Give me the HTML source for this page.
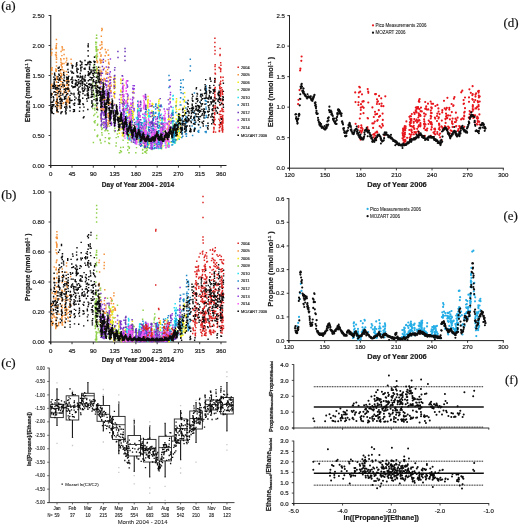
<!DOCTYPE html>
<html lang="en">
<head>
<meta charset="utf-8">
<title>Ethane and propane: measurements versus MOZART model</title>
<style>
html,body{margin:0;padding:0;background:#fff;}
body{width:520px;height:528px;overflow:hidden;}
svg{display:block;}
svg text{white-space:pre;}
</style>
</head>
<body>
<svg width="520" height="528" viewBox="0 0 520 528">
<rect width="520" height="528" fill="#ffffff"/>
<defs>
<filter id="soft" x="0" y="0" width="520" height="528" filterUnits="userSpaceOnUse"><feGaussianBlur stdDeviation="0.27"/></filter>
<filter id="softer" x="0" y="0" width="520" height="528" filterUnits="userSpaceOnUse"><feGaussianBlur stdDeviation="0.2"/></filter>
</defs>
<g filter="url(#soft)">
<line x1="50.75" y1="15.00" x2="50.75" y2="167.70" stroke="#222" stroke-width="1.1" />
<line x1="48.75" y1="165.50" x2="226.50" y2="165.50" stroke="#222" stroke-width="1.1" />
<line x1="48.55" y1="165.50" x2="50.75" y2="165.50" stroke="#222" stroke-width="0.9" />
<line x1="48.55" y1="135.50" x2="50.75" y2="135.50" stroke="#222" stroke-width="0.9" />
<line x1="48.55" y1="105.50" x2="50.75" y2="105.50" stroke="#222" stroke-width="0.9" />
<line x1="48.55" y1="75.50" x2="50.75" y2="75.50" stroke="#222" stroke-width="0.9" />
<line x1="48.55" y1="45.50" x2="50.75" y2="45.50" stroke="#222" stroke-width="0.9" />
<line x1="48.55" y1="15.50" x2="50.75" y2="15.50" stroke="#222" stroke-width="0.9" />
<line x1="50.75" y1="165.50" x2="50.75" y2="167.70" stroke="#222" stroke-width="0.9" />
<line x1="72.03" y1="165.50" x2="72.03" y2="167.70" stroke="#222" stroke-width="0.9" />
<line x1="93.31" y1="165.50" x2="93.31" y2="167.70" stroke="#222" stroke-width="0.9" />
<line x1="114.59" y1="165.50" x2="114.59" y2="167.70" stroke="#222" stroke-width="0.9" />
<line x1="135.88" y1="165.50" x2="135.88" y2="167.70" stroke="#222" stroke-width="0.9" />
<line x1="157.16" y1="165.50" x2="157.16" y2="167.70" stroke="#222" stroke-width="0.9" />
<line x1="178.44" y1="165.50" x2="178.44" y2="167.70" stroke="#222" stroke-width="0.9" />
<line x1="199.72" y1="165.50" x2="199.72" y2="167.70" stroke="#222" stroke-width="0.9" />
<line x1="221.00" y1="165.50" x2="221.00" y2="167.70" stroke="#222" stroke-width="0.9" />
<path d="M52.2 93.8h.01M61 60h.01M62.5 63.6h.01M57.9 90.2h.01M60.6 93.4h.01M60.7 75.8h.01M64.1 91.3h.01M51.7 68.9h.01M62 78.7h.01M51.4 85.4h.01M56 48.5h.01M56.4 79.1h.01M57.2 98h.01M63.3 84.5h.01M61.9 69.5h.01M61.1 77.7h.01M60.6 73.3h.01M67.2 101.8h.01M56.6 59.1h.01M66.9 102.4h.01M67.1 84.5h.01M68.2 82h.01M67.3 93.8h.01M56.5 65.9h.01M63.7 102.6h.01M64 71.3h.01M57.1 86.9h.01M68.2 91.3h.01M56 47.5h.01M63.6 73.6h.01M60.7 58.6h.01M68.3 91.6h.01M52 73.7h.01M62.4 49.9h.01M68.6 96.6h.01M56.9 77.4h.01M56.9 94.7h.01M51.6 53.2h.01M68.8 81h.01M67.4 85h.01M51.9 84.3h.01M59.9 85.1h.01M57.1 78.2h.01M68.2 101.1h.01M63.5 84.2h.01M60.2 70.3h.01M57.4 92.6h.01M57.1 97.5h.01M60.4 103.4h.01M68.5 89.2h.01M61.5 74h.01M66.6 102.2h.01M66.9 100.3h.01M56.5 81.7h.01M56.4 59.3h.01M61.1 84.3h.01M61.8 86.2h.01M66 62.1h.01M52 67.6h.01M61.2 64.7h.01M57.4 103.2h.01M63.8 92.9h.01M60.1 97h.01M56.3 71.3h.01M57 99.6h.01M56.6 69.6h.01M57.3 85.6h.01M66.7 64.1h.01M60.2 77.5h.01M51.5 88.1h.01M59.9 94.2h.01M60.3 108.5h.01M62.3 63.5h.01M63 103.5h.01M60.5 103.2h.01M57.6 79.3h.01M67.6 99.2h.01M56.4 55.2h.01M62.1 67.4h.01M66.5 88.9h.01M69.4 102h.01M56.9 85.1h.01M56.4 82.2h.01M55.8 103.3h.01M56 101.6h.01M55.5 79.5h.01M61.1 51.4h.01M68.5 89.2h.01M68.3 97.4h.01M66.7 79.7h.01M51.9 49.2h.01M67.9 87.9h.01M57.2 103.1h.01M62 64.1h.01M60.1 106.7h.01M60.4 70.8h.01M61.9 55.6h.01M68.1 87.3h.01M66.1 80.9h.01M57 95.6h.01M68.7 102.8h.01M62.4 48.1h.01M55.5 91.8h.01M67.2 99.9h.01M55.8 70.8h.01M61.9 81.8h.01M66.6 58.3h.01M66.6 85.2h.01M62.6 69.8h.01M66.6 93.5h.01M61.3 65.1h.01M61.2 107.8h.01M56.3 52.4h.01M57.1 103.8h.01M60.5 81.2h.01M60.7 98.1h.01M60.1 106h.01M51.5 69.4h.01M62.1 46.8h.01M61.3 65.7h.01M68.5 89.8h.01M51.5 55h.01M57 111.9h.01M60.8 76h.01M68.9 90.3h.01M68.4 84.5h.01M55.5 54.7h.01M51.8 52.5h.01M66.7 60.1h.01M66.3 101.4h.01M66.5 100.1h.01M62 66.8h.01M56.6 106.1h.01M57.5 103h.01M56.3 45.5h.01M56.3 47.3h.01M57.6 92.3h.01M57.2 100.7h.01M57.5 109h.01M56.7 76.5h.01M66 62.1h.01M56.9 90.3h.01M61.8 75.4h.01M62.1 78.8h.01M57.4 104.9h.01M68.2 79.9h.01M60.6 88.2h.01M51.8 70.2h.01M57.5 106.4h.01M55.7 68.9h.01M65.9 87.6h.01M63.2 87.2h.01M66.9 104.7h.01M56.2 56h.01M57.6 106.8h.01M61 62.2h.01M59.7 84.8h.01M60 105.4h.01M60.9 91.2h.01M67.9 99.7h.01M57.1 102.8h.01M60.2 96.9h.01M61.5 63.9h.01M66.9 74.6h.01M66.3 71.4h.01M60.1 85.4h.01M67 102.4h.01M57.8 86.2h.01M52 85.9h.01M57.3 101.3h.01" stroke="#f5923a" stroke-width="1.45" stroke-linecap="square" fill="none"/>
<path d="M109.1 93.6h.01M101.4 93.9h.01M106.1 51.9h.01M110.6 79.8h.01M101.1 79.8h.01M102.1 47.5h.01M105.2 55.7h.01M104.3 84.2h.01M103.1 99.8h.01M105.5 60.9h.01M105.4 123h.01M109.3 80.6h.01M100.8 100h.01M97.4 56.2h.01M111 77.2h.01M108.1 95.5h.01M100.6 114.9h.01M108.3 59.6h.01M101.1 109.8h.01M97 70.5h.01M109.4 99.2h.01M101.8 44.4h.01M97.1 107.5h.01M103.6 87.4h.01M108.2 86.2h.01M107.8 72.8h.01M100.9 56.3h.01M111 86.2h.01M101.3 117.6h.01M108.1 104.1h.01M102.1 60.6h.01M102.1 47.4h.01M105.9 71.3h.01M108.4 96.3h.01M101 81.1h.01M97.3 92.6h.01M99.9 67.5h.01M108.3 67h.01M110.8 90.7h.01M99.8 74h.01M105 99.4h.01M109.4 99.3h.01M114.4 104.1h.01M100.2 73.3h.01M108.7 62.2h.01M104.3 79.2h.01M100.6 49.3h.01M100.6 84h.01M103.5 122.3h.01M108.1 67.6h.01M101.5 92.9h.01M101.5 93.1h.01M96.9 69.8h.01M114.1 85h.01M110.9 92.4h.01M101.3 88.8h.01M114.6 97.7h.01M101.6 71.7h.01M105.3 49.4h.01M108.3 124.3h.01M101.9 42.4h.01M104.4 105.8h.01M110.1 76.8h.01M101.2 107.3h.01M101.6 41.8h.01M101.3 75.4h.01M110.7 82.8h.01M101.4 62.6h.01M103.4 81h.01M100.7 104.1h.01M103 109h.01M104.7 99.1h.01M108.1 99.8h.01M101.1 115h.01M103.6 122.4h.01M101.9 47.9h.01M108.6 55h.01M105.2 79.1h.01M108.3 55.2h.01M109.2 113.6h.01M101.3 73.7h.01M109.5 104.5h.01M114.3 93.2h.01M101.9 28.5h.01M108.2 104.5h.01M103 95.7h.01M111 91.5h.01M100.9 118.8h.01M108.2 120.2h.01M100.8 80.6h.01M104.3 109.9h.01M108.2 98.3h.01M109 93.1h.01M104.7 103.2h.01M106.2 85.6h.01M108.6 115.9h.01M105.4 111.5h.01M100.8 79.4h.01M114.2 92.9h.01M101.2 119.1h.01M100 60.4h.01M100.8 98.6h.01M104.1 109.1h.01M102.8 108.5h.01M114.3 79.2h.01M107.6 89.5h.01M103.4 87h.01M103.1 102.5h.01M101.7 30.6h.01M100.7 89.3h.01M97.5 91.6h.01M107.7 125.8h.01M107.6 126.3h.01M103 106.6h.01M104.6 114h.01M100.7 62.5h.01M111.2 85.1h.01M110.5 103h.01M101.8 96.4h.01M107.8 94.5h.01M100.9 98.2h.01M114.3 93.7h.01M100 71.1h.01M100.2 84.1h.01M100.5 63h.01M100.9 109.5h.01M106.1 73.3h.01M108 50.1h.01M104.3 68.3h.01M104.1 112.9h.01M97.7 73h.01M108.1 117.2h.01M97.9 49.7h.01M96.9 85.8h.01M105.1 98.4h.01M101.1 97.1h.01M104.1 113.5h.01M114.1 96.3h.01M108 122.9h.01M103.8 92.8h.01M109.6 121.3h.01M104.8 123.2h.01M109.4 87.9h.01M108.8 92.9h.01M107.8 102.5h.01M99.9 81h.01M108.5 77.7h.01M104.9 80h.01M114.2 86.8h.01M101.2 107.9h.01M101.2 80.5h.01M100.7 106.9h.01M104.9 110.6h.01M107.8 102.6h.01M100.8 61.2h.01M96.8 60.2h.01M106.3 52.8h.01M107.9 122.8h.01M109.7 86.6h.01M108.6 120.9h.01M101.3 94.7h.01M109.3 64.1h.01M109.8 89.1h.01M101.4 96.3h.01M105.9 74.1h.01M108.8 85.3h.01M101 70.1h.01M105.6 81h.01M109.5 116.1h.01M107.6 69.6h.01M103 110.3h.01M100.7 94.6h.01M100.7 73.1h.01M114.4 82.6h.01M108.3 77.4h.01M109.5 116.3h.01M114.7 79.5h.01M113.7 92.7h.01M100 59.1h.01M101.4 60.2h.01M97.5 61.5h.01M101.1 55h.01M101.4 82h.01M114.2 87.2h.01M102.2 29.4h.01M101.1 78.5h.01M100.8 99.8h.01M114.9 82.7h.01M101.5 101.5h.01M97 62.1h.01M109.7 102.2h.01M100.7 93h.01M106.3 73h.01M103.3 93.9h.01M108 115.2h.01M114.2 88.6h.01M100.9 79.9h.01M107.9 113.6h.01M103.5 107.1h.01M108.2 81.7h.01M99.9 52.7h.01M101.3 36.2h.01M104.1 78.4h.01M97.2 68.5h.01M114.3 78.1h.01M108.6 63.4h.01M97.5 62.4h.01M100.1 45.3h.01M104.2 107.2h.01M101 72.9h.01" stroke="#f5923a" stroke-width="1.45" stroke-linecap="square" fill="none"/>
<path d="M96.9 80.5h.01M96.6 112.4h.01M96.2 71.5h.01M94.9 114.1h.01M96.3 72.4h.01M96.6 76.2h.01M93.8 93.3h.01M97.8 116.4h.01M95.2 120.7h.01M97.4 125.3h.01M96.3 66.7h.01M96.4 84.5h.01M96.8 69.4h.01M96 49.1h.01M95.9 46.9h.01M97.2 96.4h.01M94.7 129.9h.01M94.1 74.1h.01M94.3 69.3h.01M96.5 48.1h.01M93.7 65.1h.01M94.6 95h.01M94.9 122.8h.01M95.7 42.3h.01M97.4 136.6h.01M94.1 88.1h.01M96.5 69h.01M93.1 86h.01M92.7 108.5h.01M97.1 135.9h.01M92.9 80.3h.01M95.2 99.3h.01M95.9 44.1h.01M96.8 57.2h.01M92.8 83.1h.01M94.8 108.3h.01M94.8 110h.01M94.4 97h.01M95 105.5h.01M97.3 77.5h.01M97.6 117h.01M96.9 94.3h.01M97.7 135.3h.01M93 103.8h.01M93.8 115.4h.01M97.2 87.4h.01M96.2 57.3h.01M94.2 121.7h.01M95.4 104.4h.01M96.2 50.9h.01M97.7 124.2h.01M93.3 91.1h.01M92.9 85.5h.01M95.7 55.9h.01M96.4 38.3h.01M97 90.1h.01M97.1 50.1h.01M96.4 49.4h.01M97 54h.01M96.2 46.4h.01" stroke="#8fd14a" stroke-width="1.45" stroke-linecap="square" fill="none"/>
<path d="M105 141.4h.01M115 121.6h.01M107.4 130.5h.01M101.7 129.4h.01M107.8 130.8h.01M105.8 129.7h.01M108.8 133.6h.01M114.8 128.2h.01M109.2 139.1h.01M109.5 143.6h.01M102.1 134.9h.01M107.2 125.3h.01M102.2 124.6h.01M105 130.7h.01M102.2 128.5h.01M108.8 142.9h.01M108.7 138.3h.01M101 142.9h.01M109.9 137.9h.01M101.4 127.1h.01M100.3 140.5h.01M105.4 137.6h.01M101.8 132.7h.01M93.4 142.5h.01M100.1 139.4h.01M109.6 126.1h.01" stroke="#8fd14a" stroke-width="1.45" stroke-linecap="square" fill="none"/>
<path d="M117.8 130.8h.01M114.4 130.5h.01M119.8 152.7h.01M148.9 142h.01M120.7 147.4h.01M146.4 150.7h.01M123.3 147.3h.01M119.6 152.6h.01M132 132h.01M144.5 137.4h.01M152.1 149.4h.01M149.2 143.6h.01M130.9 138h.01M133.9 129.6h.01M155.2 144.6h.01M123 135.1h.01M151.6 148.3h.01M161.5 148.7h.01M127.7 135.4h.01M146.5 153.1h.01M121.2 151.6h.01M127.7 149.9h.01M123.3 133.7h.01M136.9 142.2h.01M147.2 133.2h.01M131 137h.01M161.4 139.6h.01M130.9 134.1h.01M114.8 131.4h.01M131.1 136.6h.01M128.9 152.8h.01M132.1 134.7h.01M143.6 137.1h.01M142.6 150h.01M119.5 152.8h.01M131 137h.01M116.2 137.6h.01M130.7 131.9h.01M145.3 152.3h.01M142.7 153.3h.01M127.5 133.5h.01M152.2 136.8h.01M154.5 139.4h.01M149 142.3h.01M144.9 151.7h.01M150.3 139h.01M145 148.5h.01M128.2 146.4h.01M147.6 138.3h.01M129.1 152.6h.01M127.4 129.5h.01M132.2 132.1h.01M146.7 148.5h.01M146.9 143.3h.01M144.6 140.6h.01M123.5 134.4h.01M123.8 136.6h.01M144.8 145.8h.01M144.3 129.8h.01M161.7 143.9h.01M150.4 141.1h.01M129.3 148.3h.01M161.7 147.8h.01M116 145.9h.01M118.2 136.7h.01M131.4 142.1h.01M132.2 131.3h.01M121.1 151.5h.01M154.8 138.2h.01M136.5 147.6h.01M142.6 153.1h.01M117.4 133.9h.01M152 145.2h.01M158.2 139.5h.01M155.5 138.7h.01M142.8 149.5h.01M121.4 151.7h.01M152.3 137.5h.01M131.2 137.1h.01M129.4 147.3h.01M115.2 130.6h.01M135.8 152.7h.01M116.3 143h.01M127.8 142.8h.01M143.8 138.9h.01M123.1 140.3h.01M154.8 143.7h.01M120.4 150.6h.01M147.3 150.1h.01M130.9 131.3h.01" stroke="#8fd14a" stroke-width="1.45" stroke-linecap="square" fill="none"/>
<path d="M127.3 101.9h.01M114.6 92.4h.01M146.3 127.9h.01M171 130h.01M147.9 114.5h.01M127.3 112.6h.01M147.9 145.5h.01M120.7 79.2h.01M133.4 114.1h.01M148.3 139.1h.01M155 141.5h.01M128.9 110.3h.01M175 140.6h.01M184.8 119.8h.01M128.6 129.3h.01M124 85.3h.01M128.9 135.4h.01M133 103.3h.01M147 139.5h.01M129.1 132.6h.01M184.1 108h.01M167.4 144.8h.01M132.4 125.7h.01M144 126.9h.01M145.8 121.6h.01M133.4 91.7h.01M120.7 83.3h.01M159.9 145.1h.01M169.2 124.5h.01M169.1 119.7h.01M121.1 97.5h.01M184.3 101.1h.01M146.4 127h.01M137.8 124.7h.01M159.1 99.6h.01M133 118h.01M152.5 111.8h.01M178.3 120.9h.01M159.4 137.6h.01M173 125.2h.01M128.8 139.1h.01M172.6 111.2h.01M177.6 135.1h.01M120.8 100.1h.01M146.6 138.5h.01M144.1 145.9h.01M166.8 141.6h.01M114.3 80.5h.01M139.9 138.2h.01M178.8 135.9h.01M147.2 147.5h.01M162.9 146h.01M127.1 112.2h.01M158.1 121.9h.01M177.4 121.4h.01M163.1 126.5h.01M154.4 115.6h.01M145.8 114.3h.01M139.9 144.9h.01M152.2 116.4h.01M167.5 128.9h.01M122.7 134.6h.01M173.1 130.6h.01M176.5 98.8h.01M147.1 133.1h.01M176.1 102h.01M138.7 133.2h.01M127.4 103.5h.01M120.9 91.8h.01M148 116.6h.01M133.2 103.9h.01M154.8 147.8h.01M146 108.3h.01M178.3 122.3h.01M166.4 138.5h.01M122.1 129.1h.01M147.7 106.6h.01M114.6 87.2h.01M147.2 137.4h.01M151.9 111h.01M179.4 115.7h.01M143.9 140h.01M159.8 139.3h.01M166.8 142.4h.01M129.2 134h.01M159.9 124.8h.01M137.7 121.8h.01M177.3 131.5h.01M115.3 87.5h.01M167.5 138.1h.01M171.5 131.3h.01M167.4 140h.01M148.7 132.1h.01M128.8 140.1h.01M152.9 104.2h.01M173 126h.01M133 114.2h.01M139.4 141.9h.01M173.1 133.2h.01M144 143.5h.01M178.6 136.1h.01M132.5 111.3h.01M114.6 87.2h.01M133 112.3h.01M171.4 131.6h.01M166.9 129.2h.01M123.7 102.4h.01M174.8 141.6h.01M178.9 128.6h.01M158.6 110.8h.01M168.1 143.8h.01M114.4 96h.01M132.2 116.2h.01M184.5 100.2h.01M168 119.6h.01M122.1 133h.01M163.5 131.1h.01M152.2 103.5h.01M177 131.7h.01M144.2 134h.01M119.9 130h.01M122.9 126.7h.01M139.2 140.5h.01M152.3 115.1h.01M127.8 97h.01M133.1 117.8h.01M132 124.4h.01M146.1 123.3h.01M129 136.3h.01M138.7 139.7h.01M175.8 107.4h.01M179.6 130.9h.01M179.8 121h.01M175.1 135.1h.01M180.2 101.9h.01M114.7 77.4h.01M138.8 132.7h.01M184.6 92.8h.01M170.9 120.8h.01M154.7 124.5h.01M147.7 101.1h.01M178 130.1h.01M115 82h.01M120.8 79.3h.01M122.3 121.1h.01M176.4 105.3h.01M166.2 137.5h.01M133.1 133.7h.01M114.6 91.7h.01M178.9 128.7h.01M127.4 108.7h.01M128.8 131.4h.01M179.7 133.7h.01M158.2 106h.01M159.9 117.5h.01M175 140.6h.01M168 127.8h.01M128.9 114.9h.01M184.9 113.7h.01M163.3 127.4h.01M139.4 137.8h.01M131.6 114.1h.01M137.7 110.2h.01M148.5 145.2h.01M179 139h.01M123.4 103h.01M128.8 136h.01M179.9 119.9h.01M177.2 131.4h.01M166.5 139.4h.01M130.8 120.8h.01M177.3 129.7h.01M152.2 106.5h.01M171.1 142.3h.01M180.2 125.9h.01M176.6 111.6h.01M128.4 137.5h.01M148.8 144.1h.01M167.7 133.3h.01M133.3 116.1h.01M147 136.9h.01M160.1 145.6h.01M129.7 109.7h.01M122.4 135.7h.01M128.7 121.5h.01M167.5 136.9h.01M175.9 105.6h.01M180.1 119.9h.01M122.1 119.1h.01M167.2 136.5h.01M169.1 116.1h.01M162.9 132.4h.01M129 123.7h.01M129.8 114.9h.01M179.9 109.3h.01M115.3 85h.01M180.2 137.2h.01M158.8 101.2h.01M130.4 124.9h.01M184.8 113.4h.01M122.6 125.7h.01M172.8 136.1h.01M175.1 124.3h.01M147.9 104h.01M168.5 129.5h.01M128.7 133h.01M138.9 138.4h.01M159.8 109.7h.01M146.8 145.6h.01M143.5 139h.01M122.4 123.3h.01M131 128.9h.01M170.4 131.5h.01M146.4 141.1h.01M148.5 135.9h.01M159.5 111.5h.01M167.4 145.9h.01M121.5 122.9h.01M177.6 134h.01M131 105.4h.01M133.5 111.8h.01M169.3 124.6h.01M121.1 94.9h.01M122 128.8h.01M146.1 126.4h.01M179.4 114.1h.01M145.8 125.7h.01M176.8 122h.01M162.9 120h.01M184.5 106.2h.01M160 128.5h.01M146.9 135.3h.01M132.5 131.2h.01M171.3 138.4h.01M178.2 138.2h.01M138 122.5h.01M122.1 132.9h.01M137.8 108.6h.01M180.1 123.2h.01M176.3 102.8h.01M180 115h.01M130.4 135.3h.01M175.4 139.5h.01M130.5 134.1h.01M148.2 99.4h.01M143.8 133h.01M127.4 109.2h.01M120.7 117.6h.01M163.4 134.3h.01M167.2 145.5h.01M129.6 125.2h.01M132.5 118.7h.01M133.2 106.9h.01M147.9 100.5h.01M144.1 130.8h.01M172.9 133.8h.01M128 99h.01M138.3 120.6h.01M128.4 139.9h.01M169.1 122.3h.01M130.1 122.5h.01M147.9 113.5h.01M147.8 111.2h.01M173.3 117.5h.01M130.4 112.8h.01M133.2 117.8h.01M177.1 115.3h.01M172.4 129.6h.01M122.8 120.4h.01M143.6 129.5h.01M147.8 105.6h.01M120.8 90.1h.01M121.2 102.9h.01M177.2 139.4h.01M171.2 118.7h.01M159.3 148.3h.01M172.9 131.6h.01M179.3 132.2h.01M119.7 124h.01M169.4 117h.01M133.1 93.1h.01M122.8 124.7h.01M122.7 108.5h.01M146.7 137.4h.01M159.8 138.7h.01M163.1 140.7h.01M173.2 132h.01M158.8 103.3h.01M158.1 108.2h.01M184.9 114.8h.01M147.4 135.1h.01M175.4 142.8h.01M127.7 116.6h.01M148 135.9h.01M119.3 133.2h.01M159 122.8h.01M132.2 127.3h.01M119.2 116.7h.01M121.1 95h.01M129.7 113.9h.01M168.8 118.6h.01M174.5 136.2h.01M128.6 138.6h.01M177.3 131.9h.01M159.8 144.6h.01M172.9 123.1h.01M147.9 115.1h.01M138.2 127.9h.01M167.8 110h.01M177.2 119.6h.01M172.7 126.4h.01M132.9 120.8h.01M143.8 133.4h.01M169.3 122.4h.01M143.9 129.8h.01M176.8 139.8h.01M158.4 110.2h.01M163.8 136.4h.01M167.4 146.5h.01M154.2 135.6h.01M121.1 80.7h.01M129.9 119.5h.01M167.8 137.4h.01M176.2 118.9h.01M177.5 129.6h.01M147.6 106.4h.01M131.9 115.2h.01M166.8 136.1h.01M139.4 139.7h.01M130.8 139h.01M148 108h.01M168.4 114.2h.01M148.6 122.3h.01M152.3 104.7h.01M184.8 110.8h.01M131.8 110.7h.01M129.3 123.3h.01M146.1 133.7h.01M138.6 113h.01M120.9 102.2h.01M184.6 96.9h.01M119.5 128.2h.01M178.5 117.8h.01M133.5 97.5h.01M179 109.6h.01M144.2 145.3h.01M175.7 133h.01M148 96.5h.01M121 91.5h.01M160.2 120.2h.01M155.2 135.5h.01M184.2 101.7h.01M123.4 101.8h.01M163.1 123.7h.01M148.1 102.7h.01M145.9 117.4h.01M160 142.9h.01M127.4 100h.01M122.6 119.3h.01M147.8 102h.01M168.2 126.5h.01M158.5 107.3h.01M167.6 123.8h.01M129.4 120.4h.01M128 110.5h.01M133.1 92.3h.01M154.3 129.9h.01M121.3 99.4h.01M120.8 120.2h.01M130.7 121.5h.01M148.3 147.6h.01M132.2 124.8h.01M129.8 111.1h.01M176.4 109.4h.01M158.5 105.1h.01M169.9 99.5h.01M166.4 138.3h.01M176.5 100.9h.01M177.4 136.2h.01M143.7 142.1h.01" stroke="#f2ea12" stroke-width="1.45" stroke-linecap="square" fill="none"/>
<path d="M145.7 107.7h.01M160.4 136.3h.01M145.2 118.9h.01M152.9 148.7h.01M164.5 140.7h.01M159.4 106.2h.01M149.2 123.7h.01M160.5 144.9h.01M174.7 139.2h.01M168 146h.01M127.8 110.3h.01M158 146.1h.01M174.8 135.9h.01M127.5 125.4h.01M175 139.1h.01M172.8 144.4h.01M172.2 136.3h.01M153.2 134.9h.01M172.9 111h.01M127.8 133.3h.01M159.4 105.8h.01M136.7 118.8h.01M148.2 133.5h.01M157.5 145.1h.01M127.5 120.1h.01M148.5 132.6h.01M156.2 133.3h.01M178.3 124.6h.01M156 142.9h.01M164.5 138.5h.01M140.6 125.5h.01M175.1 127.6h.01M165.1 145.4h.01M138.4 129.8h.01M164.9 122.7h.01M126.5 115.8h.01M152.8 145.2h.01M127.3 124.3h.01M153.2 135.2h.01M178.7 125.1h.01M140.8 138.9h.01M157.9 132.6h.01M130 129.4h.01M178.2 121.7h.01M138.6 128.9h.01M127.8 132.6h.01M162.3 122h.01M145.7 111.6h.01M158.2 128.2h.01M152.9 145.6h.01M174.6 134.6h.01M152.6 132.1h.01M147.6 132.9h.01M156 137.2h.01M127.7 117.6h.01M152.4 126.3h.01M172.2 122h.01M148 134h.01M125.9 106.8h.01M178.3 120.3h.01M153 135.2h.01M173 115.1h.01M153 142.3h.01M135 137.7h.01M173 133.8h.01M145.2 114.9h.01M158.4 139.1h.01M158.4 139.1h.01M174.8 142.7h.01M168.7 143h.01M127.5 132.2h.01M172.9 110.1h.01M174.8 143.1h.01M172.8 134.4h.01M152.8 148h.01M130 138.9h.01M175.1 135.1h.01M149.5 116.3h.01M175 131.5h.01M153.3 142.7h.01M140.4 140h.01M152.6 132.5h.01M168.6 146.3h.01M173 99.5h.01M145.2 118.1h.01M159.4 118.8h.01M152.8 144.9h.01M127.1 124h.01M175 140.8h.01M179.2 117.3h.01M140.6 123.9h.01M135 142.7h.01M168.4 146.6h.01M149 130.9h.01M129.8 127h.01M156.2 143.3h.01M179.2 139.2h.01M172.3 137.4h.01M127.8 120.1h.01M158 146.5h.01M138.5 125.9h.01M139.6 123.5h.01M160.3 133.6h.01M160.2 148h.01M158.5 114.3h.01M173.2 99.6h.01M129.8 133h.01M173.4 136.1h.01M127.3 125.4h.01M158.5 141.4h.01M126 113.4h.01M129.9 123.2h.01M148 137.9h.01M175.1 135.8h.01M178.6 114.6h.01M159.1 105.1h.01M139.2 127.7h.01M127.2 131.4h.01M137.9 133h.01M172.8 96.1h.01M148.6 112.8h.01M134.8 135.2h.01M159.8 144.6h.01M130 140.3h.01M140.8 135.1h.01M172.5 121h.01M149.4 122.1h.01M138.4 122.3h.01M175.2 133.5h.01M162.1 119.5h.01M145.2 127h.01M157.9 144.5h.01M144 119h.01M172.8 120.5h.01M136.8 131.2h.01M174.4 141.7h.01M168.8 144.1h.01M178.3 118.7h.01M127.1 124.7h.01M144.8 119.3h.01M127.9 131.3h.01M138.6 127.6h.01M161.8 119.9h.01M172.9 111.6h.01M144.6 125.6h.01M146.8 142h.01M174.8 129.3h.01M149.7 115.5h.01M130 123h.01M145.3 121h.01M172.9 124h.01M129.8 136h.01M159 116h.01M156.5 131.3h.01M161.8 118.8h.01M148.4 126.7h.01M140.5 130.8h.01M156.3 140.5h.01M160.1 140.1h.01M139 122.5h.01M136.7 124.7h.01M158.9 109.2h.01M178 120.5h.01M158.5 145h.01M158.6 138.8h.01M148.1 133h.01M144.8 126.3h.01M136.1 122.4h.01M148.6 144.8h.01M136.2 130.9h.01M130 116.4h.01M147.5 142h.01M137.9 129.6h.01M156.2 140.6h.01M158.4 125.2h.01M145.2 121.2h.01M127.9 126.1h.01M172.9 138.8h.01M172.6 142.3h.01M148.7 115.8h.01M139.1 116.4h.01M144.4 120.8h.01M127.7 138.7h.01M158.7 131.2h.01M168.6 142.9h.01M128 129.6h.01M158.5 145h.01M158.5 141.9h.01M145.1 116.7h.01M138.5 125.5h.01M137.1 131.4h.01M155.9 147.8h.01M168.4 145h.01M147.7 144.5h.01M139.3 117.1h.01M147.2 146.9h.01M136.1 129.1h.01M178.8 123.3h.01M127.7 138.5h.01M144.7 121.4h.01M172.7 128.1h.01M147.7 134h.01M137.3 139.3h.01M147.5 142.1h.01M148.9 127.2h.01M161.7 124h.01M136.7 123.5h.01M175.1 142.9h.01M158.1 132.8h.01M148.7 136.7h.01M129.9 112.3h.01M174.5 131.7h.01M130 125.4h.01M125.9 122.7h.01M172.7 129.9h.01M145.4 113.1h.01M161.6 122.4h.01M168.7 147.3h.01M161.6 118.7h.01M172.6 140.5h.01M127.5 129.6h.01M172.7 139.4h.01M148.9 113.7h.01M172.5 144.6h.01M126.3 109.4h.01M144.3 121.9h.01M152.2 128.7h.01M148.7 109.6h.01M139.3 110.6h.01M130.2 129.7h.01M130.2 128.9h.01M161.9 139.6h.01M153.3 139.8h.01M175 140.5h.01M138.6 122.7h.01M168.3 147.1h.01M152.6 145h.01M158.8 115.8h.01M137.7 117.2h.01M137.6 112h.01M138.6 127.6h.01M140.5 141.8h.01M172.9 110.9h.01M178.7 131.2h.01M168.6 130.6h.01M149.2 116.4h.01M126.2 119.5h.01M126.1 106h.01M137.7 110h.01M173.2 114.8h.01M152.6 125h.01M158.8 114.1h.01M130.6 115.6h.01M144.1 119.8h.01M127.4 137.5h.01M139.4 113.4h.01M127.1 123.8h.01M161.7 106.7h.01M158.9 122.3h.01M139.6 112.1h.01M137.8 123.4h.01M158.5 147.9h.01M140.6 137.6h.01M165.1 141.2h.01M145.3 121.9h.01M137.5 139.4h.01M172.7 138.2h.01M139.6 117h.01M156.3 124h.01M158.2 125.6h.01M135.9 132.7h.01M127.8 126.4h.01M140 125.3h.01M173.1 126.2h.01M127.4 135.4h.01M172.5 111h.01M126.4 108.8h.01M172.4 130.5h.01M156.4 140.9h.01M149 110.7h.01M160.4 135.4h.01M147.8 137.4h.01M125.8 119.3h.01M158.4 147.2h.01M127.1 123.7h.01M164.4 128.8h.01M159.9 144.3h.01M137.5 129.5h.01M158.6 138.4h.01M138.2 129.8h.01M147.7 132.9h.01M148.9 129.8h.01M158.6 127.9h.01M145.5 108.7h.01M127.9 130.2h.01M152.3 129.8h.01M161.8 127.3h.01M158.5 138.3h.01M136.7 124.9h.01M140.1 106.3h.01M173.3 95.4h.01M172.8 122.3h.01M145.8 118.1h.01M174.4 137.1h.01M161.4 114.1h.01M149 116.6h.01M148.9 117.1h.01M144.5 124.2h.01M164.8 128.3h.01M165.3 142.9h.01M153.3 141.7h.01M172.9 132.3h.01M136.3 121.8h.01M156.4 147.1h.01M175 132.2h.01M158.7 122.8h.01M156.3 143.3h.01M139.5 108.7h.01M158.4 146h.01M169 145.4h.01M156.5 143.5h.01M172.5 138.9h.01M144.3 115.2h.01M156 137.7h.01M168.7 141h.01M152.4 131.1h.01M148.6 136.4h.01M134.8 139.4h.01M159.2 112.2h.01M127.4 135.4h.01M161.3 105.3h.01M139.1 134.1h.01M173 98.6h.01M158.7 139.5h.01M168.7 134.6h.01M144.5 128.7h.01M162.2 117.2h.01M158.5 136.9h.01M158.8 131.2h.01M136 121.5h.01M152.9 136.9h.01M126.3 120.8h.01M158.4 145.6h.01M160.1 137.3h.01M137.7 128.2h.01M135.1 138h.01M157.9 132.2h.01M148.3 140.2h.01M136.3 117.4h.01M126.7 105.3h.01M174.7 132h.01M160.2 146.7h.01M174.7 141.5h.01M137.8 125.6h.01M158.6 148.6h.01M158.2 143.9h.01M168.6 142.7h.01M126.9 122.7h.01M139.4 114.3h.01M168.8 145.5h.01M157.8 122.1h.01M160.4 137.5h.01M157.8 145.6h.01M147.8 135.4h.01M144.9 120.5h.01M174.7 131.3h.01M136.5 131.5h.01M152.9 146.4h.01M158.3 147h.01M152.9 130.5h.01M173 107.4h.01M159.8 142.8h.01M158.6 117.1h.01M158.9 142.3h.01M148.5 120.1h.01M168.5 136.8h.01M128.4 130.7h.01M126.5 118.2h.01M139.1 114.4h.01M126.3 110.4h.01" stroke="#22dff0" stroke-width="1.45" stroke-linecap="square" fill="none"/>
<path d="M155.8 104.4h.01M152.3 134.7h.01M145.6 112.2h.01M174 128.5h.01M176 125.5h.01M145.7 142.5h.01M139.1 121.4h.01M180.6 97.7h.01M147.5 147.3h.01M141.9 145.4h.01M144.9 134.6h.01M172.7 118.2h.01M140.5 144.5h.01M153.6 118.2h.01M140.7 131.2h.01M141.6 124.5h.01M160.9 136.6h.01M153.7 117.1h.01M147.4 146.8h.01M152.6 132h.01M147 145.3h.01M147 132.2h.01M172.2 134.7h.01M131.9 120.9h.01M186.4 130.1h.01M186.3 133.5h.01M185.9 119.8h.01M185.9 131.3h.01M145.2 146.4h.01M145.5 123.8h.01M186 116.4h.01M153 137.2h.01M144.4 124.1h.01M139.8 128.1h.01M172.4 130.7h.01M144.2 125.2h.01M140.4 141.6h.01M139.4 144.4h.01M147.4 143.7h.01M153.3 118.5h.01M145.9 125.9h.01M154.8 147.7h.01M140.9 145.1h.01M140.6 128.4h.01M140.6 122.4h.01M153.3 120.1h.01M140.7 138.7h.01M172.8 115.2h.01M173.5 125.7h.01M144.5 136.2h.01M181.1 92.7h.01M137.8 101.2h.01M172.8 127.5h.01M154.6 140.3h.01M137.9 129h.01M140.4 144.3h.01M174 141.5h.01M149.2 131.1h.01M158.6 133h.01M162.9 132.3h.01M192.7 108.1h.01M144.1 143.2h.01M144.4 147.2h.01M145.2 139h.01M172.7 141.1h.01M139 127.5h.01M144.8 140.5h.01M144.4 146.4h.01M154.7 130.9h.01M151.9 131.9h.01M144.2 128.1h.01M138 135.1h.01M173.9 139.1h.01M154.9 148h.01M160.5 140.2h.01M145.3 143.5h.01M162.9 118.4h.01M173.4 128.8h.01M158.7 142.3h.01M174.4 134.4h.01M173.9 121.1h.01M144.7 144.2h.01M147 145.1h.01M185.6 134.1h.01M153.8 113h.01M149.4 133.5h.01M146.2 125.7h.01M182.3 128.8h.01M138.5 123.5h.01M152.8 130h.01M144.2 126.4h.01M147.2 139.8h.01M138.3 117.9h.01M153.4 129.2h.01M173.1 120.9h.01M144.7 141.8h.01M153.2 120.3h.01M182.5 128.7h.01M140.7 146.3h.01M139.5 126.6h.01M132.1 121.4h.01M172.8 128.2h.01M144.5 117.8h.01M141 139.4h.01M172.7 130.6h.01M138.1 105.2h.01M137.8 119.4h.01M139.3 141.9h.01M138.9 122h.01M147.2 144.1h.01M138 124.6h.01M148.6 128.1h.01M172.1 136.8h.01M152.4 140.6h.01M176.3 128.7h.01M149.2 133.9h.01M147.3 141.4h.01M145.1 146.9h.01M144.8 143.6h.01M160.3 136.9h.01M148.9 133.2h.01M132.1 122.6h.01M149.4 133.7h.01M153.8 136.7h.01M161 148.2h.01M132 129.2h.01M180.7 80.3h.01M180.6 86.6h.01M148.8 137h.01M159.4 125.5h.01M158.5 144.7h.01M158.5 127.7h.01M172.7 132.2h.01M180.7 87.3h.01M158.5 130.8h.01M154.2 145.6h.01M140.2 138.3h.01M140.3 140.8h.01M137.8 117.1h.01M153.3 111.7h.01M138.1 101.4h.01M185.9 125.7h.01M145.9 126.5h.01M152.6 138.6h.01M144.2 137.7h.01M141.7 141.7h.01M155.3 116.7h.01M138.4 114.2h.01M144.8 146.5h.01M185.8 108h.01M138.2 121.4h.01M152.5 135.9h.01M138.2 132.4h.01M186.4 136.2h.01M173.8 141.9h.01M132.1 124.6h.01M138.2 112.5h.01M152.3 130.2h.01M149.3 131.3h.01M161 142.2h.01M176.4 123.7h.01M192.1 126.1h.01M144.9 144.5h.01M138 106.8h.01M138.1 119.9h.01M172.9 131h.01M153.7 130.2h.01M172.7 114h.01M131.9 115.6h.01M140.7 142h.01M145 147.3h.01M138 115h.01M181.1 83.2h.01M153.8 124.1h.01M140.5 138.8h.01M144.2 131.9h.01M159.1 113.8h.01M140.4 137.6h.01M140.9 134.6h.01M159.6 135.8h.01M140.6 136.1h.01M154.6 139.1h.01M186.4 130.9h.01M185.8 121h.01M186.1 128.4h.01M145.8 131.9h.01M140.4 141h.01M173.9 142.6h.01M172.4 133.3h.01M147.4 142.1h.01M148.6 129.7h.01M182.2 121.9h.01M173.8 137h.01M158.5 144.4h.01M137.9 111.2h.01M192.4 119.7h.01M186.6 122.5h.01M153.8 114h.01M144.5 140.2h.01M172.6 118.2h.01M132.3 129h.01M141.6 139.1h.01M139.5 134.7h.01M149.9 127.3h.01M141.5 135.9h.01M173.9 141.6h.01M140.9 140.4h.01M141.5 138.5h.01M140.1 134.8h.01M145.6 124.2h.01M173 140.2h.01M139 138.5h.01M141.6 134.5h.01M154.5 140h.01M180.3 105h.01M149.3 134.1h.01M171.6 141.6h.01M175.9 139.6h.01M141 140.3h.01M143.9 124.1h.01M180.9 104.9h.01M186.5 134h.01M138.9 126h.01M182.4 132.6h.01M182.1 133.9h.01M186.1 118h.01M140.9 141.8h.01M144.4 122.7h.01M159.8 126.6h.01M172.9 134.1h.01M138.6 129.4h.01M153.7 128.5h.01M175.8 140.5h.01M144.4 136.2h.01M144.8 138.2h.01M185.7 125.9h.01M156 104h.01M155.6 109h.01M173.8 133.1h.01M182.1 124.2h.01M176.1 122.5h.01M141.8 122.8h.01M180.6 97.9h.01M172.8 130.5h.01M173.1 134.2h.01M152.9 120.7h.01M141.4 124.5h.01M181.8 137.4h.01M140.3 135.9h.01M149.2 135.3h.01M144.8 144.4h.01M138.9 129.8h.01M139.2 116h.01M172 144.9h.01M186.6 113h.01M186.3 128.3h.01M147.8 143.9h.01M182.1 130.4h.01M138.1 119.9h.01M185.7 122.6h.01M182.5 120h.01M158.6 147.5h.01M185.7 119.5h.01M159.1 136.1h.01M175.8 112.5h.01M153.1 125.4h.01M172.1 113.4h.01M138.9 127.5h.01M160.4 128.1h.01M145.7 126.7h.01M147.4 143.1h.01M185.8 125.9h.01M153.3 114.1h.01M131.9 113.5h.01M158.3 146h.01M145.5 128.3h.01M152.8 125.7h.01M158.6 145.4h.01M155.8 112.5h.01M185.9 102.2h.01M141 131h.01M172.8 135.2h.01M153.4 118.8h.01M182.3 118.3h.01M142 125.6h.01M153.3 125.5h.01M154.8 142h.01M141.7 136.4h.01M172.6 133.4h.01M140.8 138.2h.01M181.9 127.7h.01M140.3 128.1h.01M162.6 128.3h.01M149.5 148h.01M141.3 145.2h.01M149.2 131.2h.01M158.5 132.5h.01M132.1 127h.01M182.7 136.3h.01M173 112.7h.01M192.6 135.5h.01M140.1 135.6h.01M144.8 146.2h.01M145.5 134.7h.01M140.5 133.6h.01M171.9 138h.01M152.7 137.5h.01M138.2 113.6h.01M173.3 135.1h.01M132.3 122.4h.01M142.1 131.3h.01M159.3 136.6h.01M176 105.9h.01M140.4 141.8h.01M174.2 135.9h.01M186 131.2h.01M154.4 148.6h.01M155.7 106.3h.01M148.9 127.2h.01M186 122.9h.01M149.8 135.1h.01M172.8 120.9h.01M132.1 138.8h.01M155.7 113.2h.01M173 130.5h.01M139.2 136.7h.01M192.1 126h.01M140.3 144.7h.01M138.2 133.8h.01M153.8 107h.01M182.8 122.2h.01M144.4 122h.01M175.9 126.4h.01M138.9 124.7h.01M180.7 86.9h.01M186.5 120.3h.01M145.8 111.7h.01M182.4 130.8h.01M154.4 141.8h.01M163.4 125.6h.01M163.2 139h.01M159.4 144.1h.01M163.1 124.9h.01M153 128.2h.01M176 132.5h.01M142.2 123.1h.01M149.8 122.6h.01M160.8 140.6h.01M192.6 111.2h.01M137.8 104.7h.01M180.5 89.7h.01M131.8 133.8h.01M144.6 130.8h.01M176.2 128.4h.01M153.5 130.2h.01M174.1 132.9h.01M145.9 130.3h.01M157.5 126.9h.01M140.6 128.3h.01M171.8 113.2h.01" stroke="#1f88c8" stroke-width="1.45" stroke-linecap="square" fill="none"/>
<path d="M206.1 132.5h.01M194.5 113.3h.01M194.7 116.7h.01M206 90.7h.01M194.9 116.2h.01M197.9 131.5h.01M200.2 102.2h.01M194.4 93h.01M205.3 100.7h.01M200.8 95h.01M198.1 131.3h.01M206.2 109h.01M205.2 131.7h.01M206.1 85.9h.01M205 98.7h.01M198.7 132.3h.01M205.4 112.3h.01M206.1 125.7h.01M206.2 131.5h.01M194.8 127.8h.01M204.9 118h.01M194.5 122.2h.01M206.1 115.4h.01M206.1 88.3h.01M206.1 103.8h.01M195 122.8h.01M206.3 89.5h.01M206.4 101.2h.01M200.4 127.4h.01M198.7 117h.01M194.6 118.7h.01M198.3 124.5h.01M205.9 92.5h.01M198.9 111.2h.01M198.8 130.5h.01M194.6 128.4h.01M205.8 93.2h.01M200.8 94.5h.01M206 107.1h.01M206.5 117.3h.01" stroke="#1f88c8" stroke-width="1.45" stroke-linecap="square" fill="none"/>
<path d="M103.2 62.3h.01M134.1 119.4h.01M153.2 125.6h.01M140.8 102.8h.01M145.3 96.9h.01M103.7 125.1h.01M140.9 134h.01M110.7 117h.01M105.6 108.2h.01M151.1 132.6h.01M133.8 132.3h.01M101.4 121.2h.01M151.4 139.8h.01M140.2 140.6h.01M140.3 137.4h.01M101.6 124.5h.01M151.5 141.5h.01M152.3 147h.01M150.3 140.5h.01M151.1 142h.01M104.1 102.6h.01M151.8 145.2h.01M140.7 104.7h.01M123.1 95.3h.01M134.1 134.7h.01M105.2 83.4h.01M114.9 67.6h.01M134.6 122.7h.01M146.3 109.7h.01M103.5 69.5h.01M146 105.5h.01M140 132.7h.01M115.4 110.9h.01M114.3 119.8h.01M157.2 126.6h.01M145.3 105.3h.01M152.5 143.2h.01M105.2 104.9h.01M134.2 136.5h.01M126.3 126.7h.01M157.4 118.8h.01M123.9 110.6h.01M154.9 136.9h.01M152.2 148.6h.01M124.3 113.7h.01M109.3 89.2h.01M150.9 106.2h.01M114.5 75.7h.01M101.4 73.2h.01M123 104.5h.01M152.4 123.2h.01M105.8 118h.01M145.7 99.4h.01M101.4 102.6h.01M101.1 124.9h.01M140.1 123.3h.01M149.4 136.6h.01M140.2 133.8h.01M122.5 88.5h.01M102.2 112.1h.01M102.4 98.6h.01M114.6 110.2h.01M140.7 119.8h.01M101.4 95.3h.01M103.1 88h.01M150.4 125.5h.01M101 101.2h.01M151 143.2h.01M109.5 107.3h.01M125.8 119.5h.01M124.1 103.2h.01M151.2 137.4h.01M160.1 117.6h.01M152.2 123.3h.01M102.3 107.1h.01M126 119.4h.01M101.5 113.7h.01M123 87.4h.01M114.7 110.7h.01M101.4 107.4h.01M154.4 135.6h.01M114.5 104.9h.01M114.5 88.1h.01M160.2 106.5h.01M106.1 100.8h.01M108.8 67.4h.01M109.4 93.6h.01M101.5 112.5h.01M101.4 120.1h.01M149.3 129.6h.01M133.7 132.2h.01M125.8 124.8h.01M101 102.7h.01M102.2 119h.01M162.8 124h.01M102 102.4h.01M109.5 93.9h.01M146.1 132.1h.01M109.5 96h.01M122.3 103.5h.01M124.1 99.7h.01M106.3 120.8h.01M133.8 138.5h.01M145.1 147.1h.01M140 141.3h.01M145.1 145.4h.01M114.6 125.1h.01M145.8 107h.01M106.6 127.7h.01M102 123h.01M104 122.2h.01M144.9 147h.01M152 105.6h.01M114.2 81.9h.01M145.4 109.3h.01M140.7 135h.01M105.8 123.3h.01M123.1 110.6h.01M122.8 114.6h.01M140.3 115.6h.01M162 118.2h.01M104.1 122.3h.01M103.9 127.5h.01M141 110.5h.01M140.6 110.2h.01M123.7 96.5h.01M162.4 129.2h.01M139.8 133.7h.01M105.9 95h.01M140 134.1h.01M114.8 75.4h.01M110.2 88.1h.01M145.1 145.7h.01M141.1 144.3h.01M106 114.7h.01M124.3 112.1h.01M123.4 126.5h.01M111.3 117.9h.01M107 81h.01M140.2 133.1h.01M109.6 83.8h.01M122.4 94.7h.01M134.1 109h.01M145.2 139.5h.01M125.9 120.9h.01M133.4 136.7h.01M102.4 73.3h.01M100.9 114h.01M123.4 101.2h.01M125.5 126.8h.01M106.8 127.1h.01M103 89.2h.01M134.5 139.5h.01M114.4 76.1h.01M151.1 133.1h.01M154.8 130.4h.01M109.4 92.5h.01M145.7 96.8h.01M145.1 130.8h.01M101.7 114.1h.01M114.2 85.9h.01M106.3 125.3h.01M102 112.6h.01M151.1 145.1h.01M150.9 121.9h.01M152.5 124.3h.01M141 129.1h.01M163.1 127.1h.01M161.3 127.4h.01M111 107.5h.01M113.7 79.5h.01M109.5 90h.01M157.4 117h.01M123.6 102h.01M161 143.9h.01M151.1 112.5h.01M145 138.6h.01M140.6 101.3h.01M114.6 86.2h.01M102.1 107.1h.01M107.3 93.6h.01M154.2 134.5h.01M123.4 99.3h.01M126.2 125.9h.01M122.6 83.4h.01M144.7 143h.01M106.4 113.2h.01M152.6 115.8h.01M152.2 136.8h.01M124.4 120.9h.01M125.4 131.2h.01M103.1 90h.01M102.4 66.4h.01M160.9 105.3h.01M102.5 92.7h.01M150.4 112.9h.01M123.3 110.4h.01M106 122.4h.01M106 120h.01M103.4 98h.01M161.1 123.3h.01M152.7 118.9h.01M141.3 132h.01M161.2 139.3h.01M101.1 117h.01M122.2 75.8h.01M123.5 115.4h.01M145.8 107.8h.01M101.1 114.1h.01M160.9 142.8h.01M123.6 130.3h.01M144.9 147.2h.01M124 112.8h.01M150.6 124.6h.01M106.7 100.9h.01M126 124.4h.01M106.2 128.8h.01M124.4 111.9h.01M123.9 113.7h.01M104 114.1h.01M101.7 106.3h.01M151.6 133h.01M102 112.7h.01M105.3 110.4h.01M141.5 138.1h.01M154.3 129.6h.01M141.1 127.9h.01M114.5 122.5h.01M102.1 102.5h.01M106.1 122h.01M146.6 133.6h.01M145.9 97.8h.01M105.8 126.5h.01M105.1 113.8h.01M145.6 94.9h.01M144.9 147.3h.01M154.3 138h.01M157.6 121.4h.01M163.5 133.6h.01M134.3 139.6h.01M160.2 98.6h.01M124.2 116.5h.01M145.7 114.2h.01M122.8 100.2h.01M163.3 140h.01M106.5 124.2h.01M152.2 112.9h.01M102.6 79.8h.01M157.5 125.5h.01M133.7 135.3h.01M152.3 122.8h.01M146.5 140.6h.01M145.4 94.5h.01M149 138.8h.01M151 123.2h.01M145.1 146.7h.01M123.7 109.2h.01M139.9 127.8h.01M145.4 140.7h.01M157.1 124h.01M114.6 69.9h.01M109.3 107.4h.01M140.5 137.3h.01M123.9 104.5h.01M157.1 107.8h.01M151.9 135.6h.01M125.6 117.7h.01M134.4 130.4h.01M110.2 80.3h.01M162.5 130h.01M123 89h.01M126 133.7h.01M157.4 107.8h.01M140.9 125.6h.01M145.3 142h.01M122.8 114.6h.01M145.2 141.9h.01M152.7 148.6h.01M126.6 132.4h.01M150.8 116.6h.01M106.2 112.3h.01M105.6 85h.01M123.6 111.8h.01M123.1 106.2h.01M122.3 83.6h.01M122.6 80.3h.01M122.7 87h.01M133.5 139.3h.01M139.9 137.6h.01M145.5 137h.01M114.7 93.8h.01M103.4 59.5h.01M106.3 121h.01M125.7 129.1h.01M123.9 121.9h.01M123.7 100.1h.01M101.9 110.5h.01M151.1 143.3h.01M105.4 93.1h.01M140.5 125.6h.01M152.2 121.3h.01M101.3 83.3h.01M101.2 115.4h.01M115 123.5h.01M123.4 113.6h.01M134.1 133.7h.01M103.3 69.7h.01M162.9 139.2h.01M140.1 140.2h.01M103 104.5h.01M141 108.4h.01M151.8 139.5h.01M101.7 105.8h.01M146.6 121.9h.01M145.4 144.2h.01M101 94.9h.01M151.5 139.2h.01M124 105.1h.01M107.4 74.3h.01M134.2 134.7h.01M109.1 94h.01M133.4 133.4h.01M140.4 127h.01M106.2 121.7h.01M105.8 117.3h.01M122.6 76.1h.01M152.8 141.9h.01M101.1 125.7h.01M140.7 111.1h.01M101 115.6h.01M106.6 117.3h.01M105.6 114.8h.01M103.9 98.3h.01M102.1 89.1h.01M122.4 92h.01M134 140.5h.01M122.9 118.8h.01M162.7 129.6h.01M123.1 94.4h.01M123.7 108.2h.01M125.9 118.8h.01M160.6 115.2h.01M123.1 106.3h.01M140.8 110.1h.01M104.1 114.8h.01M126.1 108.6h.01M101.2 81.6h.01M145.4 134h.01M140.3 143.7h.01M145.1 141.4h.01M105.3 91h.01M109.5 97h.01M152.9 123.3h.01M114.8 78.6h.01M101.1 118.1h.01M160.8 106.3h.01M109.5 95.7h.01M104 107.2h.01M122.6 91.7h.01M151.5 126.8h.01M111.2 114.2h.01M110.4 119.5h.01M124.2 100.1h.01M162.8 129.1h.01M150.8 137.9h.01M106.2 118.9h.01M140.5 144.4h.01M133.4 142.3h.01M145.2 137h.01M145.6 106h.01" stroke="#6a35b8" stroke-width="1.45" stroke-linecap="square" fill="none"/>
<path d="M126.8 133.9h.01M138.9 115.3h.01M139.1 119.8h.01M170.6 117.6h.01M106.4 87.6h.01M126.9 118.3h.01M142.9 117.5h.01M164.4 118h.01M129.2 139.1h.01M133.6 97.9h.01M151.1 136.6h.01M138.8 122.2h.01M161.2 138.7h.01M162.2 143.2h.01M111.1 104.1h.01M142.8 127.4h.01M156.8 148.2h.01M106.3 93.9h.01M127.7 80.7h.01M103.5 91.8h.01M105.6 80.6h.01M129.4 122.6h.01M169.8 129.2h.01M126.4 123.6h.01M161.2 131.7h.01M131.5 141h.01M106.6 92h.01M157 141h.01M106.7 95.7h.01M169.4 132.9h.01M171.2 127h.01M134.1 92.9h.01M169.2 133.2h.01M164.9 119.4h.01M146.4 134h.01M127 126.9h.01M154 122.9h.01M111.5 113.5h.01M127.3 87.3h.01M132.8 105.5h.01M109.5 74h.01M115 118.9h.01M168.5 129.7h.01M167 137.3h.01M162.5 139h.01M162 127.4h.01M129.6 108h.01M161.3 145.6h.01M161.3 142.1h.01M151.1 128.6h.01M170.3 79.6h.01M161.6 140.1h.01M163.2 124.2h.01M160.8 146.6h.01M151.4 141.1h.01M157.2 142.4h.01M163.3 129.1h.01M122.1 126.8h.01M115.4 123.3h.01M131.5 107.3h.01M131.6 128.2h.01M127.2 107.7h.01M115 114.8h.01M151.2 138.1h.01M103.8 112.8h.01M127.2 124.7h.01M111.7 123.5h.01M135.3 132.8h.01M131.5 121.3h.01M131.3 122.5h.01M161 147h.01M167.1 109.3h.01M103.5 112.3h.01M133.4 108.4h.01M127.5 122.7h.01M132.6 92.4h.01M120.1 94.8h.01M161.2 142.2h.01M161.4 145h.01M105.1 119.2h.01M129.4 126.9h.01M110.9 104.6h.01M131.8 121.6h.01M103.6 123h.01M161.2 145.7h.01M120.5 111.5h.01M146.3 125.4h.01M106.8 85.8h.01M150.9 147.2h.01M115.4 125.6h.01M155.6 123.5h.01M110.4 58.9h.01M110 76.5h.01M103.6 107.1h.01M161.3 131.7h.01M126.4 131.1h.01M153.8 137h.01M171.3 121.5h.01M123.6 123.5h.01M103.6 115.5h.01M155.3 133.4h.01M151.1 148h.01M163 133.8h.01M132.7 88.8h.01M122.2 119.7h.01M163 140.2h.01M146.2 120.5h.01M128.7 127.4h.01M122.3 117.5h.01M146.3 132.1h.01M105 114.8h.01M169.7 86.3h.01M146.6 138.2h.01M103.9 91.2h.01M162.5 127.3h.01M119.4 99.5h.01M168.4 131.5h.01M127.6 103.1h.01M131.8 134.6h.01M161.2 137.8h.01M164.2 108.9h.01M146.3 133.4h.01M146 134.3h.01M101.1 75.4h.01M103.6 113h.01M129.2 120.9h.01M167 123.2h.01M111.2 122.2h.01M119.7 107.7h.01M127.4 94h.01M170.2 101.7h.01M168.7 128.5h.01M115.3 130.8h.01M151.4 136.9h.01M138.1 120.8h.01M123.8 116.8h.01M157.2 146.6h.01M123.9 122.2h.01M170.4 94.8h.01M134.1 110.7h.01M110.1 86.6h.01M153.7 129.9h.01M105.2 113.8h.01M151.3 143.4h.01M135.6 140.6h.01M162.6 134.7h.01M135.5 124.5h.01M151.5 146.6h.01M168.9 104h.01M106.3 66.9h.01M156.9 143.4h.01M160.9 132.9h.01M161 131.9h.01M134.1 85.8h.01M154 133.2h.01M155 142.7h.01M155.7 124.2h.01M168.3 99.7h.01M152 131h.01M162.7 130.3h.01M171.3 114.9h.01M151.3 145.5h.01M142.5 133.2h.01M151.4 140.2h.01M104.9 110.7h.01M123.6 123.6h.01M168.9 109.7h.01M106.5 81.2h.01M151.2 145.1h.01M150.8 130.5h.01M170.5 92.4h.01M127.6 99.2h.01M168.7 115.8h.01M171.2 128h.01M161.6 143.1h.01M168.8 121.4h.01M115.3 125.3h.01M154.4 140.6h.01M165 118.5h.01M163.1 123.3h.01M168.4 130.2h.01M146.5 134.7h.01M162.5 132.6h.01M162.3 136.3h.01M169.2 121.2h.01M103.9 93.5h.01M132.5 103h.01M169.1 108h.01M154 137.6h.01M133.1 85.6h.01M157.1 138.2h.01M109.9 80.1h.01M162.8 129.2h.01M151.4 148.7h.01M111.6 96.1h.01M142.9 127.8h.01M127.6 96.8h.01M164.7 126h.01M123.6 122h.01M155.7 129.8h.01M131.5 117.9h.01M170.2 86.4h.01M105 124.8h.01M131.2 111.8h.01M151.6 140h.01M127.3 105.6h.01M127 117.6h.01M110.4 82.5h.01M160.1 141.7h.01M170 98.3h.01M130.1 132.2h.01M127.6 81h.01M126.8 124.7h.01M111 92.9h.01M134.3 85.8h.01M127 117.1h.01M168.6 113.7h.01M138.4 114.7h.01M126.9 125.3h.01M100.9 86.4h.01M127.4 118.2h.01M131.4 128.8h.01M142.6 131.4h.01M169.5 141.6h.01M126.8 120.8h.01M127.4 85.9h.01M129.4 118.2h.01M128.6 105.9h.01M132.9 88.2h.01M122.2 120h.01M170.9 106.5h.01M167.2 124.5h.01M138.9 129.8h.01M156.7 145.9h.01M131.4 107.6h.01M131.7 103.9h.01M151.2 137h.01M127.6 106.1h.01M161 145h.01M161.1 133.3h.01M151.3 130.8h.01M160.1 110h.01M155.8 136.2h.01M161.4 142h.01M163.5 138.9h.01M119.7 102.6h.01M161.1 141.7h.01M161.2 129.6h.01M122.8 110.3h.01M156.3 140.5h.01M138.8 135.5h.01M161.5 144.4h.01M131.5 124.4h.01M156.3 139.6h.01M167.4 134h.01M124 120.2h.01M159.7 116h.01M129.4 127.7h.01M127.6 86.6h.01M135.4 143.4h.01M169.4 125.8h.01M150.9 148.6h.01M157 138.8h.01M151.5 148.9h.01M122.6 109.4h.01M161.4 144.1h.01M127.1 81h.01M135.7 141.2h.01M157.1 136h.01M154.1 132.5h.01M161.2 132.2h.01M105.1 97.8h.01M122.1 124.1h.01M124 118.5h.01M168.6 111.9h.01M119.6 108.4h.01M135.4 134h.01M121.9 120.5h.01M110.3 71.7h.01M135.6 141h.01M121.9 120.8h.01M111.5 124.6h.01M146.1 121h.01M105.1 110.2h.01M142.9 114.3h.01M129.1 137.9h.01M103.8 119.2h.01M103.5 101.6h.01M127.5 103.9h.01M138.5 115.7h.01M128.1 95.3h.01M129.4 109.8h.01M131.1 109.6h.01M143 129.1h.01M161.4 124.2h.01M122.2 113.1h.01M164.7 127.6h.01M168.6 117.1h.01M110.1 83.4h.01M151.4 139.4h.01M134 108.4h.01M170.9 123.2h.01M138.8 106.8h.01M129.1 111.7h.01M132.5 100h.01M132.5 99.3h.01M142.9 132h.01M155.9 119.5h.01M129.2 117.2h.01M164.4 127.2h.01M106.6 84.6h.01M111.3 125.2h.01M155.8 132.3h.01M106.7 78.2h.01M126.9 126.9h.01M123.8 123.7h.01M129 113.1h.01M131.2 119.8h.01M101.6 102.3h.01M106.6 89.8h.01M151 130.7h.01M154.2 126.2h.01M104.8 122.4h.01M111.5 116.1h.01M151.1 142.4h.01M106.3 112.4h.01M167.1 136h.01M132.8 97.3h.01M168.4 137.8h.01M159.9 130.5h.01M142.8 126.8h.01M143 143h.01M122 127.6h.01M168.3 133.3h.01M101 93.9h.01M142.7 140.7h.01M134.2 88.7h.01M135.1 142.5h.01M110.2 72h.01M164.4 119.6h.01M101.2 103.5h.01M135.3 139.2h.01M135.4 130.3h.01M101.2 92.4h.01M153.7 134.1h.01M146.4 124.4h.01M146.1 137.8h.01M119.8 104.7h.01M119.8 110.4h.01M132.9 102.3h.01M171.3 107.1h.01M139.2 130.2h.01M156.9 139.6h.01M151.4 146.9h.01M119.7 106.8h.01M161.5 128.3h.01M131.9 107.2h.01M163.2 135.5h.01M156.7 144.3h.01M123.9 123h.01M105 126.9h.01M151.5 148.6h.01M123.6 119.3h.01M127 84.7h.01M131.4 136.8h.01M171.4 115.8h.01M123.9 115.1h.01M164 115.6h.01M170.2 102.8h.01M133.5 89.4h.01" stroke="#9440e0" stroke-width="1.45" stroke-linecap="square" fill="none"/>
<path d="M124.5 119.9h.01M136.9 121h.01M124.7 119.8h.01M144.1 102.9h.01M123.4 105.4h.01M148.5 118.7h.01M138.3 103.1h.01M152.1 133.8h.01M136.5 131.1h.01M146 136.9h.01M136.7 142.3h.01M136.8 125.8h.01M149.8 103.8h.01M159.2 147.2h.01M152.3 134.7h.01M145 126.5h.01M130.7 104.3h.01M166.1 140.5h.01M130.4 111.1h.01M126.1 88.3h.01M149.4 106.6h.01M126.4 109.9h.01M144.8 131h.01M165.6 142h.01M149.5 121.1h.01M126.2 91.2h.01M130.7 124h.01M140.1 115.9h.01M123.2 79h.01M155.9 138.7h.01M149.6 106.3h.01M129.5 116.8h.01M123.3 88.4h.01M148.6 138h.01M152 135.3h.01M163.6 124.5h.01M153.2 135.8h.01M143.7 108.7h.01M165.9 135h.01M136.5 132.5h.01M166 137.7h.01M164.8 111.2h.01M124.9 128.7h.01M144.5 129.6h.01M161.7 133.6h.01M155.1 130.2h.01M164.1 128.8h.01M123.2 87.3h.01M164.8 117.3h.01M165.5 142.7h.01M124.9 123.2h.01M167.8 137.4h.01M169 141.7h.01M123.4 91h.01M145.2 118h.01M165.3 123.4h.01M131.4 136h.01M156 133.9h.01M140.3 128.5h.01M124.4 113.4h.01M140.3 123.6h.01M155.2 133.6h.01M140.3 128.4h.01M155.6 132h.01M126.2 102.3h.01M125 138.1h.01M146.1 137.7h.01M164.6 125.5h.01M139.1 101.9h.01M144 117.8h.01M149.9 113.3h.01M125.8 103.4h.01M146.5 145.6h.01M150.2 101h.01M168.3 141.1h.01M130.4 99.2h.01M164.4 134.5h.01M153 140.2h.01M126.6 80.7h.01M168.3 141h.01M126.2 109.4h.01M152.8 131.9h.01M166 141h.01M169 145.5h.01M152.6 141h.01M152.4 146h.01M144.9 127.3h.01M145.6 125.9h.01M129.9 123.9h.01M131.2 130.5h.01M167.9 132.3h.01M130.8 114.7h.01M156.3 139h.01M155.4 131.6h.01M126.1 102.3h.01M129.9 126.2h.01M130.5 115.2h.01M123.1 99.8h.01M150.4 125.1h.01M143.9 124.2h.01M130.1 126.9h.01M164.8 124.4h.01M149.7 104.2h.01M164.3 128.8h.01M144.9 129.5h.01M159.7 138.6h.01M140.3 117.1h.01M164.9 120.9h.01M131.7 132.2h.01M144.8 122.8h.01M140.1 125.9h.01M139.3 116.9h.01M156.2 145.7h.01M145 104.2h.01M137.2 136.9h.01M131.2 115.4h.01M168.9 146.9h.01M161.2 129.8h.01M156.2 129.3h.01M168.5 122.8h.01M136.7 139.8h.01M168 130h.01M164.8 120.1h.01M130.3 112.7h.01M146.2 139.6h.01M126.4 100.8h.01M140.3 126h.01M164.2 140.5h.01M129.8 116.2h.01M139 112.3h.01M138.5 120.7h.01M139.2 113.4h.01M124.7 110h.01M168 137.7h.01M158.7 145.4h.01M126.2 82.3h.01M144.7 113.7h.01M122.7 95.5h.01M137.2 139.3h.01M144.7 139.1h.01M131.2 125.5h.01M161 131.3h.01M146.2 142.8h.01M130.5 112.9h.01M168.6 133.1h.01M156 137.9h.01M167.8 140.5h.01M144.6 113.1h.01M136.2 143.8h.01M125.1 129.9h.01M129.4 129.5h.01M130.2 108.2h.01M129.4 122.3h.01M144.9 144.4h.01M144.1 142h.01M144.2 141h.01M150.1 114h.01M166 141.4h.01M169 135h.01M149.2 134.2h.01M144.5 96.5h.01M137 127.2h.01M130.9 130.8h.01M155.2 127.5h.01M167.9 138.1h.01M165.9 143.9h.01M138.6 112.2h.01M146.1 119.6h.01M123 85.4h.01M130.8 102.9h.01M156.2 137.8h.01M136.7 129.8h.01M123.2 79.2h.01M126.2 93.6h.01M155.2 126.8h.01M144.2 97.9h.01M148.2 123.4h.01M126.3 83.6h.01M144.2 106.9h.01M144.6 133.5h.01M123.4 99.7h.01M156.2 118.5h.01M149.2 125.8h.01M169 145.3h.01M151.8 130.1h.01M136.5 138.8h.01M150.1 112.9h.01M131.7 138.4h.01M156.3 135.1h.01M130 124h.01M136.8 130.3h.01M167.6 141.1h.01M125.9 102.6h.01M122.8 96.8h.01M138.8 113.9h.01M138.6 117.1h.01M139 105.3h.01M145.8 132.3h.01M144.6 127.2h.01M136.7 140.8h.01M146 133.4h.01M168.6 140.7h.01M168.5 132.5h.01M125 129.9h.01M148.6 132.2h.01M166.2 147.6h.01M123.3 100.3h.01M166.2 128.9h.01M124.9 132.7h.01M145.1 129.8h.01M146.4 132.4h.01M131.6 128.3h.01M152.8 133.8h.01M124.7 135.4h.01M136.3 141.7h.01M146.2 114.8h.01M165 120.5h.01M152.2 141.4h.01M144.6 136.1h.01M161.4 128.8h.01M136.8 144.1h.01M161.5 133.3h.01M164.7 125.6h.01M169.3 141.6h.01M152.6 139.7h.01M156.2 138.7h.01M168.4 139.3h.01M138.9 132.8h.01M152.7 134.3h.01M124.7 133.3h.01M136.4 138.1h.01M143.3 95.9h.01M152.8 143.6h.01M166.3 138.3h.01M136.5 136.5h.01M131.5 125.9h.01M136.4 137.5h.01M136.8 139h.01M165 111.6h.01M146.2 141.5h.01M144.3 117.8h.01M122.6 97.1h.01M156.2 131.9h.01M156.1 142.3h.01M164.5 115.2h.01M131.5 125.4h.01M140.4 106.2h.01M152.8 145.1h.01M144.1 103.6h.01M130.4 126h.01M125.8 101h.01M156 134.6h.01M146.2 136.5h.01M123.9 94.7h.01M146.8 140.2h.01M148.5 132.4h.01M136.7 138.5h.01M146.4 137.3h.01M156.3 131.8h.01M144.9 123.5h.01M161.2 128.8h.01M169 126h.01M140.7 137.8h.01M168.5 145.6h.01M129.3 122.1h.01M124.6 135.9h.01M165.3 113.5h.01M152.3 134.5h.01M156 136h.01M143.5 107.8h.01M159.4 135h.01M156.3 137.5h.01M164.3 127.4h.01M168.3 127.9h.01M152.9 137.7h.01M144.5 126.6h.01M143.7 105.9h.01M144.3 101.9h.01M168.1 137.2h.01M156.4 141.2h.01M169.1 146.1h.01M140.1 144.6h.01M152.8 138.1h.01M123.6 85.8h.01M145.3 136.8h.01M156.1 136.7h.01M153.2 133.7h.01M144.7 128.6h.01M168.4 127.4h.01M155.7 121.5h.01M161.4 130.5h.01M143.7 100.5h.01M155 130.5h.01M144.2 105.7h.01M124.9 128h.01M168.1 139.9h.01M148.8 120.3h.01M164.6 135.7h.01M136.7 139.9h.01M159.6 138.8h.01M136.2 143.8h.01M168.4 134.4h.01M131.3 117.7h.01M160 140.2h.01M146.1 130.9h.01M166.1 132.9h.01M144.2 104.9h.01M136.4 143.6h.01M130.3 118.6h.01M152.6 137.1h.01M168.4 124.6h.01M145.7 144.3h.01M165.4 139.8h.01M164.4 137h.01M151.7 134.7h.01M152 136.5h.01M148.6 124.5h.01M140.3 116.2h.01M152.8 138.3h.01M140.2 128.4h.01M123.2 91.2h.01M129.5 110.6h.01M144.4 138.2h.01M129.4 120.5h.01M166.1 145.7h.01M163.9 118h.01M145.3 132h.01M156 139.9h.01M144.4 140.7h.01M168.8 139.2h.01M161.5 136.7h.01M165.4 134.1h.01M126.3 90.6h.01M165.1 133.1h.01M136.8 122.7h.01M165.8 147.7h.01M122.9 90.1h.01M144.3 96.3h.01M168.9 131.3h.01M168.5 145.9h.01" stroke="#f55cf0" stroke-width="1.45" stroke-linecap="square" fill="none"/>
<path d="M220.2 83h.01M222.5 118.8h.01M215 66.4h.01M213.9 120.2h.01M215.1 98h.01M219.2 131.2h.01M220.4 99.1h.01M220 95.5h.01M222.5 116.3h.01M219.9 114.5h.01M215.1 105.6h.01M214.2 119.9h.01M221.5 87.7h.01M222.3 130.2h.01M220.8 90.8h.01M222.6 131h.01M214.9 53.9h.01M222.7 109.4h.01M215.1 82h.01M220.6 71.6h.01M223.1 77.2h.01M213.9 107.8h.01M222.4 122.7h.01M213.5 132.2h.01M220.3 98.9h.01M214.5 88.6h.01M215.6 132.1h.01M220.4 117h.01M222.7 127.5h.01M214.8 96.4h.01M222.5 117.4h.01M220.7 104.6h.01M220.4 124.2h.01M214.2 124.3h.01M222.7 94.6h.01M220 68.1h.01M222.5 117.8h.01M220.6 124.2h.01M214.7 92.3h.01M222.8 119.6h.01M222.1 122.6h.01M219.4 131.5h.01M214.8 114.6h.01M222.6 130.1h.01M220 55.4h.01M220.8 77.5h.01M220.7 81.3h.01M220.2 92.1h.01M215.7 107.2h.01M213.8 127.4h.01M220.8 99h.01M222.2 116.9h.01M222.6 99.9h.01M222.5 103.4h.01M222.5 100.8h.01M215.1 73.2h.01M220.7 118.6h.01M220.9 123.5h.01M215 119.5h.01M220.8 90.9h.01M214.9 82.1h.01M213.9 123.3h.01M219.7 87.9h.01M219.7 120.7h.01M214.4 117.8h.01M220.7 62.8h.01M213.8 107.7h.01M220.3 100.4h.01M222.9 119h.01M222.5 93.7h.01M220.9 116.7h.01M220.3 92.2h.01M222.5 121.3h.01M222.3 92.5h.01M220.9 65.2h.01M219.9 88.7h.01M222.3 126.5h.01M221.8 124.5h.01M220.6 93.1h.01M220.1 111.4h.01M220.7 69.9h.01M222.5 128.1h.01M222.8 80.5h.01M222.6 117.6h.01M222.7 103.9h.01M222 123.8h.01M220.2 84.4h.01M213.8 106.9h.01M223 123h.01M220.2 126.5h.01M214.7 88.4h.01M222.8 115.5h.01M222.2 123h.01M221.9 122.2h.01M219.9 86.6h.01M222.5 123.1h.01M218.8 95.1h.01M213.8 110.4h.01M220.3 126.8h.01M219.2 124.6h.01M215.2 69.4h.01M215.3 124.7h.01M213.7 131.3h.01M222.9 120.7h.01M222.1 129.9h.01M215.2 78.8h.01M214 127.6h.01M221.9 108.5h.01M222 128.5h.01M222.6 127.3h.01M222.5 91.1h.01M220.6 94.8h.01M220.6 95.6h.01M215.2 87.5h.01M222.2 89.6h.01M220.7 96h.01M219.3 114.3h.01M222.3 110.1h.01M214 100.7h.01M215 100h.01M221 110.9h.01M214 129h.01M220.7 83.9h.01M219.2 92.4h.01M219.5 124.9h.01M219.4 130.4h.01M215.2 64.7h.01M222.5 125.4h.01M220.4 96.2h.01M222 108.7h.01M214 121.2h.01M214.6 89.2h.01M223.5 111.4h.01M214.9 94.7h.01M220.7 94.6h.01M215.1 50.5h.01M220.1 92.2h.01M222 121.8h.01M220.4 88.8h.01M222.9 129.5h.01M220.6 68.6h.01M222.8 122.1h.01M215.1 91.3h.01M222.4 100.8h.01M214.8 112.7h.01M220.6 93.2h.01M214.8 113.6h.01M214.6 114.2h.01M219.6 130.7h.01M214.7 92.7h.01M215.4 74h.01M213.9 116.7h.01M215.2 79.6h.01M220.7 76.9h.01M220.5 123.2h.01M219.2 94.7h.01M221 114.6h.01M222.1 129h.01M219.7 105h.01M222.9 109.6h.01M219 119.2h.01M222.4 129.3h.01M222.5 130.1h.01M219.4 127.7h.01M220.8 68.6h.01M222.8 111.6h.01M222.1 100.4h.01M215.3 108.5h.01M222.6 132.1h.01M219.1 67.5h.01" stroke="#dd2222" stroke-width="1.45" stroke-linecap="square" fill="none"/>
<path d="M56.4 39.5h.01M56.6 43.7h.01M56.4 48.5h.01M56.3 52.7h.01M56.5 57.5h.01M56.4 62.3h.01M64 49.7h.01M64.1 54.5h.01M63.9 58.7h.01M64 63.5h.01M71.1 59.3h.01M71.2 63.5h.01" stroke="#f5923a" stroke-width="1.45" stroke-linecap="square" fill="none"/>
<path d="M96.6 35.3h.01M96.7 38.3h.01M96.5 42.5h.01M96.6 46.7h.01M96.7 51.5h.01M96.6 55.1h.01M96.6 58.7h.01" stroke="#8fd14a" stroke-width="1.45" stroke-linecap="square" fill="none"/>
<path d="M125 48.5h.01M125.1 51.5h.01M124.9 56.3h.01M125 60.5h.01M117.9 51.5h.01M118 57.5h.01" stroke="#6a35b8" stroke-width="1.45" stroke-linecap="square" fill="none"/>
<path d="M190.3 59.3h.01M190.4 65.9h.01M190.2 70.7h.01M183.2 79.7h.01M183.3 87.5h.01M183.1 93.5h.01M183.2 99.5h.01M169 75.5h.01M169.1 80.3h.01M169 87.5h.01" stroke="#1f88c8" stroke-width="1.45" stroke-linecap="square" fill="none"/>
<path d="M214.9 38.3h.01M214.9 42.5h.01M214.8 46.7h.01M220.1 48.5h.01M220.1 54.5h.01" stroke="#dd2222" stroke-width="1.45" stroke-linecap="square" fill="none"/>
<path d="M51.1 93.5h.01M51.1 94.8h.01M51.1 110.7h.01M51.1 97.2h.01M51.2 94h.01M51.2 102.2h.01M51.2 108.2h.01M51.2 109.3h.01M51.4 95.4h.01M51.4 110.8h.01M51.4 93.5h.01M51.4 104.9h.01M51.7 112.3h.01M51.7 108.3h.01M51.7 94.2h.01M51.7 106.8h.01M51.9 111.3h.01M51.9 113h.01M51.9 113h.01M51.9 102.4h.01M52.3 112.7h.01M52.3 105.1h.01M52.3 108.8h.01M52.3 112.6h.01M52.8 104.7h.01M52.8 86.2h.01M52.8 102h.01M52.8 106.8h.01M53.2 105.4h.01M53.2 88.2h.01M53.2 96.8h.01M53.2 85.8h.01M53.6 100.5h.01M53.6 97.9h.01M53.6 113.6h.01M53.6 85.7h.01M53.8 104.7h.01M53.8 99.9h.01M53.8 77.1h.01M53.8 92.1h.01M54.1 87h.01M54.1 84.8h.01M54.1 79.7h.01M54.1 83.8h.01M54.2 82.5h.01M54.2 86.6h.01M54.2 82h.01M54.2 83.5h.01M54.6 74.2h.01M54.6 84.7h.01M54.6 91.7h.01M54.6 73.2h.01M55 94.9h.01M55 88.6h.01M55 75.5h.01M55 78.5h.01M55.4 106.5h.01M55.4 87.1h.01M55.4 85.6h.01M55.4 79.7h.01M56 89.3h.01M56 92.6h.01M56 87.7h.01M56 94.6h.01M56.7 101.6h.01M56.7 110.1h.01M56.7 107.9h.01M56.7 108.1h.01M56.9 104.9h.01M56.9 110.9h.01M56.9 107.9h.01M56.9 100.1h.01M57.2 111.1h.01M57.2 99.1h.01M57.2 87.8h.01M57.2 109.7h.01M57.9 105.6h.01M57.9 103h.01M57.9 93.5h.01M57.9 88.7h.01M58 89.1h.01M58 102.8h.01M58 76.7h.01M58 79.3h.01M58.2 82.4h.01M58.2 85.8h.01M58.2 68h.01M58.2 111.9h.01M58.7 88.4h.01M58.7 68.2h.01M58.7 74.1h.01M58.7 91.7h.01M58.9 70.8h.01M58.9 96.6h.01M58.9 74.1h.01M58.9 80.4h.01M59.3 96.3h.01M59.3 85.7h.01M59.3 67.1h.01M59.3 75.2h.01M59.7 78.1h.01M59.7 99.3h.01M59.7 91.3h.01M59.7 79.3h.01M60.2 79.9h.01M60.2 101.2h.01M60.2 103.3h.01M60.2 89.4h.01M60.6 93h.01M60.6 93.4h.01M60.6 98.1h.01M60.6 69.6h.01M60.9 76.9h.01M60.9 95.4h.01M60.9 113.5h.01M60.9 103.1h.01M61.2 104.9h.01M61.2 108h.01M61.2 112.3h.01M61.2 99.2h.01M61.5 103.3h.01M61.5 100.6h.01M61.5 106h.01M61.5 86.6h.01M62.1 101.3h.01M62.1 99.4h.01M62.1 111.7h.01M62.1 99.6h.01M62.8 85h.01M62.8 82.8h.01M62.8 93.9h.01M62.8 94.7h.01M63.7 72.8h.01M63.7 74.7h.01M63.7 80.3h.01M63.7 74.9h.01M64.2 77.9h.01M64.2 86.4h.01M64.2 99.4h.01M64.2 89.2h.01M64.4 75.9h.01M64.4 85.2h.01M64.4 80.8h.01M64.4 96.9h.01M64.7 107.3h.01M64.7 89.3h.01M64.7 92.1h.01M64.7 98h.01M65.5 111.9h.01M65.5 90.4h.01M65.5 111.5h.01M65.5 106.9h.01M65.8 96.2h.01M65.8 108.7h.01M65.8 98.8h.01M65.8 104.6h.01M65.9 98.1h.01M65.9 113.7h.01M65.9 102.5h.01M65.9 88.8h.01M66.1 110.3h.01M66.1 103.9h.01M66.1 113h.01M66.1 92.3h.01M66.6 106.2h.01M66.6 77.2h.01M66.6 107.9h.01M66.6 94.7h.01M66.9 82h.01M66.9 78.2h.01M66.9 79.4h.01M66.9 107.9h.01M67.1 65.1h.01M67.1 83.4h.01M67.1 88.8h.01M67.1 77.4h.01M67.7 78.5h.01M67.7 93.8h.01M67.7 64.3h.01M67.7 65.1h.01M67.9 81.1h.01M67.9 63.9h.01M67.9 69.5h.01M67.9 63.9h.01M67.9 63.8h.01M67.9 63.5h.01M67.9 88h.01M67.9 89.3h.01M68.3 72.2h.01M68.3 79h.01M68.3 77.4h.01M68.3 77.9h.01M68.7 85h.01M68.7 81.8h.01M68.7 89h.01M68.7 76.4h.01M69.6 103.3h.01M69.6 98.2h.01M69.6 99.7h.01M69.6 106.1h.01M69.7 102.2h.01M69.7 98.2h.01M69.7 91.1h.01M69.7 106.9h.01M70.1 107.5h.01M70.1 110.9h.01M70.1 95.4h.01M70.1 100.1h.01M71 93.3h.01M71 71.1h.01M71 100.5h.01M71 79.6h.01M71.8 82.1h.01M71.8 86h.01M71.8 79.2h.01M71.8 72.8h.01M72 65.3h.01M72 100.4h.01M72 77.7h.01M72 93.9h.01M72.4 83.2h.01M72.4 81.6h.01M72.4 68.1h.01M72.4 72.5h.01M72.4 66.6h.01M72.4 67.6h.01M72.4 77.1h.01M72.4 72h.01M72.9 65.8h.01M72.9 80.1h.01M72.9 87h.01M72.9 87.5h.01M73.5 111.6h.01M73.5 109.6h.01M73.5 73.2h.01M73.5 103.9h.01M74 87.3h.01M74 93.5h.01M74 86.8h.01M74 94.7h.01M74.4 109.7h.01M74.4 111.2h.01M74.4 105.4h.01M74.4 105.3h.01M74.7 96.9h.01M74.7 103.1h.01M74.7 99.8h.01M74.7 103.4h.01M75.4 86.8h.01M75.4 85.1h.01M75.4 80.3h.01M75.4 83.8h.01M76.1 82.4h.01M76.1 82.4h.01M76.1 66.4h.01M76.1 98.1h.01M76.5 64h.01M76.5 83.9h.01M76.5 80.8h.01M76.5 64.7h.01M76.8 64.8h.01M76.8 65.1h.01M76.8 62.6h.01M76.8 69.9h.01M76.9 71.3h.01M76.9 75.9h.01M76.9 68.3h.01M76.9 85.4h.01M77.4 72.5h.01M77.4 84.7h.01M77.4 77.1h.01M77.4 85.5h.01M78 82.2h.01M78 89.2h.01M78 90.4h.01M78 77h.01M78.2 99.7h.01M78.2 69.3h.01M78.2 76.1h.01M78.2 88.9h.01M78.3 93.5h.01M78.3 82.1h.01M78.3 104.1h.01M78.3 94.1h.01M78.6 79.8h.01M78.6 99.1h.01M78.6 92.7h.01M78.6 83.8h.01M78.9 91.5h.01M78.9 96.9h.01M78.9 104.2h.01M78.9 87.2h.01M79.1 97.5h.01M79.1 101.7h.01M79.1 81.9h.01M79.1 101.2h.01M79.5 94.4h.01M79.5 111.3h.01M79.5 95.7h.01M79.5 100.3h.01M79.5 104.2h.01M79.5 102.7h.01M79.5 101.4h.01M79.5 99.5h.01M79.9 77.6h.01M79.9 102h.01M79.9 104.4h.01M79.9 107.5h.01M80.2 100.2h.01M80.2 101.2h.01M80.2 83.3h.01M80.2 73.4h.01M80.3 73.5h.01M80.3 77.1h.01M80.3 86.1h.01M80.3 61.3h.01M80.4 81.1h.01M80.4 92.1h.01M80.4 76.2h.01M80.4 65.2h.01M80.8 67.2h.01M80.8 68.4h.01M80.8 84h.01M80.8 80.9h.01M80.9 80.8h.01M80.9 70.7h.01M80.9 69.9h.01M80.9 61.9h.01M81.8 80.1h.01M81.8 64h.01M81.8 77h.01M81.8 64.5h.01M82 82h.01M82 62.4h.01M82 67.1h.01M82 78.9h.01M82.3 89.1h.01M82.3 83.3h.01M82.3 88h.01M82.3 85.6h.01M82.6 77.7h.01M82.6 84h.01M82.6 77.3h.01M82.6 76.1h.01M82.7 81.8h.01M82.7 90.9h.01M82.7 83.2h.01M82.7 98.2h.01M82.9 93.5h.01M82.9 88.4h.01M82.9 103.7h.01M82.9 78.9h.01M83.4 91.2h.01M83.4 104.6h.01M83.4 110.9h.01M83.4 117.7h.01M84 79.2h.01M84 116.7h.01M84 107.1h.01M84 90.7h.01M84.2 80.5h.01M84.2 79.7h.01M84.2 68.8h.01M84.2 79.4h.01M84.5 79.3h.01M84.5 89.8h.01M84.5 84.2h.01M84.5 86.9h.01M85 81.3h.01M85 88.5h.01M85 84.7h.01M85 77h.01M85 60.5h.01M85 68.1h.01M85 95.2h.01M85 69.3h.01M85.4 80.1h.01M85.4 64.6h.01M85.4 85.2h.01M85.4 75.4h.01M86.7 85.7h.01M86.7 83.1h.01M86.7 64.8h.01M86.7 98.7h.01M87.2 94.1h.01M87.2 101.1h.01M87.2 86h.01M87.2 94h.01M87.3 91.1h.01M87.3 95.5h.01M87.3 88.9h.01M87.3 91h.01M87.8 93.2h.01M87.8 87.4h.01M87.8 109.5h.01M87.8 86.5h.01M88.2 94.7h.01M88.2 95.7h.01M88.2 92.9h.01M88.2 97.5h.01M88.3 88.6h.01M88.3 98h.01M88.3 89.9h.01M88.3 80.7h.01M88.5 95.9h.01M88.5 90.6h.01M88.5 89.2h.01M88.5 74h.01M88.7 97.7h.01M88.7 84.3h.01M88.7 73.2h.01M88.7 75.5h.01M89.5 87.3h.01M89.5 68.3h.01M89.5 79.7h.01M89.5 74.4h.01M89.5 61.5h.01M89.5 84.3h.01M89.5 66.9h.01M89.5 69.6h.01M89.9 83.7h.01M89.9 62.7h.01M89.9 64.7h.01M89.9 73.7h.01M90.3 61.8h.01M90.3 85.3h.01M90.3 77.4h.01M90.3 72.7h.01M91.1 97.2h.01M91.1 72.3h.01M91.1 79.8h.01M91.1 62.4h.01M91.1 71.1h.01M91.1 70h.01M91.1 89.1h.01M91.1 77.6h.01M91.5 94.7h.01M91.5 84.6h.01M91.5 90.9h.01M91.5 87.2h.01M91.8 84.1h.01M91.8 96.7h.01M91.8 71.9h.01M91.8 93h.01M91.9 103.3h.01M91.9 100.6h.01M91.9 92.4h.01M91.9 78.2h.01M91.9 101.8h.01M91.9 88.4h.01M91.9 106.8h.01M91.9 85.6h.01M92.5 77.6h.01M92.5 94.7h.01M92.5 105.7h.01M92.5 73.6h.01M92.7 96.6h.01M92.7 85.8h.01M92.7 87h.01M92.7 105h.01M93.1 70.3h.01M93.1 90.6h.01M93.1 90.2h.01M93.1 81.9h.01M93.3 80.9h.01M93.3 73.4h.01M93.3 75.3h.01M93.3 67.6h.01M93.5 94.5h.01M93.5 67.7h.01M93.5 79.6h.01M93.5 79.7h.01M94 76.6h.01M94 99.6h.01M94 76.7h.01M94 81.8h.01M94 71.1h.01M94 67.2h.01M94 61.3h.01M94 76.8h.01M94.5 64.5h.01M94.5 64.5h.01M94.5 85.8h.01M94.5 56.9h.01M94.5 72.8h.01M94.5 62.3h.01M94.5 57.2h.01M94.5 67.5h.01M95.1 61.8h.01M95.1 85.8h.01M95.1 69.9h.01M95.1 70.3h.01M95.6 83.8h.01M95.6 88h.01M95.6 82.3h.01M95.6 82.3h.01M96.1 100.7h.01M96.1 96.1h.01M96.1 86.1h.01M96.1 73.1h.01M96.2 88.6h.01M96.2 82.2h.01M96.2 90.5h.01M96.2 80.6h.01M96.3 92.2h.01M96.3 98.8h.01M96.3 96.1h.01M96.3 77.4h.01M96.6 100.2h.01M96.6 105.9h.01M96.6 91h.01M96.6 82.8h.01M96.8 103.3h.01M96.8 95.3h.01M96.8 95.3h.01M96.8 109.4h.01M97.1 98.2h.01M97.1 109h.01M97.1 91.4h.01M97.1 93.6h.01M97.2 103.7h.01M97.2 100.5h.01M97.2 99.8h.01M97.2 89.9h.01M97.6 78.1h.01M97.6 87.5h.01M97.6 109.9h.01M97.6 76.1h.01M97.6 92.3h.01M97.6 86.8h.01M97.6 103.2h.01M97.6 86h.01M98 93h.01M98 73.3h.01M98 74h.01M98 87.4h.01M98.2 74.1h.01M98.2 82h.01M98.2 79.9h.01M98.2 76.5h.01M98.5 72.5h.01M98.5 95.4h.01M98.5 67.3h.01M98.5 91.1h.01M98.8 81.2h.01M98.8 70.5h.01M98.8 70.4h.01M98.8 73.3h.01M98.8 70.1h.01M98.8 74.1h.01M98.8 87.7h.01M98.8 90.7h.01M99.2 78h.01M99.2 79.3h.01M99.2 78.7h.01M99.2 76.1h.01M99.6 88.7h.01M99.6 92.2h.01M99.6 94.9h.01M99.6 73.3h.01M99.6 94.7h.01M99.6 87.5h.01M99.6 82.7h.01M99.6 74.9h.01M99.9 88.3h.01M99.9 81.9h.01M99.9 100.8h.01M99.9 94.2h.01M100.1 97.7h.01M100.1 79.9h.01M100.1 87.7h.01M100.1 91.9h.01M100.3 91.5h.01M100.3 92.9h.01M100.3 99.9h.01M100.3 99.4h.01M100.7 100.8h.01M100.7 95.3h.01M100.7 94.5h.01M100.7 97h.01M100.8 107.2h.01M100.8 106.5h.01M100.8 97.1h.01M100.8 101.4h.01M101.1 104.7h.01M101.1 102.9h.01M101.1 103.6h.01M101.1 106.8h.01M101.4 105.1h.01M101.4 98.4h.01M101.4 106.4h.01M101.4 110.6h.01M101.6 110.7h.01M101.6 103.5h.01M101.6 106.1h.01M101.6 100h.01M101.9 97.3h.01M101.9 91.4h.01M101.9 103.2h.01M101.9 106.1h.01M102.1 100.1h.01M102.1 99.1h.01M102.1 102.4h.01M102.1 97.3h.01M102.2 106.4h.01M102.2 98.4h.01M102.2 96h.01M102.2 92.4h.01M102.6 98.2h.01M102.6 90.4h.01M102.6 97.4h.01M102.6 94.6h.01M102.7 89.9h.01M102.7 92.6h.01M102.7 96.8h.01M102.7 88.9h.01M103 92.1h.01M103 82.7h.01M103 86.9h.01M103 94.1h.01M103.3 88.6h.01M103.3 90.5h.01M103.3 94.8h.01M103.3 84.8h.01M103.4 85.7h.01M103.4 88h.01M103.4 85.8h.01M103.4 84.2h.01M103.6 91h.01M103.6 91.9h.01M103.6 87.3h.01M103.6 88.9h.01M103.9 95.3h.01M103.9 86.7h.01M103.9 96.6h.01M103.9 92.5h.01M104.2 91.8h.01M104.2 96.5h.01M104.2 97.8h.01M104.2 100.5h.01M104.4 96.5h.01M104.4 97h.01M104.4 104.2h.01M104.4 93.9h.01M104.6 106.3h.01M104.6 102.1h.01M104.6 104.8h.01M104.6 104.6h.01M104.8 106h.01M104.8 107.4h.01M104.8 111.7h.01M104.8 103.8h.01M105.3 104.5h.01M105.3 106.8h.01M105.3 106.6h.01M105.3 108.1h.01M105.3 112.9h.01M105.3 115.2h.01M105.3 110.6h.01M105.3 117.9h.01M105.6 114h.01M105.6 116.2h.01M105.6 110.4h.01M105.6 112.3h.01M105.9 114.7h.01M105.9 109.6h.01M105.9 115.6h.01M105.9 114.7h.01M106.1 108.9h.01M106.1 104h.01M106.1 111.7h.01M106.1 117.3h.01M106.3 104.4h.01M106.3 109.2h.01M106.3 103.4h.01M106.3 102.6h.01M106.6 108h.01M106.6 110.5h.01M106.6 104.5h.01M106.6 103.9h.01M106.7 108.2h.01M106.7 106.6h.01M106.7 108.8h.01M106.7 109.4h.01M107 107.1h.01M107 102.5h.01M107 100.5h.01M107 99.8h.01M107.3 101.9h.01M107.3 99.7h.01M107.3 97.8h.01M107.3 100.6h.01M107.6 98.5h.01M107.6 99.2h.01M107.6 97.4h.01M107.6 101.2h.01M107.8 100.4h.01M107.8 93.9h.01M107.8 99.7h.01M107.8 91.1h.01M108 97.9h.01M108 96.8h.01M108 98.9h.01M108 95.5h.01M108.2 92.6h.01M108.2 102.5h.01M108.2 94.3h.01M108.2 100h.01M108.4 98.3h.01M108.4 99.3h.01M108.4 99.7h.01M108.4 101.7h.01M108.6 103.4h.01M108.6 100.1h.01M108.6 108.4h.01M108.6 105.4h.01M109.1 109.6h.01M109.1 109.1h.01M109.1 103.2h.01M109.1 100h.01M109.3 113h.01M109.3 109.1h.01M109.3 112.8h.01M109.3 108h.01M109.2 110.3h.01M109.2 109.4h.01M109.2 112.5h.01M109.2 118.1h.01M109.6 115h.01M109.6 113h.01M109.6 110.9h.01M109.6 115.8h.01M110 116.6h.01M110 114.2h.01M110 117.6h.01M110 120.7h.01M109.9 118.6h.01M109.9 118.7h.01M109.9 123.1h.01M109.9 119.9h.01M110.5 123.5h.01M110.5 118.4h.01M110.5 119h.01M110.5 116.1h.01M110.5 115.8h.01M110.5 110.4h.01M110.5 117.4h.01M110.5 113.4h.01M110.6 113.2h.01M110.6 114.5h.01M110.6 114.2h.01M110.6 111.9h.01M111 111.2h.01M111 113.9h.01M111 111.2h.01M111 110.4h.01M111.3 110.6h.01M111.3 112.9h.01M111.3 108h.01M111.3 111.5h.01M111.5 111.7h.01M111.5 103.7h.01M111.5 110.5h.01M111.5 104.3h.01M111.9 104.2h.01M111.9 106.1h.01M111.9 103.8h.01M111.9 105.7h.01M112.1 101.9h.01M112.1 101.9h.01M112.1 99.1h.01M112.1 105.7h.01M112.4 101.7h.01M112.4 106h.01M112.4 100.6h.01M112.4 102.5h.01M112.5 104.2h.01M112.5 102.7h.01M112.5 102.2h.01M112.5 108.1h.01M112.5 108.1h.01M112.5 101.6h.01M112.5 100.9h.01M112.5 105.4h.01M112.8 107.4h.01M112.8 107.4h.01M112.8 106h.01M112.8 108.7h.01M113.1 110.8h.01M113.1 112.9h.01M113.1 105.6h.01M113.1 112.3h.01M113.4 113h.01M113.4 116.1h.01M113.4 114h.01M113.4 113.2h.01M113.6 115.9h.01M113.6 112h.01M113.6 114.1h.01M113.6 118.8h.01M113.9 115.7h.01M113.9 119.3h.01M113.9 117.4h.01M113.9 117.7h.01M114 120.4h.01M114 120.3h.01M114 122.2h.01M114 119h.01M114.3 117.8h.01M114.3 122.3h.01M114.3 122.8h.01M114.3 120.3h.01M114.5 123.4h.01M114.5 123.8h.01M114.5 125.5h.01M114.5 126h.01M114.9 119h.01M114.9 123.4h.01M114.9 122.8h.01M114.9 123h.01M115 115.1h.01M115 122.3h.01M115 118.7h.01M115 119.7h.01M115.2 117h.01M115.2 121.4h.01M115.2 116.2h.01M115.2 117.7h.01M115.5 112.6h.01M115.5 114.4h.01M115.5 113.7h.01M115.5 120h.01M115.8 116h.01M115.8 113.3h.01M115.8 111.5h.01M115.8 119.4h.01M116 113.4h.01M116 110.7h.01M116 113.2h.01M116 116.1h.01M116.3 113.9h.01M116.3 113.2h.01M116.3 111.3h.01M116.3 112.5h.01M116.4 113.3h.01M116.4 105h.01M116.4 106.8h.01M116.4 108.1h.01M116.8 113.1h.01M116.8 110.1h.01M116.8 108.7h.01M116.8 106.4h.01M117.1 110.9h.01M117.1 106.9h.01M117.1 106.9h.01M117.1 109.6h.01M117.3 111.1h.01M117.3 113.4h.01M117.3 114.6h.01M117.3 112.2h.01M117.6 117.1h.01M117.6 117.7h.01M117.6 112.8h.01M117.6 120.2h.01M117.6 117.2h.01M117.6 114.6h.01M117.6 112.1h.01M117.6 119.5h.01M118 113.4h.01M118 119h.01M118 118.6h.01M118 117.9h.01M118.2 117.6h.01M118.2 120.2h.01M118.2 121.2h.01M118.2 120.6h.01M118.4 119.7h.01M118.4 122.3h.01M118.4 118.6h.01M118.4 124.4h.01M118.5 120.9h.01M118.5 121.9h.01M118.5 123.9h.01M118.5 126.5h.01M118.8 127h.01M118.8 126h.01M118.8 127.2h.01M118.8 129.7h.01M118.9 126.1h.01M118.9 125.4h.01M118.9 130.1h.01M118.9 127.9h.01M119.3 126.7h.01M119.3 118.2h.01M119.3 125.4h.01M119.3 126.3h.01M119.7 126.5h.01M119.7 127.8h.01M119.7 124.1h.01M119.7 124.6h.01M119.9 125.8h.01M119.9 121.6h.01M119.9 119.8h.01M119.9 126.4h.01M120.1 124.2h.01M120.1 119.9h.01M120.1 118h.01M120.1 121h.01M120.3 120.9h.01M120.3 118.9h.01M120.3 117.2h.01M120.3 119.9h.01M120.4 117.3h.01M120.4 116.4h.01M120.4 121.2h.01M120.4 117.9h.01M120.6 115.6h.01M120.6 114.6h.01M120.6 116h.01M120.6 114.1h.01M121 116h.01M121 117.1h.01M121 115.1h.01M121 115h.01M121.2 116.2h.01M121.2 114h.01M121.2 114.7h.01M121.2 112.8h.01M121.3 113.7h.01M121.3 115.5h.01M121.3 119.3h.01M121.3 116.2h.01M121.5 116.1h.01M121.5 115.2h.01M121.5 117.9h.01M121.5 117h.01M121.8 123.9h.01M121.8 120.8h.01M121.8 120.2h.01M122.3 121.4h.01M122.3 121h.01M122.3 120.4h.01M122.5 121.9h.01M122.5 124.1h.01M122.5 123.2h.01M122.6 127.1h.01M122.6 122.8h.01M122.6 123.6h.01M123 128.2h.01M123 120.1h.01M123 125.5h.01M123.2 125.5h.01M123.2 127h.01M123.2 128.4h.01M123.4 132.1h.01M123.4 129.2h.01M123.4 133.3h.01M123.5 129.2h.01M123.5 133h.01M123.5 126.8h.01M123.8 127h.01M123.8 129.8h.01M123.8 128.3h.01M124.1 123h.01M124.1 125.6h.01M124.1 124.2h.01M124.3 124.9h.01M124.3 125.8h.01M124.3 126.5h.01M124.5 124.5h.01M124.5 125.1h.01M124.5 127.2h.01M124.7 122.4h.01M124.7 124.3h.01M124.7 122.9h.01M125 124h.01M125 123.8h.01M125 123.5h.01M125 121.4h.01M125 119h.01M125 122.9h.01M125.7 118.6h.01M125.7 120.6h.01M125.7 120h.01M125.7 116.6h.01M125.7 118.2h.01M125.7 117.5h.01M125.9 119.2h.01M125.9 121.9h.01M125.9 122.1h.01M126.3 119.8h.01M126.3 119.8h.01M126.3 123.6h.01M126.5 124.4h.01M126.5 122.3h.01M126.5 124.7h.01M126.7 126h.01M126.7 126.3h.01M126.7 125.8h.01M126.9 128.4h.01M126.9 129.7h.01M126.9 124.4h.01M127.1 132h.01M127.1 132.8h.01M127.1 133.7h.01M127.2 128.1h.01M127.2 133.2h.01M127.2 131h.01M127.7 130.1h.01M127.7 131.3h.01M127.7 131.4h.01M127.7 130.6h.01M127.7 131.7h.01M127.7 134.4h.01M128.1 134.5h.01M128.1 135.7h.01M128.1 129.7h.01M128.3 131.4h.01M128.3 131.3h.01M128.3 128.2h.01M128.4 128.5h.01M128.4 129.9h.01M128.4 130.7h.01M128.8 127.8h.01M128.8 130.6h.01M128.8 130.1h.01M129 128.1h.01M129 126.4h.01M129 129.4h.01M129.2 126.7h.01M129.2 127.1h.01M129.2 126h.01M129.5 124h.01M129.5 127.2h.01M129.5 128.4h.01M129.7 123h.01M129.7 125.8h.01M129.7 126h.01M129.8 123.7h.01M129.8 124.2h.01M129.8 123.4h.01M130.3 121.5h.01M130.3 123h.01M130.3 125.4h.01M130.6 124.6h.01M130.6 122.9h.01M130.6 127.3h.01M130.6 126.7h.01M130.6 130.1h.01M130.6 125.5h.01M131 129.8h.01M131 128.5h.01M131 131.3h.01M131.2 129.8h.01M131.2 129.9h.01M131.2 127.2h.01M131.5 131.9h.01M131.5 132.3h.01M131.5 130.9h.01M131.6 133.1h.01M131.6 133.8h.01M131.6 130.6h.01M131.9 133.5h.01M131.9 130.1h.01M131.9 135.4h.01M132.2 137.5h.01M132.2 135.2h.01M132.2 133.8h.01M132.3 137.9h.01M132.3 134.6h.01M132.3 134.7h.01M132.6 131h.01M132.6 134.9h.01M132.6 136.3h.01M132.8 136.8h.01M132.8 131.4h.01M132.8 132.3h.01M133 131.9h.01M133 132.1h.01M133 129.9h.01M133.1 134h.01M133.1 135.2h.01M133.1 132.4h.01M133.4 131.3h.01M133.4 130.4h.01M133.4 131.7h.01M133.8 128.2h.01M133.8 130.4h.01M133.8 129.7h.01M134 131.2h.01M134 130.6h.01M134 125.3h.01M134.1 129.9h.01M134.1 128.7h.01M134.1 129.2h.01M134.5 128h.01M134.5 127.4h.01M134.5 127.4h.01M134.7 130.5h.01M134.7 130.2h.01M134.7 126.6h.01M135 127.2h.01M135 128.6h.01M135 131.3h.01M135.4 131.9h.01M135.4 129.9h.01M135.4 128.4h.01M135.5 131.6h.01M135.5 130.4h.01M135.5 131h.01M135.7 136.5h.01M135.7 133.3h.01M135.7 132.2h.01M135.9 135h.01M135.9 132.6h.01M135.9 132.2h.01M136.2 135.3h.01M136.2 135.5h.01M136.2 134.8h.01M136.3 133.9h.01M136.3 136.8h.01M136.3 137.5h.01M136.6 135.7h.01M136.6 136.9h.01M136.6 136.8h.01M136.8 137.3h.01M136.8 138.1h.01M136.8 139.4h.01M137 136.9h.01M137 136.5h.01M137 137.6h.01M137.3 134.2h.01M137.3 136.9h.01M137.3 135.9h.01M137.5 136.7h.01M137.5 137.6h.01M137.5 136.2h.01M137.8 133.4h.01M137.8 136.3h.01M137.8 135.2h.01M137.8 134h.01M137.8 133.1h.01M137.8 132.6h.01M138.2 133.7h.01M138.2 134.5h.01M138.2 131.1h.01M138.5 131.6h.01M138.5 129.9h.01M138.5 132.9h.01M138.8 131.1h.01M138.8 132h.01M138.8 129.9h.01M138.9 129.5h.01M138.9 130.9h.01M138.9 131.4h.01M139.3 132.2h.01M139.3 134h.01M139.3 131.2h.01M139.4 132.8h.01M139.4 133.5h.01M139.4 132.7h.01M139.7 133.3h.01M139.7 131.3h.01M139.7 135h.01M139.8 133.9h.01M139.8 134.7h.01M139.8 135.2h.01M140.1 136.7h.01M140.1 134.9h.01M140.1 133.8h.01M140.4 136.2h.01M140.4 136.1h.01M140.4 135.4h.01M140.6 137.2h.01M140.6 136.6h.01M140.6 139.4h.01M140.7 141.1h.01M140.7 141.4h.01M140.7 139.8h.01M141.1 138.9h.01M141.1 138.2h.01M141.1 140h.01M141.4 140.1h.01M141.4 140.2h.01M141.4 139.6h.01M141.6 139.7h.01M141.6 140.2h.01M141.6 139.8h.01M141.9 139h.01M141.9 136.5h.01M141.9 138.8h.01M142.1 139.4h.01M142.1 138.7h.01M142.1 137.1h.01M142.3 137.3h.01M142.3 134.4h.01M142.3 137h.01M142.5 137.3h.01M142.5 134.3h.01M142.5 135.4h.01M142.8 138h.01M142.8 135.4h.01M142.8 136.5h.01M143.1 134.1h.01M143.1 136.3h.01M143.1 135h.01M143.1 134.5h.01M143.1 135.2h.01M143.1 136.1h.01M143.3 135.8h.01M143.3 132.9h.01M143.3 134.1h.01M143.8 135.1h.01M143.8 136.7h.01M143.8 139.3h.01M143.9 134.4h.01M143.9 137.8h.01M143.9 136.8h.01M144.1 137.2h.01M144.1 137.8h.01M144.1 137.4h.01M144.3 138.3h.01M144.3 137.3h.01M144.3 137.9h.01M144.5 138.3h.01M144.5 140.5h.01M144.5 136.5h.01M144.9 139.2h.01M144.9 138.7h.01M144.9 138.6h.01M145.1 138.3h.01M145.1 141.3h.01M145.1 140h.01M145.3 141.3h.01M145.3 141.4h.01M145.3 139h.01M145.6 141.2h.01M145.6 141.4h.01M145.6 141.4h.01M145.9 141.5h.01M145.9 140.8h.01M145.9 141.1h.01M146 139.1h.01M146 141.3h.01M146 138.7h.01M146.1 139.5h.01M146.1 140.1h.01M146.1 140.6h.01M146.6 137.8h.01M146.6 140.7h.01M146.6 140.7h.01M146.8 139.2h.01M146.8 137h.01M146.8 137.3h.01M147 138.5h.01M147 137.9h.01M147 140.4h.01M147.1 138.2h.01M147.1 139h.01M147.1 138.1h.01M147.5 136.9h.01M147.5 136.5h.01M147.5 139.5h.01M147.6 135.8h.01M147.6 137.1h.01M147.6 138.8h.01M147.9 136.4h.01M147.9 135.3h.01M147.9 138.7h.01M148.2 139h.01M148.2 138.5h.01M148.2 137.8h.01M148.4 139.6h.01M148.4 136.4h.01M148.4 139h.01M148.7 138.2h.01M148.7 139.5h.01M148.7 139.7h.01M148.9 141.3h.01M148.9 139.3h.01M148.9 138.9h.01M149.1 141h.01M149.1 140.8h.01M149.1 140.8h.01M149.3 141h.01M149.3 140.4h.01M149.3 141.2h.01M149.7 140.6h.01M149.7 141.2h.01M149.7 141.3h.01M149.8 140.9h.01M149.8 140.5h.01M149.8 140.8h.01M150 140.4h.01M150 139h.01M150 139.5h.01M150.4 141h.01M150.4 140.6h.01M150.4 140.8h.01M150.5 140.2h.01M150.5 141.3h.01M150.5 141.1h.01M150.8 140.5h.01M150.8 140.1h.01M150.8 140.3h.01M151 141.4h.01M151 141.2h.01M151 139.9h.01M151.3 141.3h.01M151.3 138.4h.01M151.3 139.7h.01M151.5 141.4h.01M151.5 140.2h.01M151.5 141.3h.01M151.7 139.5h.01M151.7 140.4h.01M151.7 139.7h.01M151.9 139.9h.01M151.9 137.7h.01M151.9 138.7h.01M152.3 139.5h.01M152.3 138.5h.01M152.3 138.1h.01M152.6 136.9h.01M152.6 138h.01M152.6 139.7h.01M152.5 137.3h.01M152.5 137.7h.01M152.5 137.2h.01M152.8 139.1h.01M152.8 139.3h.01M152.8 137.4h.01M153.1 139.2h.01M153.1 137.2h.01M153.1 138.2h.01M153.4 137h.01M153.4 140.5h.01M153.4 138.6h.01M153.6 138.7h.01M153.6 139.5h.01M153.6 140.2h.01M153.9 140.9h.01M153.9 138.8h.01M153.9 139.8h.01M154.2 140.1h.01M154.2 140.4h.01M154.2 139.2h.01M154.2 141.1h.01M154.2 139.7h.01M154.2 139.2h.01M154.5 141.1h.01M154.5 139.4h.01M154.5 141h.01M154.6 137.5h.01M154.6 140.5h.01M154.6 140.4h.01M155.1 140h.01M155.1 140.2h.01M155.1 136.8h.01M155.2 139.6h.01M155.2 135.8h.01M155.2 137.2h.01M155.3 136.5h.01M155.3 137h.01M155.3 138.3h.01M155.7 137.8h.01M155.7 136.7h.01M155.7 137.1h.01M155.9 134.9h.01M155.9 137.3h.01M155.9 135h.01M156.1 135.2h.01M156.1 136.6h.01M156.1 135.3h.01M156.5 136.6h.01M156.5 134.6h.01M156.5 134.6h.01M156.5 133.5h.01M156.5 135h.01M156.5 134.5h.01M157 135h.01M157 132.1h.01M157 131.8h.01M157 133.5h.01M157 133.2h.01M157 133.3h.01M157.4 135.7h.01M157.4 133.1h.01M157.4 133.1h.01M157.5 135.7h.01M157.5 135.8h.01M157.5 136h.01M157.8 138.4h.01M157.8 135.8h.01M157.8 136.6h.01M158.2 134.6h.01M158.2 136h.01M158.2 137.6h.01M158.3 139.3h.01M158.3 136.1h.01M158.3 137.1h.01M158.5 137.4h.01M158.5 136.3h.01M158.5 138.8h.01M158.7 136.2h.01M158.7 138.9h.01M158.7 137h.01M159 139h.01M159 140.3h.01M159 138.6h.01M159.1 140h.01M159.1 137.1h.01M159.1 138.7h.01M159.5 139h.01M159.5 139.9h.01M159.5 140.3h.01M159.6 139h.01M159.6 138.3h.01M159.6 139.4h.01M160.1 138.6h.01M160.1 136.8h.01M160.1 139.7h.01M160.2 136.9h.01M160.2 138.1h.01M160.2 137.1h.01M160.6 137.6h.01M160.6 138.5h.01M160.6 136.5h.01M160.6 137.6h.01M160.6 135.1h.01M160.6 139.5h.01M161 137.6h.01M161 133.9h.01M161 137h.01M161.2 138.6h.01M161.2 135.6h.01M161.2 135h.01M161.5 140.1h.01M161.5 136.1h.01M161.5 135.2h.01M161.7 136.5h.01M161.7 139.4h.01M161.7 137.4h.01M161.9 139h.01M161.9 137.1h.01M161.9 138.6h.01M162.1 137.3h.01M162.1 139.4h.01M162.1 134.4h.01M162.3 138.4h.01M162.3 139.9h.01M162.3 138.8h.01M162.6 141.4h.01M162.6 141.5h.01M162.6 138.9h.01M162.8 140.2h.01M162.8 140.7h.01M162.8 140.3h.01M163 139.5h.01M163 141.1h.01M163 139.5h.01M163.4 141.4h.01M163.4 141.1h.01M163.4 139.4h.01M163.4 139.5h.01M163.4 141.3h.01M163.4 141.2h.01M163.8 140.8h.01M163.8 140.6h.01M163.8 140.7h.01M164.1 138.5h.01M164.1 138h.01M164.1 139h.01M164.3 138.2h.01M164.3 136.9h.01M164.3 137.6h.01M164.7 137.6h.01M164.7 139.3h.01M164.7 139.6h.01M164.7 136h.01M164.7 136h.01M164.7 136.9h.01M165 131.4h.01M165 137.4h.01M165 135.8h.01M165.2 136.6h.01M165.2 136.8h.01M165.2 135.9h.01M165.5 134.7h.01M165.5 132.8h.01M165.5 135.8h.01M165.4 130.9h.01M165.4 131.8h.01M165.4 134.9h.01M166 132.4h.01M166 132.9h.01M166 134.5h.01M166.2 134.8h.01M166.2 134h.01M166.2 135.8h.01M166.4 135.4h.01M166.4 135.5h.01M166.4 133.1h.01M166.5 137.6h.01M166.5 134.2h.01M166.5 134h.01M166.9 136.5h.01M166.9 135.8h.01M166.9 136.3h.01M167 135.4h.01M167 137.2h.01M167 133.2h.01M167.3 137.9h.01M167.3 133.9h.01M167.3 133.3h.01M167.6 137.9h.01M167.6 139.3h.01M167.6 135.8h.01M167.9 139.6h.01M167.9 137.6h.01M167.9 136.1h.01M168 134.4h.01M168 136.1h.01M168 137.2h.01M168.4 136.1h.01M168.4 135h.01M168.4 135.6h.01M168.5 135.7h.01M168.5 134.8h.01M168.5 134.1h.01M168.7 137.3h.01M168.7 132.3h.01M168.7 134.2h.01M169 133.8h.01M169 134.6h.01M169 137h.01M169.3 135.6h.01M169.3 132.9h.01M169.3 133.4h.01M169.4 132.5h.01M169.4 131.7h.01M169.4 132.8h.01M169.6 133.7h.01M169.6 129.7h.01M169.6 131.1h.01M169.9 130h.01M169.9 131.1h.01M169.9 131.6h.01M170.1 127.7h.01M170.1 130.2h.01M170.1 132.1h.01M170.4 127.3h.01M170.4 131.7h.01M170.4 128.3h.01M170.6 129.7h.01M170.6 131.2h.01M170.6 133.7h.01M170.8 128h.01M170.8 131.8h.01M170.8 130.7h.01M171.3 132.5h.01M171.3 131.7h.01M171.3 131.5h.01M171.2 133h.01M171.2 133.2h.01M171.2 134.1h.01M171.7 136.3h.01M171.7 132.4h.01M171.7 136.8h.01M171.8 132.7h.01M171.8 134.7h.01M171.8 136.2h.01M172 134.7h.01M172 132.8h.01M172 136.1h.01M172.1 135.5h.01M172.1 135.9h.01M172.1 136.5h.01M172.6 137.6h.01M172.6 135.9h.01M172.6 135.1h.01M172.9 129.5h.01M172.9 130.6h.01M172.9 132.9h.01M172.9 132.7h.01M172.9 133.5h.01M172.9 128.4h.01M173.2 132.2h.01M173.2 131.9h.01M173.2 128.9h.01M173.5 129h.01M173.5 131.1h.01M173.5 132.6h.01M173.6 129h.01M173.6 131.3h.01M173.6 130.8h.01M174 126.3h.01M174 127.3h.01M174 127.7h.01M174.1 128h.01M174.1 126.1h.01M174.1 128.3h.01M174.5 127.4h.01M174.5 125.4h.01M174.5 125.7h.01M174.6 129.4h.01M174.6 126h.01M174.6 124.6h.01M175 125.4h.01M175 127h.01M175 128.7h.01M175 130.1h.01M175 124.1h.01M175 127.7h.01M175.4 129.7h.01M175.4 129.3h.01M175.4 129.6h.01M175.7 133.3h.01M175.7 124.7h.01M175.7 125.8h.01M175.8 131.8h.01M175.8 135.7h.01M175.8 130.8h.01M176.1 129.1h.01M176.1 131.5h.01M176.1 130.2h.01M176.3 135.9h.01M176.3 125.4h.01M176.3 134.6h.01M176.7 128.7h.01M176.7 134.8h.01M176.7 132.2h.01M176.8 134.4h.01M176.8 129.9h.01M176.8 132.4h.01M177.1 129.6h.01M177.1 132.9h.01M177.1 132.8h.01M177.3 129.6h.01M177.3 128.8h.01M177.3 134.9h.01M177.4 124.5h.01M177.4 125.7h.01M177.4 127.8h.01M177.9 125.7h.01M177.9 121.9h.01M177.9 127.2h.01M177.9 120.9h.01M177.9 129.6h.01M177.9 124.9h.01M178.2 121.5h.01M178.2 127.7h.01M178.2 126.9h.01M178.6 123.6h.01M178.6 116.5h.01M178.6 113.9h.01M179 116.8h.01M179 120.1h.01M179 119h.01M179.1 118.2h.01M179.1 120.4h.01M179.1 114.2h.01M179.7 123.5h.01M179.7 120.2h.01M179.7 122.6h.01M180.3 120.6h.01M180.3 128.7h.01M180.3 118.1h.01M180.5 124.6h.01M180.5 129h.01M180.5 127.5h.01M180.7 123.6h.01M180.7 132.4h.01M180.7 119.9h.01M181.2 131.9h.01M181.2 131h.01M181.2 120h.01M181.5 129.3h.01M181.5 128.2h.01M181.5 130.2h.01M181.8 129.3h.01M181.8 133.9h.01M181.8 130.4h.01M182.1 127.6h.01M182.1 128.5h.01M182.1 125.9h.01M182.4 129.9h.01M182.4 123.2h.01M182.4 115.8h.01M182.6 124.4h.01M182.6 109.8h.01M182.6 121.1h.01M183 108.4h.01M183 112.3h.01M183 109.1h.01M183.2 115.6h.01M183.2 116h.01M183.2 116.6h.01M183.9 125.1h.01M183.9 121.2h.01M183.9 123.4h.01M184.6 129.4h.01M184.6 128h.01M184.6 115.1h.01M184.9 124h.01M184.9 126.3h.01M184.9 119.6h.01M185 132.1h.01M185 128.9h.01M185 131.5h.01M185.4 118.6h.01M185.4 119.1h.01M185.4 124h.01M185.6 112.6h.01M185.6 120.9h.01M185.6 113.4h.01M186.1 127.3h.01M186.1 126.4h.01M186.1 130.6h.01M186.3 120.2h.01M186.3 127.1h.01M186.3 129.1h.01M186.6 126.3h.01M186.6 121.8h.01M186.6 121.4h.01M187.4 117.9h.01M187.4 125.9h.01M187.4 111.3h.01M187.3 103h.01M187.3 117.1h.01M187.3 109.2h.01M187.7 103.8h.01M187.7 121.8h.01M187.7 120.1h.01M188.1 104.1h.01M188.1 106.8h.01M188.1 100.5h.01M188.4 111h.01M188.4 118.8h.01M188.4 115.4h.01M188.8 115.6h.01M188.8 120.9h.01M188.8 111.8h.01M189.1 120h.01M189.1 113.1h.01M189.1 119.1h.01M189.7 108.6h.01M189.7 131.3h.01M189.7 126h.01M190.4 128.5h.01M190.4 130.1h.01M190.4 131.9h.01M190.9 131.5h.01M190.9 129.7h.01M190.9 121.1h.01M190.8 129.8h.01M190.8 118.3h.01M190.8 116.9h.01M191.3 122.5h.01M191.3 110.8h.01M191.3 116.2h.01M191.5 112.9h.01M191.5 108.5h.01M191.5 113.5h.01M192.2 104.3h.01M192.2 107.7h.01M192.2 98.1h.01M192.3 105.8h.01M192.3 94.4h.01M192.3 100.1h.01M192.5 108.9h.01M192.5 110h.01M192.5 112.2h.01M192.8 100.6h.01M192.8 96.3h.01M192.8 101.4h.01M193.5 123.7h.01M193.5 107.1h.01M193.5 108.6h.01M193.8 118.4h.01M193.8 117.3h.01M193.8 112.8h.01M194.2 131.4h.01M194.2 123.9h.01M194.2 130.2h.01M194.4 120h.01M194.4 117.2h.01M194.4 111h.01M194.4 129.5h.01M194.4 124h.01M194.4 130.4h.01M195 128.8h.01M195 124.3h.01M195 120.4h.01M195.7 106.2h.01M195.7 109.9h.01M195.7 122.1h.01M195.9 114.9h.01M195.9 103.4h.01M195.9 113.7h.01M196.2 88.9h.01M196.2 106.7h.01M196.2 108.5h.01M196.4 99.4h.01M196.4 116.6h.01M196.4 98.7h.01M196.5 87.6h.01M196.5 98.8h.01M196.5 98.5h.01M197.1 110.2h.01M197.1 96.1h.01M197.1 93.4h.01M197.4 105.5h.01M197.4 110.2h.01M197.4 101.6h.01M197.5 105.5h.01M197.5 98.7h.01M197.5 94.1h.01M197.9 111.1h.01M197.9 116.8h.01M197.9 100.4h.01M198.2 110.2h.01M198.2 113.9h.01M198.2 120.2h.01M198.3 114.3h.01M198.3 109.3h.01M198.3 107.1h.01M198.7 118.5h.01M198.7 124.8h.01M198.7 105.8h.01M199.5 112.2h.01M199.5 119.4h.01M199.5 121.7h.01M199.6 106.5h.01M199.6 110.5h.01M199.6 108h.01M200 116.6h.01M200 110.5h.01M200 102.1h.01M200.5 96.1h.01M200.5 90.1h.01M200.5 116.5h.01M200.8 94.5h.01M200.8 103.6h.01M200.8 111.3h.01M201.3 97.1h.01M201.3 100.3h.01M201.3 106.1h.01M201.9 109.4h.01M201.9 104.5h.01M201.9 115.3h.01M202.1 122.3h.01M202.1 94.3h.01M202.1 99h.01M202.5 113.7h.01M202.5 98.6h.01M202.5 113.8h.01M202.5 123.1h.01M202.5 103.7h.01M202.5 95.7h.01M203.3 126h.01M203.3 111.8h.01M203.3 123.9h.01M203.6 110.5h.01M203.6 121.3h.01M203.6 121.4h.01M203.9 108.9h.01M203.9 117.9h.01M203.9 115.9h.01M204.2 115h.01M204.2 111.7h.01M204.2 98.4h.01M204.5 113.3h.01M204.5 109.2h.01M204.5 93.6h.01M205 89.2h.01M205 104.2h.01M205 88.2h.01M205.1 112h.01M205.1 93.3h.01M205.1 84.6h.01M205.4 90.3h.01M205.4 98.2h.01M205.4 86.5h.01M205.7 79.6h.01M205.7 93.2h.01M205.7 88.1h.01M206.1 91.1h.01M206.1 97.4h.01M206.1 95.9h.01M206.5 94h.01M206.5 92.1h.01M206.5 98.1h.01M207.6 101.9h.01M207.6 127.7h.01M207.6 111.5h.01M207.9 98.6h.01M207.9 117.6h.01M207.9 123.4h.01M208 129h.01M208 125.8h.01M208 123.1h.01M208.2 125.9h.01M208.2 112h.01M208.2 98h.01M208.4 105.8h.01M208.4 102h.01M208.4 115.9h.01M208.8 107.5h.01M208.8 114.8h.01M208.8 99.1h.01M209.2 109.3h.01M209.2 111.3h.01M209.2 97h.01M209.3 90.5h.01M209.3 95.5h.01M209.3 87.6h.01M209.7 92.6h.01M209.7 85.8h.01M209.7 105h.01M209.9 93h.01M209.9 88h.01M209.9 91.3h.01M210.2 91.9h.01M210.2 78h.01M210.2 79.3h.01M210.5 87.9h.01M210.5 97.5h.01M210.5 98.3h.01M210.9 98.8h.01M210.9 102.1h.01M210.9 101.6h.01M210.9 91.8h.01M210.9 117h.01M210.9 81.3h.01M211.3 96.9h.01M211.3 103.8h.01M211.3 98.2h.01M211.7 102.2h.01M211.7 115.1h.01M211.7 123.8h.01M212.1 109.5h.01M212.1 113.7h.01M212.1 114h.01M212.5 116.6h.01M212.5 110.5h.01M212.5 119.7h.01M212.9 101.5h.01M212.9 101.9h.01M212.9 108.8h.01M213 106h.01M213 113.4h.01M213 100h.01M213.2 93.2h.01M213.2 122.3h.01M213.2 89.8h.01M213.4 117.6h.01M213.4 105.2h.01M213.4 120.5h.01M213.8 85.4h.01M213.8 101.9h.01M213.8 91.2h.01M214.4 101h.01M214.4 97.9h.01M214.4 91.4h.01M214.6 90.7h.01M214.6 82.1h.01M214.6 91.1h.01M214.8 80.5h.01M214.8 78.4h.01M214.8 89.6h.01M215.5 103.6h.01M215.5 108.8h.01M215.5 102.9h.01M216.1 110.8h.01M216.1 98.8h.01M216.1 111h.01M217.4 107.4h.01M217.4 112.4h.01M217.4 113.3h.01M218 108.4h.01M218 100.5h.01M218 93.8h.01M218.2 101.4h.01M218.2 99.1h.01M218.2 94.4h.01M218.4 94.8h.01M218.4 95.3h.01M218.4 92.8h.01M219.1 91.3h.01M219.1 96.1h.01M219.1 99.1h.01M219.3 85.1h.01M219.3 95.8h.01M219.3 99.2h.01M219.5 97.7h.01M219.5 102.5h.01M219.5 92.7h.01M220.5 104.6h.01M220.5 99h.01M220.5 122.8h.01M221.5 119.3h.01M221.5 103.3h.01M221.5 118.7h.01M222.8 96.6h.01M222.8 100.4h.01M222.8 99h.01M223.3 104.7h.01M223.3 97.3h.01M223.3 99.6h.01M223.4 107.3h.01M223.4 91.4h.01M223.4 83.3h.01" stroke="#0a0a0a" stroke-width="1.4" stroke-linecap="square" fill="none"/>
<path d="M88.2 62.3h.01M88.1 45.7h.01M87.8 64h.01M88.2 56h.01M88.2 46.8h.01M88.3 71.8h.01M88.7 62.6h.01M87.9 62.6h.01M88.1 50.7h.01M88.3 44h.01M88 75.2h.01" stroke="#0a0a0a" stroke-width="1.4" stroke-linecap="square" fill="none"/>
<path d="M238.2 67.2h.01" stroke="#dd2222" stroke-width="1.5" stroke-linecap="square" fill="none"/>
<path d="M238.2 74.8h.01" stroke="#f5923a" stroke-width="1.5" stroke-linecap="square" fill="none"/>
<path d="M238.2 82.3h.01" stroke="#f2ea12" stroke-width="1.5" stroke-linecap="square" fill="none"/>
<path d="M238.2 89.8h.01" stroke="#8fd14a" stroke-width="1.5" stroke-linecap="square" fill="none"/>
<path d="M238.2 97.4h.01" stroke="#22dff0" stroke-width="1.5" stroke-linecap="square" fill="none"/>
<path d="M238.2 105h.01" stroke="#1f88c8" stroke-width="1.5" stroke-linecap="square" fill="none"/>
<path d="M238.2 112.5h.01" stroke="#6a35b8" stroke-width="1.5" stroke-linecap="square" fill="none"/>
<path d="M238.2 120.1h.01" stroke="#9440e0" stroke-width="1.5" stroke-linecap="square" fill="none"/>
<path d="M238.2 127.6h.01" stroke="#f55cf0" stroke-width="1.5" stroke-linecap="square" fill="none"/>
<path d="M238.2 135.2h.01" stroke="#0a0a0a" stroke-width="1.5" stroke-linecap="square" fill="none"/>
<line x1="50.75" y1="191.50" x2="50.75" y2="344.20" stroke="#222" stroke-width="1.1" />
<line x1="48.75" y1="342.00" x2="226.50" y2="342.00" stroke="#222" stroke-width="1.1" />
<line x1="48.55" y1="342.00" x2="50.75" y2="342.00" stroke="#222" stroke-width="0.9" />
<line x1="48.55" y1="312.00" x2="50.75" y2="312.00" stroke="#222" stroke-width="0.9" />
<line x1="48.55" y1="282.00" x2="50.75" y2="282.00" stroke="#222" stroke-width="0.9" />
<line x1="48.55" y1="252.00" x2="50.75" y2="252.00" stroke="#222" stroke-width="0.9" />
<line x1="48.55" y1="222.00" x2="50.75" y2="222.00" stroke="#222" stroke-width="0.9" />
<line x1="48.55" y1="192.00" x2="50.75" y2="192.00" stroke="#222" stroke-width="0.9" />
<line x1="50.75" y1="342.00" x2="50.75" y2="344.20" stroke="#222" stroke-width="0.9" />
<line x1="72.03" y1="342.00" x2="72.03" y2="344.20" stroke="#222" stroke-width="0.9" />
<line x1="93.31" y1="342.00" x2="93.31" y2="344.20" stroke="#222" stroke-width="0.9" />
<line x1="114.59" y1="342.00" x2="114.59" y2="344.20" stroke="#222" stroke-width="0.9" />
<line x1="135.88" y1="342.00" x2="135.88" y2="344.20" stroke="#222" stroke-width="0.9" />
<line x1="157.16" y1="342.00" x2="157.16" y2="344.20" stroke="#222" stroke-width="0.9" />
<line x1="178.44" y1="342.00" x2="178.44" y2="344.20" stroke="#222" stroke-width="0.9" />
<line x1="199.72" y1="342.00" x2="199.72" y2="344.20" stroke="#222" stroke-width="0.9" />
<line x1="221.00" y1="342.00" x2="221.00" y2="344.20" stroke="#222" stroke-width="0.9" />
<path d="M56.1 326h.01M59 271.3h.01M68.1 283.6h.01M66.7 296.5h.01M62.2 290.8h.01M56.7 237.8h.01M70.3 304.2h.01M51.9 321.1h.01M66.6 263h.01M64.8 321.1h.01M56.8 247.2h.01M54.1 316h.01M56.5 261.1h.01M56.5 291h.01M70.9 311.4h.01M55.8 326.9h.01M62.6 315.6h.01M53.8 298.4h.01M64.5 315.3h.01M66.6 282.7h.01M58.8 272.4h.01M67.8 309.6h.01M62.4 299.3h.01M65.2 317.6h.01M57.1 273.1h.01M64.9 281.6h.01M58.6 278.6h.01M56.2 237.4h.01M62.2 325h.01M56.7 245.5h.01M53 314.9h.01M56 250h.01M66.3 294.7h.01M55.5 294.3h.01M56.1 317.3h.01M61.5 310.1h.01M55.5 324.8h.01M54.7 289.2h.01M66.8 310.2h.01M61.8 290.2h.01M56.3 269.8h.01M56.9 260h.01M52.8 315h.01M56.3 286.7h.01M51.6 305.2h.01M52.1 308.6h.01M51.8 311.7h.01M62.4 315.8h.01M52.7 322.4h.01M67.8 317.3h.01M68.4 312.6h.01M56.7 306.5h.01M58.7 322.5h.01M56.6 282.7h.01M70.5 294.6h.01M62.1 315.5h.01M67.8 296.2h.01M54.2 279.5h.01M52.2 292.9h.01M57.1 273.7h.01M59 314.3h.01M66.5 308.5h.01M62.6 324.9h.01M68.1 299.7h.01M56.8 313h.01M56.3 242.3h.01M59 268.6h.01M51.6 317.3h.01M66.9 285.9h.01M66.4 311.8h.01M56.1 323.5h.01M51.7 317.4h.01M55.3 307.2h.01M52.3 318.3h.01M58.5 325.6h.01M70.6 276.5h.01M70 301.2h.01M55.5 300h.01M62 305.2h.01M64.9 308.6h.01M62.3 316.4h.01M56.1 299h.01M55.9 327.6h.01M54.2 266.9h.01M56.5 286.9h.01M54.4 317.1h.01M55.7 328.4h.01M56.5 326.7h.01M61.9 276.6h.01M55.9 298h.01M56.6 243.7h.01M55.9 269.7h.01M61.9 307.6h.01M55.8 292.6h.01M61.9 315.4h.01M56.8 277.4h.01M68.2 317.9h.01M68.8 306.9h.01M51.8 324.4h.01M62.4 292.5h.01M66.6 272.3h.01M62.5 322.3h.01M54.2 316.9h.01M58.9 287.2h.01M62.3 300.8h.01M67.3 287.3h.01M57 295.9h.01M66.1 278.3h.01M54.2 277.6h.01M52.6 304.4h.01M61.6 299h.01M53.9 313.4h.01M64.8 310.5h.01M56.4 252.6h.01M65 299.6h.01M56.3 262.6h.01M56.5 292.7h.01M65.2 301.6h.01M62.3 268.9h.01M58.5 271.1h.01M62.2 324.3h.01M62.1 319.6h.01M70.9 305.3h.01M62.3 272.3h.01M59.2 299h.01M66.5 266h.01M53 322.2h.01M55.7 317.8h.01M62.1 282.6h.01M58.3 306.1h.01M68.1 320.9h.01M56.3 302.5h.01M70.8 315.4h.01M66.9 313.6h.01M66.5 314.4h.01M65 288.7h.01M54.4 293.7h.01M58.6 280h.01M62 318.8h.01M62.3 312.5h.01M62.3 307.7h.01M57 244.4h.01M57 253.8h.01M64.7 305h.01M55.9 324.3h.01M56.2 319.7h.01M58.5 324h.01M51.9 322.9h.01M62 323h.01M65 321.8h.01M57.3 238.2h.01M51.9 303.6h.01M56.1 320.2h.01M56.7 291.3h.01M56.4 319.6h.01M56.6 277.9h.01M64.5 291.3h.01M52.3 325.2h.01M56.3 267.9h.01M61.8 317.3h.01" stroke="#f5923a" stroke-width="1.45" stroke-linecap="square" fill="none"/>
<path d="M99.6 271.9h.01M106 307.1h.01M111.3 311.9h.01M99.9 304h.01M100 288.4h.01M104.4 313.3h.01M108.3 315.5h.01M111.3 300.9h.01M105.3 329.6h.01M115.3 309.3h.01M99.3 321.1h.01M106 305.1h.01M113.9 292.9h.01M104.8 289.8h.01M102.9 316.6h.01M105.5 313.2h.01M109.9 319.4h.01M101.2 301.7h.01M100.9 335.3h.01M99.2 296.9h.01M110.6 297.8h.01M113.7 310h.01M110.3 309.8h.01M101.4 331h.01M105.2 326.4h.01M101.3 334.8h.01M104.3 303.7h.01M113.9 295.7h.01M109.7 337.4h.01M104.4 300.5h.01M99.6 298.4h.01M98.4 284.9h.01M109.9 311h.01M110.9 310.7h.01M115.1 308.3h.01M111.7 299.3h.01M114.7 308.1h.01M110 317h.01M105.6 331h.01M99.1 285.3h.01M104.7 321h.01M111.2 303.4h.01M99.3 283.5h.01M105.7 308.7h.01M103.1 315.8h.01M115.6 322h.01M115.4 310.3h.01M101.1 322.6h.01M109.8 314.7h.01M111 315.3h.01M115.1 317.6h.01M101 325h.01M105.8 325.4h.01M113.5 303.8h.01M101.6 316.1h.01M106.4 311.4h.01M99.4 260.1h.01M102.8 311h.01M105.4 297.6h.01M110.1 311.5h.01M99 262.4h.01M106.1 319.3h.01M105.5 332.1h.01M101.2 309.4h.01M102.6 322.5h.01M113.6 306.8h.01M104.2 312.4h.01M109.4 318.6h.01M108 327.4h.01M102.9 311.3h.01" stroke="#f5923a" stroke-width="1.45" stroke-linecap="square" fill="none"/>
<path d="M96.5 338.2h.01M96.6 341.4h.01M96.1 322.8h.01M95.1 316.3h.01M95 304.1h.01M95.5 308.4h.01M95.6 317.6h.01M95.7 307.1h.01M95.3 317.9h.01M95.6 309.1h.01M96.6 333.8h.01M95.9 315h.01M95.6 306.2h.01M96.3 320.9h.01M96.7 339.3h.01M96.3 307h.01M96 321.7h.01M96.1 331.6h.01M95.3 328.6h.01M96.5 303.4h.01M96.7 322.4h.01M95.3 306.5h.01M94.9 307.2h.01M96.1 331.6h.01M95.9 311.4h.01M96.6 321.8h.01M95.9 322.8h.01M96 315.8h.01M95.2 302.8h.01M95.8 339.3h.01M96.1 319.6h.01M95.3 306.7h.01M95.6 301.9h.01M96.5 337.5h.01M95.4 339.6h.01M96.8 341.4h.01M96.3 320.7h.01M95.4 310.8h.01M95.7 327h.01M96.1 309.3h.01M95.3 303.5h.01M96.6 324h.01M96.2 335.2h.01M96.3 302.4h.01M96 303.6h.01M96 321.3h.01M96.5 313.3h.01M95.3 303.1h.01M96.3 309.5h.01M96.2 339h.01M96.4 338h.01M95.8 308.2h.01M95.2 303.7h.01M96 320.9h.01M95.4 317.9h.01M96.4 324.3h.01M96.2 336.8h.01M95.9 339.9h.01M96.4 337h.01M96.5 305.9h.01M96.4 336.8h.01M95.8 312.2h.01M96.6 308.3h.01M96.5 317.2h.01M95.5 306h.01M96.6 312.5h.01M95.3 325.4h.01M95.3 311.7h.01M95.2 326.6h.01M95.4 301.7h.01M95.5 318.8h.01M96.4 321.1h.01M96.2 332.6h.01M96.5 336.6h.01M95.8 322.6h.01" stroke="#8fd14a" stroke-width="1.45" stroke-linecap="square" fill="none"/>
<path d="M95.6 265.3h.01M96.2 298.7h.01M96 295.2h.01M96.1 254.4h.01M96.3 295.1h.01M96.6 294.1h.01M96.2 264.3h.01M95.9 282.2h.01M95.9 292.4h.01M96.6 252.3h.01M96.4 300.6h.01M96.2 291.8h.01M97.4 303.6h.01M96 301h.01M97.1 299h.01M96.1 255.2h.01" stroke="#8fd14a" stroke-width="1.45" stroke-linecap="square" fill="none"/>
<path d="M154.3 329.4h.01M122.6 339.3h.01M125.1 334h.01M154.7 313.9h.01M155.1 317.1h.01M128.6 335.9h.01M133.9 341.4h.01M109.5 328.8h.01M125.5 330.6h.01M102 326h.01M145.6 336.8h.01M97.9 332.5h.01M109.3 311.5h.01M167.8 336.4h.01M154.4 332.6h.01M154.4 318.2h.01M112.5 327.7h.01M122.8 337.6h.01M99.5 331.2h.01M109.6 335.4h.01M100.5 310.3h.01M116.1 333.6h.01M119.2 339.2h.01M109.2 303.6h.01M113.1 322.3h.01M157.1 323.9h.01M151.4 324.4h.01M115.7 325.7h.01M142.6 319.3h.01M100.6 290.1h.01M122.5 334.7h.01M114 318.1h.01M145.4 335h.01M138.5 330.7h.01M157 338.8h.01M150.6 331.1h.01M118.8 331.7h.01M133 330.2h.01M118.3 330.7h.01M132.9 335.9h.01M118.7 339.1h.01M145.3 325.8h.01M109 338.2h.01M109.6 333.3h.01M113.2 321.6h.01M117.5 305.2h.01M100.5 312.1h.01M164.1 339h.01M109.5 332.9h.01M109 306.4h.01M99.8 332.7h.01M123.2 340h.01M134.1 326.5h.01M107.5 298.2h.01M112.4 310.1h.01M100.5 297.3h.01M150.4 328.1h.01M123.3 331.3h.01M113 324.1h.01M109.1 303.4h.01M133.7 338.7h.01M100.5 335.1h.01M122.6 333.4h.01M125.7 327.4h.01M137.6 338.5h.01M149.7 332h.01M114.6 334.5h.01M118.3 337h.01M98 314.6h.01M112.2 300.7h.01M115.5 330.7h.01M107 315.4h.01M98 322.3h.01M122.2 338.1h.01M113.9 332.6h.01M98.4 329.7h.01M138 335.9h.01M132.9 327.4h.01M113.7 334.4h.01M138.2 340.5h.01M118.6 338.2h.01M151.9 338.6h.01M129 333.7h.01M149.7 341.4h.01M140 324.1h.01M102.7 337.5h.01M125.3 333.4h.01M109.1 324.2h.01M109.5 308.3h.01M156.2 325.9h.01M160.8 337.3h.01M162.1 335.5h.01M108.9 315.3h.01M125 331.8h.01M100.5 326.7h.01M151.8 340.8h.01M115.5 330.5h.01M109.1 305.8h.01M140.2 338.8h.01M123 329.4h.01M98.5 324.3h.01M102.8 329.2h.01M107.7 313.6h.01M162.7 338.5h.01M118.3 340.2h.01M122 341.3h.01M118.6 333.2h.01M107.4 315.3h.01M164.6 334.8h.01M102.6 335.5h.01M149.8 337.4h.01M112.4 307.1h.01M129 339.4h.01M156.4 330h.01M98.4 328.6h.01M160.3 330.4h.01M107.3 314.2h.01M109.7 339.6h.01M160.7 324.3h.01M154.3 319.7h.01M164.3 339.9h.01M113 330.2h.01M143.1 310.2h.01M154.1 338.4h.01M119.2 326.3h.01M107.6 314.9h.01M100.6 288.1h.01M132.9 324.9h.01M139.9 333.6h.01M100 325.2h.01M100 294.3h.01M164.2 336h.01M108.9 336.7h.01M133 332h.01M114.8 329h.01M122.4 336.5h.01M133.3 330h.01M151.5 329h.01M133.9 332.3h.01M156.4 338.4h.01M115.6 339.4h.01M100.9 325.1h.01M160.6 336.6h.01M100.7 331.1h.01M164.3 338.8h.01M117.5 315.2h.01M160.8 339.2h.01M108.6 318.2h.01M108.5 314.5h.01M118.7 332.2h.01M109.5 334.2h.01M164.4 327.6h.01M109.5 335h.01M108 313.3h.01M167.3 334.3h.01M108.9 320.4h.01M108.8 326.5h.01M156.3 335.8h.01M100.6 299.7h.01M108.8 307.1h.01M112.9 317.4h.01M156.5 340.1h.01M118.7 329.3h.01M116.1 339.6h.01M115.6 335.2h.01M156.8 336.7h.01M153.8 326.1h.01M112.2 313.9h.01M154 322.5h.01M116 334.2h.01" stroke="#8fd14a" stroke-width="1.45" stroke-linecap="square" fill="none"/>
<path d="M146.8 335.6h.01M131.9 336.2h.01M144.2 332.8h.01M119.1 322.3h.01M121.9 339.6h.01M124.4 335.6h.01M147.6 338.3h.01M186.4 300.1h.01M131.3 339.7h.01M131.9 339.9h.01M184.2 304.1h.01M183.1 327.7h.01M167.1 321.9h.01M169.7 330.9h.01M184 315.7h.01M112.7 317.6h.01M169 337h.01M164.1 337.4h.01M121.8 341.4h.01M170 329.3h.01M110.1 326.9h.01M145.9 341.4h.01M146.1 335.9h.01M166.9 325h.01M109.9 316.1h.01M181.3 334.7h.01M176.3 334.2h.01M169.7 334.9h.01M160.4 327.2h.01M124.1 341h.01M153.6 332.9h.01M112.9 306.8h.01M113 311.7h.01M169.3 336.3h.01M114.8 340.5h.01M176.1 331.4h.01M114.3 337.7h.01M180 308.6h.01M179.6 319.8h.01M181.4 336.1h.01M110.5 321.8h.01M181.4 322.6h.01M169.1 337.9h.01M169.3 329.7h.01M180.1 332.2h.01M148.1 341.3h.01M144.4 336.9h.01M160.2 338.1h.01M160.4 338.7h.01M158.2 329.9h.01M118.5 323.8h.01M121.9 339.8h.01M186.1 328.4h.01M125.2 338.8h.01M122.4 340.7h.01M119.8 339.7h.01M154.3 341.4h.01M148.7 336.8h.01M166.7 336.1h.01M139.9 337.9h.01M160.4 329.4h.01M146.1 338.3h.01M164.1 336.7h.01M157.3 334.3h.01M146.5 340.8h.01M148.3 341.4h.01M184.6 332.2h.01M110.6 321.5h.01M168.6 338.5h.01M167.4 330.6h.01M169 340.9h.01M167.2 328.6h.01M114.7 338.9h.01M144.4 327.3h.01M185.9 316h.01M148.1 330.4h.01M110.2 325h.01M168.6 339.7h.01M131.8 329.2h.01M160.5 337.6h.01M114.9 338.1h.01M128.8 341.4h.01M113.8 340.7h.01M182.8 325.4h.01M125.5 333.8h.01M186 316.7h.01M148.2 334.9h.01M115 340h.01M182.5 335.1h.01M184.6 326.5h.01M126 339.7h.01M109.8 332.9h.01M183.2 330.9h.01M110.6 321.3h.01M166.9 324.3h.01M169.3 341.4h.01M160.3 339.3h.01M110.5 329h.01M120 338.5h.01M181.1 336.8h.01M151.3 340.1h.01M121.6 336.6h.01M147.8 329.6h.01M131.8 329.7h.01M167.2 330h.01M110.7 308.6h.01M147.9 325.5h.01M144.6 333.1h.01M112.1 323.5h.01M132.1 324.2h.01M167.2 319.9h.01M160.1 341.3h.01M132.1 329.7h.01M168.2 341.4h.01M148.5 336.7h.01M180.8 336.1h.01M175.3 329.5h.01M160.4 341.1h.01M110.3 321.6h.01M167.2 321.7h.01M165.9 333.9h.01M176.1 331.9h.01M181.4 329.2h.01M180.9 336.5h.01M125.8 329.8h.01M146.6 341.3h.01M131.5 326.7h.01M185.9 331.2h.01M151.5 332.3h.01M112.2 311.4h.01M180.4 316.3h.01M120.3 336.5h.01M124.6 341.1h.01M182.7 331.9h.01M181.2 328.9h.01M114.8 326.5h.01M121.7 334.4h.01M112 312.4h.01M157.9 337.7h.01M186.2 314.9h.01M169.6 336.5h.01M110.4 320.7h.01M186.4 330.7h.01M115.2 337.9h.01M169.4 337.3h.01M125.1 339.7h.01M180.4 312.3h.01M119.6 335.5h.01M137.9 341h.01M114.5 333.2h.01M182 333.6h.01M119.1 327.2h.01M125.5 339.6h.01M114.8 334.7h.01M121.5 337h.01M159.4 322.7h.01M115.2 340.3h.01M167.1 331.1h.01M183 326.1h.01M153.2 338.1h.01M164.3 335.7h.01M166.1 329.3h.01M132.1 338.9h.01M110.7 322.8h.01M125.3 332.3h.01M169.5 339.6h.01M166.2 335.3h.01M166.6 338.8h.01M151.3 337.4h.01M144.3 335.2h.01M131.8 338.4h.01M119.2 321.3h.01M131.9 329.9h.01M157.6 331.8h.01M138.3 334.5h.01M110 331.7h.01M118.9 325.9h.01M169.2 340.7h.01M184.7 329.7h.01M139.7 340.9h.01M164.3 341.4h.01M160.3 322.3h.01M160.1 320.6h.01M166.9 324.2h.01M151.8 330.3h.01M125 337.8h.01M184.4 304.9h.01M140.1 329.2h.01M166.1 323.6h.01M182.8 328.8h.01M184.4 308h.01M149 341h.01M169.2 326.8h.01M125.5 339.5h.01M114.8 332.5h.01M166.5 341.4h.01M146 335.7h.01M184 323.8h.01M183.2 322.9h.01M131.5 335h.01M181.2 330.4h.01M147.4 332.2h.01M167.2 327.4h.01M114.7 332.5h.01M169.3 328.4h.01M121.7 339.5h.01M165.8 329h.01M169.2 341.4h.01M125.4 339.9h.01M151.1 337.9h.01M165.8 338h.01M181 328.7h.01M153.3 337.9h.01M180.8 331.8h.01M166.5 332h.01M180.5 331.1h.01M166.7 335.8h.01M125.5 340.3h.01M131.7 337.2h.01M182.9 322.6h.01M175.9 323.9h.01M119.7 338.4h.01M169 337.2h.01M125.5 336.8h.01M122.1 339.2h.01M180.3 307h.01M137.6 332.7h.01M139.7 337h.01M112.3 320.2h.01M125.7 338.3h.01M124.6 331.5h.01M181.7 332.7h.01M112.5 317.4h.01M184.6 315.8h.01M112.8 327.7h.01M151.2 339.1h.01M182.9 321.4h.01M160.7 338.1h.01M138.1 337.1h.01M176.2 329.3h.01M181.5 325.1h.01M112.4 321.8h.01M131.8 331.7h.01M167.4 328.3h.01M128.6 338.8h.01M186.3 325.8h.01M131.4 341.4h.01M114.8 340.5h.01M131.3 333.3h.01M153.6 333.9h.01M114.9 328.6h.01M140 336.1h.01M166.1 334h.01M119.4 333.2h.01M169.6 326.1h.01M119.3 326.7h.01M148.6 341.4h.01M125.6 340.4h.01M166.1 333.5h.01M160.3 323.7h.01M148.6 340.4h.01M140 336h.01M132.1 331.8h.01M110.7 321.9h.01M186 322.3h.01M131.8 338.8h.01M132.3 339.6h.01M111.3 338.7h.01M181.3 318.8h.01M130 339.8h.01M165.6 338.6h.01M183 334.9h.01M131.9 335.4h.01M152.3 334.1h.01M131.7 328.7h.01M186.2 326.6h.01M183.6 308.9h.01M166.1 334.2h.01M132.2 330.8h.01M125.2 330.5h.01M148.3 340.4h.01M158.6 337.1h.01M132 339h.01M132.4 336.2h.01M131.7 329.9h.01M131.8 340h.01M112.5 314.6h.01M179.8 318.1h.01M153.7 339.4h.01M182.4 327.9h.01M182.8 326.9h.01M179.9 319.5h.01M151 339.9h.01M160.2 327.3h.01M112.5 330.3h.01M132 337.7h.01M166.2 331h.01M166.1 330h.01M148.6 335.2h.01M132.4 321.2h.01" stroke="#f2ea12" stroke-width="1.45" stroke-linecap="square" fill="none"/>
<path d="M157.2 323.9h.01M130.8 340.1h.01M168.8 334.9h.01M130.8 334.9h.01M174.6 321.8h.01M157.6 324.7h.01M174.7 321.2h.01M146.9 331.4h.01M148.8 335.8h.01M148.2 336.3h.01M162.1 340.8h.01M145.4 337.5h.01M156 334.9h.01M162.3 337.3h.01M147.2 336.2h.01M147.7 327.7h.01M147.4 332.4h.01M151 339.1h.01M165.8 340.8h.01M146.3 331.4h.01M126.7 333.7h.01M144.4 337.1h.01M156.6 335.2h.01M157.6 325.7h.01M130.9 336.5h.01M175.1 332.8h.01M156.2 326h.01M167.2 337.2h.01M144.6 334.5h.01M166.1 341.3h.01M150.7 339.6h.01M126.7 338.7h.01M174.7 322.9h.01M128.5 318.4h.01M157.4 328h.01M166.2 334.8h.01M176.8 320.3h.01M148.5 337.1h.01M131.3 333.8h.01M169.8 334.1h.01M151.1 334.2h.01M147.5 334.1h.01M168.7 329.8h.01M175.4 314.1h.01M176.3 318.2h.01M170.4 340.6h.01M130.5 338.3h.01M170 331h.01M147.2 332.8h.01M158 329.2h.01M165.8 328.4h.01M139.7 324.3h.01M130.9 340.1h.01M130.6 341.3h.01M126.7 332.2h.01M174.8 318.2h.01M145.4 334.6h.01M166.5 337.6h.01M156 327.6h.01M147.7 329.3h.01M144.9 338.6h.01M174.2 331.9h.01M150.9 339.1h.01M165.9 341.4h.01M166.9 327.8h.01M157.5 322.6h.01M176 313.7h.01M146.9 334.5h.01M150.5 331.3h.01M129.9 333.1h.01M176.8 332.4h.01M174.6 321.4h.01M139.6 326.6h.01M126.9 330.6h.01M130.7 341.4h.01M156.1 329.4h.01M150.4 332.1h.01M174.7 327.4h.01M170.7 333.7h.01M147 333.5h.01M140.1 323.6h.01M165.6 318.8h.01M175.7 319.6h.01M148.1 331.3h.01M169.3 339.4h.01M169.1 335.5h.01M147.4 339.5h.01M162.4 339.6h.01M166 338.5h.01M148.2 325.8h.01M166.2 328.7h.01M130.5 335.9h.01M162.5 339.7h.01M128.5 334.5h.01M150.4 330.8h.01M169.2 335.2h.01M130.2 333.7h.01M139.6 324.3h.01M174.7 329.9h.01M151.1 331.4h.01M148.8 335.7h.01M174.1 324.9h.01M175.6 325.4h.01M128.2 324.4h.01M141.1 331.4h.01M144.4 337.7h.01M175.8 332.9h.01M131.4 339.1h.01M147.2 338h.01M176.3 310.3h.01M139.7 329.9h.01M128.3 332.2h.01M144.1 331.1h.01M147.3 340.2h.01M130.9 331.6h.01M139.8 324.7h.01M169.8 339.5h.01M165 341.4h.01M162.7 339.4h.01M126.7 335h.01M150.5 326.5h.01M146 332.4h.01M147.4 337.9h.01M175.3 320.3h.01M165.9 334.8h.01M148.8 332.5h.01M168.7 336.8h.01M174.7 335.1h.01M156.1 333.7h.01M166.2 339.4h.01M131.1 334.2h.01M146.4 334.8h.01M130.4 335.2h.01M168.7 325.7h.01M147.1 327.3h.01M175.8 323.5h.01M126.6 328.7h.01M157.4 322.7h.01M150.3 336.6h.01M130.9 331.9h.01M151 339.1h.01M143.2 325.9h.01M129 325.9h.01M170.5 320.4h.01M165.4 340.1h.01M166.4 337h.01M150.7 333.9h.01M165.9 339.3h.01M147.2 331.2h.01M128.4 329.2h.01M156.3 330.1h.01M148.4 325.1h.01M150.9 341.4h.01M141.5 334.5h.01M144.8 340.1h.01M155.9 332.6h.01M147.8 331.3h.01M168.9 337.8h.01M166.1 324.5h.01M127.1 340.9h.01M150.9 338.9h.01M165.6 340.9h.01M170.8 333.7h.01M129.7 326.6h.01M175.2 309.9h.01M150.7 327.3h.01M165.2 333.4h.01M147.7 332.3h.01M166.6 327.4h.01M169.6 335.6h.01M128.2 328.9h.01M144.5 337h.01M128.2 335.7h.01M170.7 335.6h.01M162.2 341.2h.01M139 334.8h.01M143.2 329.1h.01M128 333.6h.01M128.2 326.6h.01M148.6 339.6h.01M144.7 341.4h.01M143 333.1h.01M150.2 338.2h.01M166.9 332.6h.01M146.9 339h.01M144.3 339.4h.01M130.7 337.6h.01M143.2 325.6h.01M143.6 330.2h.01M127 336.9h.01M156.1 340.7h.01M176 311h.01M143.1 332.8h.01M146.1 333.4h.01M155.8 334.5h.01M147.8 331.8h.01M174.5 320.8h.01M150.8 337.6h.01M144.2 327.7h.01M162.3 337.2h.01M175.1 326.4h.01M165.9 338.7h.01M141.3 333.3h.01M141.2 327.1h.01M156.1 339.1h.01M157.8 327.8h.01M170.5 330h.01M176.9 325.7h.01M169.1 329.8h.01M170.5 336.4h.01M150.8 338.1h.01M148.9 339.7h.01M131.1 336.3h.01M129.9 329.8h.01M139.7 327.2h.01M131.5 327.7h.01M141.5 332h.01M174.9 325.9h.01M128.7 320.6h.01M142 339h.01M147.6 337.3h.01M150.4 335h.01M139.7 337.7h.01M162.3 331.3h.01M175.1 334.7h.01M130.8 338.4h.01M157.9 326.2h.01M157.7 326.8h.01M143.8 328.7h.01M128.5 323.9h.01M128.7 321.1h.01M175.3 331.6h.01M175.6 333.4h.01M147.3 334h.01M150.7 338.2h.01M148.2 341.4h.01M128.5 325.4h.01M166.8 341.1h.01M174.3 307.8h.01M129.4 330.9h.01M151 341.4h.01M139.9 326.6h.01M165.6 339.5h.01M174.7 310.7h.01M128.4 328.6h.01M146.6 329h.01M176.3 308h.01M146.8 332h.01M128.9 319.7h.01M167 332.2h.01M174.8 333.4h.01M148.2 341.2h.01M166.8 331.7h.01M150.8 339.6h.01M139.4 326.4h.01M145.9 336h.01M165.2 340.9h.01M177.1 319.6h.01M175.8 312.6h.01M148.1 329.8h.01M169.8 335.8h.01M176.9 331.7h.01M139.7 330.8h.01M151.2 337.5h.01M129.7 328.3h.01M157.8 328.6h.01M138.9 333.1h.01M148.1 335.7h.01M139.6 338.3h.01M164.9 340.7h.01M146.5 335.8h.01M130.4 332.4h.01M140.1 332.4h.01M150.6 339.3h.01M130.7 339.8h.01M144.3 340.6h.01M150.7 328.9h.01M130.3 333.4h.01M130.6 336.1h.01M139.3 329.2h.01M170.8 325.2h.01M128.4 326h.01M143.7 323.1h.01M147.6 332.2h.01M148.5 340.1h.01M130.9 338.3h.01M128.6 318.9h.01M170.7 338.9h.01M156.7 334.2h.01M147.9 329.7h.01M131 336.7h.01M151.2 336.6h.01M169.4 326.3h.01M144.1 341.4h.01M169 325h.01M166.2 328.6h.01M175.7 322.9h.01M170.8 331.4h.01M150.7 334.3h.01M175.6 321.5h.01M168.9 335.1h.01M162.4 341.4h.01M167.2 336.5h.01M168.8 335.7h.01M150.9 340.3h.01M146.5 340.3h.01M147.5 338.1h.01M146.6 335.1h.01M150.7 336.1h.01M166.9 328.6h.01M174.9 331.8h.01M175.2 303.7h.01M127.1 328.6h.01M156 332.1h.01M126.6 331.6h.01M129.7 331.5h.01M162.4 341.4h.01M151 337.8h.01M150.7 339.1h.01M156.5 327.7h.01" stroke="#22dff0" stroke-width="1.45" stroke-linecap="square" fill="none"/>
<path d="M139 334.7h.01M156.2 340.9h.01M181.1 325.9h.01M136.7 337.6h.01M183.9 316h.01M181.8 330.2h.01M159.5 337.6h.01M189.3 308.8h.01M156.4 339.2h.01M164.7 333.3h.01M146.1 337.6h.01M150.8 337.3h.01M143 336h.01M145.5 334.8h.01M139.3 335.5h.01M159.2 339.4h.01M144.6 341.4h.01M156.5 332.3h.01M172 339.5h.01M146.1 338.7h.01M189.3 300.7h.01M156.3 338.4h.01M136.5 332.7h.01M188.2 324.7h.01M175.7 315.9h.01M139.8 338.7h.01M186.9 308.4h.01M190.2 314.2h.01M146.1 323.8h.01M163.6 337.4h.01M189.8 319.4h.01M147.4 339.4h.01M180.4 298.6h.01M163.3 336.8h.01M162.1 332.5h.01M186.7 283.1h.01M188.2 311.4h.01M144.5 340.3h.01M143.1 338.8h.01M175.6 324.2h.01M188.3 327.2h.01M139 333.8h.01M145.1 339.4h.01M181.8 330.4h.01M182 333.9h.01M181.4 323.5h.01M188.4 282.2h.01M142.4 339.6h.01M181.8 320.3h.01M144 341.4h.01M151.4 336.1h.01M180 299h.01M145.7 331.6h.01M142.6 329.8h.01M188.5 289.4h.01M139.3 337.9h.01M176.1 319.1h.01M187.7 315.7h.01M183.8 299h.01M159.2 340.4h.01M141 338.7h.01M139.2 334.2h.01M142.9 339.1h.01M168.4 315.7h.01M178 323.1h.01M145.7 338.5h.01M159.7 337.3h.01M135.9 337.6h.01M145.6 334.3h.01M138.9 331.7h.01M139.2 329.4h.01M144.1 341.4h.01M175.9 325.4h.01M145.9 339.7h.01M150.8 338.5h.01M189.3 301.7h.01M144.3 338.9h.01M177.8 310h.01M142.8 329.4h.01M156.3 338.6h.01M183.9 294.1h.01M186.8 300.4h.01M145.8 335.1h.01M188.2 316.1h.01M139.3 329.9h.01M176.2 324.6h.01M163.7 322h.01M156.4 336.2h.01M168.4 327.6h.01M139.3 333.5h.01M145.6 330.6h.01M165.3 340.8h.01M167.8 317.8h.01M162.3 324.8h.01M156.2 334.9h.01M165.3 333.4h.01M183 300h.01M162.7 336.8h.01M143.2 324.1h.01M136.3 339.4h.01M188.4 281.2h.01M188.6 284.3h.01M176.1 323.5h.01M163.5 341h.01M168.1 322.5h.01M162.6 332.5h.01M136.4 331.1h.01M163.5 339.9h.01M145.6 334.6h.01M163.1 337.3h.01M145.5 340.1h.01M139.3 339.1h.01M142.8 336.8h.01M163.5 341.1h.01M163.3 340.5h.01M177.7 315.3h.01M146.1 325.9h.01M188.5 313.7h.01M144.2 339.6h.01M188.4 330.4h.01M139.2 338.2h.01M156.4 339.4h.01M135.9 338.2h.01M139.1 336.3h.01M150.9 341.3h.01M139.3 336.6h.01M186.6 275.5h.01M147 341.3h.01M165.4 341.4h.01M175.6 320.9h.01M189.1 328.4h.01M144.5 336.7h.01M165.4 341.4h.01M159.4 332.2h.01M181.5 332.7h.01M172.7 328.1h.01M144.7 332.8h.01M156.5 341.2h.01M172.2 338.4h.01M165.5 341.4h.01M189.2 303.1h.01M165.4 337.2h.01M183.6 301.5h.01M139.3 329.7h.01M143.9 340.5h.01M189.7 326.1h.01M146.7 341.2h.01M150.9 340.7h.01M145.7 331h.01M151 339.9h.01M142.5 334h.01M184 300h.01M163.1 339.1h.01M143.7 338.5h.01M183.4 305.5h.01M144.7 337.7h.01M151.2 340.1h.01M156.6 339.5h.01M162.3 333.1h.01M156.3 335.2h.01M159.3 336.7h.01M162.8 334.8h.01M159.1 338.6h.01M146.7 336.1h.01M142.4 334.3h.01M179.8 299.5h.01M175.8 321.2h.01M140.6 340.9h.01M151.3 337.6h.01M162.1 333h.01M145 340.1h.01M164.1 328h.01M146.6 340.8h.01M146 339.3h.01M140.4 336.2h.01M190.2 321.6h.01M140.9 334.8h.01M177.4 333.4h.01M145.4 325.7h.01M164.6 334.3h.01M183.3 294.1h.01M163.6 341.4h.01M142.6 339.8h.01M146.9 340.2h.01M188.6 314h.01M163.1 341.1h.01M145.8 340.9h.01M163.2 341.4h.01M181.8 328h.01M144.3 341.4h.01M143.1 332.4h.01M183.3 326.6h.01M165.3 337.9h.01M181.3 322.2h.01M162.2 334.2h.01M156.7 339.1h.01M165.6 341.4h.01M189.3 300.8h.01M186.6 293.7h.01M165 336.7h.01M181.9 330.9h.01M140.5 339.5h.01M187 292.1h.01M140.6 339h.01M138.7 332.8h.01M163.9 321.2h.01M163.5 329.8h.01M142.9 321.3h.01M164.9 339.3h.01M136.5 340.5h.01M163.5 322.2h.01M190.2 297.4h.01M147.2 334.1h.01M135.6 330.3h.01M180.5 295.2h.01M162.7 333.6h.01M140.5 337.7h.01M188.5 323.4h.01M188.1 329h.01M145.5 327.8h.01M144.3 334.4h.01M187 295.8h.01M177.4 322.5h.01M145.5 335.5h.01M145.2 339.9h.01M180 305.3h.01M146.2 328.6h.01M144.3 341.2h.01M188.9 300.7h.01M177.9 335h.01M181.7 311h.01M165.6 334.2h.01M187.7 319.2h.01M189.8 310.1h.01M188.1 281.4h.01M188.6 302.4h.01M162.1 339.5h.01M141 339h.01M179.8 301.4h.01M172.3 339.7h.01M146.9 332.6h.01M162.2 327.9h.01M139.3 329.8h.01M188.2 323.9h.01M188.2 293.6h.01M186.4 286.8h.01M164.1 326.3h.01M150.7 336.6h.01M163 335.5h.01M145.4 340.5h.01M172.7 333.9h.01M186.7 279.8h.01M144.6 338.6h.01M144.3 338.9h.01M186.9 298.3h.01M141 340.3h.01M146 340.8h.01M181.3 316.5h.01M142.6 330.8h.01M164.6 333.3h.01M140.3 333.7h.01M183.8 310.8h.01M188.5 323.2h.01M188.7 286.1h.01M187.6 320.6h.01M172.5 335.6h.01M188.5 329.9h.01M142.9 328.3h.01M145.4 336.9h.01M159.5 332.5h.01M143.5 330.3h.01M140.7 341.4h.01M162.1 340.1h.01M144.2 341.2h.01M187.6 325.9h.01M181.5 327.8h.01M145.9 333.4h.01M145.2 331.7h.01M145.7 331.1h.01M162.6 335.8h.01M183.8 308.7h.01M142.7 327.7h.01M163 336.3h.01M144.5 338.4h.01M164.7 339.2h.01M181.7 330.7h.01M145.5 336.6h.01M156.7 335.9h.01M162.6 336.9h.01M181.8 317.9h.01M172.3 335.4h.01M145.5 336.1h.01M175.7 313.3h.01M165.5 341.3h.01M168.2 321h.01M181.7 325h.01M163.6 319.3h.01M189.8 299.7h.01M180.3 295.1h.01M163.6 339.9h.01" stroke="#1f88c8" stroke-width="1.45" stroke-linecap="square" fill="none"/>
<path d="M125.9 317.3h.01M120.7 323.2h.01M123.6 339.4h.01M151.7 338h.01M132.1 327.4h.01M133.1 331.2h.01M104 325.9h.01M144.5 336.4h.01M136.1 341.4h.01M170.9 331.8h.01M109.6 338.1h.01M147 337.2h.01M132.9 328.6h.01M123.3 333.9h.01M123.7 332h.01M103.4 336.8h.01M120.2 324h.01M135.7 329.8h.01M103.6 314.9h.01M179.4 327.9h.01M147.3 336.4h.01M120.8 328.2h.01M136 330.2h.01M136.1 335h.01M171 318.3h.01M132.3 324.4h.01M142 333.3h.01M165.6 336.1h.01M180.1 319.6h.01M147.3 337.3h.01M123.8 341.2h.01M100.6 307.1h.01M130.8 337.2h.01M136.3 330.3h.01M173.7 332h.01M152 337.1h.01M156.6 339.7h.01M158.1 335.1h.01M173.9 339.6h.01M102.3 337.5h.01M147.1 340.1h.01M123.6 330.8h.01M144.2 335.8h.01M136.3 340.2h.01M114.9 333.7h.01M156.6 332.4h.01M100.2 317.1h.01M156.6 335.1h.01M109.7 337.7h.01M132.3 332.7h.01M168.1 335.9h.01M125.6 331.5h.01M136.3 339.9h.01M170.5 316h.01M123.7 336.7h.01M144.4 332.9h.01M151.3 327.2h.01M156.4 331.6h.01M173.9 339h.01M156.7 337h.01M107.6 318.4h.01M124 327.4h.01M107.5 334.2h.01M100.7 303.9h.01M154.6 337.8h.01M144.2 333h.01M154.5 335.9h.01M132.2 334.6h.01M100.9 306h.01M141.8 331.5h.01M144.2 331.5h.01M109.5 337.2h.01M114.6 326.9h.01M125.5 317.8h.01M135.7 335.9h.01M135.4 337.3h.01M159.3 334.2h.01M174.4 339.1h.01M156.3 338.6h.01M104.2 322.6h.01M165.8 332.8h.01M147.5 330.6h.01M144 330.2h.01M159.8 338.7h.01M144 334.9h.01M131.3 328.6h.01M154.9 331.3h.01M150.5 340.8h.01M103 337.7h.01M131.3 325.1h.01M173.7 337.7h.01M170.6 315.1h.01M102.4 326.6h.01M179.8 327.9h.01M168.6 332.9h.01M166.2 337.6h.01M170.5 316h.01M125.7 319.9h.01M131 340.3h.01M123.3 337.6h.01M141.7 338.6h.01M133 326.1h.01M109.8 334.4h.01M131.1 330.8h.01M151.8 341.4h.01M125.6 323.1h.01M101.2 320.6h.01M139.9 332.7h.01M173.8 338.6h.01M123.1 341.3h.01M159.7 335.4h.01M100.3 305.8h.01M150.4 341.4h.01M120.7 323.5h.01M123.8 333.5h.01M168.1 326.6h.01M100.6 315.3h.01M142.6 325.3h.01M114 331.6h.01M104 320.5h.01M144.2 332.1h.01M156.9 337.2h.01M109.8 334.8h.01M155.3 338.5h.01M168.1 325.4h.01M166.2 337.1h.01M122.9 329h.01M114.8 325.6h.01M120.5 329.1h.01M173.5 335.3h.01M173.4 335.5h.01M100.6 316.3h.01M166.1 334.5h.01M140.2 334.3h.01M120.1 320.9h.01M109.9 339.3h.01M132.1 319.8h.01M180.7 316.7h.01M154.3 338.6h.01M110.1 337.9h.01M114.7 338.9h.01M135.8 330.7h.01M101 337.2h.01M125.5 323.3h.01M157.1 330.1h.01M123.7 341h.01M116.1 330.2h.01M173.7 336.1h.01M102.9 332h.01M141.9 327.6h.01M136 340h.01M165.4 335.4h.01M151.8 326.3h.01M154.7 335h.01M156.9 334.9h.01M132.6 330.2h.01M108.9 332.9h.01M135.7 331.7h.01M144.1 340.5h.01M151.5 323.5h.01M122.9 340.4h.01M100.6 318.9h.01M102.4 337.4h.01M156.6 341.4h.01M103.3 326.2h.01M147.3 333.2h.01M173.7 330h.01M141.7 332.5h.01M147.7 337.7h.01M156.7 333.1h.01M100.6 321.5h.01M114.3 337.4h.01M154.3 331.1h.01M159.5 337.7h.01M156.9 327h.01M174 333.6h.01M102.6 334h.01M120.3 322.3h.01M154.6 340.6h.01M177.1 337.4h.01M146.6 331.2h.01M157.2 334.4h.01M131.7 331.2h.01M100.5 308.8h.01M132.8 341.1h.01M173.6 338h.01M131.7 333.4h.01M147.3 333.9h.01M142.1 333.3h.01M139.8 337.6h.01M158.4 327.1h.01M142.4 337.3h.01M171.2 320.6h.01M142 334.7h.01M156.9 341.2h.01M100.4 310.9h.01M154.9 334.6h.01M151.9 339.8h.01M131 340.8h.01M173.9 333h.01M167.9 329.2h.01M165.7 332.6h.01M151 324.2h.01M132.4 334.8h.01M151.4 326.9h.01M144.3 333.6h.01M141.9 324.8h.01M165.7 329.6h.01M123.6 331.1h.01M104 338.6h.01M132.1 328.5h.01M157.6 340.4h.01M104 331.2h.01M154.8 335.9h.01M156.3 331.6h.01M158.4 335.1h.01M142.3 332.8h.01M131.4 340.1h.01M115.8 330.1h.01M123.8 337.7h.01M103.4 332.7h.01M159.2 332.2h.01M156.2 326.4h.01M174.4 332.1h.01M151.3 323.5h.01M125.8 327.2h.01M144.5 340.7h.01M144.5 327h.01M166 334.7h.01M131 338.6h.01M140 331.9h.01M159.2 338.4h.01M139.3 341.4h.01M107.8 324.7h.01M123.6 332.7h.01M142.1 324.7h.01M144.2 338.2h.01M130.7 331.6h.01M125.4 322.6h.01M151 323.9h.01M103.8 336.5h.01M100.9 293.4h.01M158.4 328.3h.01M131 325.5h.01M126.1 327h.01M156.6 329.7h.01M156.3 325.1h.01M151.3 337.7h.01M107.5 325.3h.01M103 334.5h.01M102.5 330.3h.01M165.7 338h.01M141.8 332.2h.01M156.5 323.4h.01M122.9 335.6h.01M136.2 341.4h.01M107.3 323.7h.01M157 339.3h.01M114.5 334.8h.01M120.5 327.6h.01M142.3 328.8h.01M125.6 320.9h.01M156.7 335.8h.01M107.4 312.6h.01M151.9 324.4h.01M103.5 324.6h.01M100.9 318.1h.01M157 335.4h.01M122.9 337.2h.01M142.7 326h.01M141.2 324.2h.01M165.9 336.3h.01M131.4 334.8h.01M120.3 324.7h.01M156.9 333.7h.01M122.9 338.8h.01M158 335.6h.01M124 320.2h.01M136.1 334.8h.01M135.8 340.4h.01M132.7 326.5h.01M165.8 335.6h.01M131.2 336.4h.01M102.8 328.8h.01M170.7 316.9h.01M122.7 334.3h.01M103.6 334.6h.01M177.1 333.2h.01M154.8 332.5h.01M150.5 336.3h.01M155.2 323.7h.01M136 341.4h.01M142.3 332.2h.01M103.7 332.9h.01M135.1 339.9h.01M107.8 315.5h.01M156.5 327h.01M147.4 335.4h.01M146.9 334.9h.01M136.4 337.5h.01M147.1 335.3h.01M131 338.9h.01M168.6 329.5h.01M180.5 312.7h.01M158 330.8h.01M130.9 340.1h.01M125.8 324.4h.01M123.6 327.7h.01M107.7 321.7h.01M156.6 340.3h.01M109.3 332.2h.01M107.2 303.5h.01M114.7 340.4h.01M125.9 316.4h.01M136.3 333.1h.01M147.6 332.1h.01M180.3 317.2h.01M139.8 336.2h.01M174.1 335.3h.01M135.8 331.5h.01M102.5 328.5h.01M103.5 316.1h.01M156.9 335.5h.01M120.7 323.5h.01M147.6 330h.01M122.6 333.5h.01M104 338.5h.01M135.5 332.5h.01M151.7 335.9h.01M132.7 326.4h.01M130.7 336.6h.01M139.5 334.7h.01M156.6 339.4h.01M166.3 326.5h.01M144.6 329.4h.01M131.1 331h.01M159.3 332.5h.01M154.8 331.5h.01M151.9 338.6h.01M143.8 336.4h.01M151.9 324h.01M170.8 322.4h.01M147.5 333h.01M146.8 331.6h.01M100.7 300.2h.01M174 330.1h.01M136.2 328.6h.01M131.6 330.7h.01M158.6 325h.01M144.5 331.5h.01" stroke="#6a35b8" stroke-width="1.45" stroke-linecap="square" fill="none"/>
<path d="M138.9 338.8h.01M147.6 335.2h.01M151.2 340h.01M122.8 336.5h.01M117.6 315.7h.01M123.9 339.6h.01M102.5 318.4h.01M179.8 315.3h.01M151.1 341.4h.01M159.4 335.9h.01M127.7 340.5h.01M142.4 328.1h.01M152.8 340.2h.01M175.7 337.8h.01M158.5 340.4h.01M175.4 335.8h.01M142.4 334.4h.01M121.5 333.5h.01M117.4 323.6h.01M136.5 341.4h.01M144.7 333.3h.01M172 336.1h.01M122.9 338.8h.01M140.4 338.9h.01M108.8 317.1h.01M167.3 339.9h.01M108.9 303.3h.01M166.2 341.4h.01M169.3 337.8h.01M157 336.3h.01M139.3 333.6h.01M110 328.6h.01M110.4 324.2h.01M151 341.2h.01M166 341.2h.01M101.8 326.5h.01M128.5 331.1h.01M144.6 340.4h.01M156.3 338.2h.01M121.5 324.5h.01M123.5 341.4h.01M101.9 309.4h.01M122.6 341.4h.01M102.2 309.4h.01M179.7 308.5h.01M122.9 336.7h.01M169.7 338.9h.01M100.6 326.3h.01M124 340.7h.01M140.1 338h.01M100.6 328.3h.01M139 336.4h.01M151.5 336h.01M104.2 319.5h.01M131 341.3h.01M123.5 335.9h.01M100.9 319.2h.01M100.8 329.2h.01M150.8 338h.01M158.2 341.4h.01M159.5 341.4h.01M180 312.2h.01M142 338h.01M147.6 337.1h.01M167 337.7h.01M104.2 330.9h.01M110 337.3h.01M109.2 304.9h.01M145.9 322.4h.01M131 333.6h.01M151.8 339.6h.01M145.6 327.5h.01M151.3 335.4h.01M123.5 340.7h.01M144.6 337.7h.01M138.8 338.8h.01M123.1 338.9h.01M101.2 330.2h.01M172.1 319.3h.01M123.9 333.5h.01M151.4 337.1h.01M174.9 333.8h.01M150.9 332.8h.01M180.1 287.4h.01M159.8 341h.01M159.5 339.7h.01M105.8 319.3h.01M166.9 340.7h.01M175.5 336.6h.01M122.9 334.6h.01M104.6 337.9h.01M145.7 341.3h.01M138.8 336.9h.01M138.8 334.9h.01M128.9 341.4h.01M128.4 337.3h.01M104.8 305.1h.01M141.8 337.8h.01M136.4 341.3h.01M165.8 336.6h.01M123.6 338h.01M158.2 340.9h.01M128.9 330.2h.01M127.9 336.4h.01M139.5 332h.01M128.2 333.8h.01M109.1 319.5h.01M167.1 335.5h.01M151.9 339.1h.01M128.4 326.7h.01M157.2 340.4h.01M139.8 332.6h.01M131.3 340.5h.01M110 338.6h.01M106 336.6h.01M179.5 315.3h.01M148.5 331h.01M157 337.3h.01M105.9 333.3h.01M159.3 335.4h.01M150.3 338.9h.01M120.4 326.4h.01M128.8 328.3h.01M140.6 341.4h.01M175.4 327h.01M122.9 341.3h.01M106.2 326.5h.01M117.6 320.1h.01M144.5 336.2h.01M105.1 316.9h.01M158.6 341.1h.01M109.4 310.8h.01M131.1 338.9h.01M153 337.1h.01M141.7 335.7h.01M142 334h.01M131.3 332.6h.01M141.7 336.3h.01M151.5 330.1h.01M145.6 322.7h.01M167.3 341h.01M123.7 339.5h.01M136.9 336.5h.01M158.9 340.9h.01M179.6 333.1h.01M104.6 327.5h.01M151.1 332.4h.01M124.1 334.7h.01M123.6 336.6h.01M151 329.4h.01M145 333.8h.01M151.2 341.4h.01M175.4 334.5h.01M179.3 328h.01M166.9 341.4h.01M175.6 339h.01M150.6 335.8h.01M157.4 338.3h.01M141.3 333.1h.01M105.8 329.3h.01M128.8 340.5h.01M150.5 340.8h.01M151.3 335.7h.01M156.8 332.3h.01M151.5 339.6h.01M121.2 333.8h.01M145.9 327.7h.01M152.7 341.4h.01M171.9 315.2h.01M151.1 330h.01M156.7 335.8h.01M139.1 331.2h.01M167.2 338h.01M153.3 336h.01M167 338.3h.01M145.7 325h.01M103.7 325.2h.01M150.5 331.4h.01M159.7 341.1h.01M145.8 325.1h.01M156.5 338.1h.01M131.4 341.4h.01M166.6 340.8h.01M123.8 341.4h.01M166.3 340.8h.01M100.8 334.3h.01M153.1 336.6h.01M146 325.9h.01M151.6 339.4h.01M104.3 308.8h.01M151.3 334.5h.01M138.6 339.3h.01M150.2 334.6h.01M151.4 338.6h.01M140.7 335.7h.01M151 341.3h.01M158.3 340.9h.01M157.7 339.6h.01M128.2 336.5h.01M175.8 336.5h.01M136.7 337.4h.01M151.5 341.4h.01M121.2 321.3h.01M129.2 332.8h.01M131.6 338.8h.01M138.6 341.4h.01M121.6 328.2h.01M123.5 341h.01M140.6 339.4h.01M169.7 331.8h.01M179.3 324.9h.01M123.3 335.6h.01M117.4 334.7h.01M144.9 335.2h.01M104 330.4h.01M128.9 338.5h.01M145.2 336.2h.01M123.2 335.7h.01M104 323.8h.01M123.5 333.8h.01M104.9 316.8h.01M169.6 336.1h.01M145 339.4h.01M172.8 325.1h.01M167.2 340.4h.01M158.2 340.9h.01M104 328.5h.01M144.5 340h.01M169.7 334.4h.01M128.9 335.4h.01M167.6 335h.01M142 333.2h.01M102.4 324.1h.01M179.6 324h.01M121 324.4h.01M151 341.4h.01M109 323h.01M146 326.3h.01M128.2 337.6h.01M101 314.1h.01M104.1 337.4h.01M179.4 316.6h.01M122.8 333.5h.01M141.8 334h.01M127.8 339.9h.01M108.5 323.7h.01M104.1 333.7h.01M169.9 335.9h.01M151.9 338.6h.01M138.5 340.6h.01M172.8 327.2h.01M180.6 298h.01M165.8 341.4h.01M138.9 334.5h.01M159.9 339.8h.01M122.8 340.7h.01M110.6 334.1h.01M156.5 328.8h.01M110.1 319.9h.01M151.3 341h.01M103.9 323.7h.01M138.8 337.3h.01M128.9 332.3h.01M109 320.9h.01M102.7 327.3h.01M105.9 332.6h.01M122.7 341.4h.01M110.1 328.1h.01M151.5 338.7h.01M138.8 333.6h.01M139.3 333.2h.01M150.8 336.7h.01M148 333.3h.01M151.3 341h.01M123.6 337.1h.01M104.4 331.9h.01M122.8 334.6h.01M138.4 340.1h.01M121.5 331.9h.01M109.1 313.4h.01M151 330.8h.01M144.8 335.1h.01M151.7 337.9h.01M104.4 323.3h.01M159.1 339.2h.01M104.9 298.2h.01M145.6 322.3h.01M136.9 340.3h.01M141.7 335.3h.01M109.4 311.9h.01M127.9 341.4h.01M179.7 305.7h.01M169.9 333.4h.01M179.5 314.9h.01M123 338.1h.01M124 341.2h.01M100.3 331h.01M150.8 339.2h.01M166.3 339.7h.01M110.6 328h.01M146.2 324.5h.01M147.9 326.8h.01M140.5 336.5h.01M150.9 341.4h.01M152.6 339.5h.01M136.8 335.7h.01M140.7 340h.01M153.1 338.9h.01M150.5 334.4h.01M151.7 338.6h.01M100.7 307.2h.01M159.8 338.9h.01M179.4 327.2h.01M140.4 341h.01M159.3 341.1h.01M159.1 338h.01M175.3 330h.01M147.7 333.7h.01M179.5 310.2h.01M106.5 324.1h.01M153.1 341.4h.01M147.8 331.1h.01M110 337.3h.01M141.9 337.6h.01M140.5 336.7h.01M138.8 336.8h.01M141.5 333.9h.01M128.8 327.4h.01M141.3 338.5h.01M158.3 339.2h.01M156.5 335.1h.01M105.8 326.1h.01M128 341.4h.01M102.5 304.4h.01M180.5 309.6h.01M145 341.4h.01M103.6 333.1h.01M151.1 335.9h.01M141.5 328.8h.01M150.6 333h.01M109.2 313.8h.01M130.9 338.5h.01M153.3 341.2h.01M104 337.4h.01M151.8 340.4h.01M102.2 315.4h.01M179.8 317.2h.01M172.3 313.6h.01M151.2 327h.01M153 341h.01" stroke="#9440e0" stroke-width="1.45" stroke-linecap="square" fill="none"/>
<path d="M132.5 341.4h.01M163.5 336.8h.01M129.1 340.5h.01M150.5 340.1h.01M167.3 324.8h.01M144.9 341.4h.01M142 335h.01M132.7 341.4h.01M150 339.1h.01M142.5 334.7h.01M141.9 341h.01M126.3 339h.01M133.2 331.2h.01M164.6 341.4h.01M168.1 333.3h.01M143.2 330.9h.01M153.8 338.6h.01M167.1 331.4h.01M131.2 336.8h.01M128.7 334.2h.01M149.8 338.2h.01M165 336.5h.01M162.5 339h.01M145.1 335.6h.01M131.4 341.4h.01M142.9 338.6h.01M145.5 335.2h.01M163 332.3h.01M145.9 340.6h.01M130 326.5h.01M154.5 336.4h.01M167.3 332.1h.01M129.2 336.3h.01M145.4 336.6h.01M148.4 324.1h.01M148.3 333.7h.01M141.6 340.9h.01M164.6 329.8h.01M141.7 340h.01M148.1 324.7h.01M164.8 340.7h.01M154 339.3h.01M123.3 329.9h.01M142.3 341.2h.01M167.1 328.6h.01M148.7 340.8h.01M142.5 338.8h.01M167.2 335.2h.01M164.7 335.4h.01M163.3 340.5h.01M164.7 341.3h.01M131.1 334.5h.01M130 327.9h.01M163.8 338.6h.01M125 340.2h.01M142.5 340.9h.01M166.9 324h.01M141.5 341.4h.01M154.1 337.1h.01M150.7 337.9h.01M124.5 336.9h.01M126.6 341.4h.01M142.9 335.2h.01M150.8 335.4h.01M143 332.3h.01M142.2 340.8h.01M141.9 336.5h.01M133.2 333h.01M131.6 332.8h.01M148.4 324.1h.01M159.8 333h.01M131.2 330.5h.01M153.8 333h.01M143.3 337h.01M167.9 329.9h.01M128.6 327.9h.01M150.8 326.8h.01M163.5 341.4h.01M141.8 341.4h.01M154.2 335.8h.01M168 326.8h.01M143.8 341.4h.01M142 339h.01M143.1 340.2h.01M162.8 339.4h.01M125.9 335.8h.01M150.8 336.2h.01M150.4 340.8h.01M162.3 338.3h.01M149.7 333.7h.01M167.6 324.5h.01M164.6 339.2h.01M163.3 339.8h.01M148.6 339.6h.01M133 339.8h.01M132.7 337.5h.01M164.9 340.7h.01M129.6 325.6h.01M142.2 338.9h.01M150.8 333.5h.01M122.8 337.2h.01M131.6 331.7h.01M165 338.3h.01M142 340.6h.01M142.5 339.7h.01M132.8 335.1h.01M167.5 333.8h.01M141.9 339h.01M131.5 338h.01M143.3 335.6h.01M147.9 325.9h.01M145.5 335.3h.01M143 341h.01M160.2 341.4h.01M131.2 333.8h.01M123.2 337.8h.01M142.7 333.9h.01M142.8 340.7h.01M128.6 336.3h.01M163.4 334.6h.01M132 339.7h.01M163.2 340.7h.01M164.7 336.4h.01M131.2 340.1h.01M143.2 332.4h.01M124.2 338.8h.01M148.4 328.8h.01M144.4 341.2h.01M142.9 331.2h.01M124.8 336.8h.01M145.6 341.3h.01M129 328.1h.01M129.1 336.9h.01M165.2 334.1h.01M167.5 332.3h.01M129.1 332.7h.01M168.5 332.9h.01M126.6 340.5h.01M149.9 340.3h.01M165.1 340.2h.01M133.6 338.4h.01M132.9 340h.01M151.1 335.2h.01M154.2 336.3h.01M164.9 338h.01M162.1 338.9h.01M142.6 331h.01M151.5 335.8h.01M125 336.8h.01M153.9 340.3h.01M163.4 341.4h.01M163.2 335.5h.01M163.6 331.9h.01M142.2 337.6h.01M167.5 339.1h.01M126.7 340h.01M126.1 336h.01M147.8 323.5h.01M143.1 337.4h.01M148 330.8h.01M122.9 337.4h.01M144.4 331.1h.01M122.6 337.4h.01M164.7 332.1h.01M160.6 340.2h.01M142.8 332.9h.01M160.2 335.6h.01M160.1 338.4h.01M164.9 340.1h.01M126.5 334.7h.01M145.5 327.2h.01M163.6 337h.01M142.8 341.4h.01M144.8 332h.01M147.8 326.9h.01M168.5 335.4h.01M123.3 341.4h.01M124.7 332h.01M132.6 336h.01M150.7 341.4h.01M130.6 327.9h.01M145.7 338.1h.01M130.3 326.3h.01M144.8 340.7h.01M129.6 334.6h.01M164.5 341.4h.01M143.9 338.2h.01M141.8 340.8h.01M132.7 341.4h.01M126.6 333.7h.01M129.9 331.8h.01M162.1 341.4h.01M148.6 338.1h.01M123.1 331.6h.01M145.4 334.8h.01M132.9 339.8h.01M150 341.4h.01M167.6 330.2h.01M153.4 339.8h.01M142.5 341.3h.01M163.3 339.1h.01M144.8 327.5h.01M151 336.3h.01M124.5 334.8h.01M168 322.1h.01M164.3 336.1h.01M162.2 341h.01M142.9 337.1h.01M148 326.1h.01M148.5 340.1h.01M148.7 336.8h.01M154.3 333.9h.01M167.1 330h.01M148.6 337.4h.01M142.3 338.3h.01M142.7 329.8h.01M162.2 341.2h.01M144.7 340.7h.01M128.9 331h.01M145.4 337.1h.01M153.9 341.4h.01M125 337.5h.01M131.6 341h.01M131.5 336.8h.01M142.9 332.8h.01M160.7 337.9h.01M165.3 332.1h.01M123.4 338h.01M167.3 327.5h.01M141.9 339.3h.01M164.7 339h.01M141.3 337.5h.01M160.6 339.7h.01M164.5 340h.01M148.1 331.6h.01M122.6 341.2h.01M162.3 335.8h.01M160.3 341h.01M131.4 326.8h.01M164.6 338.9h.01M167.9 325.3h.01M162.5 339.1h.01M133 341.4h.01M128.9 327.9h.01M151.2 340.1h.01M144.7 338.9h.01M123.1 340.3h.01M123.3 335.2h.01M126.9 337.3h.01M125 339.9h.01M142.7 341.1h.01M168.4 325.4h.01M131.7 339.5h.01M124.6 336.5h.01M153.9 331.1h.01M126.4 336.8h.01M142.8 334.5h.01M122.4 340.2h.01M130.9 332.6h.01M148 336.8h.01M129.8 336h.01M163.4 336.4h.01M163.2 337.7h.01M131.3 339.7h.01M168.5 327.7h.01M160.9 332.5h.01M126.7 340.4h.01M126.2 339h.01M142.2 338.3h.01M142.6 334.8h.01" stroke="#f55cf0" stroke-width="1.45" stroke-linecap="square" fill="none"/>
<path d="M169.2 324.3h.01M146.9 326.5h.01M173.6 335.8h.01M163.4 327.8h.01M168.3 337.1h.01M173.9 336h.01M151.8 336.5h.01M147.7 335.6h.01M167.6 323.4h.01M174.3 331.4h.01M172.3 336.3h.01M157.9 328.4h.01M158.6 308.5h.01M172.4 329.8h.01M158.9 318.5h.01M149.2 327.7h.01M151.6 328.7h.01M146 327.1h.01M174.3 334.8h.01M143.9 327.2h.01M151 335.8h.01M173.8 330.4h.01M145.6 337.3h.01M174.4 333.9h.01M166.1 336.9h.01M168.5 326.4h.01M168.2 335.8h.01M144.9 336.9h.01M174.2 336.7h.01M145.9 329.4h.01M167.1 330.1h.01M173.6 334.1h.01M171.8 333.9h.01M164.9 328.3h.01M163.7 336.6h.01M168 330.6h.01M171.2 334.3h.01M169.3 322.6h.01M163.9 330.5h.01M164.4 327.1h.01M146.6 325.5h.01M164.7 332.9h.01M163.5 333.3h.01M152 332.5h.01M151.8 334h.01M166.5 334.5h.01M174.6 335.5h.01M147 329.8h.01M157.8 328.8h.01M171.9 333.8h.01M163.3 337.1h.01M151.6 333.4h.01M152.1 334.7h.01M148.1 328.7h.01M145.8 324.7h.01M151.5 330.2h.01M167.7 329.6h.01M164.9 320.4h.01M167.2 328.3h.01M143.5 326.1h.01M167.9 330.1h.01M159.3 322.4h.01M149.1 332.8h.01M164.9 332.2h.01M158.9 309.4h.01M164.1 326.8h.01M171.8 328.5h.01M167.2 330.5h.01M146.9 328.2h.01M147 326.4h.01M148.2 335h.01M164.8 323.9h.01M173.4 337h.01M173.2 332.2h.01M168 335.2h.01M174.4 337h.01M168.1 327.8h.01M144 328.4h.01M145.7 328h.01M143.1 330.5h.01" stroke="#dd2222" stroke-width="1.45" stroke-linecap="square" fill="none"/>
<path d="M195.1 306.2h.01M213.8 293.2h.01M192.9 320.6h.01M222.1 325.4h.01M203.5 296.5h.01M221.5 303.7h.01M204.5 335.3h.01M221.7 280.2h.01M217.3 327.2h.01M196.8 284.8h.01M222.4 309.4h.01M202 333.7h.01M205 266.2h.01M217 254.7h.01M211 302.5h.01M205.6 269.5h.01M194.8 308.1h.01M212.2 258.4h.01M220.8 314.8h.01M205.3 327h.01M222.2 315.4h.01M200.9 320.7h.01M222 330.8h.01M204.7 317h.01M202.6 253.9h.01M218.4 283.5h.01M205.3 293.7h.01M214.3 276h.01M212.6 318.1h.01M222.4 281.9h.01M205.3 293.7h.01M201.8 322.5h.01M205.5 319.5h.01M205.6 311.1h.01M201.1 296.3h.01M206.8 256.1h.01M221.4 293.8h.01M211.7 296.1h.01M195.6 267h.01M205.3 279.5h.01M223.6 259.9h.01M204.9 306.1h.01M211.9 299.7h.01M196.3 283.1h.01M203.5 314.1h.01M202.6 331h.01M201.1 277.6h.01M195 271.8h.01M200.8 312.3h.01M203 330.3h.01M204.8 312.3h.01M213.4 330.1h.01M219.8 255.2h.01M197.1 311h.01M203.7 283.6h.01M205.1 300.9h.01M221.3 269.3h.01M202.4 323.1h.01M210.2 289.2h.01M209.1 304.6h.01M209.9 272.6h.01M199.2 277.3h.01M222.4 315.2h.01M215 291.7h.01M196.7 273.5h.01M222.3 271h.01M213.6 332.7h.01M204.1 303.1h.01M212.6 318.5h.01M203 315.4h.01M209.1 291.9h.01M204.8 334.7h.01M197.2 304.2h.01M199.1 257h.01M210.8 316.8h.01M222.2 329.4h.01M202.2 312.9h.01M222.1 319.4h.01M220.6 315h.01M193.1 328h.01M217.6 322.6h.01M217.4 324h.01M205.6 268.7h.01M212.4 295.6h.01M221.4 295.7h.01M221.2 279.6h.01M220.9 317.9h.01M201.4 295.6h.01M204.5 331.2h.01M214 266h.01M195.2 330.4h.01M222.2 281.8h.01M207 298.6h.01M210.3 249.9h.01M220.9 301.7h.01M202.7 286.2h.01M195.3 325.9h.01M204 308.3h.01M195.2 333.5h.01M214.7 280.9h.01M203.5 328h.01M204.9 312.3h.01M218 274.9h.01M204.8 289.9h.01M223.1 320.5h.01M204.4 282.1h.01M206.7 322.2h.01M209.8 316h.01M222.4 305.6h.01M205.2 296.7h.01M220.1 259.6h.01M222.2 322.4h.01M193.5 310.1h.01M206.3 289.1h.01M195.1 322h.01M221.9 283h.01M193 329.1h.01M213.9 310.4h.01M212.6 250.3h.01M205.4 266.6h.01M204.8 328.6h.01M211 320.6h.01M207.4 261.5h.01M202.8 302.4h.01M194.9 323h.01M209.4 323.3h.01M198.9 271h.01M215.5 316.7h.01M210.7 330.4h.01M218.1 290.5h.01M213.7 330.8h.01M204.6 320.2h.01M195.1 321.9h.01M210.1 326.8h.01M205.2 264.5h.01M193.4 309.9h.01M203.8 322.1h.01M198.7 278.4h.01M211 332.7h.01M195.5 302.3h.01M217.5 274.7h.01M205.1 287.6h.01M204.9 318.2h.01M222.3 315h.01M203.2 326.5h.01M221.4 294h.01M210.4 276.6h.01M202.4 269.7h.01M203.1 328.8h.01M211.3 316.5h.01M217.8 326.1h.01M218.1 298.4h.01M219.7 295.9h.01M222.3 291.1h.01M196.2 274.5h.01M213.7 262.2h.01M210 307.3h.01M211 334.5h.01M196.2 295.6h.01M194.9 324.6h.01M202.4 325.1h.01M214.3 273.8h.01M206.1 303.3h.01M223 318.1h.01M223.4 325.9h.01M217.2 268h.01M215.7 311.2h.01M217.8 313.9h.01M221.4 287h.01M205 333.8h.01M223.6 294.2h.01M218.4 294.4h.01M195.3 283.9h.01M209.7 326.1h.01M200.9 332.1h.01M222.5 288.6h.01M205.7 312.2h.01M204.9 287.6h.01M202.5 293.2h.01M215 296.2h.01M215.4 264.2h.01M221.8 284.9h.01M206 320.9h.01M193.1 320.5h.01M214.1 302h.01M197 270.4h.01M209.8 323.6h.01M196.8 261.3h.01M200.9 325.2h.01M213.5 287.8h.01M223.3 287.3h.01M223.5 328.2h.01M221 277.1h.01M196.9 322.9h.01M201 276.9h.01M222.4 315.4h.01M206.6 277.7h.01M206.5 283h.01M206.2 319h.01M204.4 312.5h.01M204.1 287.4h.01M202.2 323.4h.01M205.8 276.1h.01M216.9 285.5h.01M211.9 274.2h.01M222.9 295.8h.01M198.2 266.9h.01M211.3 280.3h.01M206.7 312.9h.01M205 296.6h.01M209.6 316.3h.01M196.8 293.7h.01M193.4 293.4h.01M221.4 320.4h.01M218 313.6h.01M204.4 302.8h.01M201.3 332.3h.01M217.9 305.9h.01M215.3 247.8h.01M222.4 271.2h.01M220 281.2h.01M205 267.9h.01M215.3 303.5h.01M202.8 296.3h.01M215 313.2h.01M213.8 312.7h.01M220.6 269.7h.01M204.5 301.8h.01M195.2 287.8h.01M200.9 313.4h.01M221.9 286.6h.01M211.5 260.6h.01M210 290.8h.01M215.1 289.5h.01M215 260.4h.01M213.4 269.4h.01M195.4 335.8h.01M204.3 317.3h.01M220.6 301.8h.01M220.8 316.8h.01M203 317.7h.01M202.5 298.8h.01M210 329.9h.01M221.8 276.5h.01M213.3 279.7h.01M195.6 312.7h.01M204.7 322.7h.01M198.9 286.4h.01M212.7 258.3h.01M213.9 310.5h.01M220.2 305.1h.01M202.4 252h.01M209.5 309.4h.01M206.1 302.6h.01M223.6 273.8h.01M220.9 332.5h.01M211.2 334.4h.01M211 303.9h.01M222.3 294.2h.01M209.9 266.8h.01M206.7 282.9h.01M204 269.7h.01M198.3 318.2h.01M196.8 307.8h.01M217 268.2h.01M206.6 281.1h.01M214.2 287h.01M209.8 318.3h.01M206.9 276.9h.01M198.8 309.2h.01M196.2 288.2h.01M204.3 279.1h.01M204.4 335.2h.01M212.7 249.1h.01M221.5 276.1h.01M221.2 326.8h.01M222.3 285.2h.01M220.9 320.7h.01M217.5 308.3h.01M222.5 329.4h.01M210.3 307h.01M220.3 312.4h.01M220.4 326.1h.01M198.4 308.6h.01M216 304.4h.01M220 315.3h.01M210.6 288.5h.01M223.4 263.7h.01M196.1 302.7h.01M218.5 285.1h.01M206 330h.01M215.1 331.4h.01M195.6 333.1h.01M211.3 298.3h.01M210.4 313.8h.01M211.7 300.8h.01M202.5 274.5h.01M204.5 316.6h.01M215.4 311.1h.01M202.9 251.1h.01M204.7 283.6h.01M209.7 330.6h.01M215.2 318.3h.01M210 295h.01M196.4 293.3h.01M204.7 271.6h.01M215.3 266.8h.01M204.2 257.4h.01M216.2 289.9h.01M205 279.1h.01M206.2 297.3h.01M222 327.8h.01M195.9 327.6h.01M217.5 300.4h.01M203.2 301.2h.01M196.1 307.8h.01M222.2 278.3h.01M214.4 251.5h.01M201.6 288.1h.01M196.4 276.8h.01M202.4 286.4h.01M218.6 267.8h.01M195.5 294.5h.01M209.7 325.3h.01M195.8 280.8h.01M204.9 295.2h.01M206.9 277.1h.01M222.6 263h.01M202.5 301.3h.01M202.8 308.6h.01M195.1 322.7h.01M195.3 334.9h.01M222.4 268.6h.01M196.8 314.7h.01M213.6 324.4h.01M203.1 311.4h.01M198.5 266h.01M214.5 318.5h.01M206.5 278.7h.01M202.1 299.4h.01M218.1 256.2h.01M219.7 289.8h.01M198.9 295.9h.01M196.7 285.2h.01M201.9 325.1h.01M222.4 315.1h.01M214.9 313.5h.01M216.6 262.8h.01M204.4 307.3h.01M206.9 294.5h.01M222.3 300.4h.01M205.9 335.6h.01M211.1 320.5h.01M201.1 324.1h.01M209.6 303.3h.01M212.3 301.6h.01M196.6 267.2h.01M210.9 300.9h.01M204.8 256.3h.01M212.8 332.3h.01M222.1 301.7h.01M198.8 312.7h.01M198.4 269.2h.01M202.7 277.7h.01M201 290.1h.01M217 296.7h.01M215 298.1h.01M197.2 316h.01M210.2 294.9h.01M209.1 315.6h.01M212.6 291.4h.01M217.1 274.5h.01M215.1 250.7h.01M204.2 266h.01M223.5 302.6h.01M216.5 265.8h.01M195.5 315.4h.01M209.4 331.6h.01M196.5 294h.01M205 314.2h.01M222.1 287.5h.01M196 294h.01M221.8 313.3h.01M223.1 296.8h.01M222.6 310.8h.01M204.8 315.2h.01M210 333.1h.01M213.9 325.7h.01M211.8 300.2h.01M204.5 302.6h.01M205.7 319.6h.01M195.5 321.1h.01M202.2 325h.01M195 314.7h.01M202.3 319.4h.01M222.6 322.2h.01M193.1 309.1h.01M210.1 311h.01M206.7 261.9h.01M201.2 327h.01M220.5 316.7h.01M194.7 319.1h.01M222.5 319.8h.01M209.3 323h.01M210.1 317.5h.01M206.7 258.1h.01M206 313.4h.01M204.7 322.2h.01M202.7 271.5h.01M206.4 252.8h.01M205.8 333.8h.01M212.3 320.4h.01M220.6 328.6h.01M204 296.4h.01M204.7 326h.01M214 262.8h.01M217.7 316.8h.01M206.8 292h.01M198.8 288.3h.01M196.6 285.8h.01M218 266.9h.01M210.8 297.6h.01M212.7 311.7h.01M221.9 261.9h.01M195.7 323.1h.01M209.2 301.9h.01M212 270.1h.01M215.6 271.3h.01M205.2 274.7h.01M209.6 318.4h.01M216.2 283.9h.01M210.3 267.6h.01M202.2 323.6h.01M211.7 318.2h.01M197.1 274.5h.01M195 319.3h.01M206 332.5h.01M202.2 275.6h.01M205.2 323.1h.01M209.4 318.8h.01M223.3 296h.01M204.6 331.6h.01M210.3 296.4h.01M221.5 309.1h.01M221.2 294.8h.01M202.6 294.3h.01M213.9 302.5h.01M221.3 256.4h.01M222 328.2h.01M220.9 283.5h.01M214.2 303.5h.01M204.2 291.4h.01M200.5 329.7h.01M201.8 335.7h.01M200.9 301.3h.01M222 292.1h.01M202.9 319.1h.01M217.1 277.8h.01M194.8 298h.01M221.3 293.2h.01M192.7 333.5h.01M204.4 260.2h.01M204.7 293.3h.01M196.2 299.5h.01M222.7 316.6h.01M222.5 263.3h.01M213 317.9h.01M204.1 319.6h.01M201.9 291.4h.01M209 322.8h.01M210.2 295h.01M195.1 310.1h.01M202.7 327h.01M221.1 326.4h.01M204.3 303.4h.01M222.1 333h.01M196.1 282.5h.01M213.6 290.7h.01M196.1 319.5h.01M212.5 254.2h.01M196.5 282.4h.01M201.1 291.3h.01M214.8 284.3h.01M198.8 270.6h.01M211 326.6h.01M222.2 294.9h.01M218.2 274.5h.01M213.6 259.7h.01M217.6 321.5h.01M195 294.3h.01M217.5 318.9h.01M196.3 289.4h.01M201.2 286.9h.01M197 271.6h.01M212.7 308.1h.01M204.4 283.6h.01M196.5 274.2h.01M205.5 312.3h.01M205.4 303.3h.01M203.1 288.5h.01M221.5 259.7h.01M196.3 288.8h.01M202.4 302.3h.01M208.8 297h.01M193.5 330.4h.01M222.5 290.7h.01M210.8 331.9h.01M221.8 322.4h.01M213.4 296.3h.01M214.3 311.4h.01M206.7 303.8h.01M220.5 306.1h.01M193.4 315.7h.01M209.6 317.9h.01M200.7 297.2h.01M221.2 271.8h.01M202.9 319.5h.01M203.2 309.5h.01M195 292.6h.01M193.4 321.6h.01" stroke="#dd2222" stroke-width="1.45" stroke-linecap="square" fill="none"/>
<path d="M203 196.5h.01M203 202.5h.01M203 217.5h.01M203 237h.01M203 240h.01M203.2 243h.01M155.7 231h.01M155.9 229.5h.01M155.7 285h.01M200.2 253.5h.01M205.4 255h.01" stroke="#dd2222" stroke-width="1.45" stroke-linecap="square" fill="none"/>
<path d="M96.6 205.5h.01M96.8 209.2h.01M96.6 213h.01M96.5 217.5h.01M96.6 222h.01M96.7 235.5h.01M96.6 238.5h.01M96.6 250.5h.01M96.7 255h.01M96.6 258h.01M96.6 262.5h.01M96.5 265.5h.01M96.7 271.5h.01" stroke="#8fd14a" stroke-width="1.45" stroke-linecap="square" fill="none"/>
<path d="M56.9 231.8h.01M57 234.8h.01M56.9 237h.01M57 238.5h.01M56.8 246h.01M104.2 254.2h.01M104.3 262.5h.01M104.2 265.5h.01M104.1 268.5h.01" stroke="#f5923a" stroke-width="1.45" stroke-linecap="square" fill="none"/>
<path d="M50.8 289.8h.01M50.8 304.1h.01M50.8 310.3h.01M50.8 289.5h.01M51.2 306.8h.01M51.2 303.4h.01M51.2 321.4h.01M51.2 313.8h.01M52.8 305.6h.01M52.8 301.5h.01M52.8 314.1h.01M52.8 323.6h.01M53.4 310.5h.01M53.4 303.5h.01M53.4 309.5h.01M53.4 302.9h.01M53.6 302.3h.01M53.6 296.7h.01M53.6 291.4h.01M53.6 296.4h.01M54.1 278.5h.01M54.1 287.5h.01M54.1 273.2h.01M54.1 282.5h.01M54.3 301.3h.01M54.3 288.9h.01M54.3 282.7h.01M54.3 278.6h.01M54.8 305.5h.01M54.8 285.3h.01M54.8 291.7h.01M54.8 282.6h.01M55.4 304.7h.01M55.4 291.8h.01M55.4 309.8h.01M55.4 300.7h.01M56.1 323.8h.01M56.1 305.7h.01M56.1 307.9h.01M56.1 303.9h.01M56.2 312.6h.01M56.2 302.1h.01M56.2 320.5h.01M56.2 303.6h.01M57 325.7h.01M57 317.9h.01M57 314.3h.01M57 310.6h.01M57.3 307.9h.01M57.3 302h.01M57.3 295.6h.01M57.3 302.2h.01M57.7 310.9h.01M57.7 311.9h.01M57.7 307.1h.01M57.7 308.2h.01M58 295.7h.01M58 311.3h.01M58 286.6h.01M58 292.8h.01M58 305h.01M58 291.7h.01M58 300h.01M58 298.7h.01M58.5 280.6h.01M58.5 252.2h.01M58.5 285.3h.01M58.5 282.2h.01M58.8 282.6h.01M58.8 278.1h.01M58.8 281.3h.01M58.8 269.7h.01M59 276.2h.01M59 272.4h.01M59 279.6h.01M59 279.1h.01M59.2 278.1h.01M59.2 287h.01M59.2 280.9h.01M59.2 265h.01M59.6 250h.01M59.6 280.7h.01M59.6 287.8h.01M59.6 289.8h.01M60 267.7h.01M60 288.1h.01M60 296.1h.01M60 292.7h.01M60.3 294.5h.01M60.3 319.1h.01M60.3 303.7h.01M60.3 322.5h.01M61.4 311.3h.01M61.4 314.4h.01M61.4 297.1h.01M61.4 306.3h.01M61.6 311.4h.01M61.6 293.7h.01M61.6 310h.01M61.6 292.2h.01M61.7 315.3h.01M61.7 320.3h.01M61.7 320.7h.01M61.7 295.2h.01M62.1 300.8h.01M62.1 313.4h.01M62.1 292.5h.01M62.1 312.1h.01M62.4 277.6h.01M62.4 281.2h.01M62.4 280.8h.01M62.4 298h.01M62.7 277.9h.01M62.7 280h.01M62.7 299.8h.01M62.7 275.4h.01M63.5 286.9h.01M63.5 261.2h.01M63.5 275.3h.01M63.5 263h.01M63.7 276.8h.01M63.7 264.9h.01M63.7 293.9h.01M63.7 284.8h.01M64.8 294.4h.01M64.8 285.5h.01M64.8 294h.01M64.8 283.8h.01M64.9 307.4h.01M64.9 289.9h.01M64.9 272.2h.01M64.9 327.2h.01M65.4 296.3h.01M65.4 304.2h.01M65.4 322.5h.01M65.4 312.7h.01M65.6 303.9h.01M65.6 307.3h.01M65.6 314.9h.01M65.6 306.3h.01M66.1 319h.01M66.1 289.2h.01M66.1 310h.01M66.1 292.3h.01M66 302.5h.01M66 300.3h.01M66 302.8h.01M66 298.4h.01M66.2 293.8h.01M66.2 297.2h.01M66.2 278.8h.01M66.2 275.4h.01M66.4 283.8h.01M66.4 278.8h.01M66.4 291.8h.01M66.4 292.6h.01M66.9 297.6h.01M66.9 281.9h.01M66.9 284.7h.01M66.9 300.1h.01M67.7 258.8h.01M67.7 260.3h.01M67.7 282.1h.01M67.7 282.7h.01M68.1 288.5h.01M68.1 274.4h.01M68.1 280.3h.01M68.1 282.5h.01M68.3 282.8h.01M68.3 285.8h.01M68.3 291.4h.01M68.3 277.6h.01M69.8 295.2h.01M69.8 311.5h.01M69.8 303.9h.01M69.8 314.4h.01M70 317.2h.01M70 321.3h.01M70 307.4h.01M70 298.9h.01M70.1 324.6h.01M70.1 305.4h.01M70.1 305.8h.01M70.1 327.1h.01M70.3 316.9h.01M70.3 301.9h.01M70.3 291.5h.01M70.3 292h.01M70.4 291.5h.01M70.4 304.3h.01M70.4 304.5h.01M70.4 272.6h.01M70.8 306.1h.01M70.8 296.3h.01M70.8 274.3h.01M70.8 297.5h.01M71.1 295h.01M71.1 286.4h.01M71.1 259.4h.01M71.1 299.8h.01M71.3 312.9h.01M71.3 279.1h.01M71.3 287.4h.01M71.3 311.2h.01M71.8 264h.01M71.8 285h.01M71.8 296.3h.01M71.8 267.6h.01M72.6 284h.01M72.6 273.2h.01M72.6 273h.01M72.6 254h.01M73 256.3h.01M73 279.3h.01M73 267.4h.01M73 286.2h.01M73.5 303.6h.01M73.5 294.6h.01M73.5 288.1h.01M73.5 266.8h.01M74 289.4h.01M74 302h.01M74 286.7h.01M74 291h.01M74.1 304.8h.01M74.1 304.9h.01M74.1 314.5h.01M74.1 299.8h.01M74.5 323.9h.01M74.5 292.7h.01M74.5 313.6h.01M74.5 317.6h.01M74.4 302.9h.01M74.4 309.4h.01M74.4 302.6h.01M74.4 304.8h.01M75.2 316.3h.01M75.2 286.9h.01M75.2 300.9h.01M75.2 296.6h.01M75.2 281.2h.01M75.2 268.3h.01M75.2 279.8h.01M75.2 301h.01M75.7 310.4h.01M75.7 293.3h.01M75.7 293.4h.01M75.7 297.7h.01M76 287.1h.01M76 273.1h.01M76 289.5h.01M76 269.3h.01M76 281.8h.01M76 265.3h.01M76 304.3h.01M76 295.5h.01M76.4 275.2h.01M76.4 271.4h.01M76.4 275.5h.01M76.4 275.5h.01M76.6 255h.01M76.6 272.3h.01M76.6 270.3h.01M76.6 252.1h.01M76.8 272.1h.01M76.8 266.7h.01M76.8 274.2h.01M76.8 266.4h.01M77 247.7h.01M77 289.2h.01M77 259.7h.01M77 284.2h.01M77.2 274.1h.01M77.2 274.1h.01M77.2 285h.01M77.2 290.3h.01M77.4 269.3h.01M77.4 259.3h.01M77.4 301.1h.01M77.4 273.7h.01M78.2 287.8h.01M78.2 293.1h.01M78.2 273.2h.01M78.2 289.3h.01M78.7 313.6h.01M78.7 283.6h.01M78.7 304.3h.01M78.7 324.2h.01M79.4 301.3h.01M79.4 296.2h.01M79.4 308.2h.01M79.4 312.2h.01M79.5 298.2h.01M79.5 316.1h.01M79.5 310.2h.01M79.5 300.3h.01M79.7 285.2h.01M79.7 268.4h.01M79.7 287.2h.01M79.7 280.1h.01M80.3 300.9h.01M80.3 265.8h.01M80.3 275.8h.01M80.3 281h.01M80.7 280.2h.01M80.7 279h.01M80.7 258.1h.01M80.7 286.4h.01M81.2 266.5h.01M81.2 252.7h.01M81.2 242.4h.01M81.2 259.7h.01M81.9 293.9h.01M81.9 276h.01M81.9 295.5h.01M81.9 281.3h.01M82.3 277.3h.01M82.3 258.2h.01M82.3 289.5h.01M82.3 292.7h.01M83.1 304.4h.01M83.1 314.1h.01M83.1 310.7h.01M83.1 295.1h.01M83.7 305.3h.01M83.7 311.3h.01M83.7 296.4h.01M83.7 325.9h.01M84.1 272.6h.01M84.1 302.2h.01M84.1 291.8h.01M84.1 313.5h.01M84.9 257.8h.01M84.9 294.3h.01M84.9 263.1h.01M84.9 295.7h.01M85.5 289.1h.01M85.5 257.6h.01M85.5 277.2h.01M85.5 281.8h.01M85.7 257.9h.01M85.7 265.2h.01M85.7 258.9h.01M85.7 256.7h.01M86.2 253.4h.01M86.2 274.7h.01M86.2 280.1h.01M86.2 288.6h.01M86.4 278.3h.01M86.4 298.5h.01M86.4 286.6h.01M86.4 284h.01M87.3 289.5h.01M87.3 309.1h.01M87.3 292.8h.01M87.3 309.6h.01M87.4 283.2h.01M87.4 310.8h.01M87.4 316.9h.01M87.4 316.9h.01M87.7 296h.01M87.7 296.4h.01M87.7 320.5h.01M87.7 291.2h.01M88.1 314.9h.01M88.1 306.5h.01M88.1 284.8h.01M88.1 302.1h.01M88.6 290.7h.01M88.6 287.6h.01M88.6 279.6h.01M88.6 304.6h.01M88.9 303.1h.01M88.9 284.5h.01M88.9 276.8h.01M88.9 267h.01M90.3 244h.01M90.3 252.9h.01M90.3 271h.01M90.3 246.3h.01M90.6 275.5h.01M90.6 263.1h.01M90.6 276.1h.01M90.6 273h.01M91.1 298.6h.01M91.1 290.1h.01M91.1 281h.01M91.1 303.4h.01M91.5 285.4h.01M91.5 292.5h.01M91.5 300.4h.01M91.5 309.8h.01M92.2 309.8h.01M92.2 307.2h.01M92.2 312.1h.01M92.2 320.8h.01M92.4 323h.01M92.4 324.9h.01M92.4 291.8h.01M92.4 320.4h.01M92.8 300.2h.01M92.8 314.4h.01M92.8 312.1h.01M92.8 318.6h.01M92.8 296.8h.01M92.8 291h.01M92.8 292.3h.01M92.8 299.5h.01M92.9 284.8h.01M92.9 310.7h.01M92.9 305.7h.01M92.9 285.8h.01M93.3 293.7h.01M93.3 287.8h.01M93.3 273h.01M93.3 290.8h.01M93.8 273.8h.01M93.8 294.1h.01M93.8 274.3h.01M93.8 270.2h.01M94.3 257.6h.01M94.3 281.6h.01M94.3 298.9h.01M94.3 284.4h.01M94.6 266.8h.01M94.6 284h.01M94.6 265.8h.01M94.6 275.7h.01M95.4 276.9h.01M95.4 263.9h.01M95.4 292.7h.01M95.4 304h.01M95.6 307.7h.01M95.6 294h.01M95.6 286h.01M95.6 308.8h.01M95.9 312.9h.01M95.9 290.3h.01M95.9 292.4h.01M95.9 315.4h.01M96 308.3h.01M96 321.1h.01M96 316.9h.01M96 308.6h.01M96.3 313.2h.01M96.3 315.2h.01M96.3 322.3h.01M96.3 303.5h.01M96.7 316.2h.01M96.7 323.9h.01M96.7 308.5h.01M96.7 324.3h.01M96.9 315.7h.01M96.9 310h.01M96.9 304.7h.01M96.9 319.7h.01M97.1 326h.01M97.1 308.5h.01M97.1 304.4h.01M97.1 322h.01M97.3 302h.01M97.3 313.3h.01M97.3 316.7h.01M97.3 325.8h.01M97.6 302.3h.01M97.6 326.5h.01M97.6 309.3h.01M97.6 310h.01M97.9 301.5h.01M97.9 316.1h.01M97.9 296h.01M97.9 313.1h.01M97.9 311.3h.01M97.9 303.7h.01M97.9 309.1h.01M97.9 290.9h.01M98.3 308.4h.01M98.3 290.3h.01M98.3 296h.01M98.3 303.3h.01M98.6 310.6h.01M98.6 302.3h.01M98.6 297.1h.01M98.6 290.1h.01M98.9 285.9h.01M98.9 294.2h.01M98.9 302.8h.01M98.9 300h.01M98.9 294h.01M98.9 284.2h.01M98.9 306.6h.01M98.9 298.4h.01M99 297.6h.01M99 305h.01M99 308.8h.01M99 300h.01M99.4 308h.01M99.4 301.2h.01M99.4 311.7h.01M99.4 304.4h.01M99.6 310.6h.01M99.6 306.9h.01M99.6 305.5h.01M99.6 305.7h.01M99.9 303.7h.01M99.9 310.7h.01M99.9 316.5h.01M99.9 304.8h.01M100.1 306h.01M100.1 312.1h.01M100.1 317.3h.01M100.1 319.4h.01M100.4 324.6h.01M100.4 322h.01M100.4 313.7h.01M100.4 319.7h.01M100.8 322.3h.01M100.8 326h.01M100.8 330.8h.01M100.8 331.9h.01M101 329.6h.01M101 320.2h.01M101 318.7h.01M101 326.8h.01M101.3 333.6h.01M101.3 332.4h.01M101.3 331.4h.01M101.3 331.8h.01M101.5 332.1h.01M101.5 327.2h.01M101.5 331h.01M101.5 328.5h.01M101.6 336.3h.01M101.6 323.6h.01M101.6 332.2h.01M101.6 328.2h.01M101.9 329.2h.01M101.9 333.3h.01M101.9 334.7h.01M101.9 316.7h.01M102.1 325.8h.01M102.1 333.4h.01M102.1 321.5h.01M102.1 317.3h.01M102.4 330.5h.01M102.4 325h.01M102.4 321.4h.01M102.4 322.9h.01M102.6 325h.01M102.6 323.5h.01M102.6 332h.01M102.6 315.4h.01M102.7 320.6h.01M102.7 326.8h.01M102.7 314.8h.01M102.7 325.1h.01M103.1 325h.01M103.1 322.8h.01M103.1 320.6h.01M103.1 321.3h.01M103.1 311.1h.01M103.1 313.9h.01M103.1 316.8h.01M103.1 314.4h.01M103.4 311.5h.01M103.4 317.3h.01M103.4 315.5h.01M103.4 311.8h.01M103.6 322.3h.01M103.6 311.9h.01M103.6 323.7h.01M103.6 321.8h.01M104.1 322.3h.01M104.1 319.8h.01M104.1 332.8h.01M104.1 321.4h.01M104.1 317.1h.01M104.1 318.4h.01M104.1 322.4h.01M104.1 321.2h.01M104.4 331.6h.01M104.4 323.3h.01M104.4 320.4h.01M104.4 323.6h.01M104.5 323.9h.01M104.5 326.1h.01M104.5 322.9h.01M104.5 329.1h.01M105 328h.01M105 326.4h.01M105 333h.01M105 329h.01M105 334.7h.01M105 322.8h.01M105 329.3h.01M105 333.2h.01M105.3 336.2h.01M105.3 321.9h.01M105.3 336h.01M105.3 332h.01M105.6 337.9h.01M105.6 334.5h.01M105.6 336.5h.01M105.6 337.3h.01M105.8 333.9h.01M105.8 332.5h.01M105.8 336.4h.01M105.8 330.5h.01M105.8 335.2h.01M105.8 333.4h.01M105.8 334.7h.01M105.8 330.9h.01M106.3 338.2h.01M106.3 337.4h.01M106.3 326.8h.01M106.3 328.9h.01M106.6 328.8h.01M106.6 336.3h.01M106.6 331.2h.01M106.6 324.9h.01M106.8 321.1h.01M106.8 330.1h.01M106.8 324.5h.01M106.8 328.1h.01M107.1 326h.01M107.1 324.3h.01M107.1 322.4h.01M107.1 326.6h.01M107.3 325.7h.01M107.3 324.4h.01M107.3 328h.01M107.3 322.1h.01M107.4 322.9h.01M107.4 324h.01M107.4 326.1h.01M107.4 327h.01M107.6 325.2h.01M107.6 319.8h.01M107.6 321.3h.01M107.6 327.2h.01M107.9 318.8h.01M107.9 317.7h.01M107.9 320.3h.01M107.9 316.3h.01M108.3 323.6h.01M108.3 326.9h.01M108.3 318.2h.01M108.3 323.6h.01M108.4 325.8h.01M108.4 328.9h.01M108.4 327.1h.01M108.4 333.6h.01M108.6 331.7h.01M108.6 326.5h.01M108.6 324.9h.01M108.6 328h.01M108.8 333.7h.01M108.8 328.5h.01M108.8 331.3h.01M108.8 331.3h.01M109.2 331.6h.01M109.2 331.7h.01M109.2 330.1h.01M109.2 334.8h.01M109.5 337.7h.01M109.5 333.3h.01M109.5 333.9h.01M109.5 334.9h.01M109.7 338.7h.01M109.7 331.3h.01M109.7 334.3h.01M109.7 333.9h.01M109.9 338.6h.01M109.9 338.2h.01M109.9 334.4h.01M109.9 336.8h.01M110.3 338.9h.01M110.3 336h.01M110.3 336.5h.01M110.3 338.7h.01M110.4 334.4h.01M110.4 334.9h.01M110.4 336.1h.01M110.4 337h.01M110.6 329.7h.01M110.6 335.9h.01M110.6 338.2h.01M110.6 335.8h.01M110.9 332.4h.01M110.9 337.3h.01M110.9 335.6h.01M110.9 335.3h.01M111.1 331h.01M111.1 333h.01M111.1 331.1h.01M111.1 333.2h.01M111.3 337.2h.01M111.3 334.3h.01M111.3 334.8h.01M111.3 331.4h.01M111.5 333.5h.01M111.5 331.3h.01M111.5 331.6h.01M111.5 330.6h.01M111.7 331.8h.01M111.7 328h.01M111.7 330.9h.01M111.7 328.4h.01M111.9 329.8h.01M111.9 330h.01M111.9 331.2h.01M111.9 328h.01M112.3 328h.01M112.3 332.3h.01M112.3 327.1h.01M112.3 328.3h.01M112.4 325.2h.01M112.4 330.1h.01M112.4 328.8h.01M112.4 331.2h.01M112.8 330h.01M112.8 330.1h.01M112.8 328.7h.01M112.8 329.2h.01M112.7 332.6h.01M112.7 331.1h.01M112.7 333.2h.01M112.7 331.7h.01M113 332.8h.01M113 332.5h.01M113 333.4h.01M113 333.3h.01M113.4 334.9h.01M113.4 334.8h.01M113.4 333.4h.01M113.4 333h.01M113.8 335.2h.01M113.8 334.4h.01M113.8 336.5h.01M113.8 333.3h.01M114 335.5h.01M114 336.9h.01M114 335.8h.01M114 334.2h.01M114.1 339.5h.01M114.1 336.7h.01M114.1 338.4h.01M114.1 338h.01M114.3 337.4h.01M114.3 338.8h.01M114.3 339.7h.01M114.3 338.6h.01M114.6 336.1h.01M114.6 340h.01M114.6 338h.01M114.6 338.8h.01M114.8 339.7h.01M114.8 338.8h.01M114.8 338.6h.01M114.8 338.9h.01M115 336.9h.01M115 337.8h.01M115 336.4h.01M115 336h.01M115.4 335.1h.01M115.4 336.1h.01M115.4 337.1h.01M115.4 335.5h.01M115.4 335.9h.01M115.4 338.2h.01M115.4 334.2h.01M115.4 333.9h.01M115.8 334.8h.01M115.8 333.9h.01M115.8 338.2h.01M115.8 333.4h.01M116.2 332.6h.01M116.2 331.5h.01M116.2 335.4h.01M116.2 332.4h.01M116.1 336.4h.01M116.1 333.6h.01M116.1 332h.01M116.1 334.1h.01M116.6 331.8h.01M116.6 332.1h.01M116.6 333.4h.01M116.6 332h.01M116.5 330.1h.01M116.5 331h.01M116.5 333.4h.01M116.5 332.1h.01M117 333.9h.01M117 332.1h.01M117 331.5h.01M117 332.4h.01M117.1 336.2h.01M117.1 335.2h.01M117.1 335h.01M117.1 334.2h.01M117.4 331.3h.01M117.4 332.9h.01M117.4 335.8h.01M117.4 335.3h.01M117.7 336.1h.01M117.7 336h.01M117.7 338.2h.01M117.7 333.7h.01M117.7 335.3h.01M117.7 336.1h.01M117.7 335.6h.01M117.7 336.7h.01M118.2 337h.01M118.2 337.1h.01M118.2 338.9h.01M118.2 340.2h.01M118.2 339.4h.01M118.2 338.3h.01M118.2 338.9h.01M118.2 335.7h.01M118.4 337.4h.01M118.4 339.6h.01M118.4 337.6h.01M118.4 339.5h.01M118.8 339.6h.01M118.8 339.8h.01M118.8 339.8h.01M118.8 339.2h.01M119.1 339.2h.01M119.1 339.9h.01M119.1 340.4h.01M119.1 340.2h.01M119.4 339.8h.01M119.4 340.5h.01M119.4 337.4h.01M119.4 339.8h.01M119.6 337.4h.01M119.6 339.4h.01M119.6 340.4h.01M119.6 338.2h.01M119.7 336.3h.01M119.7 337.3h.01M119.7 337.2h.01M119.7 338.6h.01M120.1 333.2h.01M120.1 335.7h.01M120.1 338.8h.01M120.1 336.8h.01M120.4 338.7h.01M120.4 336.9h.01M120.4 335.8h.01M120.4 334.5h.01M120.6 336.3h.01M120.6 336.3h.01M120.6 336.5h.01M120.6 335.7h.01M120.7 336.6h.01M120.7 335.6h.01M120.7 336.1h.01M120.7 336.3h.01M121 332.7h.01M121 332.8h.01M121 333.1h.01M121 336.8h.01M121.2 331.6h.01M121.2 333.9h.01M121.2 335.2h.01M121.2 333.7h.01M121.4 335.5h.01M121.4 334.7h.01M121.4 334.5h.01M121.4 335.2h.01M121.7 336.8h.01M121.7 335.8h.01M121.7 334.9h.01M121.7 335.6h.01M122 337.9h.01M122 335.1h.01M122 337.6h.01M122.1 337.3h.01M122.1 336.1h.01M122.1 335.8h.01M122.3 340.5h.01M122.3 339.7h.01M122.3 338.6h.01M122.6 337.9h.01M122.6 336.1h.01M122.6 337.5h.01M122.9 337.4h.01M122.9 338.9h.01M122.9 337.9h.01M123.1 340.2h.01M123.1 338.4h.01M123.1 337.6h.01M123.3 339.2h.01M123.3 339.4h.01M123.3 340.2h.01M123.7 338.8h.01M123.7 340.4h.01M123.7 340.3h.01M123.7 338.4h.01M123.7 337.8h.01M123.7 339.9h.01M124 337.8h.01M124 340.2h.01M124 339.2h.01M124.3 336.7h.01M124.3 338.3h.01M124.3 339.4h.01M124.6 336.6h.01M124.6 339.4h.01M124.6 339h.01M124.8 337.2h.01M124.8 338.2h.01M124.8 337.5h.01M125 337.8h.01M125 337.3h.01M125 335.6h.01M125.3 335.4h.01M125.3 336.4h.01M125.3 336.9h.01M125.4 336.7h.01M125.4 335.6h.01M125.4 336.2h.01M125.6 335.9h.01M125.6 336.5h.01M125.6 334.6h.01M125.9 336.1h.01M125.9 337.3h.01M125.9 335.6h.01M126.2 336.7h.01M126.2 336.5h.01M126.2 336.6h.01M126.4 337.1h.01M126.4 337.1h.01M126.4 337.7h.01M126.8 338.1h.01M126.8 338.5h.01M126.8 338.3h.01M126.9 339.5h.01M126.9 337.2h.01M126.9 338.9h.01M127.3 339h.01M127.3 339.1h.01M127.3 338.6h.01M127.6 339.6h.01M127.6 339.5h.01M127.6 339.9h.01M127.4 339.1h.01M127.4 339.2h.01M127.4 340h.01M127.9 340.2h.01M127.9 339.9h.01M127.9 340.4h.01M128.1 340.6h.01M128.1 340.5h.01M128.1 339.9h.01M128.2 339.5h.01M128.2 340.2h.01M128.2 339.6h.01M128.5 340.1h.01M128.5 339.2h.01M128.5 338.7h.01M128.7 339.9h.01M128.7 339.3h.01M128.7 338.1h.01M129 338.4h.01M129 338.2h.01M129 339h.01M129.3 339.5h.01M129.3 338.6h.01M129.3 338.1h.01M129.5 336.8h.01M129.5 338.1h.01M129.5 337.4h.01M129.7 337.9h.01M129.7 337.9h.01M129.7 337.4h.01M130 337.5h.01M130 335h.01M130 337h.01M130.2 337.2h.01M130.2 334.9h.01M130.2 338.6h.01M130.3 337.3h.01M130.3 336.6h.01M130.3 337.5h.01M130.6 336.8h.01M130.6 337.5h.01M130.6 338.1h.01M130.9 338.6h.01M130.9 338.3h.01M130.9 339.7h.01M131 339.4h.01M131 338.6h.01M131 338.7h.01M131.3 338.4h.01M131.3 338.8h.01M131.3 340h.01M131.5 340.3h.01M131.5 339.5h.01M131.5 338.8h.01M131.8 340.6h.01M131.8 339.8h.01M131.8 340.2h.01M132.2 340.7h.01M132.2 340.6h.01M132.2 339.3h.01M132.4 340.3h.01M132.4 340.1h.01M132.4 339.6h.01M132.6 340.3h.01M132.6 340.5h.01M132.6 340.5h.01M132.7 339.2h.01M132.7 340.6h.01M132.7 340.3h.01M133 339.5h.01M133 340.3h.01M133 339.9h.01M133.1 340.2h.01M133.1 339.3h.01M133.1 338.6h.01M133.5 338.9h.01M133.5 339.1h.01M133.5 338.6h.01M133.6 339.1h.01M133.6 338h.01M133.6 338.4h.01M134.1 339.7h.01M134.1 338.8h.01M134.1 338.2h.01M134.2 338.4h.01M134.2 338.2h.01M134.2 339.3h.01M134.4 337.5h.01M134.4 338h.01M134.4 337.7h.01M134.7 338.4h.01M134.7 337.5h.01M134.7 338.8h.01M134.8 337.3h.01M134.8 338.5h.01M134.8 338.5h.01M135.1 339.4h.01M135.1 338.9h.01M135.1 339.4h.01M135.5 339.3h.01M135.5 339.7h.01M135.5 338.9h.01M135.5 338.7h.01M135.5 339.4h.01M135.5 339.3h.01M136 339.8h.01M136 339.1h.01M136 339.1h.01M136.2 340.5h.01M136.2 338.9h.01M136.2 339.7h.01M136.2 340.3h.01M136.2 339.4h.01M136.2 340.3h.01M136.6 340.4h.01M136.6 340.5h.01M136.6 340.7h.01M136.7 340.3h.01M136.7 340.4h.01M136.7 340.1h.01M137 339.7h.01M137 340.5h.01M137 340.4h.01M137.2 340.5h.01M137.2 339.5h.01M137.2 340.6h.01M137.6 338.8h.01M137.6 340.3h.01M137.6 340.5h.01M137.7 339.8h.01M137.7 339h.01M137.7 339.6h.01M138 338.8h.01M138 339.7h.01M138 339.6h.01M138.3 339.7h.01M138.3 340h.01M138.3 340.1h.01M138.4 337.3h.01M138.4 337.8h.01M138.4 339.1h.01M138.7 339.1h.01M138.7 338.4h.01M138.7 337.7h.01M138.8 338.1h.01M138.8 340.4h.01M138.8 337.9h.01M139.2 338.5h.01M139.2 338.1h.01M139.2 338.2h.01M139.6 337.6h.01M139.6 340.2h.01M139.6 339.7h.01M139.7 338.6h.01M139.7 339.4h.01M139.7 339.1h.01M139.8 338.5h.01M139.8 339.5h.01M139.8 339.2h.01M140 338.5h.01M140 339.2h.01M140 339.9h.01M140.5 339.8h.01M140.5 339.2h.01M140.5 338.2h.01M140.6 340.3h.01M140.6 340.4h.01M140.6 340.7h.01M140.9 340.6h.01M140.9 339.9h.01M140.9 340.1h.01M141 340.4h.01M141 339.8h.01M141 340.7h.01M141.4 340.7h.01M141.4 340.5h.01M141.4 340.6h.01M141.7 339.5h.01M141.7 338.8h.01M141.7 340.4h.01M141.9 340h.01M141.9 338.8h.01M141.9 340.1h.01M142 340h.01M142 339.5h.01M142 339.4h.01M142.2 340h.01M142.2 340.2h.01M142.2 339.3h.01M142.5 339.6h.01M142.5 338.6h.01M142.5 339.2h.01M142.8 340.5h.01M142.8 339.1h.01M142.8 339.4h.01M143.1 339.3h.01M143.1 339.8h.01M143.1 339.1h.01M143 339.4h.01M143 337.9h.01M143 338.9h.01M143.3 338.2h.01M143.3 337h.01M143.3 338.3h.01M143.7 339h.01M143.7 339.4h.01M143.7 336.8h.01M143.8 340.7h.01M143.8 338.5h.01M143.8 338.8h.01M144.1 339.7h.01M144.1 339.4h.01M144.1 338.1h.01M144.3 340.1h.01M144.3 338.9h.01M144.3 340h.01M144.6 339.8h.01M144.6 339.2h.01M144.6 339.6h.01M144.7 339h.01M144.7 339h.01M144.7 340.6h.01M145.1 340.7h.01M145.1 340.3h.01M145.1 340h.01M145.1 340.3h.01M145.1 340h.01M145.1 340.5h.01M145.5 340.4h.01M145.5 339.7h.01M145.5 340.4h.01M145.8 340.1h.01M145.8 340.7h.01M145.8 340.4h.01M146 339.8h.01M146 340.1h.01M146 339.9h.01M146.2 339.8h.01M146.2 339.2h.01M146.2 340.4h.01M146.5 339.1h.01M146.5 339.9h.01M146.5 340.8h.01M146.8 338.9h.01M146.8 339.5h.01M146.8 338.5h.01M147.1 339.4h.01M147.1 338.9h.01M147.1 340h.01M147.2 339.5h.01M147.2 339.6h.01M147.2 339.2h.01M147.5 340h.01M147.5 339.9h.01M147.5 338.9h.01M147.7 339h.01M147.7 338.6h.01M147.7 339.7h.01M147.9 337.9h.01M147.9 339.6h.01M147.9 338.1h.01M148.2 338.8h.01M148.2 339h.01M148.2 339.3h.01M148.5 338.7h.01M148.5 339.8h.01M148.5 340h.01M148.6 339.8h.01M148.6 339.7h.01M148.6 339.7h.01M148.8 340.7h.01M148.8 339.8h.01M148.8 340.1h.01M149.1 340.4h.01M149.1 339.8h.01M149.1 338.8h.01M149.3 339.3h.01M149.3 340.5h.01M149.3 339.9h.01M149.4 339.9h.01M149.4 340.3h.01M149.4 340.7h.01M150 339.9h.01M150 340.3h.01M150 340.7h.01M150.1 340.6h.01M150.1 340.7h.01M150.1 340.7h.01M150.3 340.7h.01M150.3 340.5h.01M150.3 340.8h.01M150.6 340.2h.01M150.6 340.1h.01M150.6 340.3h.01M150.7 339.1h.01M150.7 339.2h.01M150.7 340.3h.01M151 339.4h.01M151 340.1h.01M151 339.6h.01M151.1 339.4h.01M151.1 340.7h.01M151.1 339.8h.01M151.6 338.4h.01M151.6 339.9h.01M151.6 340.6h.01M151.8 339h.01M151.8 338.7h.01M151.8 340.3h.01M151.9 338.5h.01M151.9 339.5h.01M151.9 339.2h.01M152.2 339.4h.01M152.2 338.3h.01M152.2 339.7h.01M152.2 338.8h.01M152.2 339.2h.01M152.2 338.7h.01M152.6 338.6h.01M152.6 340.2h.01M152.6 339.5h.01M153 339.3h.01M153 339.7h.01M153 339.8h.01M153.1 338.4h.01M153.1 340.1h.01M153.1 340.2h.01M153.4 340.7h.01M153.4 340.7h.01M153.4 340.2h.01M153.5 340.4h.01M153.5 340.6h.01M153.5 340.2h.01M153.7 338.5h.01M153.7 339.3h.01M153.7 340.3h.01M153.9 340.8h.01M153.9 340.7h.01M153.9 340.7h.01M154.2 340.8h.01M154.2 340.7h.01M154.2 340.7h.01M154.5 340.6h.01M154.5 340.5h.01M154.5 340h.01M154.8 340.1h.01M154.8 339.9h.01M154.8 340.5h.01M155.1 340.1h.01M155.1 339.8h.01M155.1 340.7h.01M155.3 340.5h.01M155.3 340.5h.01M155.3 339.6h.01M155.5 339.7h.01M155.5 340.1h.01M155.5 340.6h.01M155.9 339.6h.01M155.9 340.6h.01M155.9 338.8h.01M156 340.7h.01M156 339h.01M156 339.9h.01M156.2 339.3h.01M156.2 339.5h.01M156.2 338.8h.01M156.4 338.3h.01M156.4 339h.01M156.4 340.1h.01M156.9 339h.01M156.9 339.3h.01M156.9 339.8h.01M157 339.1h.01M157 339h.01M157 340h.01M157.1 339.3h.01M157.1 338.5h.01M157.1 338.1h.01M157.4 339.8h.01M157.4 338.6h.01M157.4 338.7h.01M157.6 339.1h.01M157.6 339.7h.01M157.6 339.6h.01M157.8 340.8h.01M157.8 339.3h.01M157.8 339.2h.01M158.1 340.3h.01M158.1 339.7h.01M158.1 339.5h.01M158.2 340.4h.01M158.2 339.8h.01M158.2 340h.01M158.5 340.5h.01M158.5 340.5h.01M158.5 339.9h.01M159 340.8h.01M159 340.7h.01M159 340.4h.01M159.2 340.7h.01M159.2 339.9h.01M159.2 340.1h.01M159.3 339.3h.01M159.3 340h.01M159.3 340.8h.01M159.7 339.2h.01M159.7 338.8h.01M159.7 339.3h.01M159.8 339.5h.01M159.8 340.4h.01M159.8 339.9h.01M160.1 339.2h.01M160.1 339.2h.01M160.1 340.3h.01M160.3 339.9h.01M160.3 339.4h.01M160.3 339.1h.01M160.6 339h.01M160.6 339.7h.01M160.6 339.4h.01M160.7 339.4h.01M160.7 339.8h.01M160.7 340.7h.01M160.9 339.5h.01M160.9 338.9h.01M160.9 339.6h.01M161.1 338.9h.01M161.1 338.1h.01M161.1 339.3h.01M161.5 338.8h.01M161.5 338.3h.01M161.5 339.4h.01M161.7 339h.01M161.7 338.7h.01M161.7 340.1h.01M161.9 339.3h.01M161.9 339.1h.01M161.9 339.6h.01M162.1 340.7h.01M162.1 339.4h.01M162.1 338.5h.01M162.3 339.5h.01M162.3 339.3h.01M162.3 338.7h.01M162.6 340.6h.01M162.6 340.4h.01M162.6 340.1h.01M162.9 339.4h.01M162.9 340.4h.01M162.9 340.5h.01M163.1 339.4h.01M163.1 340.6h.01M163.1 339.6h.01M163.1 340.6h.01M163.1 340.3h.01M163.1 340.8h.01M163.6 340.8h.01M163.6 340.7h.01M163.6 340.1h.01M163.6 339.6h.01M163.6 340.6h.01M163.6 340.1h.01M164.2 340.5h.01M164.2 339.3h.01M164.2 340h.01M164.1 339.3h.01M164.1 340h.01M164.1 340.1h.01M164.7 338.7h.01M164.7 338.9h.01M164.7 337.3h.01M164.7 339.1h.01M164.7 339.9h.01M164.7 340.3h.01M165 339.1h.01M165 340h.01M165 338.6h.01M165.3 339.5h.01M165.3 339h.01M165.3 339.7h.01M165.3 339.2h.01M165.3 339.3h.01M165.3 339.9h.01M165.6 339.5h.01M165.6 337.8h.01M165.6 338.1h.01M165.8 339.2h.01M165.8 338.7h.01M165.8 338.6h.01M165.9 338h.01M165.9 338.4h.01M165.9 337.6h.01M166.3 340h.01M166.3 338.6h.01M166.3 338.9h.01M166.7 339.9h.01M166.7 338.9h.01M166.7 339.5h.01M166.9 338.6h.01M166.9 338.7h.01M166.9 340.4h.01M167.2 338.3h.01M167.2 338.3h.01M167.2 338.6h.01M167.4 340h.01M167.4 338.6h.01M167.4 338.4h.01M167.5 339.3h.01M167.5 339.7h.01M167.5 339.5h.01M167.7 339.4h.01M167.7 339.8h.01M167.7 340.6h.01M168.1 339.3h.01M168.1 339.4h.01M168.1 338.7h.01M168.2 338.5h.01M168.2 339.3h.01M168.2 338.6h.01M168.4 339.4h.01M168.4 338.5h.01M168.4 338.9h.01M168.9 338.2h.01M168.9 337.9h.01M168.9 338.3h.01M168.8 337.9h.01M168.8 337.9h.01M168.8 339h.01M169.1 338.4h.01M169.1 340.3h.01M169.1 338.5h.01M169.4 337.8h.01M169.4 338.3h.01M169.4 337.8h.01M169.5 337.6h.01M169.5 336.4h.01M169.5 338.2h.01M169.9 335.9h.01M169.9 336.4h.01M169.9 337.1h.01M170.1 336.4h.01M170.1 337h.01M170.1 335.9h.01M170.4 337.4h.01M170.4 336.4h.01M170.4 337.6h.01M170.6 338.1h.01M170.6 337.5h.01M170.6 336.9h.01M170.7 336.3h.01M170.7 337.3h.01M170.7 337h.01M171.1 336.9h.01M171.1 337.4h.01M171.1 339.5h.01M171.2 337.5h.01M171.2 338.6h.01M171.2 339h.01M171.8 338.2h.01M171.8 338.1h.01M171.8 338.4h.01M171.8 338.6h.01M171.8 338.4h.01M171.8 340.4h.01M172 337.9h.01M172 340.1h.01M172 336.5h.01M172 339.3h.01M172 340h.01M172 340h.01M172.4 338.1h.01M172.4 340.4h.01M172.4 337.6h.01M172.7 339.4h.01M172.7 335.3h.01M172.7 340h.01M173.1 339.8h.01M173.1 338.3h.01M173.1 337.5h.01M173.3 340.9h.01M173.3 337.6h.01M173.3 336.6h.01M173.5 337.9h.01M173.5 336.7h.01M173.5 334h.01M173.7 332.9h.01M173.7 337.9h.01M173.7 337.2h.01M174 336.7h.01M174 334.1h.01M174 336.9h.01M174.2 336.5h.01M174.2 335.5h.01M174.2 333.7h.01M174.3 334.6h.01M174.3 335.5h.01M174.3 332.1h.01M174.5 331.8h.01M174.5 330.3h.01M174.5 331.4h.01M174.8 330.6h.01M174.8 330.8h.01M174.8 333.8h.01M175.2 330.6h.01M175.2 332.6h.01M175.2 332.4h.01M175.4 332.5h.01M175.4 328.3h.01M175.4 330.9h.01M175.5 333.7h.01M175.5 334.5h.01M175.5 331.6h.01M175.9 332.7h.01M175.9 335.6h.01M175.9 338h.01M176.1 334.1h.01M176.1 334.4h.01M176.1 335.5h.01M176.3 336.8h.01M176.3 332.8h.01M176.3 332.7h.01M176.6 336h.01M176.6 335.5h.01M176.6 334.2h.01M176.8 337.6h.01M176.8 337.2h.01M176.8 336.1h.01M177.1 336.4h.01M177.1 332.8h.01M177.1 334.6h.01M177.2 336.3h.01M177.2 332.5h.01M177.2 334.3h.01M177.5 334.6h.01M177.5 334.5h.01M177.5 334.2h.01M177.8 332h.01M177.8 327h.01M177.8 330.7h.01M178 330.7h.01M178 332.5h.01M178 332.6h.01M178.1 333.2h.01M178.1 324.6h.01M178.1 324.8h.01M178.5 324h.01M178.5 324.3h.01M178.5 324.2h.01M178.7 320.8h.01M178.7 328.2h.01M178.7 327.2h.01M179 323.9h.01M179 328.6h.01M179 321.4h.01M179 324.5h.01M179 322.5h.01M179 320.6h.01M179.3 326.6h.01M179.3 327.7h.01M179.3 325.1h.01M179.8 324.8h.01M179.8 318.9h.01M179.8 330h.01M180 322.8h.01M180 321.6h.01M180 328.2h.01M180.2 327.6h.01M180.2 325.8h.01M180.2 334.6h.01M180.4 329h.01M180.4 327.3h.01M180.4 330.6h.01M180.8 328.3h.01M180.8 330.9h.01M180.8 322.1h.01M180.8 333.8h.01M180.8 337.8h.01M180.8 338.4h.01M181.6 340.2h.01M181.6 328.4h.01M181.6 333.3h.01M182.2 325.5h.01M182.2 320.5h.01M182.2 314.9h.01M182.7 316.9h.01M182.7 319.3h.01M182.7 324.1h.01M183.2 321.3h.01M183.2 320.8h.01M183.2 309.8h.01M183.5 308.7h.01M183.5 305.8h.01M183.5 309.3h.01M183.6 309.8h.01M183.6 317.6h.01M183.6 320.7h.01M184.4 306.5h.01M184.4 313.9h.01M184.4 315.6h.01M185.3 332.9h.01M185.3 328.1h.01M185.3 332.5h.01M186.1 325.4h.01M186.1 306.4h.01M186.1 327.5h.01M186.4 302.5h.01M186.4 306.9h.01M186.4 317.9h.01M186.6 331h.01M186.6 324.6h.01M186.6 322.2h.01M186.9 317h.01M186.9 320.2h.01M186.9 310.8h.01M187.1 305h.01M187.1 314.2h.01M187.1 306.7h.01M187.6 298h.01M187.6 320.9h.01M187.6 302.9h.01M187.5 281.9h.01M187.5 320.4h.01M187.5 323.3h.01M188 305h.01M188 316.9h.01M188 301.5h.01M188.1 301.5h.01M188.1 296.9h.01M188.1 286.5h.01M189 310.6h.01M189 307.3h.01M189 327.2h.01M189.4 314.1h.01M189.4 313.7h.01M189.4 300.6h.01M189.7 303.8h.01M189.7 327.2h.01M189.7 328.5h.01M190.1 337.7h.01M190.1 339.6h.01M190.1 319.4h.01M190.4 308.8h.01M190.4 336.4h.01M190.4 312.7h.01M190.7 331.2h.01M190.7 328.1h.01M190.7 338.9h.01M191 311.8h.01M191 320.4h.01M191 299.6h.01M192 284.3h.01M192 290h.01M192 287h.01M192.6 295.7h.01M192.6 292.6h.01M192.6 308.3h.01M192.9 299.4h.01M192.9 301.2h.01M192.9 302.2h.01M193.1 303.6h.01M193.1 295.8h.01M193.1 286.9h.01M193.6 291.2h.01M193.6 286.5h.01M193.6 316.2h.01M194.6 340.3h.01M194.6 306.3h.01M194.6 318.3h.01M195 310.8h.01M195 319.9h.01M195 337.7h.01M195.4 314.8h.01M195.4 293.8h.01M195.4 316.2h.01M196.2 308.1h.01M196.2 308.8h.01M196.2 293h.01M196.5 294.2h.01M196.5 296.3h.01M196.5 300.2h.01M198 283.8h.01M198 317.5h.01M198 303.4h.01M198.4 314.8h.01M198.4 308.6h.01M198.4 309.8h.01M199.2 304.6h.01M199.2 320.1h.01M199.2 317.3h.01M199.1 310h.01M199.1 322.2h.01M199.1 312.6h.01M199.9 320.3h.01M199.9 307h.01M199.9 294.4h.01M201.3 297.1h.01M201.3 279.2h.01M201.3 283h.01M201.5 277.9h.01M201.5 281h.01M201.5 285.2h.01M202.1 312.8h.01M202.1 286.1h.01M202.1 292.1h.01M202.5 321.7h.01M202.5 317.1h.01M202.5 310.6h.01M203.1 317.9h.01M203.1 319.4h.01M203.1 310.1h.01M203.6 321h.01M203.6 311.6h.01M203.6 328.5h.01M203.8 319.9h.01M203.8 317.7h.01M203.8 290.9h.01M204.1 320.6h.01M204.1 321.8h.01M204.1 317h.01M204.2 303.8h.01M204.2 313.5h.01M204.2 325.6h.01M205 302.8h.01M205 288.9h.01M205 296.6h.01M205.7 289.3h.01M205.7 270.4h.01M205.7 295.8h.01M205.8 290.3h.01M205.8 282.9h.01M205.8 292h.01M206.1 302.4h.01M206.1 289.2h.01M206.1 285.9h.01M206.3 291.4h.01M206.3 282.1h.01M206.3 305.9h.01M207.6 326.6h.01M207.6 310.6h.01M207.6 310.7h.01M207.9 318.9h.01M207.9 290.2h.01M207.9 320h.01M208 311.4h.01M208 309.8h.01M208 304h.01M208.1 309.2h.01M208.1 327.5h.01M208.1 339.2h.01M208.3 297.2h.01M208.3 285.5h.01M208.3 301.1h.01M208.6 299.6h.01M208.6 312.8h.01M208.6 314.1h.01M209.1 321.5h.01M209.1 294.6h.01M209.1 307.8h.01M209.4 280.3h.01M209.4 279.6h.01M209.4 289.9h.01M209.7 281.2h.01M209.7 290.9h.01M209.7 294.6h.01M209.9 277.3h.01M209.9 292.1h.01M209.9 287h.01M210.2 282.8h.01M210.2 293.1h.01M210.2 291.1h.01M210.8 294.7h.01M210.8 284.6h.01M210.8 289.5h.01M211.3 283.7h.01M211.3 296.2h.01M211.3 290.6h.01M211.2 302.3h.01M211.2 293.4h.01M211.2 299.9h.01M212 310.4h.01M212 292.6h.01M212 308.4h.01M212.4 306.4h.01M212.4 326.2h.01M212.4 320.9h.01M212.8 306.4h.01M212.8 300.3h.01M212.8 312.8h.01M213 313.3h.01M213 310.4h.01M213 307.4h.01M213.2 283.9h.01M213.2 315.9h.01M213.2 296.6h.01M213.6 285.8h.01M213.6 314.9h.01M213.6 312.9h.01M213.8 281.3h.01M213.8 283.4h.01M213.8 297.3h.01M213.9 292.1h.01M213.9 304.8h.01M213.9 293.8h.01M214.2 300.6h.01M214.2 295.3h.01M214.2 296.7h.01M214.3 273.7h.01M214.3 272h.01M214.3 272.3h.01M214.5 276.3h.01M214.5 273.5h.01M214.5 278.2h.01M214.9 320.5h.01M214.9 284.9h.01M214.9 296.3h.01M215 307.5h.01M215 284.1h.01M215 295.5h.01M215.4 299.4h.01M215.4 295.9h.01M215.4 284.5h.01M215.5 283.5h.01M215.5 289.1h.01M215.5 303.2h.01M215.6 299.8h.01M215.6 305.7h.01M215.6 320.9h.01M216 296.5h.01M216 304.1h.01M216 282.4h.01M216.3 297h.01M216.3 307.4h.01M216.3 303.5h.01M216.5 300h.01M216.5 306.9h.01M216.5 318.5h.01M216.7 319.4h.01M216.7 315.8h.01M216.7 314.1h.01M217 321.2h.01M217 314.5h.01M217 335.2h.01M217.2 306.4h.01M217.2 337.8h.01M217.2 323.6h.01M217.5 333.6h.01M217.5 302h.01M217.5 295.6h.01M217.8 292.4h.01M217.8 304.7h.01M217.8 293.4h.01M217.8 301.3h.01M217.8 298.8h.01M217.8 319.4h.01M218 284.2h.01M218 283.9h.01M218 305.8h.01M218.6 315.8h.01M218.6 278.8h.01M218.6 288.4h.01M218.6 273.8h.01M218.6 264.8h.01M218.6 278.9h.01M218.9 289.1h.01M218.9 271.9h.01M218.9 301.9h.01M219 289.4h.01M219 269.3h.01M219 291.1h.01M219.4 277h.01M219.4 326.5h.01M219.4 275.7h.01M219.6 299.2h.01M219.6 284.2h.01M219.6 297.9h.01M219.8 294.8h.01M219.8 286.9h.01M219.8 307.3h.01M220 277.8h.01M220 296.1h.01M220 301.9h.01M220.3 309.8h.01M220.3 300.8h.01M220.3 318h.01M220.6 310.5h.01M220.6 330.8h.01M220.6 307.3h.01M220.7 316.5h.01M220.7 313.8h.01M220.7 308.2h.01M220.9 336h.01M220.9 314.8h.01M220.9 320.5h.01M221.2 302.3h.01M221.2 317.5h.01M221.2 327.8h.01M221.5 296.1h.01M221.5 305.5h.01M221.5 336.4h.01M221.8 317.4h.01M221.8 318.4h.01M221.8 298h.01M221.9 317.8h.01M221.9 307.9h.01M221.9 300h.01M222.3 298.9h.01M222.3 312.3h.01M222.3 288.4h.01M222.5 308.1h.01M222.5 317.2h.01M222.5 305.8h.01M222.5 293.9h.01M222.5 297h.01M222.5 294.2h.01M223 293.1h.01M223 293.8h.01M223 300.2h.01M223.2 296.7h.01M223.2 296.5h.01M223.2 280.4h.01M223.4 284.1h.01M223.4 282.2h.01M223.4 280.3h.01M223.6 297.7h.01M223.6 275.9h.01M223.6 270.2h.01" stroke="#0a0a0a" stroke-width="1.4" stroke-linecap="square" fill="none"/>
<path d="M91.1 248.2h.01M88.7 246.1h.01M88.4 237.8h.01M90.2 248.1h.01M88.6 234.7h.01M87.6 236.3h.01M90.9 265.3h.01M87.4 254.2h.01M90.1 263.4h.01M90.9 235.1h.01M88 265.5h.01M87.3 258.1h.01M88.7 245.5h.01M88 262.5h.01M91 232.5h.01M87.5 257.1h.01M88.2 263h.01M87.7 262.5h.01M87.3 251.8h.01M88.1 249.3h.01M88.4 244.6h.01M87.9 263.4h.01M88.6 260.6h.01M90.8 255.6h.01M87.8 264.6h.01M90.2 263.9h.01" stroke="#0a0a0a" stroke-width="1.4" stroke-linecap="square" fill="none"/>
<path d="M62.4 253.9h.01M62.5 253.6h.01M61.5 266.7h.01M61.5 245.6h.01M61.6 263.1h.01M62.3 271.6h.01M62.3 259.5h.01M61.6 257.1h.01M62.2 257.1h.01M62.4 256.3h.01M61.5 244.4h.01M61.5 257.8h.01" stroke="#0a0a0a" stroke-width="1.4" stroke-linecap="square" fill="none"/>
<path d="M238.2 243.3h.01" stroke="#dd2222" stroke-width="1.5" stroke-linecap="square" fill="none"/>
<path d="M238.2 250.9h.01" stroke="#f5923a" stroke-width="1.5" stroke-linecap="square" fill="none"/>
<path d="M238.2 258.4h.01" stroke="#f2ea12" stroke-width="1.5" stroke-linecap="square" fill="none"/>
<path d="M238.2 265.9h.01" stroke="#8fd14a" stroke-width="1.5" stroke-linecap="square" fill="none"/>
<path d="M238.2 273.5h.01" stroke="#22dff0" stroke-width="1.5" stroke-linecap="square" fill="none"/>
<path d="M238.2 281.1h.01" stroke="#1f88c8" stroke-width="1.5" stroke-linecap="square" fill="none"/>
<path d="M238.2 288.6h.01" stroke="#6a35b8" stroke-width="1.5" stroke-linecap="square" fill="none"/>
<path d="M238.2 296.2h.01" stroke="#9440e0" stroke-width="1.5" stroke-linecap="square" fill="none"/>
<path d="M238.2 303.7h.01" stroke="#f55cf0" stroke-width="1.5" stroke-linecap="square" fill="none"/>
<path d="M238.2 311.2h.01" stroke="#0a0a0a" stroke-width="1.5" stroke-linecap="square" fill="none"/>
<line x1="49.20" y1="367.70" x2="49.20" y2="502.90" stroke="#444" stroke-width="1.0" />
<line x1="47.40" y1="502.60" x2="234.50" y2="502.60" stroke="#444" stroke-width="1.0" />
<line x1="47.20" y1="368.00" x2="49.20" y2="368.00" stroke="#444" stroke-width="0.8" />
<line x1="47.20" y1="381.46" x2="49.20" y2="381.46" stroke="#444" stroke-width="0.8" />
<line x1="47.20" y1="394.92" x2="49.20" y2="394.92" stroke="#444" stroke-width="0.8" />
<line x1="47.20" y1="408.38" x2="49.20" y2="408.38" stroke="#444" stroke-width="0.8" />
<line x1="47.20" y1="421.84" x2="49.20" y2="421.84" stroke="#444" stroke-width="0.8" />
<line x1="47.20" y1="435.30" x2="49.20" y2="435.30" stroke="#444" stroke-width="0.8" />
<line x1="47.20" y1="448.76" x2="49.20" y2="448.76" stroke="#444" stroke-width="0.8" />
<line x1="47.20" y1="462.22" x2="49.20" y2="462.22" stroke="#444" stroke-width="0.8" />
<line x1="47.20" y1="475.68" x2="49.20" y2="475.68" stroke="#444" stroke-width="0.8" />
<line x1="47.20" y1="489.14" x2="49.20" y2="489.14" stroke="#444" stroke-width="0.8" />
<line x1="47.20" y1="502.60" x2="49.20" y2="502.60" stroke="#444" stroke-width="0.8" />
<line x1="57.00" y1="502.60" x2="57.00" y2="504.40" stroke="#444" stroke-width="0.8" />
<line x1="72.45" y1="502.60" x2="72.45" y2="504.40" stroke="#444" stroke-width="0.8" />
<line x1="87.90" y1="502.60" x2="87.90" y2="504.40" stroke="#444" stroke-width="0.8" />
<line x1="103.35" y1="502.60" x2="103.35" y2="504.40" stroke="#444" stroke-width="0.8" />
<line x1="118.80" y1="502.60" x2="118.80" y2="504.40" stroke="#444" stroke-width="0.8" />
<line x1="134.25" y1="502.60" x2="134.25" y2="504.40" stroke="#444" stroke-width="0.8" />
<line x1="149.70" y1="502.60" x2="149.70" y2="504.40" stroke="#444" stroke-width="0.8" />
<line x1="165.15" y1="502.60" x2="165.15" y2="504.40" stroke="#444" stroke-width="0.8" />
<line x1="180.60" y1="502.60" x2="180.60" y2="504.40" stroke="#444" stroke-width="0.8" />
<line x1="196.05" y1="502.60" x2="196.05" y2="504.40" stroke="#444" stroke-width="0.8" />
<line x1="211.50" y1="502.60" x2="211.50" y2="504.40" stroke="#444" stroke-width="0.8" />
<line x1="226.95" y1="502.60" x2="226.95" y2="504.40" stroke="#444" stroke-width="0.8" />
<line x1="57.00" y1="388.80" x2="57.00" y2="404.30" stroke="#1a1a1a" stroke-width="1.1" />
<line x1="57.00" y1="417.60" x2="57.00" y2="425.50" stroke="#1a1a1a" stroke-width="1.1" />
<path d="M57 388.8h.01M57 425.5h.01" stroke="#222" stroke-width="1.2" stroke-linecap="square" fill="none"/>
<rect x="50.70" y="404.30" width="12.6" height="13.30" fill="#fff" stroke="#222" stroke-width="0.9"/>
<line x1="50.70" y1="413.00" x2="63.30" y2="413.00" stroke="#222" stroke-width="0.85" />
<line x1="72.45" y1="392.00" x2="72.45" y2="395.80" stroke="#1a1a1a" stroke-width="1.1" />
<line x1="72.45" y1="420.00" x2="72.45" y2="437.50" stroke="#1a1a1a" stroke-width="1.1" />
<path d="M72.5 392h.01M72.5 437.5h.01" stroke="#222" stroke-width="1.2" stroke-linecap="square" fill="none"/>
<rect x="66.15" y="395.80" width="12.6" height="24.20" fill="#fff" stroke="#222" stroke-width="0.9"/>
<line x1="66.15" y1="406.30" x2="78.75" y2="406.30" stroke="#222" stroke-width="0.85" />
<line x1="87.90" y1="382.50" x2="87.90" y2="393.30" stroke="#1a1a1a" stroke-width="1.1" />
<line x1="87.90" y1="403.80" x2="87.90" y2="409.50" stroke="#1a1a1a" stroke-width="1.1" />
<path d="M87.9 382.5h.01M87.9 409.5h.01" stroke="#222" stroke-width="1.2" stroke-linecap="square" fill="none"/>
<rect x="81.60" y="393.30" width="12.6" height="10.50" fill="#fff" stroke="#222" stroke-width="0.9"/>
<line x1="81.60" y1="395.80" x2="94.20" y2="395.80" stroke="#222" stroke-width="0.85" />
<line x1="103.35" y1="396.30" x2="103.35" y2="405.50" stroke="#1a1a1a" stroke-width="1.1" />
<line x1="103.35" y1="421.30" x2="103.35" y2="431.00" stroke="#1a1a1a" stroke-width="1.1" />
<path d="M103.3 396.3h.01M103.3 431h.01" stroke="#222" stroke-width="1.2" stroke-linecap="square" fill="none"/>
<rect x="97.05" y="405.50" width="12.6" height="15.80" fill="#fff" stroke="#222" stroke-width="0.9"/>
<line x1="97.05" y1="414.30" x2="109.65" y2="414.30" stroke="#222" stroke-width="0.85" />
<line x1="118.80" y1="402.00" x2="118.80" y2="416.40" stroke="#1a1a1a" stroke-width="1.1" />
<line x1="118.80" y1="439.40" x2="118.80" y2="453.60" stroke="#1a1a1a" stroke-width="1.1" />
<path d="M118.8 402h.01M118.8 453.6h.01" stroke="#222" stroke-width="1.2" stroke-linecap="square" fill="none"/>
<rect x="112.50" y="416.40" width="12.6" height="23.00" fill="#fff" stroke="#222" stroke-width="0.9"/>
<line x1="112.50" y1="424.70" x2="125.10" y2="424.70" stroke="#222" stroke-width="0.85" />
<line x1="134.25" y1="420.40" x2="134.25" y2="435.50" stroke="#1a1a1a" stroke-width="1.1" />
<line x1="134.25" y1="456.00" x2="134.25" y2="471.30" stroke="#1a1a1a" stroke-width="1.1" />
<path d="M134.2 420.4h.01M134.2 471.3h.01" stroke="#222" stroke-width="1.2" stroke-linecap="square" fill="none"/>
<rect x="127.95" y="435.50" width="12.6" height="20.50" fill="#fff" stroke="#222" stroke-width="0.9"/>
<line x1="127.95" y1="444.50" x2="140.55" y2="444.50" stroke="#222" stroke-width="0.85" />
<line x1="149.70" y1="425.60" x2="149.70" y2="439.40" stroke="#1a1a1a" stroke-width="1.1" />
<line x1="149.70" y1="462.00" x2="149.70" y2="477.00" stroke="#1a1a1a" stroke-width="1.1" />
<path d="M149.7 425.6h.01M149.7 477h.01" stroke="#222" stroke-width="1.2" stroke-linecap="square" fill="none"/>
<rect x="143.40" y="439.40" width="12.6" height="22.60" fill="#fff" stroke="#222" stroke-width="0.9"/>
<line x1="143.40" y1="449.00" x2="156.00" y2="449.00" stroke="#222" stroke-width="0.85" />
<line x1="165.15" y1="423.40" x2="165.15" y2="436.30" stroke="#1a1a1a" stroke-width="1.1" />
<line x1="165.15" y1="460.90" x2="165.15" y2="477.00" stroke="#1a1a1a" stroke-width="1.1" />
<path d="M165.1 423.4h.01M165.1 477h.01" stroke="#222" stroke-width="1.2" stroke-linecap="square" fill="none"/>
<rect x="158.85" y="436.30" width="12.6" height="24.60" fill="#fff" stroke="#222" stroke-width="0.9"/>
<line x1="158.85" y1="447.60" x2="171.45" y2="447.60" stroke="#222" stroke-width="0.85" />
<line x1="180.60" y1="410.50" x2="180.60" y2="419.00" stroke="#1a1a1a" stroke-width="1.1" />
<line x1="180.60" y1="440.10" x2="180.60" y2="459.70" stroke="#1a1a1a" stroke-width="1.1" />
<path d="M180.6 410.5h.01M180.6 459.7h.01" stroke="#222" stroke-width="1.2" stroke-linecap="square" fill="none"/>
<rect x="174.30" y="419.00" width="12.6" height="21.10" fill="#fff" stroke="#222" stroke-width="0.9"/>
<line x1="174.30" y1="428.50" x2="186.90" y2="428.50" stroke="#222" stroke-width="0.85" />
<line x1="196.05" y1="402.50" x2="196.05" y2="411.00" stroke="#1a1a1a" stroke-width="1.1" />
<line x1="196.05" y1="429.00" x2="196.05" y2="442.50" stroke="#1a1a1a" stroke-width="1.1" />
<path d="M196 402.5h.01M196 442.5h.01" stroke="#222" stroke-width="1.2" stroke-linecap="square" fill="none"/>
<rect x="189.75" y="411.00" width="12.6" height="18.00" fill="#fff" stroke="#222" stroke-width="0.9"/>
<line x1="189.75" y1="418.50" x2="202.35" y2="418.50" stroke="#222" stroke-width="0.85" />
<line x1="211.50" y1="395.00" x2="211.50" y2="400.00" stroke="#1a1a1a" stroke-width="1.1" />
<line x1="211.50" y1="410.00" x2="211.50" y2="414.00" stroke="#1a1a1a" stroke-width="1.1" />
<path d="M211.5 395h.01M211.5 414h.01" stroke="#222" stroke-width="1.2" stroke-linecap="square" fill="none"/>
<rect x="205.20" y="400.00" width="12.6" height="10.00" fill="#fff" stroke="#222" stroke-width="0.9"/>
<line x1="205.20" y1="404.50" x2="217.80" y2="404.50" stroke="#222" stroke-width="0.85" />
<line x1="226.95" y1="382.50" x2="226.95" y2="397.50" stroke="#1a1a1a" stroke-width="1.1" />
<line x1="226.95" y1="414.00" x2="226.95" y2="431.00" stroke="#1a1a1a" stroke-width="1.1" />
<path d="M226.9 382.5h.01M226.9 431h.01" stroke="#222" stroke-width="1.2" stroke-linecap="square" fill="none"/>
<rect x="220.65" y="397.50" width="12.6" height="16.50" fill="#fff" stroke="#222" stroke-width="0.9"/>
<line x1="220.65" y1="404.50" x2="233.25" y2="404.50" stroke="#222" stroke-width="0.85" />
<path d="M57 382.8h.01M57 443.4h.01M72.5 445.5h.01M72.5 390.9h.01M103.3 389.5h.01M103.3 394.9h.01M103.3 442h.01M118.8 394.9h.01M118.8 403h.01M118.8 467.6h.01M118.8 472.4h.01M134.2 419.1h.01M134.2 424.5h.01M134.2 475.7h.01M134.2 483.8h.01M149.7 421.8h.01M149.7 425.9h.01M149.7 487.8h.01M149.7 493.2h.01M165.1 486.4h.01M165.1 500.4h.01M180.6 405.7h.01M180.6 468.1h.01M180.6 473h.01M196 462.2h.01M196 400.3h.01M226.9 372h.01M226.9 376.6h.01M226.9 444.7h.01M226.9 450.1h.01" stroke="#c8c8c8" stroke-width="1.3" stroke-linecap="square" fill="none"/>
<path d="M190.1 428h.01M151.6 454.7h.01M157.5 464.8h.01M214.3 413.5h.01M94.6 410h.01M191.2 424.8h.01M232 410.8h.01M128.7 446.3h.01M200.3 412.5h.01M127.1 448.6h.01M95.4 414.1h.01M79.8 407.5h.01M211.9 401.1h.01M228.7 406.3h.01M189.5 436h.01M113.4 432.9h.01M222.3 402.9h.01M138.7 459h.01M141.1 444h.01M127.8 450.6h.01M194.2 428.6h.01M113 423.7h.01M80.9 414.5h.01M160.2 467.8h.01M114.9 427.6h.01M223 397h.01M80.4 408.8h.01M120.3 446.3h.01M231.8 405.3h.01M189.5 431h.01M149.5 455.5h.01M75.5 411.6h.01M155.4 448h.01M193.1 429.7h.01M118.9 445.2h.01M82.6 404.2h.01M51.1 402h.01M194.3 419h.01M117.7 432.9h.01M158.4 469.8h.01M208.6 409.2h.01M170 432.7h.01M74.1 402.7h.01M85.1 398.1h.01M124 453.9h.01M74.2 410.1h.01M196.4 423h.01M231.3 396.9h.01M63.5 408.8h.01M165.3 447.6h.01M117.1 435.4h.01M204.5 427.1h.01M175.5 434.7h.01M129.1 462.5h.01M152.6 456h.01M223 413.1h.01M182.3 435.2h.01M183.6 435.5h.01M127.1 453.7h.01M159 462.7h.01M158.1 468.4h.01M143.4 451.9h.01M187 432.7h.01M111 428.5h.01M164.1 453.2h.01M173 436.1h.01M92.2 401.5h.01M116.1 436.8h.01M148.6 449h.01M92.5 408.5h.01M175.7 438.5h.01M199.9 424.2h.01M57.4 405.3h.01M182.6 429.3h.01M161.2 458.4h.01M143.3 450.1h.01M227.7 403.2h.01M140.7 454.4h.01M99.9 410.9h.01M82.8 400.4h.01M96.5 405.8h.01M100.6 417h.01M117 428h.01M86.4 406.6h.01M88.2 404.6h.01M178.5 440.2h.01M139.4 452.6h.01M222.8 405.6h.01M154.5 451.2h.01M231.3 400h.01M178 432.9h.01M67.4 411.1h.01M101.1 408.5h.01M197.2 413.9h.01M176.8 443.3h.01M194.6 429.1h.01M96.2 408.3h.01M52 399.6h.01M154.1 455.6h.01M221.5 406.1h.01M227.5 400.8h.01M87.2 406.4h.01M60 413h.01M126.3 449.6h.01M69.1 402.3h.01M200.1 418h.01M91 406.4h.01M170.7 459.2h.01M198.9 409h.01M178.4 442.9h.01M120.9 429.1h.01M181.7 435.5h.01M229.2 399.1h.01M127.7 441.9h.01M170.5 454.5h.01M109.9 421.2h.01M89.8 400.1h.01M230.5 398.9h.01M86 403.2h.01M110.2 417.2h.01M153.4 453.1h.01M126.7 455.8h.01M83.6 398.7h.01M110.4 417.2h.01M113.2 428.3h.01M54.2 408.7h.01M101.4 408.6h.01M85.6 395.6h.01M181.4 438.6h.01M183.2 425.7h.01M81.9 395.2h.01M85.2 405.6h.01M67.8 404.2h.01M192.6 425.1h.01M228.2 402.7h.01M142.3 443.3h.01M53.4 414.7h.01M113.2 431.6h.01M125.8 456.3h.01M217.2 407.7h.01M169.6 438.4h.01M156.3 461.6h.01M191.7 429.5h.01M175.1 446.4h.01M118.6 430.9h.01M79.9 405.5h.01M132.5 452.1h.01M148.1 455.5h.01M158.6 466.6h.01M101.8 420.4h.01M170.6 463.5h.01M64.7 402h.01M100.5 411.3h.01M192.6 428.9h.01M198.4 419h.01M128.1 448.4h.01M62.5 411.6h.01M211.3 407h.01M218.2 408.7h.01M147.1 443.1h.01M216.1 419.2h.01M106.5 428.6h.01M226.5 397.2h.01M227.8 410.5h.01M178.1 440.7h.01M159.2 470.9h.01M119 450.7h.01M102.3 414.5h.01M205.6 407.2h.01M194.6 420.9h.01M203.8 419.4h.01M90.1 405.4h.01M163.4 444.7h.01M54.8 409.2h.01M149.1 456.9h.01M60.2 404.4h.01M166.9 449.7h.01M127.9 463.4h.01M75.4 412.5h.01M204.5 407h.01M61.5 408.8h.01M153.1 454h.01M146.8 446.8h.01M66.5 410.8h.01M116.3 441.8h.01M65.8 407.3h.01M217.4 409.4h.01M126.4 449.3h.01M160 466.8h.01M72.4 414.6h.01M172.6 457.3h.01M116.5 429.8h.01M129.3 440.1h.01M183.6 440.6h.01M97.8 403.6h.01M118.8 429.2h.01M157.5 464.4h.01M100.6 417.6h.01M220.5 402.7h.01M100 413.3h.01M96.8 409.4h.01M111.9 430h.01M197.5 408.7h.01M92 411.1h.01M196.5 417.7h.01M195.1 411.6h.01M162 456.4h.01M123.4 429.4h.01M58.7 408.6h.01M145.6 449.5h.01M145.1 445.8h.01M55.6 411.6h.01M147.7 450.5h.01M58.6 406.1h.01M227.9 407.8h.01M157.3 459.1h.01M231.2 399.9h.01M73.5 416.6h.01M52 408.2h.01M159.5 464.5h.01M232 408.5h.01M219 400.3h.01M154.4 448.3h.01M111.3 430h.01M155.3 453.9h.01M163.8 454.4h.01M59 409h.01M118.7 430.4h.01M149.4 451.7h.01M68.2 406.3h.01M84.9 404h.01M81 398.4h.01M58.8 404.4h.01M123 446.1h.01M122.4 437.2h.01M187.8 420.1h.01M68.6 410.1h.01M201.1 407.7h.01M114.4 411.3h.01M161.6 459.1h.01M210.2 403.3h.01M54.9 417.5h.01M189.2 424.2h.01M116.5 426.9h.01M161.6 454.7h.01M152.7 451.9h.01M230.3 400.1h.01M162.7 449.7h.01M56 405.4h.01M207 411.2h.01M102.3 414.6h.01M51.7 407.3h.01M213.1 407.7h.01M143.1 454.6h.01M196 427.3h.01M185.5 435h.01M161.7 461.7h.01M58.6 410h.01M183.4 440.4h.01M229.3 411.2h.01M105.5 420.7h.01M86.7 402.7h.01M57.1 399.3h.01M127.8 452.5h.01M151.9 446.3h.01M129.3 448.2h.01M62 406.4h.01M124.9 447.6h.01M65 404.2h.01M86.7 399.7h.01M202.8 421h.01M150.5 447h.01M193.1 425.7h.01M55.2 415.1h.01M123.7 448.1h.01M150.7 447.1h.01M125.5 441.1h.01M78.8 405.1h.01M125.2 438.8h.01M61 404.4h.01M51.6 413.8h.01M148.9 457.6h.01M153.3 451.5h.01M78.1 409.7h.01M162 459.6h.01M196.1 418.7h.01M68.2 408.9h.01M63 410.6h.01M210.8 414.9h.01M143.4 438.5h.01M160.4 467.6h.01M218.4 407.9h.01M219.6 399.7h.01M186.5 436h.01M55.3 412.4h.01M124.9 452.8h.01M100.7 405.8h.01M145 445.7h.01M127.2 462.3h.01M74.3 417.2h.01M96.6 404.9h.01M157.1 453.8h.01M189 436.1h.01M116.5 424.8h.01M175.8 450.8h.01M184.1 443.6h.01M189.4 439.4h.01M209.1 405.7h.01M80.1 402.9h.01M154.9 451.2h.01M82.3 409.5h.01M73.5 394.7h.01M148.4 453.2h.01M157.7 452.4h.01M191 426.7h.01M138.3 459h.01M127.9 452.6h.01M188.1 440.4h.01M94.6 399.9h.01M73.3 406h.01M123.3 434.4h.01M231.5 408.8h.01M198.8 421.8h.01M83.4 402h.01M195 421.4h.01M232.6 409.5h.01M82.4 400.7h.01M111.3 418.5h.01M102 415.5h.01M120.6 440.7h.01M176.5 442.3h.01M220.9 402.4h.01M55.8 409.1h.01M103.2 412.2h.01M130.1 443.8h.01M86.6 403h.01M200.8 417.1h.01M158.7 467.4h.01M142.3 441.9h.01M138.1 449.5h.01M102 413.2h.01M150 453h.01M111.1 420.1h.01M231.3 403.1h.01M51.8 412.4h.01M105.6 412.6h.01M180.6 427.2h.01M232.7 399.8h.01M217.9 403h.01M52.1 407.9h.01M230.4 409.8h.01M159.7 461.4h.01M67.7 400.4h.01M202 419.2h.01M126 448.6h.01M109.1 420.9h.01M96.3 408.3h.01M77.4 403.2h.01M98.7 411.9h.01M209.3 412h.01M223.3 398.5h.01M161.5 465.9h.01M156.5 455.1h.01M56.1 412.1h.01M194.4 422.6h.01M107.8 426.1h.01M157.2 460.1h.01M82.6 405.2h.01M67.7 405.8h.01M128.8 460.4h.01M93.1 409.8h.01M221.8 406h.01M207.4 406.3h.01M113.4 434.1h.01M141 439.1h.01M220.4 407.5h.01M52 404.4h.01M223.8 414.5h.01M72.5 416.6h.01M83.8 406.5h.01M226.5 410.5h.01M162.5 462.6h.01M78.8 407h.01M208 414h.01M205 402.6h.01M143 450.6h.01M59.2 407.3h.01M80.6 412.9h.01M199.4 408.9h.01M139.2 440.7h.01M219.7 411.6h.01M125.4 453.5h.01M94 409.3h.01M95.3 400.9h.01M178.9 442.5h.01M85.7 406.2h.01M193.7 433h.01M227 402.9h.01M144.8 445.5h.01M224.6 409.9h.01M163.9 445.5h.01M226.4 403.7h.01M85.2 405.5h.01M209.2 405.5h.01M55 403h.01M213.3 399.8h.01M143.2 447.3h.01M113.3 419.5h.01M158.8 466.8h.01M222.4 403.5h.01M162.4 447.8h.01M200.6 416.5h.01M160.6 464.9h.01M126.1 456h.01M139.7 452.3h.01M168.9 459.6h.01M104.4 422.4h.01M180 438.7h.01M217.9 406.9h.01M119.6 445.1h.01M227.1 405h.01M162 457.2h.01M123.6 438.2h.01M116.5 424.4h.01M61.5 400.9h.01M118 434.9h.01M111.7 435.8h.01M194.1 419h.01M70.1 405h.01M213 409.1h.01M104.3 411.5h.01M175.6 429.2h.01M150.8 449.3h.01M96 409.4h.01M73.9 405.9h.01M88.4 405.6h.01M149.9 438.1h.01M181.7 438.8h.01M95.8 411.9h.01M153.4 448.2h.01M199.2 418.3h.01M105.2 425.4h.01M218.5 400.7h.01M82.6 398.3h.01M152.6 462h.01M140.8 446.1h.01M154.8 449.8h.01M148.1 438.8h.01M231.3 402.7h.01M66.3 403.4h.01M98.4 409.1h.01M220.8 401.5h.01M75.2 394.7h.01M151.6 447.9h.01M157.2 463h.01M77.6 405.6h.01M223.7 394.4h.01M109.7 432.6h.01M223 408.1h.01M146.7 454.5h.01M193.2 417h.01M201.2 420h.01M144 452.6h.01M93.4 405.8h.01M101.9 410.2h.01M81.8 400.5h.01M227.9 410.2h.01M101.6 419.6h.01M119.6 445.4h.01M219.7 399.4h.01M71.5 409.9h.01M179.8 430.5h.01M97.3 408.4h.01M68.2 415.9h.01M120 447.5h.01M186.5 442.4h.01M83.3 395h.01M179.4 435.1h.01M111.6 423.2h.01M148 457h.01M224 391.1h.01M99.9 410.8h.01M142.8 458.9h.01M232.2 407.4h.01M150 448.9h.01M200.2 410.6h.01M111.2 428.4h.01M143.1 446.4h.01M228.5 403.1h.01M211.6 405.7h.01M170.9 452h.01M142 447.9h.01M210.3 401.7h.01M130 450.5h.01M221 407.1h.01M70 388.8h.01M154.4 451h.01M192.6 421.6h.01M210.9 415.3h.01M94 401.5h.01M179.2 443.3h.01M163.6 446.2h.01M62.4 406.2h.01M69.9 410.9h.01M127 454.5h.01M81.1 402.6h.01M166.6 450.1h.01M68.9 418h.01M122.9 434.8h.01M84.6 408.2h.01M134.9 448.9h.01M183.2 435.4h.01M176.4 430h.01M120.6 447.8h.01M98.8 405.1h.01M63.1 405.5h.01M145.5 467.7h.01M174.7 452.5h.01M156 459h.01M193 430.8h.01M78.2 403.8h.01M126.4 445.7h.01M179.6 425.4h.01M197.6 422.9h.01M166.4 445h.01M206.4 411.6h.01M174.6 440.8h.01M229.8 405.1h.01M144.7 450.5h.01M211.3 409h.01M103.2 411.8h.01M57.2 408.4h.01M106.7 426.2h.01M141.2 461.3h.01M83.3 398.8h.01M175.2 437.7h.01M210.4 408.1h.01M172.8 441.2h.01M193.3 424.8h.01M81.1 403.8h.01M162 459h.01M68.6 399.9h.01M72.4 393.5h.01M173.8 447.3h.01M140.9 453.2h.01M157.4 457.3h.01M190 425.4h.01M74.3 402.5h.01M192.7 433.4h.01M79.8 402.6h.01M229.5 403.8h.01M96.3 409h.01M209.4 405.8h.01M231.2 405.7h.01M146.2 448h.01M108.5 422.9h.01M78.7 406.1h.01M176.1 429.7h.01M190.2 430.3h.01M184.8 430h.01M111.1 419.8h.01M183.6 438.6h.01M181.2 431.5h.01M124.6 450.6h.01M231.2 405.7h.01M169.2 455.5h.01M164.6 444.5h.01M62.7 407.6h.01M163.6 458h.01M123.6 440.2h.01M217.4 411.2h.01M116.7 441.5h.01M182.2 428.6h.01M99.1 410.1h.01M146.3 454.8h.01M221.2 401.4h.01M149.6 447.8h.01M164.8 447.3h.01M164.9 442.6h.01M115 427.9h.01M119.5 426.4h.01M90.4 402h.01M160.9 459.4h.01M129.2 467.9h.01M78.5 406.5h.01M227.5 394.5h.01M170.9 452.8h.01M53.4 408.4h.01M145.9 452.9h.01M207.9 419h.01M209.9 404.7h.01M224.6 394.8h.01M69 397.2h.01M213.5 407.7h.01M69.7 413.4h.01M99.5 413.6h.01M107.1 417.4h.01M110.9 428.3h.01M111.8 421.5h.01M143.1 448.5h.01M199.3 423.7h.01M228.6 410.2h.01M141 445.1h.01M142.2 445.3h.01M225 404.4h.01M84.1 396.7h.01M120.4 437.2h.01M231 406.3h.01M198.4 418.2h.01M177.7 432.9h.01M166.6 460.4h.01M139 448.3h.01M107.8 420.8h.01M119.3 440.6h.01M191.5 431.7h.01M58.7 403.1h.01M102.2 416.3h.01M156.5 458.9h.01M199 412.3h.01M188.2 442.2h.01M84.7 392.7h.01M142.3 454h.01M158.8 469.1h.01M56.5 414.8h.01M177.9 439.8h.01M114.4 435.7h.01M164.5 451.6h.01M156.3 461.6h.01M124.8 460.5h.01M223.4 398.7h.01M106.2 414.7h.01M122.7 437.3h.01M219 402.8h.01M105.1 413.9h.01M227.7 407.9h.01M170.8 432.8h.01M184.1 436.9h.01M61.9 413.2h.01M58.7 399.6h.01M228.9 406.5h.01M112.5 427.1h.01M99.5 416h.01M119.1 436.3h.01M142.5 447.4h.01M144.9 448.4h.01M55.9 413.8h.01M98.1 405.6h.01M128.3 457.1h.01M82.5 408.7h.01M219.5 400.8h.01M200.1 414.5h.01M196.5 421.2h.01M124.6 450.1h.01M102 409.2h.01M217.3 407.4h.01M194 427.3h.01M208.7 405.8h.01M166.3 446.2h.01M173.4 454h.01M230.8 399h.01M155.5 462.6h.01M87.8 404.8h.01M61.6 406.3h.01M154.6 454.9h.01M134.8 443.4h.01M111.2 422.4h.01M217.6 418.5h.01M199.8 409.4h.01M205 414.1h.01M112.5 427.5h.01M125 450.7h.01M123.2 449.4h.01M159.4 463.7h.01M120.6 434.1h.01M215.4 404.9h.01M124.1 448.4h.01M121.7 429.1h.01M101.5 410.9h.01M96.9 405.4h.01M70.9 407.3h.01M215.3 404.7h.01M217.2 399.8h.01M115.2 423h.01M193 418.5h.01M217.3 405.3h.01M146.7 449.6h.01M206.2 416.6h.01M109.7 425.8h.01M60.6 410.5h.01M92.4 408.1h.01M209.9 407.9h.01M78 404.6h.01M113 432.5h.01M136.8 457.9h.01M200.7 417h.01M92.7 405h.01M97.6 407.2h.01M121.7 445.3h.01M215.9 413.1h.01M83.5 409.6h.01M55.9 408.6h.01M199.9 419.7h.01M220.1 402.4h.01M136.7 456.4h.01M147.4 442.5h.01M97.3 409.3h.01M66.8 408.1h.01M166.6 447.1h.01M69.2 403.2h.01M100.4 407.6h.01M69.7 419.7h.01M98 412h.01M55 406.5h.01M221.3 402.3h.01M113.2 426.8h.01M76.1 411.9h.01M169 446.5h.01M86.2 402.7h.01M146 450.5h.01M176.5 431.8h.01M168.2 449.2h.01M58 406.7h.01M110.5 416.1h.01M102.2 408.1h.01M145.7 457.8h.01M199 423.2h.01M102.5 425.6h.01M217.5 400.4h.01M112.5 428.7h.01M109.2 427.5h.01M100.6 412.5h.01M193.9 430.1h.01M175.2 439.2h.01M205.9 415.4h.01M52.2 404h.01M159 466.7h.01M96.9 408.4h.01M215 403.4h.01M159.3 467.1h.01M232.9 405.5h.01M156.7 453.8h.01M123.3 432.1h.01M165.6 444.5h.01M225.8 397.3h.01M112.2 437.5h.01M150.4 450.5h.01M73.7 407.6h.01M96.2 409.7h.01M111.8 423.3h.01M55.5 400.4h.01M136 445.4h.01M161.9 452.5h.01M197.2 411.8h.01M70.2 398.7h.01M127.4 450.8h.01M166.6 451.1h.01M126.8 443.1h.01M201 410.5h.01M222.2 407.3h.01M192.9 415.9h.01M122.8 446.8h.01M149.4 458.4h.01M74.9 407.1h.01M187 443.7h.01M64.9 407.8h.01M189.4 432.2h.01M182.1 434.8h.01M180.6 429.2h.01M89.6 407.6h.01M129.8 463.5h.01M179.8 426.4h.01M122.2 434.4h.01M74.4 400.9h.01M198.5 419.9h.01M190.7 426.1h.01M58.7 409.8h.01M64.4 401.9h.01M125.5 453.9h.01M150.4 449.4h.01M128.3 455h.01M214 402.6h.01M180.4 429.7h.01M128.6 462.2h.01M164.2 451.8h.01M98.8 414.8h.01M82.3 401h.01M86.8 398.4h.01M191.1 434.5h.01M110 422h.01M176.3 445.9h.01M78.1 407.5h.01M218.4 404.8h.01M80.4 398.3h.01M200.8 413h.01M228.2 401.1h.01M222.6 407.3h.01M153.5 454.3h.01M117.2 427.8h.01M70.9 406.5h.01M141.9 449h.01M126.6 446.9h.01M112.9 416.9h.01M120 426.8h.01M93.3 399.7h.01M164.3 447.7h.01M160 466.6h.01M127.5 458h.01M52.1 406.9h.01M189.5 437.2h.01M225.4 414.2h.01M168.6 450.1h.01M165.9 435.5h.01M58.8 408.2h.01M200.4 414.9h.01M147.8 450.7h.01M50.7 406.5h.01M223.5 411.4h.01M148 448.7h.01M169.2 444.2h.01M52.2 406.4h.01M201.6 412.9h.01M212.3 406.3h.01M110.2 420.2h.01M227.6 409.8h.01M223.2 414.7h.01M96.9 410.1h.01M104 415.8h.01M63.4 404.6h.01M121.2 443h.01M123.6 441.8h.01M63.9 407.4h.01M143.1 445.9h.01M182 433.7h.01M57.1 406h.01M97.2 404.7h.01M178.9 435.2h.01M175.6 442.1h.01M181.1 432.9h.01M136.5 452h.01M210.5 410.7h.01M183.1 438.6h.01M232.8 401.9h.01M162.9 452.2h.01M174.3 445.2h.01M61.2 407.3h.01M143.1 449.7h.01M185.2 425h.01M203.8 407.6h.01M226.7 405.8h.01M82.2 400.1h.01M143.6 459h.01M55.8 410.4h.01M124.8 450h.01M168.1 446.5h.01M177 441.4h.01M177.2 442.3h.01M163.9 454.6h.01M195.5 428.7h.01M53.6 413.3h.01M149 456.7h.01M67.7 405.2h.01M126.8 448.2h.01M91.5 401.2h.01M192.9 415.7h.01M124.7 439.7h.01M144.5 460.3h.01M69.6 411.5h.01M169.3 440.4h.01M207.7 408.5h.01M63.6 405.7h.01M91.2 403h.01M69.8 416.4h.01M159.2 465.3h.01M53.9 408.6h.01M76 412.3h.01M163.9 449.3h.01M177.1 427.5h.01M132.6 448.4h.01M155.8 460.7h.01M194.2 423.8h.01M154.2 458.4h.01M212.1 419.5h.01M144 452.9h.01M140.8 447.6h.01M159.5 468.8h.01M197.1 419.9h.01M156.2 457.3h.01M79.2 406.6h.01M213.2 408.7h.01M51.3 408.8h.01M90.7 404.7h.01M158.9 467.9h.01M227.8 401.9h.01M143.6 452.9h.01M128.2 457.4h.01M93.3 403.6h.01M165 451.3h.01M184.3 420.6h.01M148.9 452.3h.01M209.7 397.8h.01M74.7 405.2h.01M179.1 431.4h.01M152.8 448.4h.01M212.7 404.5h.01" stroke="#0c0c0c" stroke-width="1.3" stroke-linecap="square" fill="none"/>
<path d="M176.1 434.5h.01M175.7 440.6h.01M176.1 436h.01M175.9 442.7h.01M176.1 442.2h.01M175.9 434.8h.01M176 425.9h.01M175.5 439.8h.01M175.9 430.7h.01M175.7 438.8h.01M176.2 435h.01M175.8 445h.01M176.1 438.2h.01M176.1 422.1h.01" stroke="#0c0c0c" stroke-width="1.25" stroke-linecap="square" fill="none"/>
<path d="M181.4 417.8h.01M181.6 425.3h.01M181.8 417.7h.01M181.3 433.8h.01M181.3 423.5h.01M181.5 431.4h.01M181.5 425.5h.01M181.3 413h.01M181.6 436.8h.01M181.7 432.6h.01M181.2 419.7h.01M181.7 419h.01M181.2 433.2h.01M181.7 424.4h.01" stroke="#0c0c0c" stroke-width="1.25" stroke-linecap="square" fill="none"/>
<path d="M187.2 419.9h.01M187.7 432.7h.01M187.3 421.5h.01M187.5 436.4h.01M187.3 423.7h.01M187.2 430.2h.01M187.2 423.4h.01M187.3 426.7h.01M187.8 424.5h.01M187.3 439.1h.01M187.6 440.1h.01M187.4 440.5h.01M187.5 420.9h.01M187.2 428.7h.01" stroke="#0c0c0c" stroke-width="1.25" stroke-linecap="square" fill="none"/>
<path d="M193.5 413.4h.01M194.1 408.1h.01M193.3 418h.01M194 410.4h.01M194 422.2h.01M194.1 412.6h.01M193.9 420.8h.01M193.8 405.9h.01M193.3 428h.01M194.1 421.3h.01M193.9 419h.01M193.9 425.5h.01M193.6 419.6h.01M193.2 422.6h.01" stroke="#0c0c0c" stroke-width="1.25" stroke-linecap="square" fill="none"/>
<path d="M199.9 403.6h.01M200.1 405.1h.01M199.6 409.5h.01M199.5 415.9h.01M199.8 398.3h.01M200.3 422.9h.01M200 421.8h.01M199.8 407.4h.01M199.7 411.8h.01M200.2 404.9h.01M200 421.1h.01M199.5 399.5h.01M199.4 403.1h.01M200.4 405.4h.01" stroke="#0c0c0c" stroke-width="1.25" stroke-linecap="square" fill="none"/>
<path d="M205.8 411.3h.01M205.6 411.2h.01M205.1 395.1h.01M205.7 414.2h.01M205.1 411h.01M205.6 401.4h.01M205.3 408.4h.01M205 396.3h.01M205.2 397.5h.01M205.2 415.3h.01M205.6 403.8h.01M205.6 417.3h.01M204.9 395h.01M205.2 395.3h.01" stroke="#0c0c0c" stroke-width="1.25" stroke-linecap="square" fill="none"/>
<path d="M210.5 411.5h.01M210.7 391.1h.01M210.2 410.6h.01M210.8 405.7h.01M210.7 409.4h.01M210.7 392.1h.01M210.5 406.4h.01M210.5 401.5h.01M210.9 395.3h.01M210.9 411.2h.01M210.6 400.6h.01M210.4 391.1h.01M210.8 392.4h.01M210.6 391.3h.01" stroke="#0c0c0c" stroke-width="1.25" stroke-linecap="square" fill="none"/>
<path d="M216 401.3h.01M216 405h.01M216.1 393.7h.01M216.1 409.4h.01M215.9 401.6h.01M216.3 396.4h.01M216.6 400.8h.01M216 400.9h.01M216.3 402.2h.01M215.9 405.3h.01M216 389.7h.01M215.8 408.9h.01M216 392.1h.01M215.9 406.2h.01" stroke="#0c0c0c" stroke-width="1.25" stroke-linecap="square" fill="none"/>
<path d="M221.3 398.7h.01M221.6 407.9h.01M220.9 409.5h.01M221.4 396.6h.01M221.1 411.4h.01M221 388.5h.01M221 386.5h.01M221 409.1h.01M220.7 407.8h.01M221 390.6h.01M220.8 390.1h.01M221.1 396.4h.01M221.7 397.4h.01M220.7 392h.01" stroke="#0c0c0c" stroke-width="1.25" stroke-linecap="square" fill="none"/>
<path d="M62.2 484.2h.01" stroke="#111" stroke-width="1.3" stroke-linecap="square" fill="none"/>
<line x1="289.50" y1="15.20" x2="289.50" y2="170.40" stroke="#222" stroke-width="1.0" />
<line x1="287.50" y1="168.20" x2="503.80" y2="168.20" stroke="#222" stroke-width="1.0" />
<line x1="287.30" y1="168.20" x2="289.50" y2="168.20" stroke="#222" stroke-width="0.9" />
<line x1="287.30" y1="137.68" x2="289.50" y2="137.68" stroke="#222" stroke-width="0.9" />
<line x1="287.30" y1="107.16" x2="289.50" y2="107.16" stroke="#222" stroke-width="0.9" />
<line x1="287.30" y1="76.64" x2="289.50" y2="76.64" stroke="#222" stroke-width="0.9" />
<line x1="287.30" y1="46.12" x2="289.50" y2="46.12" stroke="#222" stroke-width="0.9" />
<line x1="287.30" y1="15.60" x2="289.50" y2="15.60" stroke="#222" stroke-width="0.9" />
<line x1="289.50" y1="168.20" x2="289.50" y2="170.40" stroke="#222" stroke-width="0.9" />
<line x1="325.13" y1="168.20" x2="325.13" y2="170.40" stroke="#222" stroke-width="0.9" />
<line x1="360.77" y1="168.20" x2="360.77" y2="170.40" stroke="#222" stroke-width="0.9" />
<line x1="396.40" y1="168.20" x2="396.40" y2="170.40" stroke="#222" stroke-width="0.9" />
<line x1="432.03" y1="168.20" x2="432.03" y2="170.40" stroke="#222" stroke-width="0.9" />
<line x1="467.67" y1="168.20" x2="467.67" y2="170.40" stroke="#222" stroke-width="0.9" />
<line x1="503.30" y1="168.20" x2="503.30" y2="170.40" stroke="#222" stroke-width="0.9" />
<path d="M298.1 104.1h.01M298.5 99.8h.01M299.5 90.1h.01M300.1 70.5h.01M300.4 68.7h.01M301.3 60.8h.01M301.6 56.5h.01" stroke="#e8161c" stroke-width="2.16" stroke-linecap="round" fill="none"/>
<path d="M359.8 118.5h.01M362.6 129.1h.01M361 104.2h.01M361 127.8h.01M355.5 102.1h.01M361.6 131.7h.01M360.2 130.6h.01M368 118.5h.01M361.3 125.4h.01M361.8 127.6h.01M360.8 110h.01M368.3 102.5h.01M368.3 92.8h.01M362.4 101.7h.01M368.6 130h.01M361.4 132.7h.01M362.4 130.5h.01M358.7 97h.01M360.8 107.7h.01M360.2 91.7h.01M359.9 87.4h.01M367.7 89.1h.01M358.4 127.2h.01M362.5 106.6h.01M358.5 102.3h.01M358.4 105h.01M363.7 107.8h.01M363.5 113.2h.01M355.2 92.4h.01M363.7 101.3h.01M360.6 114h.01M355.6 123.8h.01M360.5 139.6h.01M358.9 92.6h.01M368.2 91.5h.01M360.3 137.2h.01M367.4 127.2h.01M363.5 101.1h.01M358.5 126.2h.01M362 94.3h.01M360.6 138.6h.01M359.2 86.8h.01M367.6 118h.01M367.6 129.1h.01" stroke="#e8161c" stroke-width="2.16" stroke-linecap="round" fill="none"/>
<path d="M372.4 107.4h.01M381.3 106.1h.01M385.3 96.3h.01M373.7 123.3h.01M377.1 113.9h.01M379.1 95.9h.01M377 131.7h.01M375 111.8h.01M382.3 124h.01M381.2 98.3h.01M381.3 127.6h.01M377.2 120.8h.01M376 94.1h.01M381.6 103.6h.01M374 134.1h.01M376.9 104h.01M375.2 135.7h.01M382.6 113.6h.01M376.2 139h.01M377.7 120.1h.01M383.4 106.2h.01M375.1 94.2h.01M373.1 127.9h.01M382.9 125.7h.01M384.3 135.3h.01M379.7 126.2h.01M373.1 134.7h.01M379.3 104h.01M372.4 123.4h.01M377 99.3h.01M373.8 117h.01M379 116.8h.01M375.5 132.7h.01M380.1 115.9h.01M378 101.4h.01M382.8 119.9h.01M375.3 114.4h.01M374.8 121.5h.01M378.8 110.2h.01M377.2 102h.01M373.5 137.4h.01M377.3 132.6h.01" stroke="#e8161c" stroke-width="2.16" stroke-linecap="round" fill="none"/>
<path d="M439 123.7h.01M411.4 120.3h.01M410.1 122.1h.01M425.2 108.8h.01M433.5 132.5h.01M414.3 119.1h.01M413.7 121.8h.01M430.7 118.5h.01M427.3 128.5h.01M430.7 115.9h.01M430.8 135.8h.01M410.6 122.4h.01M431.2 129.6h.01M438.6 111.6h.01M405.3 139.9h.01M425.7 108.3h.01M404.5 136.7h.01M418.1 131.4h.01M411.4 130.9h.01M416.9 108.7h.01M431.7 107.7h.01M410.2 116.2h.01M418.7 113.3h.01M435.4 106h.01M405 144.3h.01M414.3 128.9h.01M424.7 123.7h.01M404.6 126.8h.01M431.6 123.1h.01M439.6 114.1h.01M431.2 116.6h.01M418.8 133.8h.01M437 121h.01M430.6 101.5h.01M414.1 112.6h.01M403.1 133.3h.01M424.9 135.8h.01M403.1 130.9h.01M413.9 134.3h.01M413.7 122.8h.01M435.1 134.4h.01M404.7 132.8h.01M439.2 135h.01M431.7 113.1h.01M431.7 127h.01M416.6 112.5h.01M411.9 126.5h.01M418.1 108.5h.01M404.3 128.3h.01M418.3 126.8h.01M415.7 120.8h.01M420.6 125h.01M407.1 137.8h.01M430.8 110.6h.01M428.7 120.6h.01M420.3 126.3h.01M411.8 114h.01M403.5 143h.01M437.4 104.9h.01M434.9 117.7h.01M438.5 118.4h.01M425.5 124.4h.01M424.1 124.5h.01M439.1 124.9h.01M416.3 111.3h.01M425.5 130h.01M415.7 110.3h.01M419.4 101.8h.01M430.9 123.9h.01M429.9 122.1h.01M420.6 111.2h.01M425.7 114.4h.01M405.4 127.2h.01M424 123.8h.01M411.3 129.7h.01M434.9 128.7h.01M405.3 128.2h.01M424 113.3h.01M431.8 127.3h.01M403.5 130h.01M410.2 119h.01M424.2 124.7h.01M414.4 112.9h.01M409.6 137.8h.01M439.5 127.4h.01M403.9 135h.01M426.9 130.5h.01M406.4 121.4h.01M440.1 137.3h.01M404 139.8h.01M425.2 102h.01M405 140.2h.01M431.7 108.4h.01M416 132.1h.01M437.3 133.8h.01M420.4 123.2h.01M403.5 140.6h.01M419.4 109.1h.01M417.1 122.4h.01M405.6 126.4h.01M405.5 141.1h.01M402.5 133.1h.01M424 128.3h.01M419.6 99.1h.01M433.1 103.8h.01M419 132.8h.01M402.9 135.7h.01M403.1 128.6h.01M411.6 134.5h.01M405.2 130.2h.01M431.1 122h.01M409.8 124.7h.01M413.7 125.8h.01M431.2 107.3h.01M411.3 120.7h.01M417.8 121.5h.01M438.8 129h.01M409.5 134h.01M428.5 124h.01M421 107.6h.01M404.5 128.6h.01M410.7 135h.01M409.3 130h.01M418.1 107.2h.01M415.8 107.6h.01M415.8 133.1h.01M440.1 133.5h.01M417.1 107.2h.01M424.1 119.3h.01M414.6 113.9h.01M419.2 120.1h.01M416 111.8h.01M404.7 132.5h.01M411.5 119.1h.01M414.3 128.4h.01M418.8 125.6h.01M438.8 117.4h.01M402.5 138.3h.01M403.1 129.5h.01M402.9 134.6h.01M418.9 115.7h.01M421.8 111.4h.01M418.3 117.5h.01M437 116.1h.01M410.3 125.9h.01M405 141.7h.01M438.4 108.4h.01M404.8 129.2h.01M430.9 113h.01M410.9 120.5h.01M403.6 139.7h.01M426.8 109.5h.01M434.7 131.5h.01M411.6 130.2h.01M437.3 113.6h.01M410.9 123h.01M420.1 114.8h.01M411.1 126.2h.01M424.7 126.6h.01M412 132.5h.01M418.8 101.6h.01M403.2 135.9h.01M419.5 120.5h.01M434.7 131.5h.01M404.8 126h.01M439.3 124.3h.01M410.5 136.8h.01M414.3 132h.01M405.6 128.2h.01M428 103.7h.01M403.9 136.4h.01M403.7 135.4h.01M419.1 125.1h.01M417.2 128.8h.01M418.1 120.8h.01M405 132.9h.01M434.3 128.9h.01M428.3 109.4h.01M424.3 121.4h.01M435.2 118.6h.01M409.4 116.8h.01M424.5 116.3h.01M411 116.3h.01M403.8 137h.01M426.2 106.4h.01M425.8 129.9h.01M409.9 122.3h.01M410.9 139.4h.01M418.9 114.1h.01M439.8 129.8h.01M437.3 132h.01M416.6 119.7h.01M431.9 124.7h.01M435.1 129.6h.01M431.5 103.7h.01M420.5 115.9h.01M413.5 127.6h.01M419 100.3h.01M404.9 134.5h.01M434.3 133.6h.01" stroke="#e8161c" stroke-width="2.16" stroke-linecap="round" fill="none"/>
<path d="M451.8 112.1h.01M448.1 115.4h.01M463.6 100.1h.01M449.2 127.7h.01M464.2 116.5h.01M456.5 120.3h.01M445.4 118.8h.01M442.3 110.2h.01M457.6 117.7h.01M445.6 122.9h.01M461.1 119.4h.01M455.5 118.7h.01M462.5 118.3h.01M450.3 115.5h.01M453.9 98.7h.01M455.7 122h.01M459.8 127.3h.01M452 123.1h.01M464.3 126.8h.01M464 103.5h.01M456 126.4h.01M452.6 118.6h.01M444.9 126.2h.01M445.5 119.3h.01M448.1 126.5h.01M457.9 130.8h.01M462.3 90.7h.01M446 113.6h.01M459.8 126.4h.01M446.8 107.9h.01M446.1 116.6h.01M454.5 97.1h.01M461.2 92.3h.01M460.4 128.6h.01M451.8 131.1h.01M441.4 126.3h.01M448.2 115.5h.01M449.9 119.3h.01M464.2 115.7h.01M442.1 127h.01M456.3 126h.01M448.3 128.7h.01M447.2 129.8h.01M452 121.3h.01M449.9 133.3h.01M464.2 112.7h.01M453.5 105.4h.01M442.5 127.9h.01M452.6 123.9h.01M465 97.5h.01M449.3 107.8h.01M444.7 108.4h.01M441.5 140.2h.01M444 100.8h.01M445.9 109.7h.01M453.2 106h.01M463.6 103.9h.01M465 108.2h.01M458.4 129.1h.01M441.8 120.6h.01M454.9 122.1h.01M455.9 112.7h.01M447.4 97.8h.01M446.6 115.6h.01M459.2 126.1h.01M458.1 130.7h.01M452.6 126.9h.01M450.6 130.4h.01M447.3 118.1h.01M463.7 119.1h.01M449.3 109.6h.01M445.6 126.9h.01M464.7 111.8h.01M442.2 112.4h.01M451.6 104h.01" stroke="#e8161c" stroke-width="2.16" stroke-linecap="round" fill="none"/>
<path d="M472.9 106.8h.01M475.5 94.6h.01M479.4 114.4h.01M478.9 90.9h.01M476.8 124h.01M477.4 116.8h.01M478.8 95.7h.01M478.6 106.3h.01M469.1 122.5h.01M476.1 93.4h.01M469.4 89.3h.01M478.1 131.4h.01M478.7 109.3h.01M469.6 114.3h.01M472.6 86.2h.01M472.5 111.3h.01M478.8 121.3h.01M473.4 109.6h.01M477.6 118.8h.01M469 101.8h.01M475.2 115.3h.01M476.2 108.4h.01M470.8 92.8h.01M473.6 115.1h.01M478.9 97.5h.01M477.2 116.8h.01M472.7 106.8h.01M477.2 106.9h.01M475.2 100.1h.01M469.3 117.5h.01M472.4 95.2h.01M479.7 101.6h.01M474.1 102h.01M472.7 94.2h.01M472.8 105.2h.01M478.6 92.6h.01M479.1 96.5h.01M472.7 109.1h.01M476.9 118.3h.01M473.3 117.9h.01M478.6 105.1h.01M470.4 112.1h.01M478 91.3h.01M472.9 105.7h.01M472.9 99.8h.01M479.2 121.8h.01M477.6 121.1h.01M472.3 99.1h.01M478 102.3h.01M475.5 96.6h.01M468.8 117.7h.01M477.4 124.4h.01M469.6 111h.01M475.5 108.3h.01M477.6 101.1h.01M478.1 118.1h.01M479.8 124.5h.01M469.7 118.8h.01M479.7 96.4h.01M477.8 121.9h.01M469 97.4h.01M475 122.4h.01" stroke="#e8161c" stroke-width="2.16" stroke-linecap="round" fill="none"/>
<path d="M295.4 114.5h.01M295.7 114.3h.01M296 118.6h.01M296.3 117h.01M296.6 119.5h.01M296.9 118.8h.01M297.1 121.6h.01M297.4 123.6h.01M297.7 123.1h.01M298 119.4h.01M298.3 118.6h.01M298.6 114.5h.01M298.9 115.9h.01M299.1 113.8h.01M299.4 114.7h.01M299.7 105.3h.01M300 98.8h.01M300.3 99h.01M300.6 86.7h.01M300.9 88.4h.01M301.1 87.1h.01M301.4 84.8h.01M301.7 83.8h.01M302 86.6h.01M302.3 90.9h.01M302.6 91.3h.01M302.9 92.3h.01M303.1 90.4h.01M303.4 93.4h.01M303.7 91.9h.01M304 93.6h.01M304.3 93.6h.01M304.6 94.2h.01M304.8 95.5h.01M305.1 94.9h.01M305.4 95.5h.01M305.7 96.3h.01M306 96.1h.01M306.3 96.7h.01M306.6 96.9h.01M306.8 98h.01M307.1 98.5h.01M307.4 97.9h.01M307.7 97.4h.01M308 97.5h.01M308.3 96.7h.01M308.6 96.7h.01M308.8 97.2h.01M309.1 97.1h.01M309.4 96.8h.01M309.7 96.9h.01M310 96.5h.01M310.3 98h.01M310.5 98h.01M310.8 96.3h.01M311.1 99.2h.01M311.4 100.3h.01M311.7 100.5h.01M312 100.3h.01M312.3 99.6h.01M312.5 100.8h.01M312.8 98h.01M313.1 99h.01M313.4 96.7h.01M313.7 97.6h.01M314 96.6h.01M314.3 95.2h.01M314.5 94.9h.01M314.8 103h.01M315.1 105.3h.01M315.4 102.4h.01M315.7 106.7h.01M316 108.3h.01M316.2 112.8h.01M316.5 110.9h.01M316.8 113.9h.01M317.1 113.3h.01M317.4 113.9h.01M317.7 113.6h.01M318 117.8h.01M318.2 120.2h.01M318.5 120h.01M318.8 121.9h.01M319.1 122.8h.01M319.4 124.7h.01M319.7 123.4h.01M320 122.9h.01M320.2 125.8h.01M320.5 125h.01M320.8 125.8h.01M321.1 124.1h.01M321.4 126.8h.01M321.7 127.8h.01M322 127.4h.01M322.2 126.5h.01M322.5 127.2h.01M322.8 127.7h.01M323.1 127.4h.01M323.4 127.7h.01M323.7 128.6h.01M323.9 128.5h.01M324.2 128.4h.01M324.5 129.3h.01M324.8 128.8h.01M325.1 129.2h.01M325.4 129.4h.01M325.7 127.9h.01M325.9 128.6h.01M326.2 126.8h.01M326.5 124.9h.01M326.8 127.8h.01M327.1 125.9h.01M327.4 121.4h.01M327.7 125.7h.01M327.9 118.2h.01M328.2 124.5h.01M328.5 120.4h.01M328.8 117.4h.01M329.1 110.2h.01M329.4 106.7h.01M329.6 112.1h.01M329.9 110.5h.01M330.2 111.6h.01M330.5 112h.01M330.8 110.6h.01M331.1 111.9h.01M331.4 111.6h.01M331.6 113.1h.01M331.9 113.5h.01M332.2 115.1h.01M332.5 115.4h.01M332.8 116h.01M333.1 119.7h.01M333.4 118.8h.01M333.6 119.1h.01M333.9 121.1h.01M334.2 121.4h.01M334.5 121.5h.01M334.8 122.8h.01M335.1 121.9h.01M335.3 123.6h.01M335.6 123.8h.01M335.9 123.5h.01M336.2 118.3h.01M336.5 123.9h.01M336.8 120.1h.01M337.1 116.9h.01M337.3 113h.01M337.6 114.7h.01M337.9 110h.01M338.2 109.3h.01M338.5 110.9h.01M338.8 110h.01M339.1 109.9h.01M339.3 112.1h.01M339.6 110.9h.01M339.9 111.3h.01M340.2 113.4h.01M340.5 112.7h.01M340.8 113.3h.01M341 114.2h.01M341.3 115.9h.01M341.6 113.6h.01M341.9 121.7h.01M342.2 121.4h.01M342.5 123.2h.01M342.8 123.1h.01M343 124.5h.01M343.3 128.4h.01M343.6 129.7h.01M343.9 128.2h.01M344.2 132.6h.01M344.5 131.1h.01M344.8 132.2h.01M345 136.1h.01M345.3 136.2h.01M345.6 136.3h.01M345.9 136.1h.01M346.2 135.5h.01M346.5 132.9h.01M346.8 131.7h.01M347 131.4h.01M347.3 131.1h.01M347.6 130.5h.01M347.9 130.6h.01M348.2 127.8h.01M348.5 125.1h.01M348.7 125.7h.01M349 126h.01M349.3 123.9h.01M349.6 122.8h.01M349.9 123.9h.01M350.2 126.4h.01M350.5 125.7h.01M350.7 129.8h.01M351 127h.01M351.3 129.3h.01M351.6 131.5h.01M351.9 132h.01M352.2 132.4h.01M352.5 133.7h.01M352.7 133.5h.01M353 133h.01M353.3 133.9h.01M353.6 134.1h.01M353.9 133.8h.01M354.2 132.4h.01M354.4 130.7h.01M354.7 130.1h.01M355 130.7h.01M355.3 130h.01M355.6 129.4h.01M355.9 129h.01M356.2 128.9h.01M356.4 129.2h.01M356.7 129.1h.01M357 131.7h.01M357.3 132.5h.01M357.6 130.2h.01M357.9 133.4h.01M358.2 133.4h.01M358.4 135.6h.01M358.7 134.7h.01M359 135.8h.01M359.3 137.3h.01M359.6 136.3h.01M359.9 137.9h.01M360.1 136h.01M360.4 137.6h.01M360.7 137.6h.01M361 138.1h.01M361.3 138.6h.01M361.6 138h.01M361.9 139h.01M362.1 138.7h.01M362.4 139.4h.01M362.7 139.4h.01M363 139.2h.01M363.3 139.5h.01M363.6 137.4h.01M363.9 137.9h.01M364.1 136.7h.01M364.4 132.4h.01M364.7 134.5h.01M365 130.4h.01M365.3 130.6h.01M365.6 129.9h.01M365.9 130.4h.01M366.1 130.5h.01M366.4 130.7h.01M366.7 130.2h.01M367 130.6h.01M367.3 131.4h.01M367.6 132.1h.01M367.8 130.9h.01M368.1 131h.01M368.4 130.9h.01M368.7 131.3h.01M369 130.9h.01M369.3 132.8h.01M369.6 132.9h.01M369.8 134h.01M370.1 136.6h.01M370.4 135.3h.01M370.7 136.2h.01M371 135.3h.01M371.3 138.5h.01M371.6 137.3h.01M371.8 137.5h.01M372.1 139h.01M372.4 141.8h.01M372.7 140.1h.01M373 140.9h.01M373.3 140.3h.01M373.5 140.8h.01M373.8 141.6h.01M374.1 140.7h.01M374.4 141.8h.01M374.7 140.6h.01M375 138.5h.01M375.3 138.8h.01M375.5 139.6h.01M375.8 138.5h.01M376.1 137.8h.01M376.4 137.5h.01M376.7 137.1h.01M377 137.2h.01M377.3 135.7h.01M377.5 135.3h.01M377.8 135.1h.01M378.1 135.7h.01M378.4 135.3h.01M378.7 135.3h.01M379 134.7h.01M379.2 135.6h.01M379.5 135.5h.01M379.8 136.2h.01M380.1 136.5h.01M380.4 136.9h.01M380.7 138.8h.01M381 138.4h.01M381.2 140.2h.01M381.5 140.5h.01M381.8 140.4h.01M382.1 141.6h.01M382.4 140.9h.01M382.7 141.1h.01M383 140.9h.01M383.2 140.6h.01M383.5 134.5h.01M383.8 140.3h.01M384.1 138.2h.01M384.4 134.7h.01M384.7 132.7h.01M384.9 132.6h.01M385.2 133h.01M385.5 134.6h.01M385.8 132.5h.01M386.1 133.5h.01M386.4 132.7h.01M386.7 134.7h.01M386.9 134.5h.01M387.2 134.8h.01M387.5 134.8h.01M387.8 135.5h.01M388.1 135.8h.01M388.4 137.2h.01M388.7 135.6h.01M388.9 136.6h.01M389.2 136.1h.01M389.5 137.2h.01M389.8 136.5h.01M390.1 137.5h.01M390.4 136.4h.01M390.7 138.2h.01M390.9 138.4h.01M391.2 138.2h.01M391.5 138.4h.01M391.8 137.9h.01M392.1 138.8h.01M392.4 139.5h.01M392.6 139.6h.01M392.9 139.7h.01M393.2 141h.01M393.5 139.9h.01M393.8 141h.01M394.1 140.5h.01M394.4 141.1h.01M394.6 141.2h.01M394.9 140.7h.01M395.2 142h.01M395.5 142.1h.01M395.8 141.7h.01M396.1 141.3h.01M396.4 141.6h.01M396.6 142.7h.01M396.9 142.3h.01M397.2 142.5h.01M397.5 143h.01M397.8 143.6h.01M398.1 143.9h.01M398.3 144.4h.01M398.6 145.1h.01M398.9 144.8h.01M399.2 143.5h.01M399.5 144.8h.01M399.8 145.1h.01M400.1 144.9h.01M400.3 145.2h.01M400.6 145h.01M400.9 145.4h.01M401.2 144.6h.01M401.5 145.1h.01M401.8 145.1h.01M402.1 145h.01M402.3 145.8h.01M402.6 144.3h.01M402.9 144.1h.01M403.2 145.3h.01M403.5 143.7h.01M403.8 144.9h.01M404 145.2h.01M404.3 144.8h.01M404.6 144.8h.01M404.9 145.1h.01M405.2 144.5h.01M405.5 144.9h.01M405.8 144.2h.01M406 144.4h.01M406.3 144.8h.01M406.6 143.6h.01M406.9 143.9h.01M407.2 143.4h.01M407.5 142.3h.01M407.8 143.5h.01M408 142.8h.01M408.3 143.3h.01M408.6 142.9h.01M408.9 142.9h.01M409.2 141.8h.01M409.5 141.9h.01M409.8 141.1h.01M410 139.9h.01M410.3 141.3h.01M410.6 141h.01M410.9 141h.01M411.2 141.8h.01M411.5 141.1h.01M411.7 139.5h.01M412 139.9h.01M412.3 139.3h.01M412.6 139.6h.01M412.9 139.2h.01M413.2 139.2h.01M413.5 139.6h.01M413.7 138.4h.01M414 138.4h.01M414.3 138.9h.01M414.6 138.2h.01M414.9 139.4h.01M415.2 137.8h.01M415.5 138.9h.01M415.7 138.1h.01M416 138.3h.01M416.3 138.1h.01M416.6 137.4h.01M416.9 137.6h.01M417.2 135.8h.01M417.4 135.9h.01M417.7 136h.01M418 136.7h.01M418.3 136.9h.01M418.6 137.5h.01M418.9 134.5h.01M419.2 134.4h.01M419.4 135.5h.01M419.7 134.7h.01M420 135h.01M420.3 134.6h.01M420.6 133.4h.01M420.9 134.1h.01M421.2 135.2h.01M421.4 134.8h.01M421.7 135.7h.01M422 137h.01M422.3 137.1h.01M422.6 136.5h.01M422.9 137.1h.01M423.1 136.1h.01M423.4 138h.01M423.7 137.3h.01M424 136.2h.01M424.3 136.7h.01M424.6 137.9h.01M424.9 138.5h.01M425.1 140h.01M425.4 139.1h.01M425.7 139h.01M426 139h.01M426.3 138.6h.01M426.6 138.9h.01M426.9 139.1h.01M427.1 139.5h.01M427.4 138.3h.01M427.7 138.5h.01M428 137.4h.01M428.3 137.3h.01M428.6 137h.01M428.9 136.6h.01M429.1 137.4h.01M429.4 136.6h.01M429.7 137.3h.01M430 137.3h.01M430.3 137.3h.01M430.6 136.4h.01M430.8 136.8h.01M431.1 137.6h.01M431.4 137.5h.01M431.7 137.2h.01M432 137.5h.01M432.3 137.7h.01M432.6 137.7h.01M432.8 137.1h.01M433.1 137.8h.01M433.4 137h.01M433.7 138.5h.01M434 139.7h.01M434.3 139.8h.01M434.6 138.8h.01M434.8 139h.01M435.1 139.8h.01M435.4 139.1h.01M435.7 139.3h.01M436 141h.01M436.3 140.5h.01M436.5 140.5h.01M436.8 141h.01M437.1 140.4h.01M437.4 140.8h.01M437.7 143h.01M438 141.6h.01M438.3 142h.01M438.5 142.9h.01M438.8 142.9h.01M439.1 143.2h.01M439.4 143.3h.01M439.7 142.7h.01M440 143.1h.01M440.3 144.2h.01M440.5 145.1h.01M440.8 143.9h.01M441.1 143h.01M441.4 139.9h.01M441.7 142.3h.01M442 131.5h.01M442.2 141.6h.01M442.5 136.6h.01M442.8 130h.01M443.1 130.7h.01M443.4 129.3h.01M443.7 130.1h.01M444 128.5h.01M444.2 128.1h.01M444.5 128.7h.01M444.8 128.1h.01M445.1 128.8h.01M445.4 127.7h.01M445.7 127.9h.01M446 128.1h.01M446.2 128.6h.01M446.5 128.7h.01M446.8 130.2h.01M447.1 130.4h.01M447.4 130.1h.01M447.7 131.9h.01M447.9 133.7h.01M448.2 134h.01M448.5 132.8h.01M448.8 134.5h.01M449.1 135.3h.01M449.4 135.7h.01M449.7 136.1h.01M449.9 136.8h.01M450.2 138.3h.01M450.5 136.7h.01M450.8 135.9h.01M451.1 136.6h.01M451.4 136.2h.01M451.7 135.6h.01M451.9 134.1h.01M452.2 134.3h.01M452.5 133.8h.01M452.8 134.4h.01M453.1 132.7h.01M453.4 131.8h.01M453.7 132.6h.01M453.9 132.2h.01M454.2 130.8h.01M454.5 131.8h.01M454.8 131.2h.01M455.1 131.9h.01M455.4 132.9h.01M455.6 134.1h.01M455.9 131.7h.01M456.2 134.5h.01M456.5 133.8h.01M456.8 136.3h.01M457.1 136.1h.01M457.4 136.3h.01M457.6 135.8h.01M457.9 135.2h.01M458.2 135.2h.01M458.5 135h.01M458.8 134.2h.01M459.1 132h.01M459.4 133.9h.01M459.6 135h.01M459.9 131.5h.01M460.2 132h.01M460.5 133.4h.01M460.8 130.5h.01M461.1 128.5h.01M461.3 127.4h.01M461.6 126.5h.01M461.9 127h.01M462.2 126.6h.01M462.5 125.9h.01M462.8 128.6h.01M463.1 129.4h.01M463.3 128.1h.01M463.6 129.2h.01M463.9 130.4h.01M464.2 131.4h.01M464.5 131.1h.01M464.8 130.6h.01M465.1 130.7h.01M465.3 130.5h.01M465.6 131.6h.01M465.9 132.4h.01M466.2 131.7h.01M466.5 131.7h.01M466.8 131.7h.01M467 128.5h.01M467.3 127h.01M467.6 127.5h.01M467.9 126.7h.01M468.2 124.8h.01M468.5 124.8h.01M468.8 121.7h.01M469 123.3h.01M469.3 123h.01M469.6 117.6h.01M469.9 118.7h.01M470.2 117.7h.01M470.5 117.2h.01M470.8 116.9h.01M471 115.7h.01M471.3 114.7h.01M471.6 114.9h.01M471.9 114.8h.01M472.2 115.8h.01M472.5 115.5h.01M472.8 115.4h.01M473 115.7h.01M473.3 116.5h.01M473.6 116.7h.01M473.9 116.3h.01M474.2 117.1h.01M474.5 116.9h.01M474.7 120.9h.01M475 124.8h.01M475.3 125.8h.01M475.6 131.1h.01M475.9 131h.01M476.2 130.6h.01M476.5 130.5h.01M476.7 130.7h.01M477 131.1h.01M477.3 131h.01M477.6 131h.01M477.9 132h.01M478.2 131.4h.01M478.5 131.4h.01M478.7 131h.01M479 131.1h.01M479.3 128.5h.01M479.6 127.8h.01M479.9 128.3h.01M480.2 128.4h.01M480.4 127.9h.01M480.7 124.9h.01M481 125.3h.01M481.3 124.6h.01M481.6 124.7h.01M481.9 124.5h.01M482.2 123.3h.01M482.4 123.4h.01M482.7 123.9h.01M483 123.8h.01M483.3 123.6h.01M483.6 125.3h.01M483.9 124.7h.01M484.2 128h.01M484.4 126.9h.01M484.7 130.8h.01M485 127.1h.01M485.3 128.7h.01M485.6 128.3h.01" stroke="#0a0a0a" stroke-width="2.16" stroke-linecap="round" fill="none"/>
<path d="M366.6 127.9h.01M397.6 144.3h.01M339.7 112.7h.01M360.5 134.5h.01M478.9 133.3h.01M339.3 113.6h.01M395.3 145.3h.01M428.2 140h.01M324.6 126.1h.01M359.3 132.2h.01M367.9 132.5h.01M380.9 143.4h.01M372.4 141.3h.01M392.8 139.2h.01M303.6 88.4h.01M469 122.7h.01M335.6 121.2h.01M334.1 118.6h.01M467.2 132.8h.01M416.5 134.6h.01M307.5 94.3h.01M344.9 133h.01M481.7 124.8h.01M391 134.8h.01M411.3 139h.01M337.4 113.8h.01M433.9 137.1h.01M454.2 127.1h.01M459.5 136.3h.01M375 140.1h.01M396.5 144h.01M415.7 137.4h.01M450 137h.01M361.3 139.2h.01M482.4 123.1h.01M474.5 122.2h.01M356.7 126.4h.01M315.8 104.8h.01M297 120.6h.01M351.5 130.6h.01M456.1 135.1h.01M346.4 135.9h.01M315.3 103.1h.01M296 114.2h.01M367.7 136.3h.01M357.1 133.8h.01M316.2 106.8h.01M418.7 131.7h.01M376.2 140.2h.01M402.5 148.1h.01M482.7 127.4h.01M440.3 140.9h.01M360.6 137.1h.01M411.1 141h.01M331.3 114.4h.01M449.3 134h.01M300.3 94.3h.01M303.2 88.2h.01M333 118.6h.01M471.3 112.3h.01" stroke="#0a0a0a" stroke-width="2.04" stroke-linecap="round" fill="none"/>
<path d="M373 25.3h.01" stroke="#e8161c" stroke-width="2.20" stroke-linecap="round" fill="none"/>
<path d="M373 32.7h.01" stroke="#0a0a0a" stroke-width="2.20" stroke-linecap="round" fill="none"/>
<line x1="288.90" y1="198.20" x2="288.90" y2="342.80" stroke="#222" stroke-width="1.0" />
<line x1="286.90" y1="340.60" x2="503.80" y2="340.60" stroke="#222" stroke-width="1.0" />
<line x1="286.70" y1="340.60" x2="288.90" y2="340.60" stroke="#222" stroke-width="0.9" />
<line x1="286.70" y1="316.93" x2="288.90" y2="316.93" stroke="#222" stroke-width="0.9" />
<line x1="286.70" y1="293.27" x2="288.90" y2="293.27" stroke="#222" stroke-width="0.9" />
<line x1="286.70" y1="269.60" x2="288.90" y2="269.60" stroke="#222" stroke-width="0.9" />
<line x1="286.70" y1="245.93" x2="288.90" y2="245.93" stroke="#222" stroke-width="0.9" />
<line x1="286.70" y1="222.27" x2="288.90" y2="222.27" stroke="#222" stroke-width="0.9" />
<line x1="286.70" y1="198.60" x2="288.90" y2="198.60" stroke="#222" stroke-width="0.9" />
<line x1="288.90" y1="340.60" x2="288.90" y2="342.80" stroke="#222" stroke-width="0.9" />
<line x1="324.63" y1="340.60" x2="324.63" y2="342.80" stroke="#222" stroke-width="0.9" />
<line x1="360.37" y1="340.60" x2="360.37" y2="342.80" stroke="#222" stroke-width="0.9" />
<line x1="396.10" y1="340.60" x2="396.10" y2="342.80" stroke="#222" stroke-width="0.9" />
<line x1="431.83" y1="340.60" x2="431.83" y2="342.80" stroke="#222" stroke-width="0.9" />
<line x1="467.57" y1="340.60" x2="467.57" y2="342.80" stroke="#222" stroke-width="0.9" />
<line x1="503.30" y1="340.60" x2="503.30" y2="342.80" stroke="#222" stroke-width="0.9" />
<path d="M297.6 326.4h.01M298.2 322.9h.01M299 316.9h.01M299.6 299.2h.01M300.1 293.3h.01M300.8 283.8h.01M301.5 290.9h.01" stroke="#27aee6" stroke-width="2.16" stroke-linecap="round" fill="none"/>
<path d="M354 335.4h.01M360.9 337.4h.01M354 322.6h.01M359 336.9h.01M362.8 323.3h.01M357.9 332.2h.01M364.5 319.8h.01M357.5 332.4h.01M354 332.3h.01M358 331.4h.01M357.6 338.6h.01M365.3 327.4h.01M360.6 335.5h.01M358.6 339.2h.01M354.1 329.8h.01M368.2 332h.01M354.1 334.1h.01M362.7 330.2h.01M360.8 339.3h.01M357.1 336h.01M360.8 321h.01M356.1 324.6h.01M361.7 332.1h.01M353.7 323.4h.01M358.1 334.1h.01M354.7 328.5h.01M357.4 333.4h.01M353.6 337.4h.01M364.1 329h.01M358.5 334.7h.01M364.8 320.6h.01M353 338.1h.01M357.7 337.9h.01M354.6 332.3h.01M358.5 337.3h.01M358 328.9h.01M362.5 327.3h.01M358.4 337.6h.01M358.2 339.7h.01M353.9 326.1h.01M362.5 332.3h.01M354 322.3h.01" stroke="#27aee6" stroke-width="2.16" stroke-linecap="round" fill="none"/>
<path d="M379.6 326.4h.01M383.5 332.9h.01M384.6 329.7h.01M374.7 332.9h.01M384.6 337.3h.01M374.7 332.8h.01M380.7 331.5h.01M375.2 335.4h.01M385.2 333.8h.01M380.5 328.4h.01M385.2 326.1h.01M374.7 330.6h.01M379 328.6h.01M383.2 326.6h.01M384.9 323.3h.01M375 331.6h.01M385.3 331.8h.01M374 332.3h.01M383.4 330.7h.01M372.3 325.6h.01M379.2 320.1h.01M385.1 324.8h.01M376.8 337.8h.01M375 327h.01M381.1 334.3h.01M379.5 331.1h.01M374.2 336h.01M372.9 329.3h.01M375.8 334.5h.01M374.8 328.4h.01M375.4 337.3h.01M376.2 321.4h.01M371.6 324h.01M376.4 329h.01M371.2 327.6h.01M379.8 323.4h.01M383.3 334.2h.01M385 328.3h.01M374.7 336.9h.01M374.8 337.6h.01M379.8 327.6h.01M376.4 333.8h.01" stroke="#27aee6" stroke-width="2.16" stroke-linecap="round" fill="none"/>
<path d="M409.4 330.5h.01M417 329.7h.01M408.1 333.7h.01M423.9 332.4h.01M410.9 323.3h.01M421 325.5h.01M421.3 329.8h.01M409.8 330.4h.01M414.7 328.2h.01M404.3 331h.01M414.6 323.7h.01M409.4 331.1h.01M422 332.6h.01M410.8 326.2h.01M410.3 333.4h.01M419 332.3h.01M402.9 338.2h.01M427.2 323.1h.01M414.6 335.3h.01M404.2 329.3h.01M408.4 327.9h.01M411.2 324.4h.01M422.2 330h.01M419.1 329.6h.01M421.9 321.9h.01M410.2 332.1h.01M401.6 337.6h.01M421.7 324.4h.01M410.9 321.7h.01M424.1 333.7h.01M406 325.2h.01M410.8 333.9h.01M414.2 333.6h.01M408.3 322.5h.01M424 330h.01M405.4 338.1h.01M410.2 332.6h.01M404.5 334.4h.01M404.2 327.7h.01M404.3 332.1h.01M419.3 330.6h.01M423.6 330.2h.01M408.4 336h.01M427 326.4h.01M420.2 329.8h.01M406.7 334.4h.01M406.2 324.9h.01M421.2 323.5h.01M420.8 326.5h.01M424.2 330.7h.01M421.8 323.5h.01M419.9 323.7h.01M421.3 321.2h.01M424.5 332.7h.01M421.7 325.8h.01M413.5 332.4h.01M422.2 320.5h.01M411.5 330.1h.01M419.4 332.9h.01M410.2 331.5h.01M421.8 327.5h.01M426.1 332.7h.01M418.6 325.6h.01M421.7 321.8h.01M402.6 333.9h.01M410.6 323.8h.01M425.7 331.5h.01M421.8 328.2h.01M404.9 328.1h.01M407.9 326h.01M412 327.1h.01M403.7 337.9h.01M419.9 331.5h.01M419.9 329.5h.01M402 337.1h.01M414.1 324.8h.01M419.1 329.2h.01M426.6 332.9h.01M411.2 335.6h.01M409.7 325.2h.01M421.8 330h.01M412.1 328.3h.01M410.9 334.5h.01M417.7 330.1h.01M422.2 322.9h.01M414.6 330h.01M420.6 323.3h.01M419.6 332.3h.01M404.8 332.6h.01M403.8 335.4h.01M425.6 332.8h.01M420 326.1h.01M403.5 336.8h.01M410.9 329.9h.01M421.6 331h.01M417.3 331.4h.01M404.9 338.7h.01M402.3 330.1h.01M420.6 323.3h.01M414.3 327.9h.01M424.1 330.5h.01M424.3 335.1h.01M421.4 333h.01M424.3 328.3h.01M420.5 325h.01M427 333.4h.01M421.4 328h.01M405 336.1h.01M419.2 326.4h.01M412 330.8h.01M406 337.3h.01M403.6 337h.01M404.8 331.2h.01M410.3 332.5h.01M412 327.6h.01M419.4 322.9h.01M411.3 326.1h.01M413.4 324.9h.01M408.5 332h.01M404.7 337.3h.01" stroke="#27aee6" stroke-width="2.16" stroke-linecap="round" fill="none"/>
<path d="M435.5 327.2h.01M435.9 330.7h.01M434.6 334.8h.01M434.4 337.8h.01M435.5 326.4h.01M437 325.9h.01M436.9 332h.01M436.8 335h.01M431.6 329.3h.01M432.1 330h.01M433.9 326h.01M433.3 327.2h.01M433.8 336.6h.01M432.2 327h.01M433.7 329.2h.01M433 329.9h.01M433.3 326.9h.01M434.7 326.6h.01M440.3 338.3h.01M434 329h.01M432.9 329.8h.01M434.6 335.1h.01M431.8 333.8h.01M434.9 333.9h.01M434.5 331.9h.01M434 328.1h.01M437.3 335.9h.01M435.9 329.1h.01M437 336.1h.01M432.2 331.6h.01M435.7 336.5h.01M434.4 327.2h.01M435.8 332.5h.01M435.9 331.5h.01M432.3 332.4h.01M435 327.7h.01M431.1 331.4h.01M437.5 334.3h.01M437.7 333.5h.01M431.8 334.6h.01" stroke="#27aee6" stroke-width="2.16" stroke-linecap="round" fill="none"/>
<path d="M457.5 331.4h.01M458.2 311.7h.01M443.7 315.9h.01M445.5 327.5h.01M458.1 325h.01M456.1 315.6h.01M456.9 322.6h.01M443.1 316.5h.01M456.1 324.6h.01M451.5 311h.01M442.3 312.3h.01M457 314.1h.01M447.8 321.1h.01M453.9 329.5h.01M451.3 316.5h.01M455.9 329h.01M454.1 333.5h.01M458.4 308.8h.01M452.9 333.3h.01M455.8 324.2h.01M456 325.9h.01M451.7 316.7h.01M450.4 314.4h.01M442.9 317.8h.01M447.6 312.9h.01M455 331.4h.01M455.2 330h.01M455.8 324.9h.01M443.6 304.6h.01M457.2 320.4h.01M447.9 316.2h.01M445.7 315.5h.01M451 322.5h.01M447.4 315.9h.01M443.1 314.9h.01M451.2 318.7h.01M449.6 312h.01M452 317.3h.01M445.3 313.1h.01M448.9 328.9h.01M448.5 317.2h.01M446.6 329.5h.01M447.3 318.6h.01M451.5 324.1h.01M457.2 330.8h.01M457.6 328.2h.01M457 329.5h.01M456.1 333.2h.01M455.6 328.5h.01M451.8 325.1h.01M448.5 321.9h.01M453.5 321.3h.01M449 318.4h.01M457.8 316.8h.01M456.5 330.3h.01M455.3 324.1h.01M453.7 333.4h.01M450.9 320.8h.01M447.8 317h.01M441.6 323.8h.01M456.5 318.5h.01M451.9 325.2h.01M456.8 318.6h.01M443.1 303.1h.01M448.6 313.1h.01M452 323.2h.01M457.2 328.1h.01M449.6 316.4h.01M456.1 328h.01M453.2 328.2h.01M451.3 327.3h.01M450.2 318.9h.01M452.2 321.3h.01M457.1 315.4h.01M443.5 323.5h.01M453.7 320.6h.01M445.2 328.9h.01M448.9 321.4h.01M447.8 333.1h.01M444 311.5h.01M457 331h.01M452.2 332.4h.01M448.2 334.5h.01M449.3 325.9h.01M443 317.1h.01M442.9 315.5h.01M455.9 332h.01M454.4 329.7h.01M443.1 306.9h.01M441.9 317.1h.01" stroke="#27aee6" stroke-width="2.16" stroke-linecap="round" fill="none"/>
<path d="M460.2 316.3h.01M466.8 304.1h.01M468.4 294.7h.01M467.7 318.4h.01M464.3 320.1h.01M461.1 311.7h.01M461.8 315.2h.01M466.2 319.4h.01M467 317.2h.01M459.8 300.2h.01M459.2 307.2h.01M466 304.5h.01M459.8 308h.01M467.5 308.2h.01M462.8 330.9h.01M458.4 314.3h.01M468.1 310.2h.01M458.8 317.8h.01M464.3 320.2h.01M467.4 301.1h.01M461.6 325.4h.01M464 318h.01M464.7 325.7h.01M466.2 307.4h.01M460.1 297.2h.01M466.7 312.1h.01M459.8 307.6h.01M462.4 334.5h.01M466.1 300.1h.01M459.5 290.7h.01M466.3 307.8h.01M468.1 307.9h.01M463 324.2h.01M459.8 313h.01M458.3 323.2h.01M466.2 313.2h.01M467 317.2h.01M466.1 318h.01M464.8 314h.01M468.2 306.9h.01" stroke="#27aee6" stroke-width="2.16" stroke-linecap="round" fill="none"/>
<path d="M475.5 318.2h.01M471.4 281.8h.01M471.4 277.9h.01M478.2 330.1h.01M470.5 295.3h.01M479 323h.01M470.5 287h.01M470.9 293.4h.01M470.4 296.2h.01M478.6 318.4h.01M478.3 305.3h.01M476.3 336.1h.01M475.4 323.4h.01M477 315.6h.01M475.4 321.5h.01M471.5 273.1h.01M470.9 301.8h.01M470.2 302.5h.01M477.9 321h.01M470.2 297.3h.01M477.9 313.5h.01M478.5 308.2h.01M474.4 295.1h.01M471.4 267.9h.01M475 301.3h.01M478.7 320.1h.01M475.1 318.8h.01M480.4 298.8h.01M478.6 321.1h.01M475.4 317.6h.01M476.4 313.4h.01M476.7 312.4h.01M471.5 287.4h.01M471.6 284.6h.01M470.8 282h.01M470.3 295.2h.01M470.1 310.8h.01M474.1 294.8h.01M480.5 310.9h.01M470 315.6h.01M478.8 323.5h.01M475.9 330.3h.01M473.8 291.3h.01M470.2 307.3h.01M472.2 251.6h.01M475.5 327.6h.01M478.1 330.2h.01M478.7 327.4h.01M480.5 310.2h.01M470.1 303h.01M471 274.2h.01M478.4 318.1h.01M479.2 325.9h.01M470.1 294.3h.01M478.2 317.3h.01M480.5 301.2h.01M471 275.1h.01M478.1 324.5h.01M475.6 316.1h.01M479.6 305.5h.01M471.2 284h.01M475.9 326.3h.01M475.6 322.4h.01M475.2 297.3h.01M476.3 326.3h.01M477.9 328.9h.01M475.2 321.6h.01M479.4 300.7h.01M478.5 311.9h.01M474.3 282.9h.01M478.3 307.2h.01M470 300.8h.01M470.7 299.8h.01M470.5 303.8h.01M470.9 280.6h.01" stroke="#27aee6" stroke-width="2.16" stroke-linecap="round" fill="none"/>
<path d="M473.4 250.7h.01M458.8 290.9h.01" stroke="#27aee6" stroke-width="2.16" stroke-linecap="round" fill="none"/>
<path d="M294.9 328h.01M295.1 328.4h.01M295.4 326.3h.01M295.6 326.1h.01M295.9 332.5h.01M296.2 331.1h.01M296.4 331.6h.01M296.7 332.4h.01M297 333.2h.01M297.2 332.9h.01M297.5 328.8h.01M297.7 327.8h.01M298 330.3h.01M298.3 329.1h.01M298.5 327.1h.01M298.8 300.9h.01M299 297.5h.01M299.3 320.4h.01M299.6 299h.01M299.8 292.3h.01M300.1 272.6h.01M300.4 274.6h.01M300.6 271.6h.01M300.9 272.3h.01M301.1 277.5h.01M301.4 281.4h.01M301.7 283h.01M301.9 280.1h.01M302.2 287.5h.01M302.5 293.6h.01M302.7 293.9h.01M303 295.5h.01M303.2 294.8h.01M303.5 296.1h.01M303.8 298h.01M304 294.8h.01M304.3 299.8h.01M304.6 299.3h.01M304.8 299.1h.01M305.1 299.5h.01M305.3 298.4h.01M305.6 296.6h.01M305.9 297h.01M306.1 297.8h.01M306.4 297.2h.01M306.6 296.7h.01M306.9 298.3h.01M307.2 304.4h.01M307.4 303.2h.01M307.7 305.6h.01M308 307.2h.01M308.2 308.7h.01M308.5 309.7h.01M308.7 311.8h.01M309 312.5h.01M309.3 311.5h.01M309.5 316.6h.01M309.8 318.3h.01M310.1 322.4h.01M310.3 324.2h.01M310.6 326h.01M310.8 323.2h.01M311.1 325.3h.01M311.4 325.1h.01M311.6 325.6h.01M311.9 324.6h.01M312.2 324.8h.01M312.4 322.5h.01M312.7 319.5h.01M312.9 298.6h.01M313.2 307.9h.01M313.5 299.4h.01M313.7 302.2h.01M314 301.6h.01M314.2 293.3h.01M314.5 294h.01M314.8 309.3h.01M315 302.1h.01M315.3 313.3h.01M315.6 324.1h.01M315.8 314.2h.01M316.1 328.8h.01M316.3 325.8h.01M316.6 320.2h.01M316.9 331h.01M317.1 331.6h.01M317.4 330.8h.01M317.7 332.7h.01M317.9 332.2h.01M318.2 332.1h.01M318.4 333.1h.01M318.7 334.1h.01M319 333.2h.01M319.2 333.8h.01M319.5 333.3h.01M319.7 334.9h.01M320 333.4h.01M320.3 334.8h.01M320.5 334.6h.01M320.8 334.1h.01M321.1 334h.01M321.3 333.5h.01M321.6 334.1h.01M321.8 334.6h.01M322.1 333.4h.01M322.4 334.1h.01M322.6 334.6h.01M322.9 334.5h.01M323.2 334.1h.01M323.4 334.9h.01M323.7 333.9h.01M323.9 334h.01M324.2 332.9h.01M324.5 333.2h.01M324.7 333.7h.01M325 332.2h.01M325.3 332.8h.01M325.5 331.1h.01M325.8 331.4h.01M326 331.2h.01M326.3 330.8h.01M326.6 329.9h.01M326.8 328.3h.01M327.1 326.4h.01M327.3 330.2h.01M327.6 326.9h.01M327.9 325h.01M328.1 327.7h.01M328.4 323.8h.01M328.7 324.2h.01M328.9 324.7h.01M329.2 323.3h.01M329.4 325h.01M329.7 324.6h.01M330 325.8h.01M330.2 327.2h.01M330.5 327.1h.01M330.8 330.5h.01M331 329.8h.01M331.3 330.8h.01M331.5 330.6h.01M331.8 330.6h.01M332.1 330.7h.01M332.3 332.6h.01M332.6 332.2h.01M332.9 333.4h.01M333.1 333.3h.01M333.4 333.3h.01M333.6 331.6h.01M333.9 333.2h.01M334.2 333.4h.01M334.4 331.1h.01M334.7 331.3h.01M334.9 331h.01M335.2 330.1h.01M335.5 330h.01M335.7 331h.01M336 330.1h.01M336.3 328.7h.01M336.5 328.6h.01M336.8 328.7h.01M337 329.1h.01M337.3 327.6h.01M337.6 326.9h.01M337.8 328.6h.01M338.1 327h.01M338.4 327.6h.01M338.6 325.8h.01M338.9 326.8h.01M339.1 326.9h.01M339.4 327.8h.01M339.7 328.9h.01M339.9 328.7h.01M340.2 329.5h.01M340.5 329.5h.01M340.7 330.4h.01M341 330.5h.01M341.2 331.4h.01M341.5 330.9h.01M341.8 332.8h.01M342 331.7h.01M342.3 331.6h.01M342.5 333.4h.01M342.8 333.5h.01M343.1 332.8h.01M343.3 334.3h.01M343.6 334.4h.01M343.9 335.4h.01M344.1 334.1h.01M344.4 334.9h.01M344.6 335.7h.01M344.9 335.6h.01M345.2 335.4h.01M345.4 335.6h.01M345.7 335.5h.01M346 335.7h.01M346.2 334.6h.01M346.5 335.2h.01M346.7 335.7h.01M347 332.3h.01M347.3 331.5h.01M347.5 332.7h.01M347.8 330.5h.01M348.1 331.6h.01M348.3 330.3h.01M348.6 330.6h.01M348.8 330.5h.01M349.1 330.7h.01M349.4 331.5h.01M349.6 332.3h.01M349.9 332.6h.01M350.1 333.8h.01M350.4 333.2h.01M350.7 332.9h.01M350.9 334.1h.01M351.2 333.6h.01M351.5 334.9h.01M351.7 335.1h.01M352 334.3h.01M352.2 334.5h.01M352.5 335.6h.01M352.8 336.1h.01M353 336h.01M353.3 334.7h.01M353.6 336.8h.01M353.8 334h.01M354.1 333.8h.01M354.3 334.8h.01M354.6 333.9h.01M354.9 332.9h.01M355.1 332.8h.01M355.4 332.9h.01M355.6 332.5h.01M355.9 331.7h.01M356.2 333.4h.01M356.4 332.9h.01M356.7 335.6h.01M357 334.8h.01M357.2 334.1h.01M357.5 335.1h.01M357.7 335.7h.01M358 338.4h.01M358.3 338.2h.01M358.5 335.9h.01M358.8 336.6h.01M359.1 337.3h.01M359.3 336.1h.01M359.6 336.4h.01M359.8 336.5h.01M360.1 336.1h.01M360.4 335.8h.01M360.6 335.7h.01M360.9 336.2h.01M361.2 335.7h.01M361.4 335.8h.01M361.7 335.4h.01M361.9 334.4h.01M362.2 334.6h.01M362.5 333.7h.01M362.7 333.2h.01M363 334.1h.01M363.2 332.6h.01M363.5 331.7h.01M363.8 330.7h.01M364 332.4h.01M364.3 330.8h.01M364.6 329.9h.01M364.8 331.4h.01M365.1 330.1h.01M365.3 331h.01M365.6 331.9h.01M365.9 332.1h.01M366.1 332.8h.01M366.4 332.1h.01M366.7 333.3h.01M366.9 333.9h.01M367.2 332.9h.01M367.4 334h.01M367.7 333.9h.01M368 335h.01M368.2 335h.01M368.5 334.8h.01M368.8 335.4h.01M369 335.2h.01M369.3 336.6h.01M369.5 336.5h.01M369.8 336.3h.01M370.1 336.7h.01M370.3 336.8h.01M370.6 337.4h.01M370.8 337.9h.01M371.1 337h.01M371.4 338.2h.01M371.6 337.5h.01M371.9 338.5h.01M372.2 338h.01M372.4 338h.01M372.7 338.3h.01M372.9 338h.01M373.2 338h.01M373.5 338.2h.01M373.7 337.7h.01M374 336.9h.01M374.3 337.3h.01M374.5 337.2h.01M374.8 337.1h.01M375 337.2h.01M375.3 336.2h.01M375.6 335.6h.01M375.8 335.8h.01M376.1 335.7h.01M376.4 336.2h.01M376.6 335.8h.01M376.9 335.3h.01M377.1 336.3h.01M377.4 334.5h.01M377.7 334.9h.01M377.9 334.2h.01M378.2 333.7h.01M378.4 334.5h.01M378.7 333.1h.01M379 333h.01M379.2 333.3h.01M379.5 335.3h.01M379.8 335.2h.01M380 334.7h.01M380.3 334.3h.01M380.5 336.1h.01M380.8 336.9h.01M381.1 337.4h.01M381.3 337.3h.01M381.6 337.6h.01M381.9 337.1h.01M382.1 336.9h.01M382.4 336.8h.01M382.6 336.5h.01M382.9 335.8h.01M383.2 336.4h.01M383.4 337.3h.01M383.7 334.4h.01M384 334.5h.01M384.2 334.7h.01M384.5 335h.01M384.7 334h.01M385 333.7h.01M385.3 333.7h.01M385.5 334h.01M385.8 335.1h.01M386 335.1h.01M386.3 334.1h.01M386.6 334.8h.01M386.8 335h.01M387.1 335.4h.01M387.4 336.4h.01M387.6 335.5h.01M387.9 335.6h.01M388.1 335.6h.01M388.4 336.2h.01M388.7 336.8h.01M388.9 335.9h.01M389.2 337h.01M389.5 336.9h.01M389.7 336.7h.01M390 336.7h.01M390.2 337.3h.01M390.5 336.6h.01M390.8 337.5h.01M391 337.3h.01M391.3 337h.01M391.5 338h.01M391.8 338.4h.01M392.1 337.9h.01M392.3 337.3h.01M392.6 337.7h.01M392.9 337.4h.01M393.1 338.1h.01M393.4 339h.01M393.6 338.5h.01M393.9 338.8h.01M394.2 339.1h.01M394.4 338.3h.01M394.7 337.6h.01M395 337.9h.01M395.2 334.4h.01M395.5 335.1h.01M395.7 333h.01M396 333.5h.01M396.3 334.1h.01M396.5 332.9h.01M396.8 338.1h.01M397.1 337.4h.01M397.3 337.8h.01M397.6 336.5h.01M397.8 339.1h.01M398.1 337.9h.01M398.4 338.7h.01M398.6 338.8h.01M398.9 338.8h.01M399.1 338.6h.01M399.4 339.1h.01M399.7 338.7h.01M399.9 338.2h.01M400.2 338.8h.01M400.5 339.5h.01M400.7 339.1h.01M401 339h.01M401.2 339h.01M401.5 338.7h.01M401.8 338.8h.01M402 338.8h.01M402.3 338.7h.01M402.6 339.2h.01M402.8 338.4h.01M403.1 338.2h.01M403.3 338.4h.01M403.6 338.4h.01M403.9 337.2h.01M404.1 338.3h.01M404.4 337.4h.01M404.7 338.7h.01M404.9 338.8h.01M405.2 339h.01M405.4 338.3h.01M405.7 338.8h.01M406 337.9h.01M406.2 337.6h.01M406.5 337.7h.01M406.7 337.3h.01M407 337.3h.01M407.3 337.4h.01M407.5 337.3h.01M407.8 336.5h.01M408.1 335.1h.01M408.3 337.3h.01M408.6 335.4h.01M408.8 335.1h.01M409.1 336h.01M409.4 335.1h.01M409.6 334.7h.01M409.9 335.5h.01M410.2 334.8h.01M410.4 335.3h.01M410.7 334.8h.01M410.9 334.4h.01M411.2 334.7h.01M411.5 334.8h.01M411.7 334.5h.01M412 333.9h.01M412.3 333.7h.01M412.5 333.9h.01M412.8 333.7h.01M413 334.2h.01M413.3 334.3h.01M413.6 334h.01M413.8 333.6h.01M414.1 334.2h.01M414.3 335h.01M414.6 333.9h.01M414.9 333.4h.01M415.1 334.2h.01M415.4 335.4h.01M415.7 334.5h.01M415.9 333.6h.01M416.2 334.8h.01M416.4 334.5h.01M416.7 334.3h.01M417 334.2h.01M417.2 334.8h.01M417.5 334h.01M417.8 333.5h.01M418 333.3h.01M418.3 332.4h.01M418.5 333.4h.01M418.8 332.4h.01M419.1 332.6h.01M419.3 332.8h.01M419.6 331.5h.01M419.9 331.1h.01M420.1 330.9h.01M420.4 332h.01M420.6 331.7h.01M420.9 331.3h.01M421.2 333.1h.01M421.4 332h.01M421.7 331.8h.01M421.9 333.4h.01M422.2 333h.01M422.5 331.8h.01M422.7 332.9h.01M423 333.5h.01M423.3 333.9h.01M423.5 332.6h.01M423.8 333.7h.01M424 334.3h.01M424.3 333.7h.01M424.6 333.3h.01M424.8 334.9h.01M425.1 335.3h.01M425.4 333.9h.01M425.6 334.5h.01M425.9 334h.01M426.1 334.4h.01M426.4 335.6h.01M426.7 336h.01M426.9 334.7h.01M427.2 335.6h.01M427.5 335.3h.01M427.7 336h.01M428 335.1h.01M428.2 335.9h.01M428.5 336.1h.01M428.8 335.1h.01M429 335.3h.01M429.3 335.8h.01M429.5 335.2h.01M429.8 336.3h.01M430.1 335.2h.01M430.3 335h.01M430.6 335.4h.01M430.9 335.9h.01M431.1 336.3h.01M431.4 335.8h.01M431.6 336.3h.01M431.9 335.9h.01M432.2 336h.01M432.4 336.1h.01M432.7 336.1h.01M433 336.6h.01M433.2 336.2h.01M433.5 336h.01M433.7 337.2h.01M434 335.7h.01M434.3 336.6h.01M434.5 336.5h.01M434.8 336.1h.01M435 336.3h.01M435.3 337.5h.01M435.6 336h.01M435.8 336.2h.01M436.1 337.1h.01M436.4 336.7h.01M436.6 336.8h.01M436.9 337.6h.01M437.1 337h.01M437.4 337h.01M437.7 336.4h.01M437.9 338.2h.01M438.2 337.5h.01M438.5 337.9h.01M438.7 336.7h.01M439 337.9h.01M439.2 338h.01M439.5 338.1h.01M439.8 337.6h.01M440 337.6h.01M440.3 337.5h.01M440.6 335.4h.01M440.8 337.8h.01M441.1 338.2h.01M441.3 323.9h.01M441.6 330.6h.01M441.9 322.5h.01M442.1 323.8h.01M442.4 323.3h.01M442.6 322h.01M442.9 323.1h.01M443.2 321.9h.01M443.4 321.8h.01M443.7 321.4h.01M444 322.7h.01M444.2 323.1h.01M444.5 325.6h.01M444.7 324h.01M445 324.7h.01M445.3 325.8h.01M445.5 326.2h.01M445.8 328.1h.01M446.1 328.3h.01M446.3 328.4h.01M446.6 328.6h.01M446.8 329.9h.01M447.1 330.1h.01M447.4 329.1h.01M447.6 331.1h.01M447.9 331.8h.01M448.2 332.3h.01M448.4 332.1h.01M448.7 331.7h.01M448.9 329.8h.01M449.2 330.9h.01M449.5 331.4h.01M449.7 331.5h.01M450 330.1h.01M450.2 330.6h.01M450.5 329.6h.01M450.8 328.9h.01M451 328.8h.01M451.3 329.4h.01M451.6 330.5h.01M451.8 331.1h.01M452.1 332.1h.01M452.3 332.7h.01M452.6 331.8h.01M452.9 333h.01M453.1 333.2h.01M453.4 332.8h.01M453.7 332.7h.01M453.9 333.2h.01M454.2 333.8h.01M454.4 333.6h.01M454.7 333.6h.01M455 334.9h.01M455.2 334.7h.01M455.5 334.1h.01M455.8 334.9h.01M456 333.2h.01M456.3 332.4h.01M456.5 332h.01M456.8 332.9h.01M457.1 332.5h.01M457.3 331.5h.01M457.6 328h.01M457.8 329.1h.01M458.1 331.9h.01M458.4 315.3h.01M458.6 315.2h.01M458.9 318.8h.01M459.2 311.1h.01M459.4 309.9h.01M459.7 309h.01M459.9 312.6h.01M460.2 308.7h.01M460.5 321.6h.01M460.7 325.6h.01M461 329.9h.01M461.3 332.2h.01M461.5 332h.01M461.8 331.9h.01M462 331h.01M462.3 331.9h.01M462.6 332.1h.01M462.8 331h.01M463.1 331.5h.01M463.4 329.5h.01M463.6 327.1h.01M463.9 327.7h.01M464.1 320.4h.01M464.4 324.4h.01M464.7 316h.01M464.9 317.4h.01M465.2 317.6h.01M465.4 316h.01M465.7 317.1h.01M466 316.6h.01M466.2 317.9h.01M466.5 320.5h.01M466.8 321.3h.01M467 319.2h.01M467.3 318.8h.01M467.5 319.8h.01M467.8 313.1h.01M468.1 313.3h.01M468.3 312.4h.01M468.6 316.5h.01M468.9 316.1h.01M469.1 313.2h.01M469.4 314.3h.01M469.6 316h.01M469.9 312.1h.01M470.2 305.7h.01M470.4 298.3h.01M470.7 293.4h.01M470.9 286.8h.01M471.2 285h.01M471.5 287h.01M471.7 271.8h.01M472 272.5h.01M472.3 263.5h.01M472.5 263h.01M472.8 268.6h.01M473 263.4h.01M473.3 277.5h.01M473.6 275.7h.01M473.8 289h.01M474.1 289.5h.01M474.4 311.5h.01M474.6 312.1h.01M474.9 320.8h.01M475.1 309.5h.01M475.4 320.4h.01M475.7 320.8h.01M475.9 322.3h.01M476.2 328.6h.01M476.5 328.4h.01M476.7 325.8h.01M477 325.7h.01M477.2 325.1h.01M477.5 324.9h.01M477.8 323.3h.01M478 324.6h.01M478.3 320.4h.01M478.5 319.5h.01M478.8 318.9h.01M479.1 318.8h.01M479.3 316.5h.01M479.6 316.3h.01M479.9 316.1h.01M480.1 315.1h.01M480.4 316.4h.01M480.6 314.1h.01M480.9 314.3h.01M481.2 313.6h.01M481.4 311.2h.01M481.7 312.6h.01M482 311.6h.01M482.2 311.5h.01M482.5 312.8h.01M482.7 312.9h.01M483 312.2h.01M483.3 316h.01M483.5 316.7h.01M483.8 315.9h.01M484.1 318.3h.01M484.3 319.2h.01M484.6 317.8h.01M484.8 321h.01M485.1 321.2h.01M485.4 323.2h.01M485.6 323.1h.01" stroke="#0a0a0a" stroke-width="2.16" stroke-linecap="round" fill="none"/>
<path d="M330.2 329.2h.01M389.1 339.9h.01M483.3 322h.01M482.3 314.7h.01M379.6 335.4h.01M392.4 337h.01M420 333.9h.01M352.7 335.2h.01M355.9 331.2h.01M473 267.4h.01M303.7 295.2h.01M444.8 323.7h.01M365.5 331.1h.01M366.3 335.4h.01M407.6 339.9h.01M375 336.6h.01M450.8 329.3h.01M397.1 337.6h.01M441.2 330.3h.01M305.1 302.6h.01M484.4 321.7h.01M338.7 324.6h.01M477.9 322.9h.01M394.4 338.8h.01M433.7 336h.01M354 335h.01M321.3 334.9h.01M425.2 335.9h.01M442.1 322.6h.01M308.6 307.7h.01M484.9 325.2h.01M296.8 330.8h.01M443.9 321.5h.01M457.9 324.5h.01M484.2 318.7h.01M352 333.3h.01M295.4 330.7h.01M322.7 334.2h.01M312 325.4h.01M415.6 334h.01M400.5 339.1h.01M305.1 295.7h.01M410.2 333.6h.01M429.8 336.2h.01M309.7 320.1h.01M427.4 336.8h.01M391.8 338.1h.01M411.6 335.4h.01M473.3 273.5h.01M482.4 313h.01M364.2 332.9h.01M323 336h.01M363.9 332.6h.01M307.1 306.8h.01M349.3 333.7h.01M296.8 333h.01M455.4 337.8h.01M346.1 335.3h.01M317.9 331.3h.01M414.9 334.5h.01M383.5 335.5h.01M428.7 335.1h.01M395.6 333.7h.01M379 332.1h.01M435.4 335.5h.01M418.6 330.9h.01M364.8 334h.01M473.4 286.9h.01M303.9 296.3h.01M453.3 332.9h.01M332.5 333.7h.01M394.9 338.4h.01M448.9 331.7h.01M400.2 338.7h.01M404.7 338.8h.01M339.9 327.5h.01M354.8 332h.01M475 313.9h.01M307.7 308.8h.01M461.5 333.4h.01M473.7 283.6h.01M324.3 333.5h.01M478.5 318.9h.01M296.9 332.3h.01M303.4 303.8h.01M383 334.7h.01M362.3 334h.01M434.9 339.3h.01M474.2 293.9h.01M304.3 307.1h.01M422.8 334.1h.01M350.5 331.7h.01M434.7 335.9h.01M406.5 337.7h.01M337.6 326h.01M444.4 326.1h.01M327.8 326.2h.01M338.1 329.4h.01M468.4 311.7h.01M324.9 332.3h.01M374.3 337.7h.01M303.7 304.5h.01M454.6 333.9h.01M384.3 334.1h.01M361.7 335.9h.01M298.2 329.6h.01M353.9 334.4h.01M347.2 332h.01M428.4 335.8h.01M345.3 335.1h.01" stroke="#0a0a0a" stroke-width="2.04" stroke-linecap="round" fill="none"/>
<path d="M367.6 208.9h.01" stroke="#27aee6" stroke-width="2.20" stroke-linecap="round" fill="none"/>
<path d="M367.6 216.2h.01" stroke="#0a0a0a" stroke-width="2.20" stroke-linecap="round" fill="none"/>
<line x1="293.80" y1="364.20" x2="293.80" y2="428.40" stroke="#222" stroke-width="0.9" />
<line x1="292.00" y1="428.00" x2="489.20" y2="428.00" stroke="#222" stroke-width="0.9" />
<line x1="291.80" y1="428.00" x2="293.80" y2="428.00" stroke="#222" stroke-width="0.8" />
<line x1="291.80" y1="412.12" x2="293.80" y2="412.12" stroke="#222" stroke-width="0.8" />
<line x1="291.80" y1="396.25" x2="293.80" y2="396.25" stroke="#222" stroke-width="0.8" />
<line x1="291.80" y1="380.38" x2="293.80" y2="380.38" stroke="#222" stroke-width="0.8" />
<line x1="291.80" y1="364.50" x2="293.80" y2="364.50" stroke="#222" stroke-width="0.8" />
<line x1="293.80" y1="428.00" x2="293.80" y2="429.80" stroke="#222" stroke-width="0.8" />
<line x1="342.55" y1="428.00" x2="342.55" y2="429.80" stroke="#222" stroke-width="0.8" />
<line x1="391.30" y1="428.00" x2="391.30" y2="429.80" stroke="#222" stroke-width="0.8" />
<line x1="440.05" y1="428.00" x2="440.05" y2="429.80" stroke="#222" stroke-width="0.8" />
<line x1="488.80" y1="428.00" x2="488.80" y2="429.80" stroke="#222" stroke-width="0.8" />
<line x1="313.80" y1="386.73" x2="483.80" y2="386.73" stroke="#111" stroke-width="1.0" stroke-dasharray="0.95 0.7"/>
<line x1="313.80" y1="406.89" x2="483.80" y2="406.89" stroke="#111" stroke-width="1.5" />
<line x1="313.80" y1="427.10" x2="483.80" y2="427.10" stroke="#111" stroke-width="0.9" stroke-dasharray="0.95 0.7"/>
<line x1="293.80" y1="440.70" x2="293.80" y2="505.50" stroke="#222" stroke-width="0.9" />
<line x1="292.00" y1="503.50" x2="489.20" y2="503.50" stroke="#222" stroke-width="0.9" />
<line x1="291.80" y1="503.50" x2="293.80" y2="503.50" stroke="#222" stroke-width="0.8" />
<line x1="291.80" y1="493.08" x2="293.80" y2="493.08" stroke="#222" stroke-width="0.8" />
<line x1="291.80" y1="482.67" x2="293.80" y2="482.67" stroke="#222" stroke-width="0.8" />
<line x1="291.80" y1="472.25" x2="293.80" y2="472.25" stroke="#222" stroke-width="0.8" />
<line x1="291.80" y1="461.83" x2="293.80" y2="461.83" stroke="#222" stroke-width="0.8" />
<line x1="291.80" y1="451.42" x2="293.80" y2="451.42" stroke="#222" stroke-width="0.8" />
<line x1="291.80" y1="441.00" x2="293.80" y2="441.00" stroke="#222" stroke-width="0.8" />
<line x1="293.80" y1="503.50" x2="293.80" y2="505.50" stroke="#222" stroke-width="0.8" />
<line x1="342.55" y1="503.50" x2="342.55" y2="505.50" stroke="#222" stroke-width="0.8" />
<line x1="391.30" y1="503.50" x2="391.30" y2="505.50" stroke="#222" stroke-width="0.8" />
<line x1="440.05" y1="503.50" x2="440.05" y2="505.50" stroke="#222" stroke-width="0.8" />
<line x1="488.80" y1="503.50" x2="488.80" y2="505.50" stroke="#222" stroke-width="0.8" />
<line x1="313.80" y1="461.21" x2="483.80" y2="461.21" stroke="#111" stroke-width="1.0" stroke-dasharray="0.95 0.7"/>
<line x1="313.80" y1="473.29" x2="483.80" y2="473.29" stroke="#111" stroke-width="1.5" />
<line x1="313.80" y1="485.17" x2="483.80" y2="485.17" stroke="#111" stroke-width="1.0" stroke-dasharray="0.95 0.7"/>
<path d="M361.5 420.8h.01M401.3 401.9h.01M376.1 392.3h.01M411.5 393.4h.01M402.4 404.3h.01M395.8 417.9h.01M383.2 418.8h.01M417.2 399.3h.01M392.9 410.2h.01M359.2 413.2h.01M417.8 405h.01M439.7 406.1h.01M416.9 412h.01M402.6 396.9h.01M375 401.1h.01M386.8 407.6h.01M412.4 396.1h.01M415.1 406.2h.01M397.2 410.2h.01M419.2 402.6h.01M439.4 411.7h.01M396.5 412.5h.01M411 405.4h.01M408 406.6h.01M410.8 391.5h.01M426.4 393.5h.01M380.6 421.7h.01M369.3 421.5h.01M383.9 413.8h.01M380.7 399.2h.01M378.4 418.4h.01M412.5 418.2h.01M416.1 417.7h.01M373 416.2h.01M340.7 418h.01M346.9 410.5h.01M391.7 388.2h.01M391 405h.01M366.2 408.9h.01M395.1 399.3h.01M416.1 402.6h.01M394 400.7h.01M407.1 422.1h.01M345.3 412.8h.01M405.9 394.2h.01M379.5 420.9h.01M396.1 414.7h.01M356 412.2h.01M375.2 406.3h.01M372.3 405.9h.01M368.5 400.7h.01M396.5 397.3h.01M387.7 385.5h.01M390.6 408.8h.01M421 416.2h.01M405.2 419.9h.01M402.6 395.2h.01M409.2 386.3h.01M398.3 412.5h.01M420.1 405.2h.01M406.3 419.2h.01M385 393.1h.01M387.8 404.2h.01M409.5 390.9h.01M375.7 416h.01M394.2 402.3h.01M393.4 393.1h.01M388.4 403.4h.01M391 419.6h.01M404.7 412.9h.01M419 408.7h.01M437.4 405.4h.01M405 399.5h.01M410.8 390.5h.01M416.7 405.4h.01M356.4 420.9h.01M364.1 405.2h.01M412.5 398h.01M403.9 421.8h.01M382.2 408.4h.01M411.7 418.3h.01M377.7 390h.01M366.4 412.9h.01M402.5 403.2h.01M403.1 392.3h.01M410.6 418.9h.01M460.3 410.7h.01M383.4 408.1h.01M414.4 398.2h.01M380.5 419.4h.01M391.5 400.3h.01M393.9 419.1h.01M431.6 406.9h.01M388.7 402.1h.01M353.8 410.7h.01M326.2 415.6h.01M424.9 421h.01M396.9 386.3h.01M421 407h.01M386.5 405.2h.01M366.1 404.7h.01M374.6 395.7h.01M421.2 414.3h.01M373.9 409.2h.01M407 400.5h.01M420.9 388.9h.01M352.4 412h.01M427.9 384h.01M401.1 395h.01M400.4 409.9h.01M395.3 410.4h.01M417.4 405.7h.01M384.2 406.8h.01M416.2 411.6h.01M399.1 401h.01M406.7 391.5h.01M382.5 409.7h.01M424.9 394.1h.01M410.8 393.3h.01M379.2 404.7h.01M396 389.2h.01M388 392.7h.01M404.6 416.4h.01M413.9 399.6h.01M351.7 411h.01M406 415.9h.01M419.6 422.4h.01M405.7 404.3h.01M392.5 413.6h.01M412.9 405.4h.01M372.3 418.7h.01M381.3 401.8h.01M378.4 417.2h.01M368.2 420.5h.01M401.9 406.9h.01M401 402.9h.01M403.8 415.5h.01M415.1 399h.01M384.5 416.7h.01M395.1 387h.01M365.7 408.7h.01M370.4 406.9h.01M360.1 411.9h.01M416.8 402.7h.01M401.9 420.9h.01M369.3 408.4h.01M383.7 401.1h.01M367.2 417h.01M345.8 414.4h.01M417.1 417.4h.01M402.3 393.5h.01M430.9 406.8h.01M391.6 390.1h.01M391.4 396.8h.01M379.4 412.1h.01M376.5 406.9h.01M381.9 391.7h.01M374.5 399.1h.01M385.2 410.5h.01M399.7 414.4h.01M380.5 412.4h.01M436.5 414.7h.01M385.9 410.5h.01M421.1 379.6h.01M435.6 405.2h.01M383.1 394.3h.01M424.6 416.9h.01M407.3 397.1h.01M369.6 404.2h.01M385.4 421.4h.01M325.1 421.2h.01M376.9 421.1h.01M401.8 419.3h.01M377.9 415.1h.01M392.3 397.7h.01M386.2 397.8h.01M384.1 411.1h.01M390.5 414.4h.01M383.9 393.9h.01M385.6 406.5h.01M408.9 405.7h.01M445.5 401.1h.01M378.9 410h.01M394.1 417.1h.01M385.7 397.3h.01M380.5 411.9h.01M402.8 420.6h.01M397.1 394h.01M427 416h.01M420.9 411.9h.01M380.9 402.5h.01M358.6 405.7h.01M401.1 419.6h.01M414.7 398.9h.01M409.4 390.6h.01M396.7 390.5h.01M392.7 405.3h.01M392.9 412.4h.01M388.3 401.6h.01M398 419.8h.01M406.1 386.4h.01M385.8 410.4h.01M363.1 421.2h.01M402.4 400h.01M377.7 399.5h.01M399.1 397.6h.01M383.9 417.1h.01M353.1 405.5h.01M388.5 401.6h.01M392.6 404.7h.01M412.1 404.5h.01M407.4 389.8h.01M401.5 398.4h.01M401.3 403.2h.01M422.6 403h.01M370.9 408.7h.01M433.6 407.4h.01M432.3 408.1h.01M400 401.8h.01M376.9 397.7h.01M428.7 417.2h.01M387.7 421.5h.01M399.7 412.5h.01M394.7 400.6h.01M401.2 408.4h.01M385.5 406.4h.01M406.8 394.8h.01M400.1 400.1h.01M387.5 401.8h.01M412.2 392.9h.01M406.7 396.9h.01M385 410.5h.01M387.5 409.8h.01M410.5 404.2h.01M360.9 419.2h.01M401 408.4h.01M398.9 415.4h.01M363.7 416.4h.01M384.2 421.8h.01M429.8 420.5h.01M411.7 387.1h.01M373 420.8h.01M389.3 402.3h.01M386.3 401.8h.01M379.5 400.4h.01M377.7 411.8h.01M392.4 402.7h.01M385.7 408.1h.01M432.3 406.2h.01M438.3 407.3h.01M400.2 394.8h.01M390.5 405.8h.01M361.5 415.9h.01M379.5 414.1h.01M379.7 416.9h.01M399.9 404.2h.01M437 405h.01M385.3 410h.01M430.2 403h.01M400.3 391h.01M403.4 411.9h.01M394.3 394.1h.01M335.3 416.4h.01M376.6 416.1h.01M389 413.4h.01M407.4 400.1h.01M373.4 410.5h.01M386 400.9h.01M367.9 422.4h.01M388.3 395.9h.01M376.7 400.2h.01M413.2 417.5h.01M374.3 414.6h.01M371.4 396.5h.01M392 397.6h.01M421.6 407.5h.01M394.9 408h.01M392.7 404.8h.01M409.5 393.4h.01M395.6 407.6h.01M412.9 397.5h.01M412.9 410.6h.01M395.6 422h.01M355.2 413h.01M402 409.9h.01M409.9 387.9h.01M421.4 402h.01M377.6 403.4h.01M374.2 419.1h.01M400.5 395.6h.01M393.9 421.6h.01M397.5 394.7h.01M381.4 406h.01M393.1 395.8h.01M393 390h.01M444.1 404.2h.01M407.7 414.5h.01M369.9 418.1h.01M429.2 404.4h.01M341.8 415h.01M397.5 400.8h.01M372.1 417.1h.01M403.8 416.6h.01M443.5 410.4h.01M352.7 405.6h.01M454 417h.01M440.5 407.6h.01M333.3 415.8h.01M341.9 417.8h.01M342.8 418.3h.01M434.3 404.2h.01M423.9 416.5h.01M451.4 413.1h.01M425.9 423.1h.01M448.4 415.9h.01M391.8 396.3h.01M390.8 420.3h.01M403.6 419.2h.01M360.5 417.3h.01M353.5 419.3h.01M397.6 404.3h.01M463.7 414.6h.01M376.4 408h.01M433.6 408.4h.01M407.6 403.1h.01M457.6 406.3h.01M409.8 415.8h.01M346.8 414.2h.01M446.8 412.2h.01M367.5 406.4h.01M420 408.8h.01M341 420.4h.01M381.2 404.7h.01M418.9 406h.01M388.9 394.8h.01M380.6 421.4h.01M396.6 380.9h.01M377.5 405.4h.01M458.7 414.8h.01M424.3 415.3h.01M451.3 417.1h.01M442 414.5h.01M459.6 413.3h.01M455.5 416.8h.01M431.1 404.4h.01M345.4 418.2h.01M441.5 406.7h.01M425.2 416.2h.01M446.1 410.7h.01M455 416.5h.01M329.5 414.2h.01M412.8 404h.01M344 414.6h.01M340.4 408.6h.01M397.9 402.3h.01M332.5 420.8h.01M354.8 414.8h.01M401.1 409.2h.01M431.1 401.8h.01M353.8 403.5h.01M411.6 380.6h.01M412.2 404.6h.01M330.8 417.9h.01M379.6 399.1h.01M338.9 413.5h.01M352.7 417.7h.01M349.4 419.4h.01M340.5 418.6h.01M360.6 416.9h.01M367.1 410.9h.01M420.9 399.3h.01M389.6 416.3h.01M407.8 392.6h.01M432.4 407.9h.01M344.9 412.2h.01M356.3 402.6h.01M347.6 417.7h.01M335.2 421.4h.01M395.8 409.3h.01M457.7 413.3h.01M434.8 411.9h.01M453 413.6h.01M338.2 421.3h.01M434 404.3h.01M336.4 411h.01M436.6 403.6h.01M346.1 420.2h.01M363.4 411.7h.01M419 399.5h.01M361 418.7h.01M368.1 411.7h.01M333.3 420.9h.01M447.1 402.9h.01M343.5 411.7h.01M412.7 400.5h.01M411 417.5h.01M419.4 396.8h.01M345 421.3h.01M421.5 394.4h.01M415.5 388.7h.01M393.3 393.1h.01M372.2 409.6h.01M462.6 417.1h.01M365.1 409.6h.01M373.4 406.9h.01M341.9 416.6h.01M352.5 418.2h.01M374.6 404.2h.01M365.1 414.1h.01M378 398.2h.01" stroke="#0a0a0a" stroke-width="2.00" stroke-linecap="round" fill="none"/>
<path d="M474.2 390.7h.01M473.2 396.2h.01M464.4 392.3h.01M444.9 393.9h.01M314.3 421.3h.01M313.3 418.5h.01M388.9 375.6h.01" stroke="#0a0a0a" stroke-width="2.00" stroke-linecap="round" fill="none"/>
<path d="M400.9 468.3h.01M407.3 470.7h.01M383.2 466.4h.01M418 477.9h.01M402.1 475.6h.01M389.3 472.9h.01M381.4 476.7h.01M402.1 468.7h.01M363.3 465.7h.01M382.5 460.9h.01M360 465.7h.01M429.9 476.8h.01M432.6 474.5h.01M404.6 466.3h.01M370 465.5h.01M391 473.2h.01M437 478.5h.01M412.6 471.8h.01M422.9 474.3h.01M452.5 473.9h.01M442.2 479.6h.01M421.6 474.6h.01M404.2 471.4h.01M387.1 465.1h.01M396 463.7h.01M414.4 481h.01M422.7 468.4h.01M404.3 461.2h.01M397.1 470.4h.01M411 468.8h.01M442.8 469.7h.01M410.3 473h.01M359.7 464.2h.01M397.2 473h.01M402.5 465.8h.01M423.2 473.8h.01M371.7 478.6h.01M381.3 483.5h.01M369.6 477.6h.01M432.5 475.6h.01M401.1 466.3h.01M414.7 482.8h.01M417.6 478.7h.01M392.3 474.3h.01M350.8 476.7h.01M438.4 479.3h.01M351.8 473.5h.01M400.8 473.7h.01M407.7 477.2h.01M390 472.4h.01M403.1 470.9h.01M399.8 483.6h.01M402 466h.01M406.3 475.8h.01M352.5 460.9h.01M355.3 468.1h.01M421.9 476.3h.01M365.2 457.3h.01M400.9 475.7h.01M432.6 479.8h.01M402.6 477.9h.01M366.4 468.7h.01M397.2 478h.01M393.3 468.9h.01M391.9 460.4h.01M407.6 465.3h.01M379.3 479.6h.01M403.2 479.1h.01M426.4 478.3h.01M386.3 468.2h.01M407.8 464.3h.01M430.6 474.6h.01M408.1 448.6h.01M383.7 472.1h.01M341.5 471.3h.01M362.2 463.4h.01M405.4 470h.01M390.8 477.7h.01M396.4 473.2h.01M474.2 471.1h.01M410.8 475.8h.01M383.5 476.2h.01M432.8 487.1h.01M431.6 471.9h.01M397.5 468.5h.01M408.2 473.2h.01M403.8 460.1h.01M392.3 477.9h.01M372.6 461.7h.01M425.5 470.1h.01M419.5 478.5h.01M375.8 474.9h.01M404.6 460.1h.01M379.4 455h.01M369.1 459.1h.01M408.9 458.6h.01M394.5 465.5h.01M394.4 472.1h.01M400.9 478.6h.01M409.1 471.4h.01M411 474.3h.01M376.9 467.4h.01M397.8 470.8h.01M412.4 472.1h.01M364.6 466h.01M400.9 478.3h.01M365.7 471.7h.01M394.5 465h.01M413.6 478.1h.01M402.1 473.1h.01M395.1 473.1h.01M396.7 464.4h.01M371.5 475.7h.01M423 482.6h.01M368.5 478.1h.01M349.7 483.5h.01M384.6 472.1h.01M374.2 481h.01M405.8 476.4h.01M386 463.8h.01M368.7 455.6h.01M367.8 475.6h.01M365.8 477.5h.01M355.3 471.2h.01M392.1 465.7h.01M433.2 477.2h.01M371.9 469.5h.01M372.2 460.6h.01M386.8 481.6h.01M387.8 473.7h.01M391.7 464.9h.01M425.6 477.1h.01M390.8 465.2h.01M393 473.7h.01M393.2 466.8h.01M366.1 461.2h.01M368.6 477.2h.01M338.9 476h.01M376.9 472.4h.01M374.5 475.9h.01M390.9 464.6h.01M418 477.4h.01M341.5 466.5h.01M411.2 473.6h.01M435.1 477.4h.01M391.9 447.8h.01M395.5 469.9h.01M434.1 474.9h.01M411.2 467.4h.01M404.2 456.4h.01M373.1 472h.01M380.3 486.4h.01M412.4 474.2h.01M417.7 467h.01M397.2 478.6h.01M426.9 464.9h.01M432.6 466.8h.01M349.4 463.4h.01M387.3 471h.01M382.2 464.7h.01M403.3 468.1h.01M456.5 474.4h.01M374.2 468.6h.01M375.9 481h.01M412.6 479.4h.01M371.6 478.7h.01M385.7 474.6h.01M421.7 470.1h.01M429.7 473.3h.01M435.2 472.3h.01M422.5 470.4h.01M388.5 477.9h.01M393.6 461.2h.01M425.9 479.6h.01M384.4 468.3h.01M412.7 481.4h.01M381.2 471.8h.01M419.3 475.4h.01M412.9 467.3h.01M363.5 455.6h.01M384.1 473.8h.01M383 480.7h.01M415.1 472.7h.01M387.6 476.5h.01M341.8 466.2h.01M393.1 480.7h.01M399.7 470.9h.01M364.6 462.5h.01M426.4 474.5h.01M422.8 477.4h.01M360.6 469.8h.01M396.4 472h.01M334.4 477.6h.01M372.5 484.9h.01M362.6 463.7h.01M389.7 474.4h.01M398.1 467.2h.01M399.1 464.9h.01M380.9 475h.01M381 475.9h.01M405.7 465.4h.01M380.7 462.8h.01M430.7 475.3h.01M391.2 464.2h.01M390.4 471.9h.01M409.9 473.1h.01M386 466.9h.01M418.8 480h.01M415.3 472.7h.01M401.6 478.5h.01M365.6 475.7h.01M391.5 461h.01M388.4 464.1h.01M401.1 471.1h.01M399.8 462.7h.01M389 471.8h.01M392 480.2h.01M391.3 467.1h.01M373.7 473.8h.01M388.6 475.2h.01M378 470.1h.01M394.1 468.9h.01M362.4 459.3h.01M438.9 479.2h.01M420.8 479.7h.01M402.2 472.7h.01M381.5 467.2h.01M406.7 471.9h.01M385.8 463.7h.01M419.5 477.1h.01M396.8 475.6h.01M393.1 470.1h.01M344.8 468.9h.01M374.4 473.8h.01M400.4 475.9h.01M364.7 463.6h.01M388.9 463.1h.01M415.3 463.3h.01M429.6 478.8h.01M381.3 471.4h.01M319.2 463.7h.01M394.4 475.5h.01M408.3 469.9h.01M355.2 475.7h.01M424.4 468.9h.01M391.2 472.6h.01M432.7 475.1h.01M392.2 471.4h.01M398.1 474.4h.01M368.2 469.7h.01M411.5 474.6h.01M400.6 475.1h.01M377.1 488.3h.01M408.9 476.2h.01M382.7 475.5h.01M433.5 475.6h.01M407.5 469.8h.01M393.9 469.8h.01M389.4 468.2h.01M438.5 480.7h.01M396.4 459.9h.01M405.7 476.8h.01M369 472.4h.01M412.7 474.2h.01M396.6 477.8h.01M375.7 460.2h.01M370.3 471.6h.01M419.6 473.9h.01M394.3 475.2h.01M409.3 473.2h.01M412 478.7h.01M431.5 473.1h.01M427.1 475.7h.01M383.2 467.9h.01M388 476.1h.01M344.3 475.3h.01M394.3 476.6h.01M400.7 474.5h.01M354.8 470.7h.01M393.7 466.4h.01M394.2 472.3h.01M391.4 469h.01M397.1 478.6h.01M365.2 468.6h.01M393.7 473.6h.01M444.9 481.5h.01M391.4 460.4h.01M380.5 475.4h.01M386.6 460.5h.01M429.8 477.6h.01M359.7 469.5h.01M439.7 470.4h.01M379.5 462.2h.01M406.2 473.2h.01M411.9 477.4h.01M388.9 466.6h.01M433.9 475.8h.01M360.1 465.8h.01M346.8 471.1h.01M429 478.6h.01M335 471.7h.01M445.4 479h.01M383.8 468.8h.01M431.5 472.5h.01M426.9 464.1h.01M404.6 480.4h.01M362.7 473.1h.01M405.3 479h.01M362.8 474.4h.01M354.7 472.3h.01M406.8 466.3h.01M363.6 465.7h.01M463.4 478.7h.01M354.4 468.1h.01M378.5 480.3h.01M395.1 479.6h.01M362.1 468.7h.01M416.7 474h.01M344.4 466.6h.01M458.7 478.7h.01M394.9 467.9h.01M421.5 473.8h.01M371.9 454.7h.01M462.7 477.8h.01M342.1 467.7h.01M387.7 471.8h.01M456.9 480.9h.01M360.8 471.2h.01M397.9 473.9h.01M433.1 479.1h.01M402.1 466.7h.01M364.7 473.1h.01M333.5 465.9h.01M353.3 475.6h.01M400.6 474.3h.01M447.9 479.2h.01M416.8 468.6h.01M399.5 469h.01M391.4 478h.01M430.3 468.4h.01M445.6 478.4h.01M391.1 475.9h.01M458.3 474.4h.01M382.1 468.6h.01M419.1 472.5h.01M461.3 476.2h.01M330.1 472.6h.01M359.4 472.9h.01M425.3 476.5h.01M377.4 478.4h.01M365.6 472.5h.01M343.2 478.7h.01M330 475.8h.01M377.9 472.8h.01M438.4 472.7h.01M391.7 466.2h.01M364.7 471h.01M426 469.5h.01M370.8 476.8h.01M384.6 476.9h.01M365.7 472.4h.01M351.3 475.8h.01M330.4 469.8h.01M459.7 485.5h.01M332.2 465.3h.01M350.9 459.5h.01M405.6 472.9h.01M363.9 461.1h.01M442.4 470h.01M459 479.4h.01M364.7 468.8h.01M461.4 476.5h.01M433.4 474.6h.01M458.7 477.7h.01M440.4 477.8h.01M462.6 484.3h.01M458.5 481.4h.01M462.8 476.8h.01M365.1 459.8h.01M396 475.8h.01M363 471.6h.01M367.6 471h.01M363.4 467.8h.01M437.8 479.9h.01M331.1 480.6h.01M337.6 459.7h.01M434.4 478.3h.01M349.9 474.6h.01M440.9 480h.01M370.7 475.5h.01M334.3 474.9h.01M349 461.8h.01M400.1 472.5h.01M331.9 465.1h.01M373.3 467.4h.01M370.1 470h.01M452 476.4h.01M457.3 479.8h.01M408.3 468.5h.01M357.4 461.9h.01M432 474.6h.01M393.2 480.8h.01M414.5 471.2h.01M388.7 470h.01M378.6 469.6h.01M405.3 466.7h.01M356.9 469.8h.01M339.6 464.7h.01M336.5 461h.01M380.5 473.9h.01" stroke="#0a0a0a" stroke-width="2.00" stroke-linecap="round" fill="none"/>
<path d="M313.3 461.8h.01M313.3 469.8h.01M327.9 449.3h.01M371.8 447.2h.01M374.2 448.9h.01M474.2 462.9h.01M473.2 469.8h.01M462 488.5h.01" stroke="#0a0a0a" stroke-width="2.00" stroke-linecap="round" fill="none"/>
</g>
<g filter="url(#softer)">
<text x="44.35" y="167.60" font-size="6.1" text-anchor="end" font-weight="normal" font-family='"Liberation Sans", sans-serif' fill="#1a1a1a" stroke="#1a1a1a" stroke-width="0.18" >0.00</text>
<text x="44.35" y="137.60" font-size="6.1" text-anchor="end" font-weight="normal" font-family='"Liberation Sans", sans-serif' fill="#1a1a1a" stroke="#1a1a1a" stroke-width="0.18" >0.50</text>
<text x="44.35" y="107.60" font-size="6.1" text-anchor="end" font-weight="normal" font-family='"Liberation Sans", sans-serif' fill="#1a1a1a" stroke="#1a1a1a" stroke-width="0.18" >1.00</text>
<text x="44.35" y="77.60" font-size="6.1" text-anchor="end" font-weight="normal" font-family='"Liberation Sans", sans-serif' fill="#1a1a1a" stroke="#1a1a1a" stroke-width="0.18" >1.50</text>
<text x="44.35" y="47.60" font-size="6.1" text-anchor="end" font-weight="normal" font-family='"Liberation Sans", sans-serif' fill="#1a1a1a" stroke="#1a1a1a" stroke-width="0.18" >2.00</text>
<text x="44.35" y="17.60" font-size="6.1" text-anchor="end" font-weight="normal" font-family='"Liberation Sans", sans-serif' fill="#1a1a1a" stroke="#1a1a1a" stroke-width="0.18" >2.50</text>
<text x="50.75" y="176.30" font-size="6.1" text-anchor="middle" font-weight="normal" font-family='"Liberation Sans", sans-serif' fill="#1a1a1a" stroke="#1a1a1a" stroke-width="0.18" >0</text>
<text x="72.03" y="176.30" font-size="6.1" text-anchor="middle" font-weight="normal" font-family='"Liberation Sans", sans-serif' fill="#1a1a1a" stroke="#1a1a1a" stroke-width="0.18" >45</text>
<text x="93.31" y="176.30" font-size="6.1" text-anchor="middle" font-weight="normal" font-family='"Liberation Sans", sans-serif' fill="#1a1a1a" stroke="#1a1a1a" stroke-width="0.18" >90</text>
<text x="114.59" y="176.30" font-size="6.1" text-anchor="middle" font-weight="normal" font-family='"Liberation Sans", sans-serif' fill="#1a1a1a" stroke="#1a1a1a" stroke-width="0.18" >135</text>
<text x="135.88" y="176.30" font-size="6.1" text-anchor="middle" font-weight="normal" font-family='"Liberation Sans", sans-serif' fill="#1a1a1a" stroke="#1a1a1a" stroke-width="0.18" >180</text>
<text x="157.16" y="176.30" font-size="6.1" text-anchor="middle" font-weight="normal" font-family='"Liberation Sans", sans-serif' fill="#1a1a1a" stroke="#1a1a1a" stroke-width="0.18" >225</text>
<text x="178.44" y="176.30" font-size="6.1" text-anchor="middle" font-weight="normal" font-family='"Liberation Sans", sans-serif' fill="#1a1a1a" stroke="#1a1a1a" stroke-width="0.18" >270</text>
<text x="199.72" y="176.30" font-size="6.1" text-anchor="middle" font-weight="normal" font-family='"Liberation Sans", sans-serif' fill="#1a1a1a" stroke="#1a1a1a" stroke-width="0.18" >315</text>
<text x="221.00" y="176.30" font-size="6.1" text-anchor="middle" font-weight="normal" font-family='"Liberation Sans", sans-serif' fill="#1a1a1a" stroke="#1a1a1a" stroke-width="0.18" >360</text>
<text x="138.00" y="186.70" font-size="6.55" text-anchor="middle" font-weight="bold" font-family='"Liberation Sans", sans-serif' fill="#1a1a1a" stroke="#1a1a1a" stroke-width="0.18" >Day of Year 2004 - 2014</text>
<text x="30.10" y="90.80" font-size="6.6" text-anchor="middle" font-weight="bold" font-family='"Liberation Sans", sans-serif' fill="#1a1a1a" stroke="#1a1a1a" stroke-width="0.18" transform="rotate(-90 30.10 90.80)" >Ethane (nmol mol<tspan font-size="4" dy="-2">-1</tspan><tspan dy="2"> )</tspan></text>
<text x="1.20" y="10.20" font-size="13" text-anchor="start" font-weight="normal" font-family='"Liberation Serif", serif' fill="#111" stroke="#111" stroke-width="0.18" >(a)</text>
<text x="240.90" y="68.60" font-size="3.95" text-anchor="start" font-weight="normal" font-family='"Liberation Sans", sans-serif' fill="#1c1c1c" stroke="#1c1c1c" stroke-width="0.13" >2004</text>
<text x="240.90" y="76.15" font-size="3.95" text-anchor="start" font-weight="normal" font-family='"Liberation Sans", sans-serif' fill="#1c1c1c" stroke="#1c1c1c" stroke-width="0.13" >2005</text>
<text x="240.90" y="83.70" font-size="3.95" text-anchor="start" font-weight="normal" font-family='"Liberation Sans", sans-serif' fill="#1c1c1c" stroke="#1c1c1c" stroke-width="0.13" >2006</text>
<text x="240.90" y="91.25" font-size="3.95" text-anchor="start" font-weight="normal" font-family='"Liberation Sans", sans-serif' fill="#1c1c1c" stroke="#1c1c1c" stroke-width="0.13" >2009</text>
<text x="240.90" y="98.80" font-size="3.95" text-anchor="start" font-weight="normal" font-family='"Liberation Sans", sans-serif' fill="#1c1c1c" stroke="#1c1c1c" stroke-width="0.13" >2010</text>
<text x="240.90" y="106.35" font-size="3.95" text-anchor="start" font-weight="normal" font-family='"Liberation Sans", sans-serif' fill="#1c1c1c" stroke="#1c1c1c" stroke-width="0.13" >2011</text>
<text x="240.90" y="113.90" font-size="3.95" text-anchor="start" font-weight="normal" font-family='"Liberation Sans", sans-serif' fill="#1c1c1c" stroke="#1c1c1c" stroke-width="0.13" >2012</text>
<text x="240.90" y="121.45" font-size="3.95" text-anchor="start" font-weight="normal" font-family='"Liberation Sans", sans-serif' fill="#1c1c1c" stroke="#1c1c1c" stroke-width="0.13" >2013</text>
<text x="240.90" y="129.00" font-size="3.95" text-anchor="start" font-weight="normal" font-family='"Liberation Sans", sans-serif' fill="#1c1c1c" stroke="#1c1c1c" stroke-width="0.13" >2014</text>
<text x="240.90" y="136.55" font-size="3.95" text-anchor="start" font-weight="normal" font-family='"Liberation Sans", sans-serif' fill="#1c1c1c" stroke="#1c1c1c" stroke-width="0.13" >MOZART 2006</text>
<text x="44.35" y="344.10" font-size="6.1" text-anchor="end" font-weight="normal" font-family='"Liberation Sans", sans-serif' fill="#1a1a1a" stroke="#1a1a1a" stroke-width="0.18" >0.00</text>
<text x="44.35" y="314.10" font-size="6.1" text-anchor="end" font-weight="normal" font-family='"Liberation Sans", sans-serif' fill="#1a1a1a" stroke="#1a1a1a" stroke-width="0.18" >0.20</text>
<text x="44.35" y="284.10" font-size="6.1" text-anchor="end" font-weight="normal" font-family='"Liberation Sans", sans-serif' fill="#1a1a1a" stroke="#1a1a1a" stroke-width="0.18" >0.40</text>
<text x="44.35" y="254.10" font-size="6.1" text-anchor="end" font-weight="normal" font-family='"Liberation Sans", sans-serif' fill="#1a1a1a" stroke="#1a1a1a" stroke-width="0.18" >0.60</text>
<text x="44.35" y="224.10" font-size="6.1" text-anchor="end" font-weight="normal" font-family='"Liberation Sans", sans-serif' fill="#1a1a1a" stroke="#1a1a1a" stroke-width="0.18" >0.80</text>
<text x="44.35" y="194.10" font-size="6.1" text-anchor="end" font-weight="normal" font-family='"Liberation Sans", sans-serif' fill="#1a1a1a" stroke="#1a1a1a" stroke-width="0.18" >1.00</text>
<text x="50.75" y="353.20" font-size="6.1" text-anchor="middle" font-weight="normal" font-family='"Liberation Sans", sans-serif' fill="#1a1a1a" stroke="#1a1a1a" stroke-width="0.18" >0</text>
<text x="72.03" y="353.20" font-size="6.1" text-anchor="middle" font-weight="normal" font-family='"Liberation Sans", sans-serif' fill="#1a1a1a" stroke="#1a1a1a" stroke-width="0.18" >45</text>
<text x="93.31" y="353.20" font-size="6.1" text-anchor="middle" font-weight="normal" font-family='"Liberation Sans", sans-serif' fill="#1a1a1a" stroke="#1a1a1a" stroke-width="0.18" >90</text>
<text x="114.59" y="353.20" font-size="6.1" text-anchor="middle" font-weight="normal" font-family='"Liberation Sans", sans-serif' fill="#1a1a1a" stroke="#1a1a1a" stroke-width="0.18" >135</text>
<text x="135.88" y="353.20" font-size="6.1" text-anchor="middle" font-weight="normal" font-family='"Liberation Sans", sans-serif' fill="#1a1a1a" stroke="#1a1a1a" stroke-width="0.18" >180</text>
<text x="157.16" y="353.20" font-size="6.1" text-anchor="middle" font-weight="normal" font-family='"Liberation Sans", sans-serif' fill="#1a1a1a" stroke="#1a1a1a" stroke-width="0.18" >225</text>
<text x="178.44" y="353.20" font-size="6.1" text-anchor="middle" font-weight="normal" font-family='"Liberation Sans", sans-serif' fill="#1a1a1a" stroke="#1a1a1a" stroke-width="0.18" >270</text>
<text x="199.72" y="353.20" font-size="6.1" text-anchor="middle" font-weight="normal" font-family='"Liberation Sans", sans-serif' fill="#1a1a1a" stroke="#1a1a1a" stroke-width="0.18" >315</text>
<text x="221.00" y="353.20" font-size="6.1" text-anchor="middle" font-weight="normal" font-family='"Liberation Sans", sans-serif' fill="#1a1a1a" stroke="#1a1a1a" stroke-width="0.18" >360</text>
<text x="138.00" y="362.40" font-size="6.55" text-anchor="middle" font-weight="bold" font-family='"Liberation Sans", sans-serif' fill="#1a1a1a" stroke="#1a1a1a" stroke-width="0.18" >Day of Year 2004 - 2014</text>
<text x="30.10" y="267.30" font-size="6.6" text-anchor="middle" font-weight="bold" font-family='"Liberation Sans", sans-serif' fill="#1a1a1a" stroke="#1a1a1a" stroke-width="0.18" transform="rotate(-90 30.10 267.30)" >Propane (nmol mol<tspan font-size="4" dy="-2">-1</tspan><tspan dy="2"> )</tspan></text>
<text x="1.20" y="198.90" font-size="13" text-anchor="start" font-weight="normal" font-family='"Liberation Serif", serif' fill="#111" stroke="#111" stroke-width="0.18" >(b)</text>
<text x="240.90" y="244.70" font-size="3.95" text-anchor="start" font-weight="normal" font-family='"Liberation Sans", sans-serif' fill="#1c1c1c" stroke="#1c1c1c" stroke-width="0.13" >2004</text>
<text x="240.90" y="252.25" font-size="3.95" text-anchor="start" font-weight="normal" font-family='"Liberation Sans", sans-serif' fill="#1c1c1c" stroke="#1c1c1c" stroke-width="0.13" >2005</text>
<text x="240.90" y="259.80" font-size="3.95" text-anchor="start" font-weight="normal" font-family='"Liberation Sans", sans-serif' fill="#1c1c1c" stroke="#1c1c1c" stroke-width="0.13" >2006</text>
<text x="240.90" y="267.35" font-size="3.95" text-anchor="start" font-weight="normal" font-family='"Liberation Sans", sans-serif' fill="#1c1c1c" stroke="#1c1c1c" stroke-width="0.13" >2009</text>
<text x="240.90" y="274.90" font-size="3.95" text-anchor="start" font-weight="normal" font-family='"Liberation Sans", sans-serif' fill="#1c1c1c" stroke="#1c1c1c" stroke-width="0.13" >2010</text>
<text x="240.90" y="282.45" font-size="3.95" text-anchor="start" font-weight="normal" font-family='"Liberation Sans", sans-serif' fill="#1c1c1c" stroke="#1c1c1c" stroke-width="0.13" >2011</text>
<text x="240.90" y="290.00" font-size="3.95" text-anchor="start" font-weight="normal" font-family='"Liberation Sans", sans-serif' fill="#1c1c1c" stroke="#1c1c1c" stroke-width="0.13" >2012</text>
<text x="240.90" y="297.55" font-size="3.95" text-anchor="start" font-weight="normal" font-family='"Liberation Sans", sans-serif' fill="#1c1c1c" stroke="#1c1c1c" stroke-width="0.13" >2013</text>
<text x="240.90" y="305.10" font-size="3.95" text-anchor="start" font-weight="normal" font-family='"Liberation Sans", sans-serif' fill="#1c1c1c" stroke="#1c1c1c" stroke-width="0.13" >2014</text>
<text x="240.90" y="312.65" font-size="3.95" text-anchor="start" font-weight="normal" font-family='"Liberation Sans", sans-serif' fill="#1c1c1c" stroke="#1c1c1c" stroke-width="0.13" >MOZART 2006</text>
<text x="0.00" y="0.00" font-size="4.6" text-anchor="end" font-weight="normal" font-family='"Liberation Sans", sans-serif' fill="#2a2a2a" stroke="#2a2a2a" stroke-width="0.12" transform="translate(44.90 369.60) scale(0.94 1)" >0.00</text>
<text x="0.00" y="0.00" font-size="4.6" text-anchor="end" font-weight="normal" font-family='"Liberation Sans", sans-serif' fill="#2a2a2a" stroke="#2a2a2a" stroke-width="0.12" transform="translate(44.90 383.06) scale(0.94 1)" >-0.50</text>
<text x="0.00" y="0.00" font-size="4.6" text-anchor="end" font-weight="normal" font-family='"Liberation Sans", sans-serif' fill="#2a2a2a" stroke="#2a2a2a" stroke-width="0.12" transform="translate(44.90 396.52) scale(0.94 1)" >-1.00</text>
<text x="0.00" y="0.00" font-size="4.6" text-anchor="end" font-weight="normal" font-family='"Liberation Sans", sans-serif' fill="#2a2a2a" stroke="#2a2a2a" stroke-width="0.12" transform="translate(44.90 409.98) scale(0.94 1)" >-1.50</text>
<text x="0.00" y="0.00" font-size="4.6" text-anchor="end" font-weight="normal" font-family='"Liberation Sans", sans-serif' fill="#2a2a2a" stroke="#2a2a2a" stroke-width="0.12" transform="translate(44.90 423.44) scale(0.94 1)" >-2.00</text>
<text x="0.00" y="0.00" font-size="4.6" text-anchor="end" font-weight="normal" font-family='"Liberation Sans", sans-serif' fill="#2a2a2a" stroke="#2a2a2a" stroke-width="0.12" transform="translate(44.90 436.90) scale(0.94 1)" >-2.50</text>
<text x="0.00" y="0.00" font-size="4.6" text-anchor="end" font-weight="normal" font-family='"Liberation Sans", sans-serif' fill="#2a2a2a" stroke="#2a2a2a" stroke-width="0.12" transform="translate(44.90 450.36) scale(0.94 1)" >-3.00</text>
<text x="0.00" y="0.00" font-size="4.6" text-anchor="end" font-weight="normal" font-family='"Liberation Sans", sans-serif' fill="#2a2a2a" stroke="#2a2a2a" stroke-width="0.12" transform="translate(44.90 463.82) scale(0.94 1)" >-3.50</text>
<text x="0.00" y="0.00" font-size="4.6" text-anchor="end" font-weight="normal" font-family='"Liberation Sans", sans-serif' fill="#2a2a2a" stroke="#2a2a2a" stroke-width="0.12" transform="translate(44.90 477.28) scale(0.94 1)" >-4.00</text>
<text x="0.00" y="0.00" font-size="4.6" text-anchor="end" font-weight="normal" font-family='"Liberation Sans", sans-serif' fill="#2a2a2a" stroke="#2a2a2a" stroke-width="0.12" transform="translate(44.90 490.74) scale(0.94 1)" >-4.50</text>
<text x="0.00" y="0.00" font-size="4.6" text-anchor="end" font-weight="normal" font-family='"Liberation Sans", sans-serif' fill="#2a2a2a" stroke="#2a2a2a" stroke-width="0.12" transform="translate(44.90 504.20) scale(0.94 1)" >-5.00</text>
<text x="0.00" y="0.00" font-size="5.0" text-anchor="middle" font-weight="normal" font-family='"Liberation Sans", sans-serif' fill="#222" stroke="#222" stroke-width="0.12" transform="translate(57.00 510.30) scale(0.9 1)" >Jan</text>
<text x="0.00" y="0.00" font-size="5.0" text-anchor="middle" font-weight="normal" font-family='"Liberation Sans", sans-serif' fill="#222" stroke="#222" stroke-width="0.12" transform="translate(57.00 516.90) scale(0.9 1)" >59</text>
<text x="0.00" y="0.00" font-size="5.0" text-anchor="middle" font-weight="normal" font-family='"Liberation Sans", sans-serif' fill="#222" stroke="#222" stroke-width="0.12" transform="translate(72.45 510.30) scale(0.9 1)" >Feb</text>
<text x="0.00" y="0.00" font-size="5.0" text-anchor="middle" font-weight="normal" font-family='"Liberation Sans", sans-serif' fill="#222" stroke="#222" stroke-width="0.12" transform="translate(72.45 516.90) scale(0.9 1)" >37</text>
<text x="0.00" y="0.00" font-size="5.0" text-anchor="middle" font-weight="normal" font-family='"Liberation Sans", sans-serif' fill="#222" stroke="#222" stroke-width="0.12" transform="translate(87.90 510.30) scale(0.9 1)" >Mar</text>
<text x="0.00" y="0.00" font-size="5.0" text-anchor="middle" font-weight="normal" font-family='"Liberation Sans", sans-serif' fill="#222" stroke="#222" stroke-width="0.12" transform="translate(87.90 516.90) scale(0.9 1)" >10</text>
<text x="0.00" y="0.00" font-size="5.0" text-anchor="middle" font-weight="normal" font-family='"Liberation Sans", sans-serif' fill="#222" stroke="#222" stroke-width="0.12" transform="translate(103.35 510.30) scale(0.9 1)" >Apr</text>
<text x="0.00" y="0.00" font-size="5.0" text-anchor="middle" font-weight="normal" font-family='"Liberation Sans", sans-serif' fill="#222" stroke="#222" stroke-width="0.12" transform="translate(103.35 516.90) scale(0.9 1)" >215</text>
<text x="0.00" y="0.00" font-size="5.0" text-anchor="middle" font-weight="normal" font-family='"Liberation Sans", sans-serif' fill="#222" stroke="#222" stroke-width="0.12" transform="translate(118.80 510.30) scale(0.9 1)" >May</text>
<text x="0.00" y="0.00" font-size="5.0" text-anchor="middle" font-weight="normal" font-family='"Liberation Sans", sans-serif' fill="#222" stroke="#222" stroke-width="0.12" transform="translate(118.80 516.90) scale(0.9 1)" >265</text>
<text x="0.00" y="0.00" font-size="5.0" text-anchor="middle" font-weight="normal" font-family='"Liberation Sans", sans-serif' fill="#222" stroke="#222" stroke-width="0.12" transform="translate(134.25 510.30) scale(0.9 1)" >Jun</text>
<text x="0.00" y="0.00" font-size="5.0" text-anchor="middle" font-weight="normal" font-family='"Liberation Sans", sans-serif' fill="#222" stroke="#222" stroke-width="0.12" transform="translate(134.25 516.90) scale(0.9 1)" >554</text>
<text x="0.00" y="0.00" font-size="5.0" text-anchor="middle" font-weight="normal" font-family='"Liberation Sans", sans-serif' fill="#222" stroke="#222" stroke-width="0.12" transform="translate(149.70 510.30) scale(0.9 1)" >Jul</text>
<text x="0.00" y="0.00" font-size="5.0" text-anchor="middle" font-weight="normal" font-family='"Liberation Sans", sans-serif' fill="#222" stroke="#222" stroke-width="0.12" transform="translate(149.70 516.90) scale(0.9 1)" >683</text>
<text x="0.00" y="0.00" font-size="5.0" text-anchor="middle" font-weight="normal" font-family='"Liberation Sans", sans-serif' fill="#222" stroke="#222" stroke-width="0.12" transform="translate(165.15 510.30) scale(0.9 1)" >Aug</text>
<text x="0.00" y="0.00" font-size="5.0" text-anchor="middle" font-weight="normal" font-family='"Liberation Sans", sans-serif' fill="#222" stroke="#222" stroke-width="0.12" transform="translate(165.15 516.90) scale(0.9 1)" >528</text>
<text x="0.00" y="0.00" font-size="5.0" text-anchor="middle" font-weight="normal" font-family='"Liberation Sans", sans-serif' fill="#222" stroke="#222" stroke-width="0.12" transform="translate(180.60 510.30) scale(0.9 1)" >Sep</text>
<text x="0.00" y="0.00" font-size="5.0" text-anchor="middle" font-weight="normal" font-family='"Liberation Sans", sans-serif' fill="#222" stroke="#222" stroke-width="0.12" transform="translate(180.60 516.90) scale(0.9 1)" >542</text>
<text x="0.00" y="0.00" font-size="5.0" text-anchor="middle" font-weight="normal" font-family='"Liberation Sans", sans-serif' fill="#222" stroke="#222" stroke-width="0.12" transform="translate(196.05 510.30) scale(0.9 1)" >Oct</text>
<text x="0.00" y="0.00" font-size="5.0" text-anchor="middle" font-weight="normal" font-family='"Liberation Sans", sans-serif' fill="#222" stroke="#222" stroke-width="0.12" transform="translate(196.05 516.90) scale(0.9 1)" >210</text>
<text x="0.00" y="0.00" font-size="5.0" text-anchor="middle" font-weight="normal" font-family='"Liberation Sans", sans-serif' fill="#222" stroke="#222" stroke-width="0.12" transform="translate(211.50 510.30) scale(0.9 1)" >Nov</text>
<text x="0.00" y="0.00" font-size="5.0" text-anchor="middle" font-weight="normal" font-family='"Liberation Sans", sans-serif' fill="#222" stroke="#222" stroke-width="0.12" transform="translate(211.50 516.90) scale(0.9 1)" >28</text>
<text x="0.00" y="0.00" font-size="5.0" text-anchor="middle" font-weight="normal" font-family='"Liberation Sans", sans-serif' fill="#222" stroke="#222" stroke-width="0.12" transform="translate(226.95 510.30) scale(0.9 1)" >Dec</text>
<text x="0.00" y="0.00" font-size="5.0" text-anchor="middle" font-weight="normal" font-family='"Liberation Sans", sans-serif' fill="#222" stroke="#222" stroke-width="0.12" transform="translate(226.95 516.90) scale(0.9 1)" >123</text>
<text x="0.00" y="0.00" font-size="5.0" text-anchor="end" font-weight="normal" font-family='"Liberation Sans", sans-serif' fill="#222" stroke="#222" stroke-width="0.12" transform="translate(52.60 516.90) scale(0.8 1)" >N=</text>
<text x="142.60" y="524.00" font-size="5.95" text-anchor="middle" font-weight="normal" font-family='"Liberation Sans", sans-serif' fill="#222" stroke="#222" stroke-width="0.05" >Month 2004 - 2014</text>
<text x="30.60" y="439.00" font-size="5.4" text-anchor="middle" font-weight="bold" font-family='"Liberation Sans", sans-serif' fill="#222" stroke="#222" stroke-width="0.18" transform="rotate(-90 30.60 439.00)" textLength="54" lengthAdjust="spacingAndGlyphs">ln([Propane]/[Ethane])</text>
<text x="1.20" y="367.20" font-size="13" text-anchor="start" font-weight="normal" font-family='"Liberation Serif", serif' fill="#111" stroke="#111" stroke-width="0.18" >(c)</text>
<text x="65.20" y="485.80" font-size="4.4" text-anchor="start" font-weight="normal" font-family='"Liberation Sans", sans-serif' fill="#222" stroke="#222" stroke-width="0.08" >Mozart ln(C3/C2)</text>
<text x="285.00" y="170.40" font-size="6.1" text-anchor="end" font-weight="normal" font-family='"Liberation Sans", sans-serif' fill="#1a1a1a" stroke="#1a1a1a" stroke-width="0.18" >0.0</text>
<text x="285.00" y="139.88" font-size="6.1" text-anchor="end" font-weight="normal" font-family='"Liberation Sans", sans-serif' fill="#1a1a1a" stroke="#1a1a1a" stroke-width="0.18" >0.5</text>
<text x="285.00" y="109.36" font-size="6.1" text-anchor="end" font-weight="normal" font-family='"Liberation Sans", sans-serif' fill="#1a1a1a" stroke="#1a1a1a" stroke-width="0.18" >1.0</text>
<text x="285.00" y="78.84" font-size="6.1" text-anchor="end" font-weight="normal" font-family='"Liberation Sans", sans-serif' fill="#1a1a1a" stroke="#1a1a1a" stroke-width="0.18" >1.5</text>
<text x="285.00" y="48.32" font-size="6.1" text-anchor="end" font-weight="normal" font-family='"Liberation Sans", sans-serif' fill="#1a1a1a" stroke="#1a1a1a" stroke-width="0.18" >2.0</text>
<text x="285.00" y="17.80" font-size="6.1" text-anchor="end" font-weight="normal" font-family='"Liberation Sans", sans-serif' fill="#1a1a1a" stroke="#1a1a1a" stroke-width="0.18" >2.5</text>
<text x="289.50" y="176.80" font-size="6.1" text-anchor="middle" font-weight="normal" font-family='"Liberation Sans", sans-serif' fill="#1a1a1a" stroke="#1a1a1a" stroke-width="0.18" >120</text>
<text x="325.13" y="176.80" font-size="6.1" text-anchor="middle" font-weight="normal" font-family='"Liberation Sans", sans-serif' fill="#1a1a1a" stroke="#1a1a1a" stroke-width="0.18" >150</text>
<text x="360.77" y="176.80" font-size="6.1" text-anchor="middle" font-weight="normal" font-family='"Liberation Sans", sans-serif' fill="#1a1a1a" stroke="#1a1a1a" stroke-width="0.18" >180</text>
<text x="396.40" y="176.80" font-size="6.1" text-anchor="middle" font-weight="normal" font-family='"Liberation Sans", sans-serif' fill="#1a1a1a" stroke="#1a1a1a" stroke-width="0.18" >210</text>
<text x="432.03" y="176.80" font-size="6.1" text-anchor="middle" font-weight="normal" font-family='"Liberation Sans", sans-serif' fill="#1a1a1a" stroke="#1a1a1a" stroke-width="0.18" >240</text>
<text x="467.67" y="176.80" font-size="6.1" text-anchor="middle" font-weight="normal" font-family='"Liberation Sans", sans-serif' fill="#1a1a1a" stroke="#1a1a1a" stroke-width="0.18" >270</text>
<text x="503.30" y="176.80" font-size="6.1" text-anchor="middle" font-weight="normal" font-family='"Liberation Sans", sans-serif' fill="#1a1a1a" stroke="#1a1a1a" stroke-width="0.18" >300</text>
<text x="397.00" y="186.90" font-size="7.5" text-anchor="middle" font-weight="bold" font-family='"Liberation Sans", sans-serif' fill="#1a1a1a" stroke="#1a1a1a" stroke-width="0.18" >Day of Year 2006</text>
<text x="272.80" y="92.00" font-size="7.4" text-anchor="middle" font-weight="bold" font-family='"Liberation Sans", sans-serif' fill="#1a1a1a" stroke="#1a1a1a" stroke-width="0.18" transform="rotate(-90 272.80 92.00)" >Ethane (nmol mol<tspan font-size="4.4" dy="-2.2">-1</tspan><tspan dy="2.2"> )</tspan></text>
<text x="503.40" y="27.20" font-size="13" text-anchor="start" font-weight="normal" font-family='"Liberation Serif", serif' fill="#111" stroke="#111" stroke-width="0.18" >(d)</text>
<text x="375.40" y="27.10" font-size="4.5" text-anchor="start" font-weight="normal" font-family='"Liberation Sans", sans-serif' fill="#222" stroke="#222" stroke-width="0.08" >Pico Measurements 2006</text>
<text x="375.40" y="34.35" font-size="4.5" text-anchor="start" font-weight="normal" font-family='"Liberation Sans", sans-serif' fill="#222" stroke="#222" stroke-width="0.08" >MOZART 2006</text>
<text x="284.40" y="342.80" font-size="6.1" text-anchor="end" font-weight="normal" font-family='"Liberation Sans", sans-serif' fill="#1a1a1a" stroke="#1a1a1a" stroke-width="0.18" >0.0</text>
<text x="284.40" y="319.13" font-size="6.1" text-anchor="end" font-weight="normal" font-family='"Liberation Sans", sans-serif' fill="#1a1a1a" stroke="#1a1a1a" stroke-width="0.18" >0.1</text>
<text x="284.40" y="295.47" font-size="6.1" text-anchor="end" font-weight="normal" font-family='"Liberation Sans", sans-serif' fill="#1a1a1a" stroke="#1a1a1a" stroke-width="0.18" >0.2</text>
<text x="284.40" y="271.80" font-size="6.1" text-anchor="end" font-weight="normal" font-family='"Liberation Sans", sans-serif' fill="#1a1a1a" stroke="#1a1a1a" stroke-width="0.18" >0.3</text>
<text x="284.40" y="248.13" font-size="6.1" text-anchor="end" font-weight="normal" font-family='"Liberation Sans", sans-serif' fill="#1a1a1a" stroke="#1a1a1a" stroke-width="0.18" >0.4</text>
<text x="284.40" y="224.47" font-size="6.1" text-anchor="end" font-weight="normal" font-family='"Liberation Sans", sans-serif' fill="#1a1a1a" stroke="#1a1a1a" stroke-width="0.18" >0.5</text>
<text x="284.40" y="200.80" font-size="6.1" text-anchor="end" font-weight="normal" font-family='"Liberation Sans", sans-serif' fill="#1a1a1a" stroke="#1a1a1a" stroke-width="0.18" >0.6</text>
<text x="288.90" y="349.30" font-size="6.1" text-anchor="middle" font-weight="normal" font-family='"Liberation Sans", sans-serif' fill="#1a1a1a" stroke="#1a1a1a" stroke-width="0.18" >120</text>
<text x="324.63" y="349.30" font-size="6.1" text-anchor="middle" font-weight="normal" font-family='"Liberation Sans", sans-serif' fill="#1a1a1a" stroke="#1a1a1a" stroke-width="0.18" >150</text>
<text x="360.37" y="349.30" font-size="6.1" text-anchor="middle" font-weight="normal" font-family='"Liberation Sans", sans-serif' fill="#1a1a1a" stroke="#1a1a1a" stroke-width="0.18" >180</text>
<text x="396.10" y="349.30" font-size="6.1" text-anchor="middle" font-weight="normal" font-family='"Liberation Sans", sans-serif' fill="#1a1a1a" stroke="#1a1a1a" stroke-width="0.18" >210</text>
<text x="431.83" y="349.30" font-size="6.1" text-anchor="middle" font-weight="normal" font-family='"Liberation Sans", sans-serif' fill="#1a1a1a" stroke="#1a1a1a" stroke-width="0.18" >240</text>
<text x="467.57" y="349.30" font-size="6.1" text-anchor="middle" font-weight="normal" font-family='"Liberation Sans", sans-serif' fill="#1a1a1a" stroke="#1a1a1a" stroke-width="0.18" >270</text>
<text x="503.30" y="349.30" font-size="6.1" text-anchor="middle" font-weight="normal" font-family='"Liberation Sans", sans-serif' fill="#1a1a1a" stroke="#1a1a1a" stroke-width="0.18" >300</text>
<text x="397.00" y="358.80" font-size="7.5" text-anchor="middle" font-weight="bold" font-family='"Liberation Sans", sans-serif' fill="#1a1a1a" stroke="#1a1a1a" stroke-width="0.18" >Day of Year 2006</text>
<text x="272.80" y="269.00" font-size="7.4" text-anchor="middle" font-weight="bold" font-family='"Liberation Sans", sans-serif' fill="#1a1a1a" stroke="#1a1a1a" stroke-width="0.18" transform="rotate(-90 272.80 269.00)" >Propane (nmol mol<tspan font-size="4.4" dy="-2.2">-1</tspan><tspan dy="2.2"> )</tspan></text>
<text x="503.40" y="220.20" font-size="13" text-anchor="start" font-weight="normal" font-family='"Liberation Serif", serif' fill="#111" stroke="#111" stroke-width="0.18" >(e)</text>
<text x="370.00" y="210.70" font-size="4.5" text-anchor="start" font-weight="normal" font-family='"Liberation Sans", sans-serif' fill="#222" stroke="#222" stroke-width="0.08" >Pico Measurements 2006</text>
<text x="370.00" y="217.90" font-size="4.5" text-anchor="start" font-weight="normal" font-family='"Liberation Sans", sans-serif' fill="#222" stroke="#222" stroke-width="0.08" >MOZART 2006</text>
<text x="288.50" y="430.15" font-size="6.0" text-anchor="end" font-weight="normal" font-family='"Liberation Sans", sans-serif' fill="#1a1a1a" stroke="#1a1a1a" stroke-width="0.18" >0.0</text>
<text x="288.50" y="414.27" font-size="6.0" text-anchor="end" font-weight="normal" font-family='"Liberation Sans", sans-serif' fill="#1a1a1a" stroke="#1a1a1a" stroke-width="0.18" >1.0</text>
<text x="288.50" y="398.40" font-size="6.0" text-anchor="end" font-weight="normal" font-family='"Liberation Sans", sans-serif' fill="#1a1a1a" stroke="#1a1a1a" stroke-width="0.18" >2.0</text>
<text x="288.50" y="382.52" font-size="6.0" text-anchor="end" font-weight="normal" font-family='"Liberation Sans", sans-serif' fill="#1a1a1a" stroke="#1a1a1a" stroke-width="0.18" >3.0</text>
<text x="288.50" y="366.65" font-size="6.0" text-anchor="end" font-weight="normal" font-family='"Liberation Sans", sans-serif' fill="#1a1a1a" stroke="#1a1a1a" stroke-width="0.18" >4.0</text>
<text x="288.50" y="505.65" font-size="6.0" text-anchor="end" font-weight="normal" font-family='"Liberation Sans", sans-serif' fill="#1a1a1a" stroke="#1a1a1a" stroke-width="0.18" >0.0</text>
<text x="288.50" y="495.23" font-size="6.0" text-anchor="end" font-weight="normal" font-family='"Liberation Sans", sans-serif' fill="#1a1a1a" stroke="#1a1a1a" stroke-width="0.18" >0.5</text>
<text x="288.50" y="484.82" font-size="6.0" text-anchor="end" font-weight="normal" font-family='"Liberation Sans", sans-serif' fill="#1a1a1a" stroke="#1a1a1a" stroke-width="0.18" >1.0</text>
<text x="288.50" y="474.40" font-size="6.0" text-anchor="end" font-weight="normal" font-family='"Liberation Sans", sans-serif' fill="#1a1a1a" stroke="#1a1a1a" stroke-width="0.18" >1.5</text>
<text x="288.50" y="463.98" font-size="6.0" text-anchor="end" font-weight="normal" font-family='"Liberation Sans", sans-serif' fill="#1a1a1a" stroke="#1a1a1a" stroke-width="0.18" >2.0</text>
<text x="288.50" y="453.57" font-size="6.0" text-anchor="end" font-weight="normal" font-family='"Liberation Sans", sans-serif' fill="#1a1a1a" stroke="#1a1a1a" stroke-width="0.18" >2.5</text>
<text x="288.50" y="443.15" font-size="6.0" text-anchor="end" font-weight="normal" font-family='"Liberation Sans", sans-serif' fill="#1a1a1a" stroke="#1a1a1a" stroke-width="0.18" >3.0</text>
<text x="293.60" y="512.60" font-size="6.0" text-anchor="middle" font-weight="normal" font-family='"Liberation Sans", sans-serif' fill="#1a1a1a" stroke="#1a1a1a" stroke-width="0.18" >-5.0</text>
<text x="342.35" y="512.60" font-size="6.0" text-anchor="middle" font-weight="normal" font-family='"Liberation Sans", sans-serif' fill="#1a1a1a" stroke="#1a1a1a" stroke-width="0.18" >-4.0</text>
<text x="391.10" y="512.60" font-size="6.0" text-anchor="middle" font-weight="normal" font-family='"Liberation Sans", sans-serif' fill="#1a1a1a" stroke="#1a1a1a" stroke-width="0.18" >-3.0</text>
<text x="439.85" y="512.60" font-size="6.0" text-anchor="middle" font-weight="normal" font-family='"Liberation Sans", sans-serif' fill="#1a1a1a" stroke="#1a1a1a" stroke-width="0.18" >-2.0</text>
<text x="488.60" y="512.60" font-size="6.0" text-anchor="middle" font-weight="normal" font-family='"Liberation Sans", sans-serif' fill="#1a1a1a" stroke="#1a1a1a" stroke-width="0.18" >-1.0</text>
<text x="381.20" y="519.60" font-size="7.2" text-anchor="middle" font-weight="bold" font-family='"Liberation Sans", sans-serif' fill="#1a1a1a" stroke="#1a1a1a" stroke-width="0.18" >ln([Propane]/[Ethane])</text>
<text x="505.00" y="384.00" font-size="13" text-anchor="start" font-weight="normal" font-family='"Liberation Serif", serif' fill="#111" stroke="#111" stroke-width="0.18" >(f)</text>
<text x="272.60" y="396.40" font-size="5.35" text-anchor="middle" font-weight="bold" font-family='"Liberation Sans", sans-serif' fill="#1a1a1a" stroke="#1a1a1a" stroke-width="0.18" transform="rotate(-90 272.60 396.40)" >Propane<tspan font-size="3.0" dy="0.9">Measured</tspan><tspan dy="-0.9">/Propane</tspan><tspan font-size="3.0" dy="0.9">Modeled</tspan></text>
<text x="271.40" y="474.50" font-size="6.45" text-anchor="middle" font-weight="bold" font-family='"Liberation Sans", sans-serif' fill="#1a1a1a" stroke="#1a1a1a" stroke-width="0.18" transform="rotate(-90 271.40 474.50)" >Ethane<tspan font-size="3.3" dy="0.9">Measured</tspan><tspan dy="-0.9">/Ethane</tspan><tspan font-size="3.3" dy="0.9">Modeled</tspan></text>
</g>
</svg>
</body>
</html>
